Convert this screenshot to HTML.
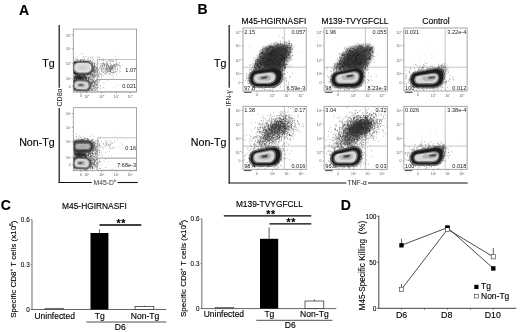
<!DOCTYPE html><html><head><meta charset="utf-8"><title>Figure</title>
<style>html,body{margin:0;padding:0;background:#fff;}svg{display:block;font-family:'Liberation Sans', Arial, sans-serif;}</style></head><body>
<svg width="520" height="332" viewBox="0 0 520 332">
<defs><filter id="b1" x="-20%" y="-20%" width="140%" height="140%"><feGaussianBlur stdDeviation="1"/></filter><filter id="b05" x="-20%" y="-20%" width="140%" height="140%"><feGaussianBlur stdDeviation="0.5"/></filter><filter id="b2" x="-30%" y="-30%" width="160%" height="160%"><feGaussianBlur stdDeviation="1.4"/></filter><filter id="b3" x="-30%" y="-30%" width="160%" height="160%"><feGaussianBlur stdDeviation="2.2"/></filter><filter id="b03"><feGaussianBlur stdDeviation="0.3"/></filter></defs>
<rect width="520" height="332" fill="#fff"/>
<text x="19" y="14.6" font-size="14" text-anchor="start" font-weight="bold" fill="#000" stroke="#000" stroke-width="0.13" >A</text>
<text x="197.5" y="14.4" font-size="14" text-anchor="start" font-weight="bold" fill="#000" stroke="#000" stroke-width="0.13" >B</text>
<text x="0.8" y="209.6" font-size="14" text-anchor="start" font-weight="bold" fill="#000" stroke="#000" stroke-width="0.13" >C</text>
<text x="340.8" y="210.2" font-size="14" text-anchor="start" font-weight="bold" fill="#000" stroke="#000" stroke-width="0.13" >D</text>
<rect x="73.3" y="29.1" width="63.3" height="63" fill="#fff" stroke="#909090" stroke-width="0.8"/>
<path d="M82.6 70.2h0.6M82.8 66.8h0.6M78.0 67.2h0.6M91.9 69.9h0.6M91.4 69.1h0.6M87.0 68.9h0.6M87.8 70.2h0.6M78.3 66.1h0.6M86.4 67.9h0.6M87.9 65.4h0.6M86.4 69.8h0.6M79.9 75.3h0.6M88.1 73.1h0.6M80.1 65.0h0.6M82.0 67.7h0.6M88.6 69.1h0.6M81.3 64.1h0.6M80.8 73.2h0.6M78.9 69.1h0.6M87.3 61.8h0.6M84.7 73.6h0.6M83.6 64.7h0.6M87.7 67.8h0.6M74.4 71.6h0.6M88.9 72.1h0.6M94.1 69.6h0.6M85.2 62.6h0.6M88.5 65.5h0.6M81.3 62.8h0.6M77.8 65.9h0.6M93.1 59.6h0.6M74.4 69.1h0.6M94.2 70.5h0.6M86.8 65.0h0.6M76.7 72.2h0.6M91.8 68.8h0.6M86.0 69.9h0.6M95.2 70.7h0.6M87.9 70.4h0.6M90.8 70.3h0.6M90.1 60.5h0.6M83.1 72.4h0.6M75.4 74.9h0.6M88.1 67.5h0.6M86.6 70.8h0.6M85.2 72.9h0.6M79.9 66.4h0.6M91.4 68.2h0.6M78.4 72.1h0.6M94.3 66.2h0.6M75.0 67.5h0.6M83.3 66.8h0.6M93.9 63.8h0.6M92.9 62.8h0.6M79.0 70.8h0.6M92.0 71.7h0.6M86.7 68.7h0.6M85.4 70.5h0.6M83.2 69.3h0.6M88.2 68.1h0.6M89.5 70.5h0.6M98.0 69.5h0.6M81.4 66.5h0.6M84.3 72.0h0.6M82.1 69.7h0.6M96.8 57.3h0.6M76.7 69.1h0.6M87.1 69.1h0.6M81.4 70.9h0.6M86.3 65.9h0.6M100.9 69.6h0.6M80.6 67.7h0.6M82.8 67.8h0.6M91.2 63.2h0.6M83.9 72.1h0.6M90.2 74.4h0.6M82.0 70.7h0.6M91.8 56.8h0.6M91.8 62.0h0.6M89.0 61.8h0.6M85.5 73.1h0.6M83.3 68.9h0.6M89.8 68.7h0.6M83.7 74.5h0.6M91.5 66.9h0.6M103.0 63.3h0.6M90.6 67.0h0.6M85.3 71.1h0.6M85.9 70.8h0.6M74.0 61.8h0.6M88.5 64.1h0.6M77.4 61.9h0.6M93.0 71.2h0.6M94.4 64.2h0.6M84.4 63.3h0.6M89.6 74.8h0.6M78.3 74.7h0.6M91.1 67.4h0.6M83.7 65.6h0.6M87.1 69.8h0.6M94.5 63.8h0.6M92.1 74.3h0.6M94.2 67.3h0.6M79.3 72.4h0.6M85.1 68.6h0.6M94.0 67.0h0.6M86.5 65.5h0.6M84.3 71.6h0.6M84.9 73.7h0.6M83.9 72.5h0.6M94.5 74.9h0.6M79.8 71.8h0.6M76.0 68.0h0.6M83.0 68.0h0.6M80.3 69.1h0.6M96.5 68.3h0.6M88.0 72.3h0.6M83.0 62.8h0.6M80.6 72.6h0.6M91.2 71.4h0.6M84.4 71.5h0.6M85.5 63.1h0.6M90.6 65.7h0.6M78.2 64.9h0.6M73.9 67.6h0.6M76.3 69.6h0.6M80.0 59.9h0.6M89.3 66.9h0.6M86.3 66.2h0.6M89.7 71.2h0.6M88.9 69.5h0.6M93.4 70.9h0.6M87.4 59.3h0.6M90.4 73.6h0.6M82.3 66.1h0.6M97.5 60.7h0.6M87.5 78.3h0.6M78.0 71.0h0.6M97.2 67.6h0.6M88.2 71.9h0.6M78.2 67.7h0.6M86.3 71.6h0.6M84.1 67.3h0.6M77.4 66.6h0.6M90.4 68.5h0.6M78.5 64.6h0.6M102.5 72.9h0.6M88.7 57.2h0.6M88.6 70.1h0.6M95.8 69.9h0.6M83.9 70.3h0.6M86.6 65.2h0.6M93.4 75.7h0.6M74.8 65.3h0.6M86.3 68.9h0.6M81.6 64.0h0.6M98.8 72.5h0.6M76.2 62.5h0.6M95.9 72.3h0.6M96.7 71.5h0.6M78.4 69.2h0.6M83.9 70.3h0.6M79.4 67.6h0.6M87.5 69.7h0.6M88.7 69.0h0.6M82.1 71.4h0.6M84.7 64.6h0.6M80.1 68.1h0.6M83.6 68.8h0.6M84.3 68.8h0.6M83.4 62.8h0.6M87.2 72.5h0.6M87.3 67.3h0.6M87.4 64.0h0.6M78.0 71.2h0.6M77.0 57.1h0.6M77.3 74.7h0.6M81.8 62.3h0.6M79.2 70.3h0.6M87.7 68.8h0.6M94.4 71.1h0.6M84.2 70.6h0.6M95.6 72.2h0.6M91.3 63.6h0.6M83.3 71.2h0.6M82.3 72.6h0.6M88.4 71.9h0.6M82.9 78.8h0.6M92.8 67.2h0.6M85.0 79.0h0.6M82.0 71.8h0.6M91.0 68.1h0.6M76.4 68.9h0.6M86.8 72.8h0.6M89.7 68.2h0.6M90.2 70.4h0.6M85.8 68.3h0.6M82.7 71.0h0.6M77.2 65.5h0.6M84.4 62.0h0.6M81.4 59.7h0.6M79.7 70.5h0.6M88.2 67.9h0.6M82.8 62.1h0.6M96.8 70.3h0.6M91.8 64.4h0.6M83.1 60.5h0.6M89.7 72.0h0.6M88.6 60.7h0.6M80.1 62.2h0.6M84.6 69.1h0.6M88.7 71.0h0.6M94.6 73.0h0.6M75.4 66.0h0.6M77.1 63.6h0.6M83.8 68.1h0.6M87.7 61.4h0.6M75.9 68.0h0.6M83.0 66.8h0.6M83.9 64.9h0.6M89.1 69.6h0.6M83.8 65.3h0.6M83.2 56.7h0.6M77.7 68.3h0.6M74.1 68.9h0.6M85.4 62.3h0.6M82.6 66.8h0.6M87.5 70.7h0.6M84.1 64.5h0.6M83.4 67.8h0.6M89.3 69.3h0.6M79.4 62.4h0.6M81.8 65.0h0.6M76.8 67.6h0.6M81.0 68.5h0.6M87.9 66.4h0.6M100.2 66.7h0.6M91.8 68.6h0.6M91.9 58.1h0.6M79.2 69.1h0.6M88.4 77.9h0.6M86.5 73.5h0.6M89.6 72.1h0.6M87.8 67.4h0.6M87.8 63.6h0.6M92.4 63.8h0.6M86.0 77.0h0.6M82.8 68.2h0.6M92.3 68.2h0.6M78.9 69.2h0.6M88.3 71.1h0.6M79.1 75.5h0.6M95.7 68.2h0.6M86.2 66.3h0.6M94.0 65.1h0.6M88.9 66.1h0.6M79.6 71.1h0.6M93.4 68.1h0.6M79.7 71.5h0.6M84.0 69.4h0.6M94.7 72.9h0.6M80.8 77.7h0.6M84.4 71.4h0.6M79.9 67.9h0.6M93.6 63.0h0.6M74.1 61.3h0.6M92.3 66.2h0.6M83.9 66.8h0.6M83.5 63.5h0.6M84.5 62.1h0.6M83.9 69.4h0.6M87.5 67.1h0.6M78.2 68.8h0.6M81.1 74.7h0.6M89.6 67.6h0.6M81.1 65.1h0.6M78.0 66.6h0.6M86.4 70.3h0.6M88.2 76.9h0.6M79.6 68.2h0.6M103.4 60.3h0.6M80.8 68.8h0.6M85.4 69.8h0.6M82.7 69.6h0.6M84.7 71.3h0.6M84.3 63.8h0.6M77.2 70.7h0.6M79.9 70.8h0.6M89.4 69.4h0.6M87.8 67.7h0.6M74.8 68.0h0.6M87.4 65.9h0.6M83.7 71.2h0.6M78.4 70.8h0.6M97.0 65.8h0.6M85.3 67.5h0.6M94.8 69.4h0.6M90.5 65.2h0.6M84.2 68.1h0.6M90.5 60.8h0.6M89.4 67.5h0.6M87.4 69.6h0.6M74.2 67.2h0.6M94.5 65.7h0.6M77.4 62.4h0.6M76.0 69.5h0.6M95.9 69.9h0.6M86.0 77.5h0.6M80.8 65.3h0.6M87.9 70.4h0.6M77.4 63.2h0.6M86.3 69.1h0.6M75.5 67.3h0.6M80.7 70.0h0.6M83.6 67.7h0.6M81.9 72.5h0.6M93.8 66.6h0.6M90.1 64.9h0.6M84.8 71.2h0.6M94.6 66.5h0.6M83.8 68.9h0.6M74.2 68.2h0.6M79.8 69.7h0.6M76.7 59.8h0.6M84.6 69.2h0.6M80.6 71.8h0.6M82.5 65.6h0.6M87.6 61.5h0.6M79.7 68.0h0.6M90.1 67.4h0.6M86.4 65.3h0.6M86.4 75.1h0.6M79.7 78.0h0.6M80.0 68.2h0.6M85.5 72.4h0.6M75.9 59.3h0.6M88.5 71.4h0.6M88.6 79.1h0.6M85.7 69.2h0.6M90.7 69.6h0.6M95.7 62.9h0.6M81.8 53.6h0.6M89.9 66.5h0.6M90.6 77.1h0.6M84.3 67.0h0.6M81.0 64.6h0.6M80.1 70.8h0.6M84.6 68.4h0.6M83.2 71.9h0.6M87.7 67.5h0.6M88.9 67.5h0.6M76.5 74.2h0.6M87.5 64.1h0.6M91.7 69.5h0.6M86.6 71.8h0.6M85.7 67.5h0.6M73.8 72.2h0.6M84.6 66.9h0.6M86.7 68.4h0.6M88.9 66.5h0.6M84.1 59.1h0.6M81.5 70.9h0.6M93.4 66.6h0.6M83.5 74.8h0.6M82.1 71.2h0.6M95.8 68.3h0.6M92.7 65.1h0.6M85.8 67.8h0.6M85.1 72.8h0.6M100.6 65.3h0.6M80.4 70.2h0.6M77.2 70.2h0.6M88.2 66.9h0.6M88.0 61.6h0.6M89.5 61.6h0.6M79.6 65.8h0.6M81.6 71.7h0.6M84.9 66.4h0.6M88.0 74.7h0.6M84.4 69.6h0.6M92.8 69.2h0.6M75.6 78.6h0.6M99.4 59.8h0.6M84.1 69.9h0.6M90.9 70.9h0.6M82.5 63.7h0.6M85.1 72.4h0.6M76.9 63.8h0.6M84.2 60.0h0.6M82.6 66.3h0.6M87.4 65.2h0.6M78.4 66.4h0.6M84.0 65.3h0.6M84.4 71.3h0.6M92.4 75.3h0.6M79.0 66.3h0.6M79.4 68.0h0.6M87.9 62.4h0.6M87.5 68.0h0.6M92.5 60.3h0.6M89.8 69.0h0.6M87.6 70.0h0.6M93.2 67.2h0.6M90.3 66.4h0.6M89.3 64.7h0.6M83.6 75.4h0.6M87.4 67.4h0.6M76.6 64.8h0.6M85.7 72.0h0.6M87.2 70.3h0.6M84.1 73.8h0.6M81.7 65.8h0.6M90.4 68.4h0.6M82.5 65.7h0.6M82.6 70.7h0.6M86.8 63.0h0.6M87.2 68.9h0.6M77.5 71.3h0.6M82.4 66.7h0.6M89.8 73.6h0.6M79.7 69.9h0.6M78.4 77.8h0.6M81.0 73.1h0.6M79.9 71.5h0.6M99.4 57.4h0.6M81.4 70.2h0.6M83.7 65.3h0.6M99.0 68.4h0.6M80.4 68.7h0.6M92.9 68.6h0.6M74.9 61.0h0.6M92.4 71.2h0.6M78.8 71.7h0.6M87.7 70.8h0.6M90.5 71.2h0.6M90.3 57.8h0.6M85.5 70.2h0.6M101.7 64.1h0.6M82.1 68.3h0.6M90.4 66.2h0.6M92.2 64.8h0.6M86.2 65.9h0.6M85.4 65.2h0.6M86.4 65.8h0.6M85.7 72.3h0.6M77.7 67.6h0.6M88.0 70.3h0.6M82.1 59.3h0.6M92.8 69.5h0.6M84.4 66.9h0.6M86.1 66.3h0.6M77.4 65.0h0.6M80.3 65.5h0.6M76.5 70.8h0.6M75.4 70.9h0.6M77.5 69.6h0.6M93.7 69.0h0.6M79.4 68.3h0.6M85.4 60.8h0.6M80.2 68.8h0.6M81.2 68.4h0.6M89.3 71.3h0.6M90.5 70.6h0.6M82.4 68.0h0.6M82.5 66.8h0.6M83.1 60.9h0.6M82.1 68.0h0.6M77.7 68.0h0.6M87.9 67.4h0.6M98.5 57.2h0.6M82.9 60.4h0.6M91.0 79.2h0.6M87.9 66.8h0.6M88.1 58.7h0.6M90.1 69.7h0.6M84.5 65.6h0.6M88.7 66.1h0.6M85.9 66.0h0.6M85.7 71.3h0.6M78.4 68.0h0.6M88.5 68.7h0.6M92.8 76.5h0.6M78.2 60.0h0.6M90.2 74.5h0.6M90.6 71.5h0.6M80.1 65.1h0.6M90.4 64.3h0.6M101.3 76.2h0.6M79.7 65.0h0.6M85.9 65.0h0.6M93.3 67.8h0.6M77.0 73.6h0.6M80.4 69.0h0.6M84.3 66.8h0.6M86.6 65.2h0.6M75.7 64.9h0.6M84.2 68.3h0.6M88.1 68.6h0.6M79.0 65.1h0.6M87.6 70.3h0.6M83.5 67.4h0.6M90.7 68.2h0.6M89.4 70.5h0.6M85.8 73.6h0.6M80.5 66.6h0.6M78.9 64.8h0.6M94.9 75.5h0.6M84.5 70.5h0.6M92.3 71.5h0.6M92.5 62.8h0.6M80.0 70.0h0.6M94.1 68.5h0.6M78.5 66.6h0.6M79.9 64.5h0.6M94.6 65.5h0.6M84.5 77.2h0.6M92.4 69.5h0.6M80.2 69.8h0.6M95.4 70.7h0.6M92.9 68.5h0.6M87.9 67.3h0.6M87.3 73.6h0.6M74.6 67.8h0.6M86.0 65.7h0.6M82.3 71.4h0.6M98.0 70.7h0.6M86.6 61.6h0.6M97.5 68.4h0.6M84.1 63.4h0.6M84.0 63.5h0.6M84.8 70.1h0.6M84.6 69.3h0.6M78.6 74.1h0.6M79.9 60.5h0.6M83.1 64.9h0.6M77.5 66.6h0.6M86.3 63.1h0.6M83.4 74.1h0.6M89.0 67.5h0.6M85.2 67.6h0.6M84.0 71.2h0.6M83.7 58.0h0.6M84.2 64.4h0.6M88.8 65.5h0.6M85.4 77.2h0.6M77.2 63.4h0.6M74.8 58.0h0.6M80.0 60.3h0.6M74.3 70.7h0.6M79.1 66.6h0.6M86.6 73.8h0.6M97.5 72.4h0.6M85.3 68.9h0.6M96.6 74.1h0.6M82.2 70.0h0.6M86.3 68.3h0.6M80.9 62.5h0.6M80.7 61.6h0.6M92.7 70.4h0.6M76.1 74.0h0.6M90.4 60.1h0.6M96.9 71.5h0.6M98.4 62.9h0.6M88.0 69.9h0.6M85.7 68.8h0.6M91.5 61.8h0.6M75.9 62.2h0.6M80.6 65.6h0.6M86.8 69.2h0.6M84.6 65.3h0.6M81.3 72.1h0.6M89.5 68.5h0.6M82.2 74.6h0.6M80.3 70.8h0.6M92.2 67.0h0.6M90.0 63.4h0.6M91.2 68.9h0.6M78.3 73.5h0.6M79.7 67.4h0.6M86.3 66.7h0.6M86.1 65.8h0.6M88.9 68.1h0.6M85.8 56.5h0.6M92.2 68.2h0.6M87.5 72.6h0.6M77.0 74.6h0.6M83.3 78.2h0.6M83.4 71.0h0.6M81.9 63.4h0.6M91.8 71.9h0.6M94.8 71.7h0.6M80.5 61.1h0.6M79.9 65.3h0.6M78.8 70.5h0.6M86.6 67.0h0.6M85.5 67.5h0.6M85.8 71.3h0.6M90.9 65.2h0.6M74.1 74.1h0.6M85.1 72.7h0.6M84.5 62.0h0.6M80.8 71.1h0.6M91.7 74.8h0.6M78.5 62.2h0.6M87.9 72.0h0.6M85.7 62.6h0.6M89.7 71.4h0.6M88.1 66.1h0.6M86.4 71.4h0.6M80.6 60.4h0.6M86.6 70.1h0.6M84.4 71.8h0.6M80.4 67.8h0.6M82.3 70.5h0.6M95.2 67.0h0.6M98.3 74.5h0.6M89.7 70.6h0.6M96.4 67.3h0.6M83.6 63.6h0.6M87.6 73.7h0.6M88.0 69.9h0.6M83.0 68.8h0.6M74.7 72.5h0.6M81.6 63.5h0.6M79.2 64.6h0.6M90.2 72.5h0.6M75.1 72.0h0.6M90.4 65.7h0.6M74.2 65.0h0.6M80.0 69.5h0.6M81.9 59.6h0.6M85.9 61.7h0.6M90.5 63.0h0.6M79.6 64.5h0.6M80.7 73.6h0.6M90.1 70.6h0.6M86.5 61.6h0.6M80.8 65.8h0.6M77.7 70.2h0.6M79.3 65.1h0.6M77.2 59.5h0.6M88.4 73.7h0.6M85.5 64.0h0.6M92.6 69.3h0.6M90.7 74.3h0.6M92.0 66.2h0.6M91.5 71.4h0.6M73.9 66.4h0.6M74.7 67.6h0.6M88.3 63.6h0.6M86.9 74.3h0.6M75.3 72.6h0.6M98.5 76.5h0.6M82.9 69.2h0.6M83.3 72.3h0.6M91.4 68.5h0.6M75.1 71.2h0.6" stroke="#333" stroke-width="0.6" fill="none" opacity="1.0"/>
<path d="M80.0 87.6h0.6M84.9 91.3h0.6M90.9 83.6h0.6M79.5 86.9h0.6M91.2 90.0h0.6M86.7 80.4h0.6M74.6 86.2h0.6M77.3 89.5h0.6M88.4 79.1h0.6M77.6 85.9h0.6M79.8 84.7h0.6M86.3 82.3h0.6M86.3 82.9h0.6M79.4 87.3h0.6M79.3 86.4h0.6M94.0 85.4h0.6M82.2 88.0h0.6M80.7 89.3h0.6M74.4 87.6h0.6M79.7 82.3h0.6M95.2 82.2h0.6M95.1 87.7h0.6M93.0 81.7h0.6M91.3 90.7h0.6M82.4 84.8h0.6M99.9 86.0h0.6M80.3 83.0h0.6M86.2 86.5h0.6M80.9 87.1h0.6M93.1 81.6h0.6M73.9 81.2h0.6M76.1 78.5h0.6M86.2 78.4h0.6M86.5 90.7h0.6M78.1 84.3h0.6M83.5 87.3h0.6M80.8 85.4h0.6M79.4 85.7h0.6M75.2 85.5h0.6M96.2 85.6h0.6M74.6 86.3h0.6M76.5 79.2h0.6M78.1 88.0h0.6M85.8 84.9h0.6M76.8 81.3h0.6M92.3 86.2h0.6M76.7 77.5h0.6M75.3 85.0h0.6M84.6 84.7h0.6M81.3 80.2h0.6M76.0 91.5h0.6M78.0 88.4h0.6M84.9 89.1h0.6M75.5 87.5h0.6M85.8 82.6h0.6M86.4 82.0h0.6M77.7 85.2h0.6M76.3 79.9h0.6M80.3 88.1h0.6M80.4 90.0h0.6M75.3 80.4h0.6M93.7 86.8h0.6M89.6 82.2h0.6M88.6 86.3h0.6M87.6 85.4h0.6M91.4 82.9h0.6M76.6 79.8h0.6M91.0 82.6h0.6M76.1 81.8h0.6M80.1 80.6h0.6M81.2 83.0h0.6M79.4 81.7h0.6M83.4 83.6h0.6M83.9 86.2h0.6M85.5 77.2h0.6M79.5 82.4h0.6M88.4 79.5h0.6M78.3 84.2h0.6M80.9 89.0h0.6M80.1 88.9h0.6M91.4 86.9h0.6M86.5 85.8h0.6M86.4 80.8h0.6M89.6 83.3h0.6M89.9 85.6h0.6M90.8 84.8h0.6M80.5 86.2h0.6M80.3 83.3h0.6M83.8 85.8h0.6M93.5 85.5h0.6M94.8 89.2h0.6M84.0 85.8h0.6M82.2 82.6h0.6M82.7 82.9h0.6M94.3 87.3h0.6M80.1 78.2h0.6M82.8 83.8h0.6M75.8 81.1h0.6M82.9 84.8h0.6M93.0 85.8h0.6M84.3 83.9h0.6M79.0 90.8h0.6M80.8 85.4h0.6M77.2 88.9h0.6M90.6 90.5h0.6M76.8 89.3h0.6M78.3 82.5h0.6M74.2 89.6h0.6M94.4 83.1h0.6M78.0 84.0h0.6M100.2 89.0h0.6M79.5 78.7h0.6M78.6 89.7h0.6M95.9 84.3h0.6M78.4 83.4h0.6M75.8 89.2h0.6M85.1 82.5h0.6M88.5 85.3h0.6M75.2 87.6h0.6M88.9 78.2h0.6M95.6 87.1h0.6M88.3 78.4h0.6M78.3 84.0h0.6M90.5 79.9h0.6M77.1 77.8h0.6M81.5 86.6h0.6M86.6 91.2h0.6M87.7 84.2h0.6M75.1 81.8h0.6M78.6 85.8h0.6M82.8 91.5h0.6M85.1 81.3h0.6M93.7 88.8h0.6M83.8 82.6h0.6M89.3 82.3h0.6M74.2 86.0h0.6M84.8 87.5h0.6M87.6 90.5h0.6M77.4 88.9h0.6M76.4 87.9h0.6M84.4 86.2h0.6M89.7 85.2h0.6M90.7 88.5h0.6M84.1 83.2h0.6M78.0 83.3h0.6M81.8 85.2h0.6M103.4 87.7h0.6M88.4 82.1h0.6M78.3 84.1h0.6M84.5 81.5h0.6M94.1 83.2h0.6M90.5 76.7h0.6M83.1 86.3h0.6M84.5 87.5h0.6M85.1 85.9h0.6M85.2 84.6h0.6M77.6 83.1h0.6M82.8 90.1h0.6M79.9 82.1h0.6M79.3 86.0h0.6M103.7 82.9h0.6M83.5 86.3h0.6M82.9 88.7h0.6M95.2 80.7h0.6M84.2 84.3h0.6M85.6 79.6h0.6M86.7 86.0h0.6M83.7 76.5h0.6M80.6 82.5h0.6M87.9 87.3h0.6M83.0 87.2h0.6M79.0 85.6h0.6M83.4 87.4h0.6M82.7 84.8h0.6M82.2 82.9h0.6M98.3 87.2h0.6M92.7 79.5h0.6M87.9 88.4h0.6M96.0 90.2h0.6M88.4 80.9h0.6M77.2 86.3h0.6M86.6 81.5h0.6M80.5 83.8h0.6M83.6 86.5h0.6M81.2 80.7h0.6M91.6 91.2h0.6M82.4 89.1h0.6M86.2 87.7h0.6M86.4 82.5h0.6M87.1 89.0h0.6M96.7 88.0h0.6M80.8 83.1h0.6M77.6 85.7h0.6M82.9 87.8h0.6M98.6 85.2h0.6M87.7 87.1h0.6M85.0 84.5h0.6M82.3 82.2h0.6M84.4 85.2h0.6M85.3 82.1h0.6M83.4 85.5h0.6M87.3 81.4h0.6M86.0 88.9h0.6M87.2 83.9h0.6M79.8 84.4h0.6M88.1 91.0h0.6M82.1 82.9h0.6M85.7 86.1h0.6M77.0 82.6h0.6M82.5 87.8h0.6M75.0 81.5h0.6M86.5 80.8h0.6M83.9 86.6h0.6M82.4 81.5h0.6M82.7 84.1h0.6M85.4 82.2h0.6M90.6 79.1h0.6M82.0 85.3h0.6M89.7 83.0h0.6M86.9 83.2h0.6M80.4 86.9h0.6M76.8 88.9h0.6M91.4 85.4h0.6M75.4 86.8h0.6M91.0 89.3h0.6M88.7 78.5h0.6M78.5 90.6h0.6M74.8 89.5h0.6M96.0 88.1h0.6M90.8 84.1h0.6M74.8 84.9h0.6M81.8 85.1h0.6M87.9 84.8h0.6M84.5 86.9h0.6M86.2 85.6h0.6M81.7 83.0h0.6M92.3 85.9h0.6M75.8 83.2h0.6M82.2 83.7h0.6M90.5 81.0h0.6M86.5 85.8h0.6M75.1 85.5h0.6M82.5 87.2h0.6M80.1 86.4h0.6M88.5 89.2h0.6M83.1 83.1h0.6M90.5 77.6h0.6M77.7 87.8h0.6M87.6 81.5h0.6M84.2 82.0h0.6M83.5 88.6h0.6M88.2 77.6h0.6M88.4 78.7h0.6M90.9 86.8h0.6M98.5 83.0h0.6M83.2 89.2h0.6M78.8 82.7h0.6M80.6 85.0h0.6M75.8 87.1h0.6M86.8 85.6h0.6M94.7 84.1h0.6M92.0 83.3h0.6M88.3 78.1h0.6M84.5 84.7h0.6M79.8 83.0h0.6M80.8 82.6h0.6M79.4 83.4h0.6M76.0 84.8h0.6M88.5 84.4h0.6M79.8 90.3h0.6M89.8 88.7h0.6M91.0 84.1h0.6M82.3 89.4h0.6M79.4 84.9h0.6M85.7 86.7h0.6M81.3 88.9h0.6M81.9 88.0h0.6M90.4 87.7h0.6M88.1 81.0h0.6M74.2 83.0h0.6M86.4 90.9h0.6M74.8 86.4h0.6M77.3 82.6h0.6M81.3 87.9h0.6M84.6 89.7h0.6M76.4 88.6h0.6M89.5 85.6h0.6M86.4 83.2h0.6M75.7 83.8h0.6M79.9 91.4h0.6M84.5 86.5h0.6M88.2 82.4h0.6M89.4 86.7h0.6M86.9 87.0h0.6M93.9 83.8h0.6M86.6 88.1h0.6M77.0 89.7h0.6M86.7 81.3h0.6M82.4 79.2h0.6M83.6 81.1h0.6M85.5 79.6h0.6M86.2 84.3h0.6M83.6 85.1h0.6M84.0 80.4h0.6M76.8 83.6h0.6M86.1 78.0h0.6M78.0 83.0h0.6M76.0 86.5h0.6M82.2 82.3h0.6M76.5 88.3h0.6M78.7 87.5h0.6M86.2 78.3h0.6M75.8 85.3h0.6M85.5 88.2h0.6M88.6 89.1h0.6M80.6 84.5h0.6M88.4 83.7h0.6M90.3 79.4h0.6M87.6 84.7h0.6M85.3 85.4h0.6M75.8 83.6h0.6M93.4 82.2h0.6M75.0 84.8h0.6M80.5 81.9h0.6M77.4 89.2h0.6M79.5 81.3h0.6M88.5 87.4h0.6M76.1 88.1h0.6M90.8 84.4h0.6M74.3 87.2h0.6M89.4 85.2h0.6M86.0 88.1h0.6M95.8 84.4h0.6M79.9 85.2h0.6M91.4 81.8h0.6M92.0 75.1h0.6M88.6 82.8h0.6M86.3 87.8h0.6M75.1 85.0h0.6M84.8 87.5h0.6M76.8 81.6h0.6M81.8 84.5h0.6M79.5 90.6h0.6M88.9 85.4h0.6M88.1 81.2h0.6M80.9 83.2h0.6M74.5 85.4h0.6M82.2 90.6h0.6M76.9 83.6h0.6M86.0 86.8h0.6M83.3 83.5h0.6M86.5 86.6h0.6M73.8 80.9h0.6M84.1 85.5h0.6M83.9 82.1h0.6M81.8 81.9h0.6M85.7 87.8h0.6M95.1 90.0h0.6M77.7 83.6h0.6M76.8 86.4h0.6M96.6 87.9h0.6M74.4 87.2h0.6M83.2 86.4h0.6M95.3 82.2h0.6M85.5 82.4h0.6M83.5 89.0h0.6M82.2 82.7h0.6M83.3 87.6h0.6M80.4 87.1h0.6M88.7 84.8h0.6M80.0 84.6h0.6M76.6 84.5h0.6M81.1 86.1h0.6M92.2 90.1h0.6M80.1 87.5h0.6M85.2 88.1h0.6M83.3 86.3h0.6M80.0 82.4h0.6M89.1 90.1h0.6M87.7 86.9h0.6M85.0 83.6h0.6M84.5 83.2h0.6M76.6 90.0h0.6M78.3 85.2h0.6M79.7 85.9h0.6M81.7 82.5h0.6M90.5 82.4h0.6M79.7 87.4h0.6M79.5 83.7h0.6M85.6 83.9h0.6M74.7 84.9h0.6M75.7 88.9h0.6M77.8 84.0h0.6M80.9 86.3h0.6M78.8 90.2h0.6M89.9 88.3h0.6M78.0 88.6h0.6M82.4 86.6h0.6M81.3 87.8h0.6M90.7 89.5h0.6M81.8 89.0h0.6M93.0 81.8h0.6M93.2 80.4h0.6M86.8 87.5h0.6M93.2 86.3h0.6M79.9 82.4h0.6M74.6 88.1h0.6M81.5 82.6h0.6M86.8 82.5h0.6M80.2 83.6h0.6M94.4 90.7h0.6M82.1 79.5h0.6M85.0 85.6h0.6M85.5 87.4h0.6M81.0 88.7h0.6M88.8 86.1h0.6M80.4 83.5h0.6M87.9 81.2h0.6M82.1 82.5h0.6M83.0 85.4h0.6M89.1 79.8h0.6M82.7 86.4h0.6M88.8 81.3h0.6M88.0 86.1h0.6M92.4 89.5h0.6M83.1 83.7h0.6M80.8 81.8h0.6M83.0 78.3h0.6M82.6 86.9h0.6M89.9 84.0h0.6M92.6 82.9h0.6M82.2 78.4h0.6M78.0 82.4h0.6M93.1 87.2h0.6M75.8 87.2h0.6M86.3 84.5h0.6M83.3 84.2h0.6M79.5 78.9h0.6M82.5 89.9h0.6M92.7 84.3h0.6M78.2 84.5h0.6M89.1 86.6h0.6M79.3 86.6h0.6M81.8 87.2h0.6M80.4 80.0h0.6M83.5 88.0h0.6M75.8 84.9h0.6M89.0 83.9h0.6M88.6 89.0h0.6M76.9 91.2h0.6M88.0 90.1h0.6M77.0 82.9h0.6M84.5 78.4h0.6M87.4 87.3h0.6M80.2 87.2h0.6M88.3 86.4h0.6M86.6 90.7h0.6M80.0 85.9h0.6M79.7 89.0h0.6M80.5 87.0h0.6M84.1 85.5h0.6M94.5 85.0h0.6M92.5 88.3h0.6M91.8 84.7h0.6M89.3 88.0h0.6M79.1 86.3h0.6M82.3 85.2h0.6M91.7 82.7h0.6M80.2 83.0h0.6M83.2 87.3h0.6M94.7 86.4h0.6M86.2 82.7h0.6M87.0 90.2h0.6M91.9 78.3h0.6M89.0 91.0h0.6M88.6 80.0h0.6M81.1 87.4h0.6M85.9 82.4h0.6M77.3 88.7h0.6M74.4 90.4h0.6M83.3 86.4h0.6M74.4 83.2h0.6M87.7 80.1h0.6M96.7 80.3h0.6" stroke="#333" stroke-width="0.6" fill="none" opacity="1.0"/>
<path d="M74.0 77.5h0.6M81.4 78.5h0.6M77.7 77.1h0.6M78.3 76.5h0.6M80.4 77.6h0.6M76.6 77.8h0.6M79.2 77.3h0.6M84.1 74.8h0.6M80.4 75.8h0.6M77.9 79.7h0.6M74.6 77.2h0.6M76.7 78.9h0.6M75.1 74.8h0.6M81.5 76.9h0.6M77.9 79.1h0.6M75.5 76.8h0.6M79.9 78.0h0.6M77.1 79.0h0.6M89.0 76.8h0.6M87.4 74.2h0.6M85.4 76.9h0.6M79.9 76.9h0.6M76.5 75.4h0.6M77.6 79.4h0.6M84.2 76.9h0.6M77.0 76.3h0.6M74.1 80.2h0.6M82.2 77.6h0.6M77.2 75.8h0.6M85.0 78.6h0.6M75.2 78.9h0.6M74.5 78.4h0.6M75.1 76.8h0.6M81.4 78.1h0.6M83.7 76.1h0.6M86.1 79.5h0.6M79.3 78.1h0.6M75.9 77.2h0.6M80.2 79.5h0.6M83.4 78.7h0.6M77.7 77.1h0.6M77.8 77.7h0.6M79.4 76.6h0.6M86.5 77.2h0.6M86.1 79.2h0.6M77.2 78.0h0.6M84.9 76.9h0.6M79.7 76.5h0.6M79.6 76.9h0.6M79.7 78.9h0.6M85.3 77.6h0.6M80.2 78.7h0.6M78.0 75.8h0.6M84.1 76.0h0.6M83.3 75.9h0.6M87.2 75.8h0.6M83.0 79.7h0.6M75.1 79.7h0.6M75.7 74.7h0.6M82.4 78.5h0.6M78.4 73.5h0.6M79.1 76.9h0.6M77.7 77.0h0.6M87.1 79.8h0.6M77.7 76.3h0.6M81.0 79.0h0.6M82.4 75.6h0.6M80.0 77.6h0.6M85.5 79.2h0.6M81.6 79.3h0.6M77.6 79.8h0.6M77.5 78.0h0.6M83.3 76.0h0.6M76.3 74.7h0.6M80.0 77.3h0.6M77.9 78.2h0.6M79.7 77.0h0.6M82.7 80.1h0.6M77.4 76.0h0.6M76.7 77.5h0.6M81.8 76.1h0.6M83.6 75.8h0.6M82.9 78.1h0.6M81.3 80.7h0.6M78.2 77.1h0.6M81.4 78.7h0.6M76.1 78.4h0.6M85.2 77.5h0.6M78.8 77.7h0.6M81.7 77.7h0.6M77.6 76.3h0.6M78.5 79.3h0.6M78.9 79.5h0.6M80.5 77.4h0.6M84.7 75.4h0.6M75.0 75.7h0.6M76.9 78.4h0.6M81.9 74.3h0.6M85.6 76.5h0.6M76.8 80.0h0.6M78.9 75.5h0.6M76.5 76.3h0.6M74.9 76.9h0.6M83.1 77.9h0.6M75.0 77.6h0.6M79.4 78.6h0.6M77.9 78.1h0.6M88.4 77.5h0.6M74.6 77.9h0.6M75.8 76.8h0.6M80.1 77.9h0.6M78.1 78.7h0.6M78.5 75.4h0.6M83.1 76.8h0.6M84.5 76.4h0.6M81.8 77.9h0.6M74.5 79.6h0.6M84.0 78.2h0.6M82.2 76.6h0.6M79.3 77.7h0.6M81.1 78.5h0.6M78.4 76.3h0.6M76.9 78.0h0.6M77.5 76.6h0.6M78.1 73.3h0.6M77.8 77.0h0.6M82.7 74.4h0.6M78.0 78.1h0.6M81.4 79.2h0.6M83.9 75.8h0.6M82.1 76.9h0.6M75.8 79.8h0.6M76.6 76.1h0.6M77.5 76.1h0.6M83.7 78.0h0.6M85.4 78.0h0.6M76.6 79.0h0.6M76.5 76.7h0.6M78.6 77.5h0.6M84.5 76.5h0.6M80.8 77.4h0.6M73.9 75.7h0.6M78.3 78.0h0.6M80.7 78.1h0.6M79.5 76.7h0.6M81.1 75.9h0.6M76.1 76.5h0.6M79.1 76.2h0.6M77.5 74.8h0.6M79.9 76.0h0.6M81.1 73.0h0.6M75.8 77.8h0.6M79.7 77.6h0.6M79.9 75.9h0.6M82.5 77.3h0.6M79.4 76.7h0.6M81.7 77.6h0.6M84.2 78.1h0.6M76.6 77.1h0.6M83.3 76.8h0.6M81.0 78.2h0.6M78.5 73.8h0.6M79.9 77.7h0.6M79.9 76.2h0.6M84.6 77.2h0.6M76.6 76.3h0.6M80.9 75.7h0.6M74.9 80.5h0.6M85.0 79.0h0.6M85.2 78.3h0.6M84.7 78.2h0.6M85.2 76.6h0.6M79.9 78.6h0.6M78.9 79.1h0.6M79.7 78.5h0.6M79.7 75.1h0.6M75.0 82.3h0.6M80.5 79.4h0.6M84.3 80.1h0.6M81.7 76.5h0.6M79.4 74.4h0.6M78.5 78.8h0.6M82.9 79.5h0.6M75.3 76.4h0.6M81.6 80.6h0.6M74.3 79.5h0.6M81.2 76.6h0.6M88.9 73.5h0.6M79.0 77.7h0.6M88.6 80.2h0.6M89.2 77.6h0.6M83.6 79.5h0.6M81.5 78.0h0.6M78.5 76.8h0.6M73.9 80.4h0.6M77.3 74.2h0.6M80.5 77.3h0.6M80.1 80.2h0.6M78.8 77.0h0.6M76.0 77.4h0.6M77.4 77.7h0.6M93.0 78.0h0.6M75.6 80.4h0.6M83.1 78.7h0.6M82.4 78.7h0.6M82.3 79.6h0.6M83.7 79.5h0.6M77.1 77.4h0.6M76.1 78.9h0.6M82.9 76.7h0.6M81.9 81.5h0.6M84.7 75.7h0.6M78.9 78.4h0.6M79.1 78.0h0.6M84.5 77.9h0.6M74.5 78.5h0.6M78.9 77.6h0.6M76.8 75.2h0.6M73.8 76.8h0.6M74.6 73.2h0.6M84.3 75.6h0.6M76.1 78.2h0.6M75.9 78.4h0.6M77.2 77.9h0.6M79.8 77.4h0.6M79.1 79.6h0.6M76.9 78.2h0.6M80.0 78.2h0.6M83.6 75.1h0.6M80.5 77.1h0.6M77.9 76.1h0.6M75.9 75.8h0.6M74.5 81.3h0.6M86.8 77.4h0.6M82.6 75.9h0.6M79.9 79.6h0.6M79.1 75.8h0.6M78.2 75.8h0.6M77.5 76.1h0.6M75.4 75.9h0.6M80.3 79.6h0.6M78.4 80.9h0.6M74.2 77.1h0.6M79.7 78.3h0.6M84.3 76.5h0.6M73.9 77.1h0.6M80.6 76.3h0.6M83.2 80.0h0.6M83.8 74.4h0.6M80.2 77.0h0.6M80.3 76.7h0.6M81.2 78.4h0.6M82.7 78.3h0.6M81.1 75.6h0.6M77.5 77.6h0.6M77.6 75.8h0.6M79.4 76.5h0.6M77.5 76.0h0.6M76.0 77.2h0.6M76.5 78.5h0.6M78.7 77.6h0.6M81.1 79.4h0.6M81.9 77.8h0.6M78.6 76.1h0.6M77.8 78.5h0.6M80.3 76.8h0.6M80.7 79.0h0.6M80.9 75.3h0.6M78.4 77.7h0.6M75.3 77.9h0.6M78.4 76.1h0.6M73.9 78.7h0.6M80.9 76.0h0.6M74.9 78.8h0.6M81.9 76.9h0.6M86.3 76.9h0.6M74.7 79.1h0.6M78.5 77.9h0.6M79.5 75.8h0.6M74.1 77.1h0.6M85.5 75.8h0.6M85.3 77.7h0.6M74.4 77.8h0.6M81.8 76.0h0.6M74.4 78.1h0.6M75.8 75.1h0.6M78.2 77.7h0.6M76.9 75.6h0.6M80.2 74.7h0.6M81.6 78.2h0.6M86.6 78.8h0.6M80.9 77.8h0.6M79.4 75.3h0.6M85.7 78.2h0.6M78.0 75.6h0.6M85.8 78.2h0.6M74.1 78.4h0.6M87.6 77.4h0.6M81.0 76.8h0.6M76.6 79.1h0.6M92.8 77.6h0.6M78.8 78.6h0.6M78.0 78.5h0.6M82.9 75.8h0.6M74.6 77.3h0.6M82.9 77.8h0.6M84.7 75.3h0.6M81.5 76.4h0.6M79.7 77.9h0.6M75.1 77.0h0.6M74.2 77.8h0.6M75.6 76.6h0.6M80.3 76.4h0.6M84.3 76.4h0.6M83.0 77.8h0.6M74.8 77.1h0.6" stroke="#222" stroke-width="0.6" fill="none" opacity="1.0"/>
<path d="M90.0 75.4h0.5M91.9 89.2h0.5M91.4 87.6h0.5M94.3 69.5h0.5M85.2 82.0h0.5M86.2 82.2h0.5M96.2 80.2h0.5M92.1 76.1h0.5M93.7 75.8h0.5M91.0 75.4h0.5M96.7 73.8h0.5M94.1 70.5h0.5M90.5 69.0h0.5M92.1 82.0h0.5M93.8 74.6h0.5M94.8 75.5h0.5M94.0 79.4h0.5M94.6 62.1h0.5M88.5 82.6h0.5M92.0 74.2h0.5M97.7 81.2h0.5M99.0 80.9h0.5M92.1 82.3h0.5M90.2 74.9h0.5M91.0 76.3h0.5M95.4 74.7h0.5M93.9 74.6h0.5M95.7 60.4h0.5M92.1 78.8h0.5M89.3 84.1h0.5M93.5 85.8h0.5M96.0 81.7h0.5M92.3 70.9h0.5M92.1 74.8h0.5M93.6 74.8h0.5M102.8 67.7h0.5M96.7 74.7h0.5M92.0 83.5h0.5M92.8 70.1h0.5M94.2 76.5h0.5M86.0 78.9h0.5M89.3 73.0h0.5M94.4 79.6h0.5M91.8 91.3h0.5M94.2 73.8h0.5M93.6 76.9h0.5M85.6 67.8h0.5M88.2 90.7h0.5M92.2 76.0h0.5M90.9 83.9h0.5M92.9 88.4h0.5M95.4 88.0h0.5M92.4 80.1h0.5M91.4 76.6h0.5M87.1 74.1h0.5M89.7 73.6h0.5M96.8 79.3h0.5M96.8 83.1h0.5M95.8 84.0h0.5M90.8 82.7h0.5M91.7 74.4h0.5M96.7 91.3h0.5M89.6 88.6h0.5M95.5 72.4h0.5M93.7 80.0h0.5M94.0 75.5h0.5M88.6 77.9h0.5M95.6 82.6h0.5M95.0 84.6h0.5M89.6 77.4h0.5M93.9 84.0h0.5M93.3 80.9h0.5M93.2 90.8h0.5M85.6 77.5h0.5M100.9 79.2h0.5M86.8 78.5h0.5M88.1 73.4h0.5M93.5 88.4h0.5M94.3 81.9h0.5M96.1 79.0h0.5M90.0 77.1h0.5M93.9 76.0h0.5M90.6 75.5h0.5M87.9 71.3h0.5M92.5 75.4h0.5M92.9 86.5h0.5M93.8 77.5h0.5M89.0 71.0h0.5M94.0 72.2h0.5M94.2 71.0h0.5M93.2 77.2h0.5M96.1 75.2h0.5M91.6 79.2h0.5M93.0 88.3h0.5M92.0 74.3h0.5M91.8 80.7h0.5M93.6 82.0h0.5M98.8 77.5h0.5M88.8 78.7h0.5M94.2 63.7h0.5M92.8 68.5h0.5M94.3 86.3h0.5M96.2 68.3h0.5M97.3 83.4h0.5M91.6 80.8h0.5M97.8 75.6h0.5M92.7 74.2h0.5M96.6 64.2h0.5M97.4 71.6h0.5M95.8 67.5h0.5M89.7 74.0h0.5M95.5 67.6h0.5M94.8 73.7h0.5M96.9 75.8h0.5M94.4 76.6h0.5M98.7 75.4h0.5M92.7 90.1h0.5M93.1 82.0h0.5M90.4 78.9h0.5M85.4 78.4h0.5M90.7 68.3h0.5M88.2 84.8h0.5M94.2 68.2h0.5M98.7 73.3h0.5M91.6 79.2h0.5M89.1 67.6h0.5M90.4 85.1h0.5M95.9 67.8h0.5M96.7 77.9h0.5M94.4 78.0h0.5M94.2 71.4h0.5M89.8 73.3h0.5M91.6 81.6h0.5M88.8 87.7h0.5M90.7 74.0h0.5M95.1 80.4h0.5M91.7 71.0h0.5M89.5 67.7h0.5M96.5 84.5h0.5M98.9 80.8h0.5M93.9 82.4h0.5M95.9 76.1h0.5M94.0 91.2h0.5M87.3 68.9h0.5M89.6 82.4h0.5M96.7 75.6h0.5M95.0 77.4h0.5M93.8 74.3h0.5M92.7 77.7h0.5M86.9 81.0h0.5M92.8 83.8h0.5M96.3 82.6h0.5M95.4 71.8h0.5M87.2 88.1h0.5M96.8 71.7h0.5M97.0 81.9h0.5M84.8 83.3h0.5M89.6 85.0h0.5M90.6 73.0h0.5M87.7 76.3h0.5M96.1 73.5h0.5M86.7 91.1h0.5M98.8 82.0h0.5M91.0 70.1h0.5M87.4 81.2h0.5M97.1 71.1h0.5M92.8 76.0h0.5M92.0 80.8h0.5M99.7 73.7h0.5M95.6 84.5h0.5M91.9 76.8h0.5M88.4 84.5h0.5M91.1 73.6h0.5M93.0 72.3h0.5M89.4 75.8h0.5M97.7 76.4h0.5M94.5 68.5h0.5M86.4 89.1h0.5M91.5 68.1h0.5M92.5 81.5h0.5M87.1 72.2h0.5M93.7 71.9h0.5M95.4 83.7h0.5M94.3 75.0h0.5M92.6 73.7h0.5M92.4 79.7h0.5M91.8 83.8h0.5M101.3 74.3h0.5M93.9 82.9h0.5M94.9 76.2h0.5M91.2 84.0h0.5M94.9 80.9h0.5M90.2 81.7h0.5M95.4 76.5h0.5M94.9 91.3h0.5M86.6 81.5h0.5M89.0 69.1h0.5M92.0 81.1h0.5M93.0 70.4h0.5M88.1 74.2h0.5M92.8 72.5h0.5M87.9 88.7h0.5M90.0 76.7h0.5M91.0 74.0h0.5M92.9 75.8h0.5M94.8 70.3h0.5M87.9 90.0h0.5M92.6 82.5h0.5M96.7 81.2h0.5M92.9 67.9h0.5M87.5 83.9h0.5M95.0 81.3h0.5M87.3 64.3h0.5M89.3 70.3h0.5M93.3 71.3h0.5M98.0 73.8h0.5M90.9 83.1h0.5M93.9 72.0h0.5M95.5 89.8h0.5M88.8 76.1h0.5M89.2 65.5h0.5M94.9 82.1h0.5M96.0 80.4h0.5M86.2 77.5h0.5M90.6 70.3h0.5M89.1 82.5h0.5M91.8 90.1h0.5M94.4 65.7h0.5M95.8 85.6h0.5M92.9 70.0h0.5M98.6 69.4h0.5M92.5 65.7h0.5M88.7 67.0h0.5M96.4 85.2h0.5M91.5 69.1h0.5M92.6 80.1h0.5M87.8 70.4h0.5M92.5 82.2h0.5M93.0 80.5h0.5M88.7 61.9h0.5M93.8 71.9h0.5M92.4 75.3h0.5M94.4 72.8h0.5M97.6 77.9h0.5M94.6 81.7h0.5M96.2 80.3h0.5M87.0 73.7h0.5M99.0 80.7h0.5M94.7 80.7h0.5M90.7 73.4h0.5M90.7 85.1h0.5M94.0 89.0h0.5M94.5 89.7h0.5M94.3 70.2h0.5M98.6 79.8h0.5M96.8 79.1h0.5M91.7 78.8h0.5" stroke="#444" stroke-width="0.5" fill="none" opacity="1.0"/>
<path d="M102.0 65.3h0.6M103.8 67.3h0.6M101.8 69.3h0.6M112.1 74.4h0.6M118.2 65.3h0.6M113.1 66.0h0.6M110.8 67.3h0.6M106.1 68.9h0.6M101.6 71.3h0.6M106.4 64.6h0.6M107.4 70.3h0.6M105.7 70.4h0.6M113.1 72.5h0.6M103.1 68.9h0.6M112.7 72.4h0.6M110.8 70.1h0.6M100.7 67.8h0.6M117.1 64.7h0.6M119.3 62.6h0.6M106.0 62.8h0.6M112.3 68.0h0.6M119.4 65.8h0.6M106.3 63.4h0.6M109.2 71.3h0.6M113.7 71.1h0.6M113.2 66.6h0.6M112.1 67.7h0.6M103.4 75.6h0.6M109.8 63.8h0.6M111.0 68.4h0.6M115.2 71.6h0.6M93.6 73.8h0.6M115.9 62.6h0.6M99.4 71.3h0.6M110.8 68.7h0.6M102.6 67.8h0.6M110.5 70.2h0.6M120.4 66.0h0.6M103.6 60.5h0.6M114.2 66.0h0.6M107.4 64.6h0.6M111.0 60.7h0.6M109.5 68.2h0.6M111.5 72.0h0.6M108.4 68.4h0.6M111.9 61.4h0.6M107.3 68.5h0.6M113.1 63.9h0.6M113.3 68.2h0.6M99.8 64.8h0.6M101.5 70.3h0.6M110.5 70.1h0.6M112.6 64.9h0.6M115.1 69.3h0.6M111.7 68.9h0.6M102.4 70.9h0.6M102.4 65.1h0.6M107.1 68.8h0.6M108.2 66.8h0.6M103.8 69.9h0.6M103.7 64.0h0.6M110.6 72.8h0.6M105.8 64.8h0.6M117.5 72.0h0.6M107.1 67.6h0.6M112.5 77.9h0.6M110.4 71.2h0.6M109.5 61.0h0.6M102.0 65.1h0.6M111.1 67.7h0.6M117.9 64.6h0.6M110.5 67.8h0.6M111.6 75.8h0.6M111.6 72.6h0.6M115.0 64.1h0.6M112.0 65.7h0.6M109.5 68.3h0.6M108.5 66.2h0.6M116.7 64.9h0.6M114.0 72.8h0.6M113.0 70.6h0.6M117.0 69.8h0.6M116.5 60.6h0.6M119.0 65.4h0.6M99.1 68.0h0.6M101.5 69.7h0.6M100.1 66.4h0.6M110.5 68.1h0.6M104.4 68.1h0.6M108.3 68.3h0.6M108.6 67.1h0.6M112.0 61.1h0.6M106.3 69.0h0.6M106.2 66.5h0.6M106.7 69.2h0.6M115.1 65.6h0.6M107.7 69.5h0.6M105.8 61.5h0.6M109.9 66.2h0.6M106.4 70.9h0.6M108.5 65.9h0.6M95.9 64.8h0.6M108.8 67.5h0.6M111.3 68.1h0.6M105.2 64.1h0.6M103.0 68.9h0.6M103.5 72.1h0.6M100.3 63.4h0.6M106.2 62.0h0.6M116.4 62.3h0.6M108.3 67.1h0.6M102.9 62.8h0.6M99.8 73.4h0.6M116.1 74.1h0.6M101.6 71.8h0.6M109.5 70.9h0.6M106.8 71.1h0.6M114.0 68.8h0.6M116.2 65.4h0.6M116.3 63.4h0.6M115.1 56.1h0.6M108.2 65.1h0.6M109.7 71.5h0.6M112.6 67.3h0.6M116.4 60.5h0.6M105.9 74.3h0.6M108.7 60.2h0.6M109.5 63.3h0.6M117.5 69.9h0.6M107.1 73.1h0.6M105.3 72.2h0.6M111.7 66.7h0.6M101.1 68.8h0.6M96.3 69.0h0.6M100.2 74.6h0.6M101.6 60.7h0.6M112.2 68.4h0.6M108.0 76.0h0.6M112.9 67.1h0.6M102.8 58.5h0.6M112.2 70.6h0.6M104.4 63.8h0.6M107.1 62.1h0.6M109.5 70.6h0.6M116.9 66.8h0.6M110.5 70.3h0.6M115.8 64.9h0.6M101.7 66.8h0.6M101.4 66.5h0.6M108.5 69.3h0.6M109.7 67.9h0.6M107.3 69.9h0.6M114.1 69.4h0.6M116.4 64.9h0.6M109.0 74.1h0.6M110.2 69.1h0.6M107.9 71.7h0.6M105.8 64.9h0.6M108.1 66.4h0.6M112.8 65.5h0.6M109.3 67.0h0.6M110.0 65.2h0.6M113.3 61.5h0.6M106.2 65.9h0.6M112.2 67.2h0.6M111.0 66.1h0.6M104.0 65.0h0.6M106.6 66.5h0.6M110.6 68.8h0.6M113.8 66.2h0.6M103.9 65.2h0.6M109.4 69.1h0.6M119.2 65.9h0.6M119.7 72.1h0.6M104.4 73.5h0.6M115.9 71.1h0.6M109.6 71.2h0.6M106.2 68.3h0.6M110.5 74.1h0.6M108.5 71.5h0.6M108.5 65.3h0.6M110.7 69.9h0.6M105.6 71.1h0.6M104.3 65.8h0.6M109.7 66.8h0.6M102.2 63.5h0.6M109.1 68.7h0.6M106.6 69.2h0.6M101.2 71.3h0.6M111.2 68.3h0.6M105.7 69.0h0.6M110.4 71.5h0.6M110.5 68.4h0.6M105.8 71.9h0.6M114.5 64.6h0.6M112.4 68.1h0.6M107.4 63.5h0.6M116.3 59.0h0.6M110.0 66.2h0.6M114.4 64.9h0.6M109.5 70.0h0.6M110.7 65.5h0.6M112.7 68.4h0.6M113.5 64.8h0.6M108.2 66.6h0.6M104.6 69.9h0.6M112.2 72.3h0.6M107.4 69.7h0.6M114.7 66.0h0.6M109.2 68.3h0.6M104.3 65.4h0.6M114.8 67.0h0.6M107.3 63.7h0.6M110.5 71.8h0.6M102.0 66.3h0.6M115.9 71.4h0.6M116.4 63.9h0.6M111.3 64.5h0.6M111.2 65.9h0.6M111.0 72.3h0.6M110.3 66.6h0.6M109.3 68.7h0.6M106.3 69.3h0.6M113.3 72.5h0.6M97.0 66.5h0.6M103.1 72.6h0.6M121.7 65.3h0.6M110.4 71.7h0.6M95.9 70.5h0.6M92.7 72.6h0.6M105.7 66.9h0.6M110.1 65.4h0.6M114.6 66.4h0.6M113.0 76.2h0.6M107.3 71.7h0.6M105.6 73.3h0.6M113.9 67.1h0.6M115.4 72.2h0.6M116.0 66.1h0.6M109.5 71.8h0.6M100.6 67.8h0.6M111.8 69.2h0.6M120.0 71.5h0.6M110.9 69.0h0.6M101.8 69.0h0.6M110.0 66.8h0.6M109.6 69.9h0.6M103.4 67.2h0.6M100.6 74.2h0.6M101.8 63.4h0.6M112.6 66.1h0.6M113.5 65.4h0.6M120.4 67.6h0.6M109.7 68.1h0.6M108.4 71.0h0.6M118.8 63.8h0.6M103.7 71.4h0.6M113.0 61.3h0.6M104.3 65.4h0.6M112.2 68.9h0.6M104.0 65.0h0.6M110.5 59.9h0.6M112.0 66.5h0.6M119.6 68.8h0.6M105.6 67.7h0.6M106.7 65.8h0.6M110.1 71.1h0.6M100.8 69.1h0.6M117.2 68.5h0.6M103.9 66.2h0.6M103.0 63.5h0.6M114.8 66.6h0.6M103.9 63.9h0.6M106.4 66.6h0.6M117.3 64.1h0.6M110.3 71.4h0.6M112.1 66.4h0.6M98.8 75.6h0.6M111.5 65.6h0.6M107.5 64.7h0.6M102.9 64.0h0.6M111.8 69.0h0.6M110.4 70.3h0.6M111.7 67.6h0.6M104.8 71.1h0.6M115.5 68.5h0.6M114.8 64.6h0.6M104.9 73.5h0.6M106.0 69.5h0.6M107.8 68.2h0.6M106.9 66.4h0.6M101.3 76.8h0.6M108.2 61.0h0.6M103.2 65.2h0.6M102.8 60.2h0.6M113.2 72.8h0.6M108.2 70.8h0.6M110.8 62.9h0.6M113.6 60.5h0.6M105.5 67.4h0.6M115.3 66.7h0.6M107.5 65.3h0.6M109.3 67.9h0.6M113.8 71.7h0.6M112.6 67.0h0.6M109.4 73.6h0.6M109.8 67.6h0.6M119.4 70.9h0.6M111.6 66.8h0.6M106.5 72.4h0.6M107.3 71.8h0.6M104.9 69.3h0.6M111.0 67.9h0.6M110.3 68.9h0.6M102.1 65.6h0.6M109.6 74.3h0.6M107.4 64.9h0.6M105.5 68.9h0.6M114.4 64.4h0.6M111.8 67.8h0.6M106.2 65.1h0.6M107.4 65.6h0.6M110.0 61.2h0.6M115.2 69.0h0.6M113.1 72.2h0.6M110.4 61.3h0.6M109.5 69.4h0.6M104.3 64.9h0.6M111.5 69.1h0.6M106.4 67.6h0.6" stroke="#666" stroke-width="0.6" fill="none" opacity="1.0"/>
<path d="M107.4 80.9h0.5M112.6 87.3h0.5M94.4 81.8h0.5M132.2 84.3h0.5M115.1 86.4h0.5M101.6 78.4h0.5M93.9 77.4h0.5M116.2 86.4h0.5M108.4 80.4h0.5M118.0 85.5h0.5M116.3 75.7h0.5M106.9 73.2h0.5M116.1 79.8h0.5M105.6 89.0h0.5" stroke="#888" stroke-width="0.5" fill="none" opacity="1.0"/>
<clipPath id="cA29"><rect x="73.7" y="29.1" width="63.3" height="62.6"/></clipPath><g clip-path="url(#cA29)">
<g transform="rotate(0 81.8 68.1)">
<rect x="70.20" y="61.00" width="23.30" height="14.20" rx="7.04" ry="7.04" fill="#3a3a3a" opacity="0.8" filter="url(#b1)"/>
<rect x="70.80" y="61.60" width="22.10" height="13.00" rx="6.56" ry="6.56" fill="#1e1e1e" opacity="1" filter="url(#b05)"/>
<rect x="72.8" y="61.7" width="20.0" height="12.0" rx="5.9" ry="5.9" fill="#777" filter="url(#b05)"/>
<rect x="74.2" y="63.0" width="17.2" height="9.4" rx="4.6" ry="4.6" fill="#dedede" filter="url(#b05)"/>
<ellipse cx="82.8" cy="67.7" rx="5.3" ry="2.7" fill="#d6d6d6" filter="url(#b05)"/>
<ellipse cx="82.8" cy="67.7" rx="3.1" ry="1.2" fill="#cfcfcf" filter="url(#b05)" transform="rotate(-8 82.8 67.7)"/>
</g>
<g transform="rotate(3 80.7 85.3)">
<rect x="70.20" y="79.60" width="20.90" height="11.40" rx="5.64" ry="5.64" fill="#3a3a3a" opacity="0.8" filter="url(#b1)"/>
<rect x="70.80" y="80.20" width="19.70" height="10.20" rx="5.16" ry="5.16" fill="#262626" opacity="1" filter="url(#b05)"/>
<rect x="73.2" y="80.2" width="16.8" height="10.0" rx="4.9" ry="4.9" fill="#7a7a7a" filter="url(#b05)"/>
<rect x="74.6" y="81.5" width="14.0" height="7.4" rx="3.6" ry="3.6" fill="#d8d8d8" filter="url(#b05)"/>
<ellipse cx="81.2" cy="85.2" rx="4.3" ry="2.1" fill="#b0b0b0" filter="url(#b05)"/>
<ellipse cx="80.8" cy="85.1" rx="2.5" ry="1.0" fill="#5a5a5a" filter="url(#b05)" transform="rotate(-8 80.8 85.1)"/>
</g>
</g>
<rect x="97.6" y="59.3" width="39.0" height="20.2" fill="none" stroke="#999" stroke-width="0.6"/>
<rect x="97.6" y="79.5" width="39.0" height="12.000000000000002" fill="none" stroke="#999" stroke-width="0.6"/>
<text x="136.2" y="71.80000000000001" font-size="5.6" text-anchor="end" font-weight="normal" fill="#222" stroke="#222" stroke-width="0" >1.07</text>
<text x="136.2" y="88.0" font-size="5.6" text-anchor="end" font-weight="normal" fill="#222" stroke="#222" stroke-width="0" >0.021</text>
<line x1="72.0" y1="35.0" x2="73.3" y2="35.0" stroke="#666" stroke-width="0.5"/>
<text x="71.1" y="36.6" font-size="3.4" text-anchor="end" fill="#555">10<tspan font-size="2.4" dy="-1.4">5</tspan></text>
<line x1="72.0" y1="48.8" x2="73.3" y2="48.8" stroke="#666" stroke-width="0.5"/>
<text x="71.1" y="50.4" font-size="3.4" text-anchor="end" fill="#555">10<tspan font-size="2.4" dy="-1.4">4</tspan></text>
<line x1="72.0" y1="63.0" x2="73.3" y2="63.0" stroke="#666" stroke-width="0.5"/>
<text x="71.1" y="64.6" font-size="3.4" text-anchor="end" fill="#555">10<tspan font-size="2.4" dy="-1.4">3</tspan></text>
<line x1="72.0" y1="78.80000000000001" x2="73.3" y2="78.80000000000001" stroke="#666" stroke-width="0.5"/>
<text x="71.1" y="80.4" font-size="3.4" text-anchor="end" fill="#555">10<tspan font-size="2.4" dy="-1.4">2</tspan></text>
<line x1="72.0" y1="86.30000000000001" x2="73.3" y2="86.30000000000001" stroke="#666" stroke-width="0.5"/>
<text x="70.7" y="87.50000000000001" font-size="3.4" text-anchor="end" font-weight="normal" fill="#555" stroke="#555" stroke-width="0" >0</text>
<line x1="81.0" y1="92.1" x2="81.0" y2="93.39999999999999" stroke="#666" stroke-width="0.5"/>
<text x="81.0" y="97.3" font-size="3.4" text-anchor="middle" font-weight="normal" fill="#555" stroke="#555" stroke-width="0" >0</text>
<line x1="86.8" y1="92.1" x2="86.8" y2="93.39999999999999" stroke="#666" stroke-width="0.5"/>
<text x="86.8" y="97.7" font-size="3.4" text-anchor="middle" fill="#555">10<tspan font-size="2.4" dy="-1.4">2</tspan></text>
<line x1="101.69999999999999" y1="92.1" x2="101.69999999999999" y2="93.39999999999999" stroke="#666" stroke-width="0.5"/>
<text x="101.7" y="97.7" font-size="3.4" text-anchor="middle" fill="#555">10<tspan font-size="2.4" dy="-1.4">3</tspan></text>
<line x1="116.4" y1="92.1" x2="116.4" y2="93.39999999999999" stroke="#666" stroke-width="0.5"/>
<text x="116.4" y="97.7" font-size="3.4" text-anchor="middle" fill="#555">10<tspan font-size="2.4" dy="-1.4">4</tspan></text>
<line x1="130.3" y1="92.1" x2="130.3" y2="93.39999999999999" stroke="#666" stroke-width="0.5"/>
<text x="130.3" y="97.7" font-size="3.4" text-anchor="middle" fill="#555">10<tspan font-size="2.4" dy="-1.4">5</tspan></text>
<rect x="73.3" y="107.7" width="63.3" height="63" fill="#fff" stroke="#909090" stroke-width="0.8"/>
<path d="M93.1 148.4h0.6M86.2 147.2h0.6M80.5 146.2h0.6M97.0 142.9h0.6M80.0 147.1h0.6M90.3 149.9h0.6M78.0 145.9h0.6M82.6 141.4h0.6M84.9 144.5h0.6M90.4 148.2h0.6M79.2 146.8h0.6M82.0 143.9h0.6M81.1 150.8h0.6M81.6 139.4h0.6M79.2 149.7h0.6M98.6 142.1h0.6M82.0 145.1h0.6M75.0 148.1h0.6M84.0 147.6h0.6M99.2 145.4h0.6M89.6 149.9h0.6M80.1 144.0h0.6M94.6 149.4h0.6M85.3 142.0h0.6M90.2 148.6h0.6M98.9 152.5h0.6M89.7 147.5h0.6M84.8 144.2h0.6M86.4 147.4h0.6M88.7 150.9h0.6M86.4 144.2h0.6M89.7 152.8h0.6M78.8 148.2h0.6M88.0 148.6h0.6M87.7 146.1h0.6M83.7 153.3h0.6M95.8 140.7h0.6M79.9 144.3h0.6M73.8 147.9h0.6M84.0 144.2h0.6M90.3 156.4h0.6M94.1 151.2h0.6M81.6 149.1h0.6M84.1 151.2h0.6M88.2 146.3h0.6M88.0 143.5h0.6M89.6 152.6h0.6M82.0 148.7h0.6M90.2 142.3h0.6M95.9 146.9h0.6M90.1 145.3h0.6M91.6 140.1h0.6M83.7 150.4h0.6M79.9 149.2h0.6M82.0 147.9h0.6M86.5 155.6h0.6M76.2 149.6h0.6M93.0 141.9h0.6M84.9 155.9h0.6M91.3 134.3h0.6M82.8 139.5h0.6M86.4 143.5h0.6M80.6 143.0h0.6M86.3 144.5h0.6M78.4 145.5h0.6M87.0 143.0h0.6M91.7 139.7h0.6M87.0 144.9h0.6M94.7 143.8h0.6M80.0 141.0h0.6M97.5 149.0h0.6M77.2 145.1h0.6M78.0 152.7h0.6M87.1 138.1h0.6M85.7 150.2h0.6M84.4 148.4h0.6M83.6 147.3h0.6M85.8 143.6h0.6M86.6 147.1h0.6M84.1 143.7h0.6M77.7 147.5h0.6M89.8 136.6h0.6M80.8 152.0h0.6M90.4 143.5h0.6M93.3 142.4h0.6M79.1 154.4h0.6M81.5 145.6h0.6M76.6 145.9h0.6M82.0 144.0h0.6M80.2 149.5h0.6M94.5 144.8h0.6M95.0 153.0h0.6M93.2 147.7h0.6M74.5 149.2h0.6M81.6 147.2h0.6M85.9 142.6h0.6M86.3 153.3h0.6M85.9 143.7h0.6M100.1 137.7h0.6M78.3 148.1h0.6M80.4 137.1h0.6M86.1 149.8h0.6M79.1 152.4h0.6M87.7 151.3h0.6M74.2 146.4h0.6M94.9 154.7h0.6M93.1 146.4h0.6M85.6 143.9h0.6M91.6 143.6h0.6M85.2 138.0h0.6M74.4 153.7h0.6M84.7 147.3h0.6M98.1 140.3h0.6M80.8 145.6h0.6M76.0 140.9h0.6M76.2 149.1h0.6M84.0 149.8h0.6M77.2 148.9h0.6M81.4 146.8h0.6M90.5 146.6h0.6M82.0 139.6h0.6M84.8 149.7h0.6M80.1 146.2h0.6M87.0 151.8h0.6M82.3 139.6h0.6M81.8 140.0h0.6M82.5 154.4h0.6M86.3 145.8h0.6M91.3 144.9h0.6M86.6 147.3h0.6M87.3 140.4h0.6M89.1 150.1h0.6M78.4 152.6h0.6M84.5 149.2h0.6M88.0 150.1h0.6M80.1 144.0h0.6M86.9 149.0h0.6M88.2 147.9h0.6M81.1 151.0h0.6M87.5 150.8h0.6M79.9 146.9h0.6M81.2 145.2h0.6M85.6 147.9h0.6M79.0 136.0h0.6M79.1 148.7h0.6M78.7 148.2h0.6M81.9 142.5h0.6M92.2 153.3h0.6M83.7 146.2h0.6M90.8 141.0h0.6M78.5 151.1h0.6M90.4 144.4h0.6M79.1 147.9h0.6M74.9 144.4h0.6M82.8 136.2h0.6M88.3 149.6h0.6M91.5 140.5h0.6M75.7 143.1h0.6M75.6 155.0h0.6M77.8 145.1h0.6M85.7 148.3h0.6M94.1 141.9h0.6M90.3 147.1h0.6M76.5 147.1h0.6M74.9 153.2h0.6M79.4 150.6h0.6M93.1 143.9h0.6M78.3 147.0h0.6M77.3 150.2h0.6M85.5 143.3h0.6M79.7 149.5h0.6M74.6 153.5h0.6M79.0 145.6h0.6M78.1 153.2h0.6M89.9 151.9h0.6M88.8 146.8h0.6M95.8 149.2h0.6M87.3 148.9h0.6M89.3 147.6h0.6M83.2 139.8h0.6M98.3 141.0h0.6M97.4 151.6h0.6M80.3 147.6h0.6M84.2 138.1h0.6M82.1 147.7h0.6M92.3 141.4h0.6M86.6 146.8h0.6M85.4 147.1h0.6M81.9 140.7h0.6M87.4 148.1h0.6M88.3 151.7h0.6M75.9 136.6h0.6M78.1 148.1h0.6M84.2 149.5h0.6M106.2 144.3h0.6M83.2 143.9h0.6M86.0 148.6h0.6M77.8 152.0h0.6M92.1 148.3h0.6M83.6 145.5h0.6M77.7 144.3h0.6M91.1 142.6h0.6M80.8 150.1h0.6M97.0 143.6h0.6M91.9 143.7h0.6M87.0 148.5h0.6M76.6 150.8h0.6M96.6 146.7h0.6M86.2 141.5h0.6M96.5 146.7h0.6M75.7 149.7h0.6M74.4 143.6h0.6M99.4 143.8h0.6M79.9 144.0h0.6M80.5 148.8h0.6M94.3 142.2h0.6M87.3 138.9h0.6M94.7 146.1h0.6M79.6 152.9h0.6M83.6 152.2h0.6M91.7 153.4h0.6M78.9 146.7h0.6M86.9 145.6h0.6M94.7 143.5h0.6M91.2 152.2h0.6M78.2 144.2h0.6M87.0 145.7h0.6M84.9 144.5h0.6M83.8 148.5h0.6M89.4 143.2h0.6M83.6 143.3h0.6M83.1 140.4h0.6M90.8 149.3h0.6M83.5 143.6h0.6M81.2 143.7h0.6M73.9 153.3h0.6M106.7 141.3h0.6M76.4 148.9h0.6M88.5 139.8h0.6M81.0 146.8h0.6M84.3 144.1h0.6M83.4 145.2h0.6M92.8 146.1h0.6M84.1 144.2h0.6M80.0 143.4h0.6M84.4 154.2h0.6M91.9 147.4h0.6M95.7 150.7h0.6M85.8 145.8h0.6M76.9 147.5h0.6M82.2 139.8h0.6M75.6 154.6h0.6M85.8 148.5h0.6M85.7 144.5h0.6M87.5 151.0h0.6M82.3 148.6h0.6M91.3 144.4h0.6M85.5 143.3h0.6M88.5 144.9h0.6M92.1 143.2h0.6M95.8 145.1h0.6M78.6 142.7h0.6M88.9 142.9h0.6M96.6 151.8h0.6M87.9 140.5h0.6M84.2 143.4h0.6M99.3 144.2h0.6M89.9 151.8h0.6M77.8 145.0h0.6M86.2 148.4h0.6M76.6 147.4h0.6M83.6 150.4h0.6M80.9 145.1h0.6M89.3 143.8h0.6M103.0 143.5h0.6M90.1 150.7h0.6M90.9 145.6h0.6M78.7 145.4h0.6M88.9 147.0h0.6M88.3 148.9h0.6M78.3 142.5h0.6M94.2 144.4h0.6M78.7 142.5h0.6M90.9 141.7h0.6M78.4 150.9h0.6M78.8 157.0h0.6M85.0 157.7h0.6M85.2 146.7h0.6M80.0 145.5h0.6M80.9 146.4h0.6M89.6 141.1h0.6M78.1 137.7h0.6M94.6 146.1h0.6M84.3 146.2h0.6M91.2 147.8h0.6M90.1 145.7h0.6M83.5 146.2h0.6M88.9 146.7h0.6M89.9 153.6h0.6M97.0 152.3h0.6M82.8 155.1h0.6M78.4 146.1h0.6M91.1 145.6h0.6M83.5 145.0h0.6M93.6 136.1h0.6M93.0 150.9h0.6M83.9 148.8h0.6M77.8 151.1h0.6M105.2 142.6h0.6M93.8 146.2h0.6M82.1 144.4h0.6M83.1 141.2h0.6M75.1 153.4h0.6M84.2 148.8h0.6M86.5 148.5h0.6M74.0 142.5h0.6M88.7 150.6h0.6M76.6 144.0h0.6M77.1 149.2h0.6M86.7 146.6h0.6M79.9 147.9h0.6M84.6 143.3h0.6M86.6 143.7h0.6M90.8 149.1h0.6M79.7 148.9h0.6M84.8 143.5h0.6M78.1 139.5h0.6M76.7 147.9h0.6M92.6 143.8h0.6M85.4 147.9h0.6M89.7 148.3h0.6M92.7 149.7h0.6M79.2 148.1h0.6M84.5 148.9h0.6M82.3 149.9h0.6M93.3 142.9h0.6M80.7 147.5h0.6M87.7 147.1h0.6M90.0 141.5h0.6M89.6 151.3h0.6M91.9 148.2h0.6M82.7 148.1h0.6M83.8 139.8h0.6M80.2 146.3h0.6M80.8 142.5h0.6M82.8 144.9h0.6M84.8 146.2h0.6M85.5 150.6h0.6M85.3 148.2h0.6M76.0 134.1h0.6M81.6 149.3h0.6M82.0 143.8h0.6M75.9 150.2h0.6M80.8 147.5h0.6M92.0 148.7h0.6M99.6 145.9h0.6M90.9 149.4h0.6M79.9 146.7h0.6M80.5 142.1h0.6M86.4 143.2h0.6M95.8 143.3h0.6M80.6 146.8h0.6M80.8 146.7h0.6M80.2 140.5h0.6M94.7 148.3h0.6M85.4 144.5h0.6M83.4 147.7h0.6M74.9 143.1h0.6M78.3 151.7h0.6M77.2 151.4h0.6M81.2 157.9h0.6M83.8 146.6h0.6M93.5 150.1h0.6M90.7 142.0h0.6M92.1 153.5h0.6M83.7 144.4h0.6M76.9 150.7h0.6M86.3 146.5h0.6M76.0 153.3h0.6M90.3 146.4h0.6M94.4 142.5h0.6M90.3 142.3h0.6M93.9 145.3h0.6M92.7 144.7h0.6M87.1 151.2h0.6M78.2 146.9h0.6M78.6 150.0h0.6M80.2 144.9h0.6M83.0 151.3h0.6M77.3 146.3h0.6M82.1 144.1h0.6M79.0 145.8h0.6M85.7 140.0h0.6M85.9 141.5h0.6M84.5 156.0h0.6M77.8 146.2h0.6M82.6 150.6h0.6M81.1 139.0h0.6M86.1 150.9h0.6M80.7 149.2h0.6M77.1 151.9h0.6M83.9 143.6h0.6M85.6 153.8h0.6M78.6 141.2h0.6M77.4 141.6h0.6M84.0 147.9h0.6M83.2 147.3h0.6M92.4 145.2h0.6M75.8 136.9h0.6M86.0 143.6h0.6M82.7 148.2h0.6M87.5 139.9h0.6M77.8 146.8h0.6M83.4 151.3h0.6M80.9 137.8h0.6M92.3 139.6h0.6M77.8 148.1h0.6M77.1 156.9h0.6M86.0 148.7h0.6M81.4 155.8h0.6M88.0 143.4h0.6M92.9 139.4h0.6M80.4 147.7h0.6M85.3 142.4h0.6M95.1 152.6h0.6M78.0 148.0h0.6M80.0 144.6h0.6M91.1 147.0h0.6M83.6 146.9h0.6M76.4 151.6h0.6M79.2 151.9h0.6M81.2 144.5h0.6M94.5 147.3h0.6M80.0 144.2h0.6M88.5 154.3h0.6M88.5 144.8h0.6M76.7 143.6h0.6M83.5 147.5h0.6M79.9 151.8h0.6M77.8 143.5h0.6M87.7 148.5h0.6M81.7 150.5h0.6M74.8 153.3h0.6M99.2 154.7h0.6M85.2 154.7h0.6M84.7 152.0h0.6M83.0 147.3h0.6M87.9 139.1h0.6M82.9 153.7h0.6M90.6 147.8h0.6M85.7 152.3h0.6M86.6 138.5h0.6M77.9 145.2h0.6M85.3 144.6h0.6M83.6 153.5h0.6M90.7 149.0h0.6M84.5 146.7h0.6M86.8 147.5h0.6M79.4 149.7h0.6M78.7 146.3h0.6M81.9 141.6h0.6M88.5 146.2h0.6M76.4 146.1h0.6M75.0 152.5h0.6M87.9 154.8h0.6M80.5 149.4h0.6M77.8 142.9h0.6M83.7 148.2h0.6M90.6 145.3h0.6M91.8 150.5h0.6M78.4 145.7h0.6M78.1 153.6h0.6M80.6 150.2h0.6M90.5 145.4h0.6M81.0 147.9h0.6M79.1 141.2h0.6M77.8 147.9h0.6M85.7 153.8h0.6M76.5 151.3h0.6M89.1 147.0h0.6M94.3 144.9h0.6M80.8 142.1h0.6M79.9 146.9h0.6M88.9 151.8h0.6M82.5 143.4h0.6M82.1 144.7h0.6M81.2 144.8h0.6M78.5 146.2h0.6M80.9 145.7h0.6M75.0 147.1h0.6M88.2 149.2h0.6M80.6 141.7h0.6M75.6 141.6h0.6M80.0 145.2h0.6M74.0 143.6h0.6M79.5 149.9h0.6M96.8 145.0h0.6M82.5 144.8h0.6M83.0 145.7h0.6M101.0 141.9h0.6M83.6 143.2h0.6M86.8 144.3h0.6M88.2 142.0h0.6M98.6 147.3h0.6M81.2 141.7h0.6M87.3 144.3h0.6M89.3 144.2h0.6M90.4 147.1h0.6M86.8 147.1h0.6M81.9 145.0h0.6M87.4 149.4h0.6M81.6 155.7h0.6M95.7 141.7h0.6M91.7 146.2h0.6M85.9 143.2h0.6M95.5 143.0h0.6M83.8 143.5h0.6M97.3 151.6h0.6M75.5 144.6h0.6M86.8 144.7h0.6M82.0 142.0h0.6M86.0 141.9h0.6M89.9 156.4h0.6M82.2 153.3h0.6M86.9 143.7h0.6M82.0 142.5h0.6M85.1 149.4h0.6M90.6 145.3h0.6M76.3 146.1h0.6M95.6 147.6h0.6M83.9 137.9h0.6M81.4 148.7h0.6M78.0 152.0h0.6M80.6 142.9h0.6M80.5 146.1h0.6M91.0 144.1h0.6M87.9 152.8h0.6M76.8 152.6h0.6M88.9 148.3h0.6M79.2 142.8h0.6M78.0 150.3h0.6M85.8 150.9h0.6M96.5 146.5h0.6M84.0 154.4h0.6M75.6 144.6h0.6M81.9 144.9h0.6M85.3 143.0h0.6M92.1 140.8h0.6M78.9 139.5h0.6M75.0 148.9h0.6M88.6 145.7h0.6M90.0 149.0h0.6M80.5 146.3h0.6M86.8 154.7h0.6M81.4 148.0h0.6M88.0 151.5h0.6M87.2 150.9h0.6M77.2 145.4h0.6M99.9 147.5h0.6M84.9 147.6h0.6M85.3 141.0h0.6M79.7 145.8h0.6M85.5 142.9h0.6M83.6 143.5h0.6M75.5 143.8h0.6M79.0 149.9h0.6M93.3 148.9h0.6M82.9 144.2h0.6M73.9 144.3h0.6M94.8 151.2h0.6M85.9 145.5h0.6M84.4 148.2h0.6M84.3 148.2h0.6M79.2 146.7h0.6M82.0 150.9h0.6M76.1 151.8h0.6M83.8 144.4h0.6M84.5 147.0h0.6M82.8 148.2h0.6M80.5 139.5h0.6M89.0 146.4h0.6M95.5 148.1h0.6M79.8 148.7h0.6M99.2 151.0h0.6M77.0 146.1h0.6M88.1 142.3h0.6M87.4 150.3h0.6M89.7 143.7h0.6M79.7 141.9h0.6M75.7 147.8h0.6M84.6 151.8h0.6M86.2 145.2h0.6M74.8 152.8h0.6M85.5 146.4h0.6M77.6 142.2h0.6M88.6 142.5h0.6M88.3 149.1h0.6M81.8 139.9h0.6M87.1 152.2h0.6M78.8 141.3h0.6M91.6 147.1h0.6M80.2 151.5h0.6M82.5 148.3h0.6M81.7 143.4h0.6M85.8 143.0h0.6M92.6 151.0h0.6M98.9 150.5h0.6M95.1 147.5h0.6M81.4 148.4h0.6M78.0 149.5h0.6M81.4 147.5h0.6M78.7 145.9h0.6M90.9 145.6h0.6M79.9 147.6h0.6M90.2 145.7h0.6M76.6 140.1h0.6M75.4 150.8h0.6M83.8 148.4h0.6M91.5 147.7h0.6M87.6 144.4h0.6M83.7 148.8h0.6M77.2 145.9h0.6M97.8 143.1h0.6M85.0 151.8h0.6M82.8 147.0h0.6M81.4 151.7h0.6M83.7 145.0h0.6M87.3 145.5h0.6M80.9 152.8h0.6M90.9 146.9h0.6M89.7 149.8h0.6M88.2 146.7h0.6M84.8 148.2h0.6M88.1 147.9h0.6M80.7 146.2h0.6M87.4 142.5h0.6M84.3 149.6h0.6M85.5 145.3h0.6M84.2 144.5h0.6M90.9 145.0h0.6M86.3 147.4h0.6M81.2 141.2h0.6M83.4 143.1h0.6M80.0 146.5h0.6M79.2 147.8h0.6M79.4 144.6h0.6M82.8 152.4h0.6M94.8 150.3h0.6M79.4 146.5h0.6M90.4 149.8h0.6M79.4 149.5h0.6M88.6 144.4h0.6M98.6 145.4h0.6M100.6 145.8h0.6M83.8 154.1h0.6M80.8 144.6h0.6M94.2 146.4h0.6M87.5 141.5h0.6" stroke="#333" stroke-width="0.6" fill="none" opacity="1.0"/>
<path d="M95.2 166.5h0.6M85.6 165.5h0.6M79.9 161.3h0.6M91.5 166.0h0.6M89.4 165.5h0.6M77.1 158.4h0.6M87.5 163.6h0.6M89.8 162.0h0.6M77.4 164.6h0.6M79.5 157.2h0.6M79.2 159.9h0.6M75.8 161.1h0.6M94.8 161.5h0.6M90.9 162.8h0.6M85.9 160.6h0.6M82.8 157.1h0.6M95.2 160.3h0.6M87.1 160.9h0.6M85.0 158.9h0.6M80.8 166.2h0.6M87.2 156.2h0.6M88.9 158.4h0.6M85.1 164.8h0.6M79.0 161.9h0.6M81.6 164.4h0.6M89.3 167.8h0.6M85.4 170.0h0.6M76.9 169.3h0.6M81.5 165.7h0.6M82.4 163.3h0.6M77.1 164.4h0.6M96.7 163.5h0.6M83.1 163.0h0.6M88.0 162.3h0.6M83.2 163.8h0.6M91.9 166.4h0.6M76.2 160.8h0.6M83.4 166.0h0.6M89.7 162.3h0.6M97.4 162.4h0.6M92.6 168.0h0.6M93.9 163.7h0.6M87.1 157.6h0.6M88.0 166.8h0.6M82.6 166.7h0.6M87.1 168.4h0.6M76.9 159.3h0.6M94.2 159.8h0.6M77.7 161.6h0.6M89.1 161.4h0.6M88.2 164.9h0.6M79.0 154.7h0.6M77.1 158.6h0.6M94.1 160.5h0.6M76.1 164.3h0.6M83.6 159.7h0.6M90.5 166.2h0.6M85.1 160.3h0.6M77.4 155.8h0.6M85.8 164.4h0.6M77.1 163.1h0.6M105.1 159.0h0.6M80.4 161.3h0.6M87.4 162.5h0.6M89.9 164.8h0.6M91.0 163.4h0.6M84.9 158.1h0.6M83.7 166.1h0.6M76.4 163.1h0.6M78.3 159.5h0.6M79.1 167.5h0.6M87.8 162.9h0.6M82.7 163.4h0.6M85.2 163.6h0.6M77.5 153.8h0.6M87.9 158.8h0.6M82.3 162.7h0.6M79.3 164.9h0.6M81.4 162.0h0.6M76.9 162.0h0.6M76.3 163.1h0.6M92.1 166.5h0.6M86.1 158.2h0.6M90.1 166.3h0.6M97.0 155.1h0.6M83.4 161.8h0.6M90.5 159.2h0.6M89.9 156.0h0.6M83.4 167.8h0.6M79.1 165.1h0.6M83.9 157.8h0.6M79.1 167.0h0.6M91.2 160.9h0.6M90.8 160.5h0.6M84.9 162.9h0.6M74.9 164.1h0.6M80.7 153.3h0.6M77.7 160.0h0.6M77.7 159.5h0.6M78.6 154.3h0.6M89.2 163.2h0.6M85.0 162.0h0.6M83.7 162.1h0.6M76.0 157.6h0.6M83.7 166.6h0.6M84.8 168.7h0.6M74.1 162.0h0.6M79.1 167.3h0.6M94.6 161.1h0.6M88.1 162.1h0.6M76.6 162.6h0.6M76.3 168.4h0.6M87.2 167.2h0.6M85.6 154.4h0.6M88.6 163.3h0.6M90.0 169.0h0.6M76.4 165.8h0.6M85.5 162.4h0.6M81.4 164.8h0.6M87.1 165.3h0.6M80.5 158.3h0.6M92.1 167.6h0.6M79.5 162.9h0.6M88.7 156.8h0.6M85.1 160.5h0.6M96.9 163.0h0.6M84.7 161.5h0.6M84.5 156.6h0.6M74.7 157.7h0.6M89.3 162.6h0.6M91.0 155.7h0.6M79.2 168.1h0.6M78.0 156.4h0.6M78.3 161.7h0.6M83.2 167.6h0.6M92.1 168.5h0.6M87.1 161.2h0.6M79.9 157.7h0.6M91.8 167.4h0.6M83.8 159.8h0.6M87.8 164.7h0.6M84.3 158.8h0.6M84.9 160.9h0.6M88.2 165.1h0.6M86.2 161.4h0.6M93.4 165.7h0.6M91.7 165.9h0.6M87.7 164.3h0.6M76.1 156.5h0.6M77.0 165.1h0.6M89.3 163.6h0.6M83.8 169.5h0.6M80.6 156.6h0.6M87.9 165.6h0.6M81.8 165.9h0.6M82.9 160.4h0.6M80.7 165.6h0.6M89.6 159.0h0.6M76.7 163.4h0.6M97.4 158.8h0.6M74.9 164.4h0.6M86.6 160.8h0.6M83.1 164.7h0.6M87.3 166.2h0.6M91.0 162.7h0.6M88.4 160.7h0.6M90.2 166.6h0.6M82.3 154.6h0.6M80.1 160.3h0.6M77.7 162.7h0.6M76.0 164.3h0.6M95.8 158.7h0.6M90.2 161.1h0.6M86.9 162.5h0.6M91.8 160.4h0.6M88.1 160.2h0.6M84.8 162.9h0.6M90.5 157.4h0.6M74.3 167.9h0.6M85.8 169.0h0.6M76.4 163.7h0.6M87.3 169.2h0.6M82.9 161.4h0.6M88.0 162.6h0.6M78.3 165.7h0.6M92.3 161.2h0.6M81.1 164.3h0.6M90.7 164.8h0.6M76.8 160.9h0.6M90.2 162.5h0.6M79.1 166.1h0.6M76.1 160.4h0.6M78.6 164.2h0.6M80.1 166.9h0.6M79.0 162.0h0.6M87.0 163.7h0.6M76.5 168.3h0.6M87.1 161.2h0.6M84.6 159.0h0.6M75.1 161.9h0.6M85.7 163.3h0.6M78.1 158.0h0.6M85.7 160.1h0.6M91.1 164.9h0.6M80.5 160.8h0.6M90.8 164.1h0.6M94.1 164.2h0.6M79.4 160.8h0.6M78.6 163.9h0.6M84.9 165.1h0.6M86.2 159.2h0.6M81.9 159.6h0.6M86.4 158.3h0.6M79.4 159.9h0.6M79.2 162.0h0.6M93.3 162.0h0.6M88.2 164.9h0.6M84.8 170.0h0.6M90.6 163.3h0.6M91.3 158.2h0.6M82.1 159.9h0.6M84.4 168.7h0.6M80.0 168.6h0.6M76.5 168.0h0.6M89.9 162.6h0.6M84.2 162.9h0.6M84.4 162.3h0.6M76.8 161.9h0.6M84.0 159.8h0.6M86.3 169.2h0.6M81.4 163.0h0.6M83.9 160.4h0.6M83.0 163.0h0.6M82.7 168.4h0.6M84.1 157.7h0.6M81.0 160.8h0.6M74.3 161.9h0.6M82.6 160.5h0.6M80.9 166.1h0.6M88.4 164.9h0.6M82.1 158.1h0.6M88.4 168.3h0.6M91.7 167.1h0.6M85.1 164.3h0.6M83.2 167.4h0.6M88.4 161.8h0.6M83.2 157.2h0.6M78.4 161.9h0.6M99.4 160.1h0.6M89.3 163.2h0.6M81.3 165.2h0.6M96.0 164.0h0.6M82.8 163.5h0.6M87.6 161.2h0.6M84.0 164.7h0.6M80.9 164.3h0.6M85.5 165.5h0.6M76.7 161.0h0.6M80.4 167.2h0.6M84.9 157.1h0.6M74.8 169.8h0.6M85.5 158.4h0.6M77.2 163.5h0.6M92.7 168.7h0.6M80.8 161.9h0.6M95.9 159.5h0.6M93.6 164.2h0.6M83.9 167.5h0.6M86.4 160.0h0.6M86.6 167.8h0.6M87.3 168.3h0.6M88.5 163.7h0.6M86.1 164.4h0.6M79.1 162.5h0.6M84.1 161.4h0.6M86.6 164.8h0.6M84.0 158.8h0.6M88.9 161.6h0.6M86.8 161.4h0.6M93.0 167.8h0.6M85.0 156.9h0.6M80.7 161.9h0.6M86.3 162.5h0.6M85.5 157.2h0.6M79.0 168.1h0.6M98.5 165.3h0.6M74.1 167.4h0.6M80.6 167.4h0.6M91.0 163.6h0.6M95.1 166.4h0.6M80.1 159.5h0.6M99.5 161.5h0.6M86.0 162.5h0.6M80.1 157.2h0.6M82.3 162.5h0.6M89.7 161.1h0.6M83.0 163.8h0.6M88.0 161.6h0.6M86.8 163.5h0.6M94.4 162.8h0.6M84.2 165.0h0.6M91.3 159.7h0.6M80.1 162.0h0.6M90.3 163.0h0.6M105.5 167.5h0.6M96.6 168.5h0.6M89.2 157.9h0.6M93.4 164.4h0.6M75.4 163.1h0.6M88.2 166.5h0.6M84.4 161.1h0.6M88.3 160.2h0.6M82.7 165.7h0.6M75.1 162.6h0.6M88.0 162.8h0.6M89.3 163.3h0.6M81.9 164.7h0.6M81.7 163.4h0.6M90.1 160.9h0.6M90.9 159.0h0.6M81.8 156.8h0.6M79.7 168.6h0.6M85.6 167.5h0.6M86.3 165.9h0.6M88.8 157.0h0.6M86.6 162.7h0.6M84.0 164.7h0.6M81.4 156.9h0.6M76.2 157.8h0.6M74.6 162.5h0.6M91.9 160.4h0.6M78.2 158.9h0.6M80.0 162.1h0.6M76.9 164.7h0.6M75.3 164.9h0.6M78.9 165.8h0.6M77.4 164.5h0.6M86.2 162.7h0.6M94.1 163.6h0.6M77.4 165.4h0.6M77.8 161.0h0.6M83.3 163.6h0.6M94.5 156.7h0.6M81.5 167.0h0.6M82.2 164.1h0.6M93.4 158.6h0.6M83.5 165.8h0.6M79.4 156.7h0.6M76.6 163.6h0.6M84.5 169.5h0.6M92.0 157.4h0.6M90.1 166.2h0.6M94.0 162.4h0.6M79.6 163.5h0.6M93.5 165.2h0.6M94.5 165.8h0.6M79.4 159.3h0.6M95.5 157.5h0.6M80.9 161.8h0.6M77.2 160.9h0.6M82.8 161.1h0.6M84.1 166.3h0.6M77.8 161.5h0.6M87.8 168.3h0.6M89.0 162.0h0.6M80.7 161.8h0.6M75.2 165.7h0.6M79.2 160.4h0.6M86.7 163.4h0.6M79.4 162.1h0.6M80.0 167.8h0.6M89.9 160.3h0.6M83.0 167.9h0.6M81.3 169.3h0.6M86.2 165.3h0.6M85.5 165.0h0.6M86.4 164.8h0.6M79.9 166.2h0.6M83.7 159.2h0.6M76.5 163.5h0.6M85.5 155.0h0.6M79.3 164.9h0.6M92.6 168.7h0.6M76.6 167.4h0.6M75.2 164.1h0.6M84.4 165.2h0.6M77.9 167.7h0.6M82.8 162.9h0.6M81.5 159.1h0.6M88.0 164.2h0.6M86.3 169.6h0.6M77.5 161.9h0.6M83.3 166.0h0.6M82.1 166.3h0.6M86.3 156.6h0.6M78.7 155.7h0.6M81.4 161.5h0.6M87.2 163.6h0.6M82.8 167.5h0.6M87.2 158.5h0.6M78.7 164.1h0.6M94.6 162.2h0.6M82.1 163.9h0.6M88.4 162.6h0.6M85.2 161.4h0.6M79.6 160.1h0.6M87.6 161.0h0.6M86.9 164.4h0.6M89.7 153.3h0.6M76.8 158.6h0.6M82.2 165.8h0.6M100.1 168.5h0.6M92.3 164.3h0.6M80.7 164.9h0.6M83.3 165.2h0.6M76.4 159.0h0.6M79.0 162.8h0.6M85.6 161.7h0.6M85.6 165.4h0.6M75.5 162.6h0.6M89.3 160.4h0.6M95.6 164.8h0.6M89.2 163.3h0.6M89.0 166.9h0.6M84.0 161.0h0.6M79.6 169.9h0.6M82.0 161.3h0.6M78.5 156.9h0.6M79.9 164.1h0.6M80.0 160.2h0.6M86.0 164.6h0.6M80.4 164.1h0.6M76.8 166.0h0.6M76.7 161.7h0.6M84.2 161.4h0.6M93.3 156.7h0.6M84.1 158.4h0.6M85.3 158.3h0.6M87.1 164.9h0.6M94.6 167.3h0.6M80.2 166.4h0.6M80.2 162.5h0.6M79.9 156.6h0.6M87.3 155.6h0.6M81.7 164.8h0.6M84.0 157.3h0.6M78.9 165.4h0.6M90.6 168.7h0.6M80.1 165.7h0.6M88.0 160.6h0.6M80.8 159.4h0.6M90.7 158.2h0.6M77.2 161.8h0.6M85.1 160.0h0.6M87.1 164.2h0.6M85.1 162.7h0.6M86.3 158.7h0.6M75.3 161.4h0.6M75.9 165.5h0.6M96.1 167.4h0.6M86.2 164.2h0.6M78.7 158.3h0.6M86.9 157.6h0.6M85.3 162.4h0.6M88.2 163.1h0.6M84.0 160.9h0.6M87.9 166.7h0.6M92.4 159.4h0.6M77.0 165.5h0.6M85.3 157.5h0.6M79.6 168.6h0.6M74.0 168.7h0.6M80.3 159.2h0.6M97.7 163.3h0.6M81.5 158.8h0.6M85.5 161.2h0.6M77.6 167.9h0.6M86.2 159.7h0.6M93.1 162.8h0.6M86.6 163.5h0.6M91.1 165.2h0.6M80.9 165.5h0.6M80.7 163.4h0.6M94.2 159.1h0.6M76.4 161.5h0.6M79.9 167.6h0.6M93.8 161.3h0.6M84.5 161.6h0.6M87.7 165.3h0.6M88.3 165.7h0.6M96.1 162.3h0.6M87.9 162.3h0.6M83.5 163.7h0.6" stroke="#333" stroke-width="0.6" fill="none" opacity="1.0"/>
<path d="M79.1 155.3h0.6M75.6 154.6h0.6M76.6 153.0h0.6M76.2 154.0h0.6M78.6 152.4h0.6M78.2 153.0h0.6M75.7 155.1h0.6M84.2 155.2h0.6M77.1 154.1h0.6M85.2 152.3h0.6M84.3 152.5h0.6M76.5 154.9h0.6M78.3 157.4h0.6M81.5 154.7h0.6M83.5 154.9h0.6M75.8 156.6h0.6M85.9 156.8h0.6M74.1 157.8h0.6M77.5 156.0h0.6M84.6 158.5h0.6M84.5 155.6h0.6M77.9 150.2h0.6M81.2 154.5h0.6M79.3 155.2h0.6M82.6 154.4h0.6M75.3 154.2h0.6M88.0 153.7h0.6M78.9 157.8h0.6M83.9 155.0h0.6M82.5 154.4h0.6M75.3 156.4h0.6M79.9 157.3h0.6M78.1 154.2h0.6M80.8 154.5h0.6M77.9 153.4h0.6M80.4 155.3h0.6M87.4 154.8h0.6M89.4 154.1h0.6M75.8 154.5h0.6M78.5 152.4h0.6M81.8 153.4h0.6M82.1 157.8h0.6M84.8 155.1h0.6M77.0 154.4h0.6M83.6 154.0h0.6M81.1 156.3h0.6M75.3 153.9h0.6M81.3 154.8h0.6M78.8 154.0h0.6M79.0 157.7h0.6M85.3 152.3h0.6M79.5 154.9h0.6M79.5 152.6h0.6M78.7 155.0h0.6M76.3 155.3h0.6M79.7 155.4h0.6M78.6 154.1h0.6M80.1 156.5h0.6M83.3 154.7h0.6M77.2 156.5h0.6M81.7 156.2h0.6M78.1 153.5h0.6M80.1 153.8h0.6M84.4 156.1h0.6M85.2 156.4h0.6M77.2 153.5h0.6M83.6 156.4h0.6M79.6 153.0h0.6M75.7 153.7h0.6M81.3 156.4h0.6M85.0 154.7h0.6M77.8 155.8h0.6M74.3 152.9h0.6M79.4 157.2h0.6M83.8 154.8h0.6M83.8 154.2h0.6M74.1 152.2h0.6M80.5 156.2h0.6M80.9 154.7h0.6M77.5 156.5h0.6M79.1 152.5h0.6M85.4 153.8h0.6M81.0 154.8h0.6M84.0 155.2h0.6M84.7 155.1h0.6M77.3 154.0h0.6M82.2 153.5h0.6M83.4 154.4h0.6M75.2 153.4h0.6M78.7 157.6h0.6M82.7 154.8h0.6M75.3 157.8h0.6M78.1 154.8h0.6M77.4 156.9h0.6M80.1 154.1h0.6M80.1 153.2h0.6M74.6 154.5h0.6M88.1 153.1h0.6M78.7 152.3h0.6M80.1 155.1h0.6M82.6 152.7h0.6M76.6 153.8h0.6M78.2 158.4h0.6M78.4 154.7h0.6M77.1 156.0h0.6M90.6 156.6h0.6M86.1 153.1h0.6M84.0 154.8h0.6M84.8 156.5h0.6M82.2 152.2h0.6M79.9 154.0h0.6M81.3 154.9h0.6M83.9 152.3h0.6M76.0 154.7h0.6M80.7 154.2h0.6M79.2 154.9h0.6M83.9 154.6h0.6M80.4 151.9h0.6M80.9 151.2h0.6M81.1 154.6h0.6M79.3 153.7h0.6M77.4 156.1h0.6M80.9 154.8h0.6M77.1 155.1h0.6M84.6 154.8h0.6M77.7 152.9h0.6M79.7 153.4h0.6M76.5 151.6h0.6M76.1 157.7h0.6M78.8 152.7h0.6M74.4 155.9h0.6M81.1 155.1h0.6M78.4 155.6h0.6M86.1 155.6h0.6M78.6 152.6h0.6M81.3 157.3h0.6M82.2 152.8h0.6M80.1 156.8h0.6M76.5 155.6h0.6M84.7 157.4h0.6M81.0 155.9h0.6M77.7 154.8h0.6M77.5 156.7h0.6M79.2 154.8h0.6M87.2 154.5h0.6M80.8 155.4h0.6M80.4 157.1h0.6M79.9 155.0h0.6M78.8 154.8h0.6M79.1 156.4h0.6M79.4 154.9h0.6M79.1 156.0h0.6M77.2 156.3h0.6M76.8 155.9h0.6M87.8 155.2h0.6M78.9 152.9h0.6M82.6 154.8h0.6M83.3 153.8h0.6M81.6 157.6h0.6M81.1 154.3h0.6M82.2 155.7h0.6M74.3 153.2h0.6M75.0 153.2h0.6M78.1 155.2h0.6M87.8 155.1h0.6M85.8 152.2h0.6M86.1 156.1h0.6M81.3 156.1h0.6M82.0 157.8h0.6M82.9 152.1h0.6M78.9 156.9h0.6M77.8 153.8h0.6M77.8 155.3h0.6M80.1 153.8h0.6M81.7 155.8h0.6M75.2 153.0h0.6M79.3 153.7h0.6M76.6 154.6h0.6M79.4 155.7h0.6M83.0 155.5h0.6M84.3 153.3h0.6M82.0 155.4h0.6M74.7 153.7h0.6M81.3 154.9h0.6M86.1 156.1h0.6M79.7 156.9h0.6M75.3 154.5h0.6M83.6 154.3h0.6M74.3 155.7h0.6M86.4 150.8h0.6M80.0 152.8h0.6M78.0 152.6h0.6M90.9 153.7h0.6M79.5 153.7h0.6M74.9 154.1h0.6M80.2 157.6h0.6M80.6 157.3h0.6M74.6 154.9h0.6M77.4 152.3h0.6M95.9 154.4h0.6M80.4 153.6h0.6M76.7 153.2h0.6M83.9 154.2h0.6M78.7 155.1h0.6M73.8 155.2h0.6M78.5 155.5h0.6M77.6 154.9h0.6M81.6 156.3h0.6M76.2 156.3h0.6M74.9 154.5h0.6M79.9 155.0h0.6M78.5 156.3h0.6M76.2 157.2h0.6M81.7 154.8h0.6M80.5 156.3h0.6M75.7 155.7h0.6M84.0 154.4h0.6M75.5 153.1h0.6M81.2 153.5h0.6M90.3 155.7h0.6M86.1 155.9h0.6M74.8 156.4h0.6M77.2 158.3h0.6M76.8 155.7h0.6M81.8 154.1h0.6M78.6 156.6h0.6M81.5 154.7h0.6M81.3 157.6h0.6M83.4 155.6h0.6M80.8 152.3h0.6M79.9 154.0h0.6M82.6 153.8h0.6M81.3 153.1h0.6M83.3 153.6h0.6M79.2 155.7h0.6M77.9 154.8h0.6M84.0 157.6h0.6M82.3 156.3h0.6M77.2 154.9h0.6M78.4 158.4h0.6M78.4 152.9h0.6M85.1 154.2h0.6M88.0 155.8h0.6M81.0 155.8h0.6M82.8 156.3h0.6M75.0 153.9h0.6M76.9 155.0h0.6M78.2 152.9h0.6M76.2 157.6h0.6M88.7 153.4h0.6M81.0 154.7h0.6M75.5 155.9h0.6M79.0 157.4h0.6M81.3 154.3h0.6M83.1 153.7h0.6M83.2 155.9h0.6M80.7 156.0h0.6M80.0 154.8h0.6M77.8 154.3h0.6M79.3 153.1h0.6M82.2 154.3h0.6M81.6 154.0h0.6M81.1 155.0h0.6M83.3 155.5h0.6M83.4 154.5h0.6M79.1 154.4h0.6M84.1 156.0h0.6M75.5 155.3h0.6M82.6 152.7h0.6M80.9 155.3h0.6M82.6 155.2h0.6M88.1 154.2h0.6M85.0 156.8h0.6M79.7 153.0h0.6M85.4 154.7h0.6M81.6 155.6h0.6M83.5 156.4h0.6M79.9 154.8h0.6M82.8 154.6h0.6M78.5 158.0h0.6M85.4 156.6h0.6M83.9 153.6h0.6M78.9 154.7h0.6M74.4 153.4h0.6M80.0 152.9h0.6M81.7 155.5h0.6M78.3 154.3h0.6M82.0 155.6h0.6M80.9 152.9h0.6M76.4 154.2h0.6M76.0 156.1h0.6M77.5 154.0h0.6M75.9 154.1h0.6M84.6 155.0h0.6M76.9 156.8h0.6M81.5 153.2h0.6M76.8 153.8h0.6M79.1 156.7h0.6M76.2 154.6h0.6M79.8 152.9h0.6M77.2 155.8h0.6M84.3 151.9h0.6M82.4 154.3h0.6M85.0 155.8h0.6M88.1 155.3h0.6M77.5 153.5h0.6M81.6 156.1h0.6M80.9 152.4h0.6M77.5 154.4h0.6M80.0 156.0h0.6M85.6 155.2h0.6" stroke="#222" stroke-width="0.6" fill="none" opacity="1.0"/>
<path d="M85.6 150.8h0.5M88.8 157.2h0.5M92.1 162.8h0.5M96.4 152.8h0.5M96.0 155.8h0.5M94.3 164.3h0.5M88.9 155.3h0.5M98.0 150.8h0.5M93.5 156.5h0.5M91.4 147.4h0.5M90.5 149.4h0.5M96.4 157.3h0.5M95.2 148.1h0.5M94.5 156.6h0.5M96.3 151.1h0.5M95.5 164.4h0.5M98.9 149.8h0.5M89.0 146.4h0.5M96.0 159.5h0.5M93.9 150.2h0.5M97.0 165.9h0.5M92.7 154.9h0.5M96.8 158.9h0.5M97.3 153.1h0.5M93.9 153.5h0.5M90.9 153.8h0.5M91.8 158.9h0.5M91.8 156.2h0.5M90.1 147.9h0.5M97.6 149.4h0.5M98.9 161.7h0.5M85.1 151.6h0.5M91.4 155.8h0.5M92.2 151.9h0.5M97.0 154.9h0.5M96.0 151.3h0.5M90.5 164.2h0.5M91.9 148.7h0.5M92.2 162.4h0.5M92.3 151.1h0.5M94.9 162.0h0.5M92.1 153.7h0.5M92.2 166.8h0.5M92.3 158.3h0.5M86.0 156.8h0.5M93.0 153.7h0.5M91.4 147.0h0.5M87.8 156.8h0.5M90.7 155.1h0.5M92.2 152.5h0.5M90.4 167.5h0.5M89.1 152.5h0.5M91.8 148.4h0.5M89.6 161.2h0.5M95.9 156.5h0.5M103.7 161.0h0.5M96.9 150.5h0.5M96.4 166.4h0.5M91.5 167.2h0.5M90.1 148.5h0.5M92.7 150.6h0.5M94.9 148.7h0.5M93.1 143.3h0.5M92.7 162.4h0.5M91.9 157.7h0.5M96.5 148.7h0.5M88.5 156.2h0.5M93.7 154.0h0.5M89.6 163.4h0.5M88.9 154.1h0.5M92.7 160.3h0.5M91.3 150.5h0.5M99.6 150.3h0.5M95.5 154.7h0.5M91.2 155.4h0.5M92.0 157.7h0.5M84.3 155.5h0.5M93.1 149.5h0.5M99.0 159.8h0.5M93.6 153.8h0.5M97.5 152.9h0.5M90.1 160.1h0.5M89.6 150.7h0.5M97.7 145.5h0.5M92.6 156.5h0.5M93.7 146.5h0.5M92.0 153.6h0.5M99.3 162.1h0.5M90.3 161.3h0.5M95.0 155.0h0.5M92.0 154.0h0.5M87.6 151.7h0.5M96.0 164.9h0.5M99.0 153.3h0.5M94.9 140.4h0.5M91.9 147.7h0.5M95.6 145.2h0.5M89.3 148.7h0.5M94.1 161.0h0.5M89.7 167.1h0.5M93.4 150.4h0.5M94.0 155.6h0.5M95.6 157.9h0.5M100.2 163.1h0.5M90.7 160.7h0.5M95.4 149.4h0.5M90.3 150.6h0.5M84.5 159.7h0.5M92.1 163.5h0.5M90.9 156.2h0.5M95.3 161.8h0.5M93.9 149.1h0.5M100.2 161.2h0.5M97.4 166.0h0.5M97.5 158.3h0.5M94.4 159.7h0.5M87.8 160.9h0.5M89.6 158.4h0.5M89.4 160.2h0.5M93.5 158.9h0.5M89.8 153.9h0.5M92.6 153.9h0.5M91.4 150.2h0.5M95.4 153.3h0.5M90.1 158.0h0.5M90.1 154.6h0.5M91.1 149.8h0.5M92.1 150.5h0.5M88.6 157.9h0.5M91.8 146.4h0.5M91.5 156.9h0.5M94.3 158.1h0.5M93.7 159.5h0.5M91.2 150.6h0.5M94.9 153.1h0.5M92.9 159.8h0.5M96.0 163.5h0.5M90.5 153.4h0.5M94.7 146.6h0.5M88.6 159.6h0.5M90.8 149.9h0.5M95.5 159.1h0.5M95.9 153.6h0.5M91.9 153.6h0.5M93.8 142.9h0.5M90.5 160.2h0.5M90.2 155.3h0.5M93.2 159.0h0.5M91.2 148.5h0.5M101.2 151.2h0.5M98.6 144.6h0.5M93.2 154.5h0.5M99.2 168.6h0.5M96.1 149.3h0.5M90.1 150.9h0.5M91.1 157.4h0.5M90.2 154.1h0.5M97.8 164.8h0.5M86.6 149.7h0.5M91.6 163.9h0.5M91.7 167.8h0.5M94.1 164.8h0.5M90.0 153.7h0.5M96.2 159.3h0.5M86.6 154.0h0.5M93.4 159.7h0.5M90.7 166.7h0.5M93.3 164.9h0.5M94.2 156.2h0.5M91.8 148.3h0.5M95.7 160.5h0.5M96.0 153.3h0.5M89.5 153.3h0.5M91.8 155.6h0.5M96.1 150.0h0.5M91.2 160.1h0.5M95.9 169.7h0.5M94.6 150.4h0.5M89.4 150.7h0.5M93.1 157.3h0.5M92.6 151.8h0.5M92.2 155.2h0.5M94.8 156.2h0.5M90.1 148.3h0.5M97.8 155.2h0.5M92.3 155.6h0.5M96.6 153.7h0.5M93.4 154.2h0.5M94.8 149.3h0.5M93.5 162.2h0.5M96.8 159.6h0.5M93.8 165.6h0.5M95.2 164.5h0.5M88.8 148.8h0.5M95.5 154.0h0.5M91.4 149.7h0.5M97.8 148.2h0.5M93.2 146.9h0.5M92.3 169.9h0.5M101.0 152.6h0.5M89.5 166.0h0.5M90.0 144.5h0.5M94.0 148.9h0.5M88.0 162.8h0.5M90.4 149.0h0.5M93.4 154.5h0.5M96.6 156.3h0.5M98.1 162.9h0.5M98.8 162.8h0.5M93.1 159.1h0.5M92.9 145.9h0.5M88.9 160.4h0.5M85.0 150.5h0.5M88.6 155.3h0.5M89.4 157.3h0.5M92.2 152.8h0.5M90.0 141.7h0.5M93.1 147.6h0.5M91.9 158.0h0.5M96.3 160.1h0.5M97.8 146.8h0.5M95.1 165.6h0.5M94.2 148.7h0.5M94.2 152.5h0.5M90.7 162.4h0.5M92.3 148.7h0.5M90.6 168.1h0.5M90.0 160.0h0.5M93.4 163.1h0.5M91.9 149.8h0.5M90.7 149.2h0.5M101.5 156.9h0.5M91.8 163.6h0.5M95.0 154.6h0.5M94.9 157.4h0.5M96.6 166.1h0.5M91.8 155.5h0.5M92.2 163.4h0.5M94.1 160.6h0.5M95.8 151.7h0.5M93.3 164.4h0.5M95.9 160.8h0.5M91.9 153.5h0.5M90.0 154.0h0.5M92.6 146.7h0.5M96.7 150.9h0.5M93.7 159.5h0.5M91.0 144.3h0.5M96.1 158.3h0.5M92.0 162.8h0.5M95.8 149.7h0.5M92.6 144.6h0.5M92.0 164.6h0.5M90.1 160.9h0.5M87.8 153.9h0.5M96.0 166.5h0.5M94.4 160.5h0.5" stroke="#444" stroke-width="0.5" fill="none" opacity="1.0"/>
<path d="M115.6 136.0h0.6M101.8 155.1h0.6M122.0 145.3h0.6M109.4 147.3h0.6M108.5 144.4h0.6M108.7 146.1h0.6M112.9 147.9h0.6M114.4 147.2h0.6M105.1 152.4h0.6M95.4 150.4h0.6M110.1 144.3h0.6M117.5 140.4h0.6M102.5 146.3h0.6M111.7 148.6h0.6M110.0 148.6h0.6M104.8 145.4h0.6M108.4 141.8h0.6M109.5 144.9h0.6M111.5 142.2h0.6M105.7 145.3h0.6M106.2 143.6h0.6M106.4 142.3h0.6M112.2 148.1h0.6M108.7 145.9h0.6M103.5 144.4h0.6M107.0 143.7h0.6M103.1 148.6h0.6M108.4 145.1h0.6M104.7 147.4h0.6M105.0 145.9h0.6M110.5 148.7h0.6M112.2 143.5h0.6M114.0 141.0h0.6M109.1 151.1h0.6M121.1 143.8h0.6M106.7 145.7h0.6M102.6 147.6h0.6M106.1 144.5h0.6M114.3 142.3h0.6M118.2 147.1h0.6M111.6 143.7h0.6M104.6 140.4h0.6M110.0 145.2h0.6M110.3 143.7h0.6M110.1 140.8h0.6" stroke="#666" stroke-width="0.6" fill="none" opacity="1.0"/>
<path d="M88.0 163.5h0.5M126.0 149.5h0.5M128.4 160.4h0.5M111.6 155.8h0.5M101.9 164.5h0.5M104.9 161.6h0.5M111.7 169.4h0.5M123.8 156.6h0.5M107.9 157.3h0.5M97.4 159.1h0.5M126.3 161.9h0.5M121.3 161.2h0.5M108.6 162.0h0.5M112.6 169.2h0.5" stroke="#888" stroke-width="0.5" fill="none" opacity="1.0"/>
<clipPath id="cA107"><rect x="73.7" y="107.7" width="63.3" height="62.6"/></clipPath><g clip-path="url(#cA107)">
<g transform="rotate(0 81.8 146.4)">
<rect x="70.20" y="140.20" width="23.30" height="12.50" rx="6.19" ry="6.19" fill="#3a3a3a" opacity="0.8" filter="url(#b1)"/>
<rect x="70.80" y="140.80" width="22.10" height="11.30" rx="5.71" ry="5.71" fill="#333" opacity="1" filter="url(#b1)"/>
<rect x="74.4" y="142.6" width="16.8" height="7.4" rx="3.6" ry="3.6" fill="#707070" filter="url(#b05)"/>
<rect x="75.8" y="143.9" width="14.0" height="4.8" rx="2.4" ry="2.4" fill="#b4b4b4" filter="url(#b05)"/>
<ellipse cx="82.8" cy="146.3" rx="4.3" ry="1.4" fill="#acacac" filter="url(#b05)"/>
<ellipse cx="82.8" cy="146.3" rx="2.5" ry="0.7" fill="#a4a4a4" filter="url(#b05)" transform="rotate(-8 82.8 146.3)"/>
</g>
<g transform="rotate(3 80.8 162.9)">
<rect x="70.20" y="156.90" width="21.10" height="12.10" rx="5.99" ry="5.99" fill="#3a3a3a" opacity="0.8" filter="url(#b1)"/>
<rect x="70.80" y="157.50" width="19.90" height="10.90" rx="5.51" ry="5.51" fill="#262626" opacity="1" filter="url(#b05)"/>
<rect x="73.4" y="157.8" width="16.8" height="10.6" rx="5.2" ry="5.2" fill="#7a7a7a" filter="url(#b05)"/>
<rect x="74.8" y="159.1" width="14.0" height="8.0" rx="3.9" ry="3.9" fill="#d8d8d8" filter="url(#b05)"/>
<ellipse cx="81.1" cy="163.1" rx="4.3" ry="2.3" fill="#b0b0b0" filter="url(#b05)"/>
<ellipse cx="80.4" cy="163.0" rx="2.5" ry="1.0" fill="#5a5a5a" filter="url(#b05)" transform="rotate(-8 80.4 163.0)"/>
</g>
</g>
<rect x="97.6" y="137.9" width="39.0" height="20.2" fill="none" stroke="#999" stroke-width="0.6"/>
<rect x="97.6" y="158.1" width="39.0" height="12.000000000000002" fill="none" stroke="#999" stroke-width="0.6"/>
<text x="136.2" y="150.4" font-size="5.6" text-anchor="end" font-weight="normal" fill="#222" stroke="#222" stroke-width="0" >0.16</text>
<text x="136.2" y="166.6" font-size="5.6" text-anchor="end" font-weight="normal" fill="#222" stroke="#222" stroke-width="0" >7.68e-3</text>
<line x1="72.0" y1="113.60000000000001" x2="73.3" y2="113.60000000000001" stroke="#666" stroke-width="0.5"/>
<text x="71.1" y="115.2" font-size="3.4" text-anchor="end" fill="#555">10<tspan font-size="2.4" dy="-1.4">5</tspan></text>
<line x1="72.0" y1="127.4" x2="73.3" y2="127.4" stroke="#666" stroke-width="0.5"/>
<text x="71.1" y="129.0" font-size="3.4" text-anchor="end" fill="#555">10<tspan font-size="2.4" dy="-1.4">4</tspan></text>
<line x1="72.0" y1="141.6" x2="73.3" y2="141.6" stroke="#666" stroke-width="0.5"/>
<text x="71.1" y="143.2" font-size="3.4" text-anchor="end" fill="#555">10<tspan font-size="2.4" dy="-1.4">3</tspan></text>
<line x1="72.0" y1="157.4" x2="73.3" y2="157.4" stroke="#666" stroke-width="0.5"/>
<text x="71.1" y="159.0" font-size="3.4" text-anchor="end" fill="#555">10<tspan font-size="2.4" dy="-1.4">2</tspan></text>
<line x1="72.0" y1="164.9" x2="73.3" y2="164.9" stroke="#666" stroke-width="0.5"/>
<text x="70.7" y="166.1" font-size="3.4" text-anchor="end" font-weight="normal" fill="#555" stroke="#555" stroke-width="0" >0</text>
<line x1="81.0" y1="170.7" x2="81.0" y2="172.0" stroke="#666" stroke-width="0.5"/>
<text x="81.0" y="175.89999999999998" font-size="3.4" text-anchor="middle" font-weight="normal" fill="#555" stroke="#555" stroke-width="0" >0</text>
<line x1="86.8" y1="170.7" x2="86.8" y2="172.0" stroke="#666" stroke-width="0.5"/>
<text x="86.8" y="176.3" font-size="3.4" text-anchor="middle" fill="#555">10<tspan font-size="2.4" dy="-1.4">2</tspan></text>
<line x1="101.69999999999999" y1="170.7" x2="101.69999999999999" y2="172.0" stroke="#666" stroke-width="0.5"/>
<text x="101.7" y="176.3" font-size="3.4" text-anchor="middle" fill="#555">10<tspan font-size="2.4" dy="-1.4">3</tspan></text>
<line x1="116.4" y1="170.7" x2="116.4" y2="172.0" stroke="#666" stroke-width="0.5"/>
<text x="116.4" y="176.3" font-size="3.4" text-anchor="middle" fill="#555">10<tspan font-size="2.4" dy="-1.4">4</tspan></text>
<line x1="130.3" y1="170.7" x2="130.3" y2="172.0" stroke="#666" stroke-width="0.5"/>
<text x="130.3" y="176.3" font-size="3.4" text-anchor="middle" fill="#555">10<tspan font-size="2.4" dy="-1.4">5</tspan></text>
<text x="54.8" y="66.6" font-size="10.7" text-anchor="end" font-weight="normal" fill="#000" stroke="#000" stroke-width="0.13" >Tg</text>
<text x="54.8" y="146" font-size="10.7" text-anchor="end" font-weight="normal" fill="#000" stroke="#000" stroke-width="0.13" >Non-Tg</text>
<line x1="59.2" y1="25" x2="59.2" y2="87.7" stroke="#111" stroke-width="1.2"/>
<line x1="59.2" y1="108" x2="59.2" y2="183" stroke="#111" stroke-width="1.2"/>
<text transform="translate(61.8 97.4) rotate(-90)" font-size="7" text-anchor="middle" fill="#222">CD8α</text>
<line x1="58.6" y1="182.5" x2="91.7" y2="182.5" stroke="#111" stroke-width="1.1"/>
<text x="104.8" y="184.6" font-size="6.8" text-anchor="middle" fill="#333">M45-D<tspan font-size="4" dy="-2.4">b</tspan></text>
<line x1="117.6" y1="182.5" x2="137.7" y2="182.5" stroke="#111" stroke-width="1.1"/>
<rect x="243.0" y="28" width="63.2" height="63" fill="#fff" stroke="#909090" stroke-width="0.8"/>
<line x1="284.3" y1="28" x2="284.3" y2="91" stroke="#aaa" stroke-width="0.7"/>
<line x1="243.0" y1="67.2" x2="306.2" y2="67.2" stroke="#aaa" stroke-width="0.7"/>
<polygon points="253.3,68.9 258.3,58.3 265.2,48.2 276.7,44.9 290.5,45.4 288.7,56.0 283.2,68.9" fill="#1c1c1c" opacity="0.6900000000000001" filter="url(#b3)"/>
<polygon points="260.4,66.7 263.7,58.7 268.2,51.0 275.7,48.5 284.7,48.9 283.5,56.9 279.9,66.7" fill="#1c1c1c" opacity="0.552" filter="url(#b3)"/>
<polygon points="262.7,67.3 265.2,60.4 268.6,53.8 274.2,51.7 280.9,52.0 280.0,58.9 277.3,67.3" fill="#1c1c1c" opacity="0.322" filter="url(#b2)"/>
<path d="M283.6 70.5h.6M268.6 55.1h.6M280.4 46.9h.6M255.8 69.7h.6M278.6 47.5h.6M274.3 43.4h.6M274.6 62.7h.6M263.8 62.9h.6M261.8 56.4h.6M270.4 46.9h.6M281.0 66.6h.6M266.9 73.6h.6M263.1 57.2h.6M289.4 66.6h.6M281.2 56.5h.6M276.1 61.9h.6M260.9 60.9h.6M274.4 58.4h.6M256.8 65.7h.6M269.2 64.0h.6M261.4 55.4h.6M256.0 64.4h.6M283.2 64.8h.6M288.8 47.3h.6M260.5 67.3h.6M256.8 60.2h.6M272.5 47.8h.6M282.8 61.5h.6M281.4 56.3h.6M281.7 59.9h.6M272.4 65.5h.6M270.4 58.3h.6M273.6 60.5h.6M284.2 62.6h.6M262.8 53.3h.6M267.4 61.7h.6M274.5 71.4h.6M285.9 54.7h.6M265.7 53.7h.6M282.4 48.7h.6M260.4 58.2h.6M267.6 49.0h.6M281.7 68.1h.6M282.1 47.3h.6M273.3 47.1h.6M290.6 47.4h.6M284.9 64.6h.6M258.9 66.6h.6M291.9 49.4h.6M284.6 44.5h.6M284.6 53.0h.6M280.9 56.1h.6M287.5 64.5h.6M261.4 61.3h.6M280.7 62.2h.6M285.4 53.1h.6M271.9 64.0h.6M272.8 56.2h.6M278.6 67.9h.6M280.9 65.0h.6M279.6 54.4h.6M266.4 64.7h.6M278.4 67.8h.6M275.3 60.2h.6M279.4 61.8h.6M268.9 61.1h.6M257.5 64.3h.6M270.9 47.2h.6M283.6 45.8h.6M257.7 66.6h.6M259.3 51.0h.6M271.9 69.9h.6M283.6 49.0h.6M255.4 62.0h.6M271.4 53.7h.6M274.0 68.2h.6M276.0 52.9h.6M274.1 51.5h.6M268.3 59.6h.6M273.1 61.0h.6M267.7 64.7h.6M281.9 44.0h.6M278.1 65.2h.6M286.6 42.5h.6M284.7 48.9h.6M277.0 63.9h.6M292.6 46.7h.6M277.1 56.4h.6M289.5 51.9h.6M280.4 57.8h.6M266.5 66.2h.6M260.6 53.7h.6M273.8 61.5h.6M273.3 62.7h.6M280.9 59.7h.6M280.0 68.3h.6M274.8 56.8h.6M263.0 62.3h.6M266.4 63.2h.6M271.9 56.3h.6M275.2 54.7h.6M270.2 58.6h.6M272.9 48.0h.6M260.2 56.4h.6M260.3 67.9h.6M266.1 67.6h.6M283.0 45.4h.6M282.2 60.0h.6M254.2 66.2h.6M257.5 59.2h.6M281.8 60.1h.6M289.0 45.4h.6M283.1 53.1h.6M276.1 67.9h.6M259.2 69.5h.6M281.8 60.2h.6M283.1 57.3h.6M286.9 56.9h.6M267.7 56.4h.6M282.2 69.6h.6M276.6 69.0h.6M280.8 49.1h.6M255.9 68.3h.6M265.4 57.5h.6M277.9 64.1h.6M272.5 49.9h.6M253.5 68.6h.6M274.9 56.4h.6M275.9 65.0h.6M254.6 68.8h.6M283.6 67.4h.6M274.7 65.1h.6M273.2 64.6h.6M279.8 50.6h.6M263.2 58.0h.6M260.5 53.0h.6M255.0 69.4h.6M271.1 61.4h.6M276.5 56.2h.6M266.1 62.6h.6M261.7 56.8h.6M284.0 61.4h.6M272.6 63.1h.6M285.8 49.8h.6M283.0 56.2h.6M265.7 47.7h.6M288.6 53.5h.6M267.5 68.5h.6M267.9 48.2h.6M270.8 61.9h.6M270.1 62.4h.6M282.1 45.5h.6M281.3 64.8h.6M280.0 68.8h.6M266.4 64.8h.6M258.8 70.7h.6M266.0 62.6h.6M283.4 55.9h.6M283.7 63.5h.6M275.1 54.2h.6M287.4 46.7h.6M278.0 61.6h.6M283.0 64.1h.6M282.1 57.2h.6M279.8 65.7h.6M264.1 64.1h.6M264.8 54.1h.6M290.8 44.3h.6M279.9 64.0h.6M278.7 49.7h.6M261.6 58.0h.6M277.8 68.8h.6M280.9 52.7h.6M280.7 50.4h.6M279.6 52.4h.6M285.8 55.1h.6M289.2 53.9h.6M279.8 67.0h.6M263.5 54.6h.6M254.5 67.6h.6M277.8 48.3h.6M267.2 58.2h.6M283.7 61.5h.6M266.8 60.9h.6M264.6 49.2h.6M281.3 63.8h.6M283.4 57.1h.6M278.2 67.8h.6M279.5 52.6h.6M273.9 53.3h.6M256.4 67.2h.6M263.3 57.4h.6M262.2 52.5h.6M280.8 48.5h.6M283.2 48.2h.6M253.8 67.1h.6M280.2 59.5h.6M275.5 58.9h.6M261.8 50.6h.6M264.5 55.9h.6M266.6 66.3h.6M263.1 58.2h.6M269.7 46.8h.6M266.5 50.4h.6M282.5 54.5h.6M271.6 69.6h.6M258.8 67.8h.6M271.8 62.1h.6M278.2 44.2h.6M273.4 54.4h.6M284.9 48.6h.6M266.4 67.1h.6M284.6 51.8h.6M268.9 62.2h.6M259.6 56.5h.6M271.0 46.4h.6M278.8 60.6h.6M258.2 60.9h.6M273.1 55.9h.6M273.4 50.9h.6M259.2 62.1h.6M256.5 70.3h.6M282.9 56.0h.6M283.3 65.6h.6M270.1 56.0h.6M286.4 55.7h.6M280.8 56.3h.6M259.3 70.8h.6M288.5 43.7h.6M258.6 67.8h.6M275.6 67.8h.6M279.3 62.6h.6M279.6 64.5h.6M251.0 68.9h.6M282.0 56.8h.6M277.3 65.5h.6M280.4 57.9h.6M279.7 68.3h.6M279.7 48.6h.6M263.5 70.3h.6M270.7 71.8h.6M284.1 57.6h.6M283.0 58.5h.6M276.9 45.8h.6M268.7 63.0h.6M273.5 57.6h.6M276.5 45.8h.6M257.2 63.8h.6M284.4 45.0h.6M278.7 67.7h.6M277.8 48.1h.6M265.4 48.6h.6M270.5 45.4h.6M287.7 45.0h.6M257.3 59.6h.6M260.2 54.4h.6M261.8 52.3h.6M270.7 57.4h.6M254.5 66.3h.6M254.9 64.4h.6M264.4 55.5h.6M276.2 47.0h.6M257.3 67.6h.6M275.1 60.5h.6M267.0 60.6h.6M259.7 55.5h.6M266.0 60.0h.6M276.3 55.4h.6M263.9 61.9h.6M257.0 61.8h.6M281.8 71.3h.6M285.4 50.1h.6M281.0 54.2h.6M285.1 54.1h.6M273.3 49.0h.6M277.2 52.2h.6M279.0 46.5h.6M259.5 67.8h.6M269.0 59.2h.6M267.8 68.3h.6M265.2 57.0h.6M286.1 60.5h.6M266.6 52.8h.6M280.7 67.0h.6M290.3 47.4h.6M269.1 59.7h.6M263.1 65.6h.6M267.5 53.5h.6M266.0 58.9h.6M283.3 57.7h.6M272.9 51.4h.6M266.7 48.3h.6M286.2 45.8h.6M269.2 59.3h.6M287.1 57.9h.6M261.2 60.4h.6M276.6 68.2h.6M264.5 63.1h.6M261.5 59.2h.6M283.9 48.7h.6M257.3 64.3h.6M284.3 57.9h.6M271.0 59.0h.6M257.3 60.7h.6M271.5 53.7h.6M277.7 46.0h.6M266.9 56.3h.6M274.7 61.8h.6M269.8 65.1h.6M282.7 56.8h.6M276.4 48.6h.6M260.9 59.6h.6M269.7 51.8h.6M271.5 52.3h.6M277.7 48.2h.6M290.6 52.9h.6M267.7 57.2h.6M284.2 58.1h.6M284.3 59.5h.6M280.1 62.5h.6M284.2 59.4h.6M269.2 67.4h.6M272.5 58.0h.6M282.2 60.1h.6M260.2 61.7h.6M288.1 54.9h.6M284.9 56.3h.6M286.9 47.0h.6M273.2 47.9h.6M291.2 47.2h.6M266.3 50.1h.6M263.8 60.6h.6M284.6 59.4h.6M283.6 59.5h.6M269.1 46.0h.6M275.6 45.9h.6M279.0 58.2h.6M278.3 47.1h.6M283.6 46.4h.6M286.5 47.2h.6M276.4 64.4h.6M269.0 55.2h.6M288.5 52.0h.6M262.1 58.0h.6M281.7 62.2h.6M274.7 44.0h.6M276.6 65.4h.6M276.6 60.3h.6M291.4 57.0h.6M284.2 67.1h.6M271.6 52.8h.6M290.1 52.6h.6M260.7 64.6h.6M272.3 46.8h.6M290.8 48.4h.6M286.4 57.0h.6M278.6 51.2h.6M267.0 64.5h.6M272.8 66.6h.6M269.7 48.3h.6M268.9 68.6h.6M272.1 62.9h.6M266.0 64.7h.6M274.0 62.7h.6M269.1 52.7h.6M272.6 55.9h.6M259.9 63.5h.6M273.2 67.8h.6M265.6 53.4h.6M280.6 67.7h.6M280.0 56.0h.6M276.3 59.8h.6M289.3 49.0h.6M278.0 49.7h.6M271.9 52.4h.6M282.6 49.2h.6M277.4 51.7h.6M267.8 61.2h.6M277.2 49.3h.6M258.9 61.9h.6M279.1 62.7h.6M270.6 68.0h.6M271.6 50.5h.6M267.9 64.4h.6M285.4 57.3h.6M267.6 59.4h.6M284.7 68.3h.6M255.2 60.5h.6M279.0 48.6h.6M258.4 67.0h.6M281.2 55.7h.6M255.6 63.7h.6M267.9 53.4h.6M269.7 47.3h.6M278.0 65.0h.6M278.3 66.5h.6M289.4 49.5h.6M285.9 49.2h.6M266.2 50.6h.6M273.6 51.9h.6M259.7 63.2h.6M280.1 59.8h.6M279.5 69.6h.6M259.2 55.4h.6M276.8 58.3h.6M266.1 47.2h.6M274.5 65.2h.6M258.2 65.7h.6M284.1 58.7h.6M272.0 59.1h.6M272.3 68.8h.6M268.9 56.8h.6M258.4 65.8h.6M273.3 68.3h.6M272.5 59.3h.6M271.9 54.2h.6M286.4 49.4h.6M263.0 69.1h.6M258.7 60.7h.6M265.1 58.2h.6M287.0 48.0h.6M285.9 51.8h.6M284.5 42.8h.6M278.2 71.2h.6M288.6 47.4h.6M260.4 52.0h.6M287.7 55.6h.6M262.4 70.4h.6M284.0 58.9h.6M260.5 64.4h.6M261.3 69.0h.6M279.8 52.1h.6M275.4 55.6h.6M277.2 61.2h.6M263.8 59.7h.6M271.3 58.1h.6M284.7 46.2h.6M282.2 49.9h.6M264.9 58.4h.6M278.5 52.5h.6M273.6 49.8h.6M268.6 54.5h.6M270.8 53.5h.6M272.0 58.2h.6M270.5 60.8h.6M267.1 61.5h.6M277.8 46.7h.6M281.8 54.1h.6M291.4 51.0h.6M270.0 57.2h.6M263.0 59.6h.6M260.9 66.2h.6M262.2 60.7h.6M261.0 53.0h.6M277.7 57.3h.6M267.9 67.7h.6M276.0 56.7h.6M275.1 71.8h.6M274.7 53.5h.6M268.7 57.2h.6M273.3 44.4h.6M276.9 53.5h.6M271.5 66.3h.6M277.1 64.3h.6M262.9 60.7h.6M288.6 54.3h.6M271.3 57.1h.6M275.2 51.3h.6M277.6 47.6h.6M271.5 51.0h.6M275.1 52.4h.6M257.7 64.0h.6M282.4 70.0h.6M268.8 51.8h.6M272.8 60.2h.6M262.6 52.4h.6M259.0 67.6h.6M271.2 61.7h.6M272.7 48.9h.6M266.0 62.4h.6M261.0 54.0h.6M260.5 56.4h.6M260.4 61.7h.6M274.2 58.3h.6M278.9 65.2h.6M286.6 57.8h.6M250.3 69.4h.6M280.7 46.2h.6M280.2 53.8h.6M283.5 63.3h.6M256.7 63.1h.6M275.8 67.8h.6M275.1 60.2h.6M286.4 64.7h.6M271.3 51.9h.6M269.9 52.1h.6M270.7 54.9h.6M287.8 48.3h.6M278.2 62.0h.6M273.6 69.0h.6M266.0 61.8h.6M287.7 54.9h.6M271.3 48.0h.6M267.7 55.1h.6M280.8 53.1h.6M268.5 70.8h.6M270.2 55.3h.6M272.2 61.8h.6M257.1 61.7h.6M282.7 55.0h.6M260.4 59.3h.6M265.6 56.7h.6M264.5 62.9h.6M272.9 47.3h.6M257.7 55.7h.6M267.5 63.7h.6M273.3 63.2h.6M266.3 47.0h.6M261.9 58.9h.6M284.9 57.6h.6M290.5 52.8h.6M257.1 64.2h.6M282.3 58.8h.6M282.8 48.3h.6M270.5 53.6h.6M284.0 52.7h.6M282.7 46.9h.6M286.7 50.4h.6M282.6 57.2h.6M268.4 67.7h.6M277.5 65.7h.6M284.2 57.9h.6M289.3 53.0h.6M267.7 61.4h.6M266.9 60.9h.6M286.7 49.1h.6M274.5 63.1h.6M266.8 60.6h.6M260.7 60.1h.6M262.8 57.4h.6M273.3 55.1h.6M290.9 43.9h.6M275.3 49.0h.6M264.8 55.7h.6M286.2 47.7h.6M254.1 72.4h.6M268.5 58.8h.6M272.7 60.8h.6M277.3 48.4h.6M278.0 58.4h.6M257.4 61.9h.6M268.8 52.7h.6M281.0 49.3h.6M262.2 64.2h.6M281.4 57.4h.6M278.2 51.5h.6M262.4 50.0h.6M271.3 69.6h.6M277.7 48.5h.6M273.3 69.5h.6M253.8 72.1h.6M254.8 67.2h.6M259.0 54.5h.6M287.9 45.2h.6M284.2 53.5h.6M263.3 51.6h.6M282.6 56.5h.6M258.4 61.6h.6M273.9 50.8h.6M265.8 61.5h.6M270.6 49.7h.6M266.9 58.0h.6M268.7 46.2h.6M274.9 46.8h.6M272.8 49.5h.6M286.3 45.0h.6M268.1 61.9h.6M279.0 45.1h.6M268.5 49.0h.6M283.0 53.1h.6M286.4 56.4h.6M280.0 67.9h.6M283.9 50.4h.6M275.2 64.9h.6M260.0 62.4h.6M261.3 52.4h.6M278.6 43.9h.6M286.1 57.1h.6M282.1 60.6h.6M279.6 66.8h.6M269.4 65.0h.6M283.0 49.4h.6M258.9 67.1h.6M261.6 68.3h.6M284.4 62.0h.6M281.6 59.5h.6M269.0 67.7h.6M275.0 72.5h.6M277.3 70.3h.6M278.3 64.2h.6M263.4 56.9h.6M262.4 68.5h.6M289.7 46.6h.6M281.5 44.6h.6M290.1 52.2h.6M268.9 47.6h.6M277.8 46.1h.6M257.9 68.4h.6M262.6 62.3h.6M277.8 44.3h.6M274.1 49.5h.6M265.8 58.3h.6M286.7 52.7h.6M285.3 68.0h.6M280.1 44.5h.6M257.0 65.8h.6M283.8 45.0h.6M275.5 45.8h.6M284.3 67.6h.6M264.3 68.1h.6M265.0 63.0h.6M262.4 51.8h.6M258.8 61.6h.6M284.0 50.1h.6M265.6 62.6h.6M259.6 54.4h.6M279.1 54.6h.6M276.5 62.3h.6M279.7 62.3h.6M273.1 48.9h.6M264.0 57.4h.6M259.5 59.9h.6M284.6 66.0h.6M266.0 51.0h.6M266.9 49.7h.6M288.5 47.0h.6M261.0 56.7h.6M281.3 46.9h.6M277.3 51.7h.6M272.4 53.7h.6M275.0 56.4h.6M282.6 55.6h.6M285.3 56.5h.6M271.8 53.4h.6M259.2 57.7h.6M281.8 52.1h.6M256.5 61.7h.6M273.0 48.5h.6M282.6 58.6h.6M255.0 66.1h.6M266.6 59.0h.6M289.2 51.9h.6M288.6 49.2h.6M270.7 50.2h.6M270.8 54.9h.6M280.0 58.2h.6M274.1 48.0h.6M266.6 54.1h.6M269.6 66.5h.6M262.7 52.9h.6M287.5 46.6h.6M283.4 57.9h.6M274.6 62.4h.6M265.4 63.9h.6M270.2 54.4h.6M262.4 56.1h.6M268.4 45.8h.6M279.2 67.1h.6M274.4 66.7h.6M281.4 58.2h.6M273.0 55.4h.6M253.8 67.2h.6M264.8 65.2h.6M271.2 47.9h.6M267.8 55.7h.6M290.1 57.9h.6M256.7 63.4h.6M259.3 60.1h.6M280.7 69.3h.6M260.8 57.4h.6M269.2 48.6h.6M286.9 61.6h.6M269.7 52.7h.6M273.8 49.0h.6M272.0 61.4h.6M279.4 54.2h.6M255.5 67.8h.6M286.2 54.0h.6M262.8 58.8h.6M271.2 65.9h.6M280.5 49.9h.6M292.1 55.3h.6M261.0 70.3h.6M264.0 69.3h.6M272.2 62.0h.6M262.2 49.7h.6M277.0 68.6h.6M289.5 55.9h.6M268.8 60.2h.6M276.2 61.7h.6M263.2 60.5h.6M261.1 59.2h.6M281.0 44.8h.6M275.1 64.7h.6M274.0 60.5h.6M266.2 48.5h.6M280.6 59.6h.6M279.5 66.0h.6M279.8 67.3h.6M266.3 49.9h.6M271.2 52.0h.6M276.4 60.9h.6M279.9 40.9h.6M280.1 45.9h.6M277.3 64.1h.6M286.5 57.7h.6M289.5 60.6h.6M289.7 49.5h.6M288.4 55.3h.6M266.0 65.5h.6M258.1 67.4h.6M271.0 54.1h.6M273.8 68.0h.6M286.3 48.5h.6M253.7 58.3h.6M287.8 50.9h.6M284.5 48.1h.6M271.2 58.0h.6M271.7 52.2h.6M276.9 60.7h.6M282.0 71.0h.6M263.6 46.5h.6M266.6 49.1h.6M273.2 69.0h.6M281.3 66.0h.6M255.9 65.7h.6M258.1 65.1h.6M270.0 60.4h.6M273.9 55.6h.6M280.1 63.1h.6M268.4 54.9h.6M273.4 54.1h.6M260.1 56.4h.6M286.4 51.8h.6M289.8 47.6h.6M271.1 56.0h.6M271.6 56.9h.6M266.5 54.4h.6M260.3 57.5h.6M273.7 59.0h.6M285.9 64.3h.6M282.6 56.4h.6M285.3 52.5h.6M258.7 56.9h.6M289.4 50.1h.6M290.1 56.1h.6M268.0 49.0h.6M273.2 63.1h.6M279.3 68.2h.6M287.5 54.8h.6M277.7 66.0h.6M287.2 51.3h.6M279.8 51.7h.6M269.3 70.9h.6M276.9 44.7h.6M280.0 60.9h.6M274.7 61.0h.6M257.4 58.7h.6M272.2 62.9h.6M267.0 66.3h.6M286.1 50.5h.6M288.1 54.1h.6M262.0 62.7h.6M268.7 65.4h.6M281.6 48.2h.6M267.9 63.9h.6M269.1 46.8h.6M275.4 53.0h.6M273.0 69.2h.6M270.3 55.3h.6M272.6 50.9h.6M289.3 56.9h.6M273.9 54.2h.6M276.2 50.7h.6M271.6 59.3h.6M263.8 63.9h.6M260.6 60.4h.6M286.1 64.5h.6M279.7 58.8h.6M270.2 54.0h.6M280.9 64.9h.6M280.3 44.8h.6M274.4 49.7h.6M262.5 58.7h.6M279.5 60.4h.6M275.6 62.7h.6M275.3 49.6h.6M288.6 54.8h.6M264.0 69.3h.6M270.5 60.0h.6M269.0 64.1h.6M285.2 45.2h.6M257.8 67.7h.6M285.9 52.2h.6M272.0 51.9h.6M274.2 59.6h.6M277.7 47.8h.6M290.7 47.9h.6M290.3 50.8h.6M266.8 65.2h.6M273.1 47.9h.6M272.6 61.0h.6M286.1 48.1h.6M285.5 52.2h.6M283.4 64.3h.6M263.7 55.0h.6M290.5 58.3h.6M266.5 56.7h.6M261.6 58.9h.6M272.6 47.3h.6M284.8 59.7h.6M268.4 63.9h.6M279.9 58.2h.6M264.0 61.6h.6M264.4 49.1h.6M257.0 60.4h.6M280.0 54.5h.6M274.8 59.3h.6M278.2 52.3h.6M284.9 57.5h.6M273.9 70.3h.6M276.4 55.9h.6M272.1 52.5h.6M250.7 65.0h.6M271.6 55.4h.6M261.7 70.4h.6M264.1 61.1h.6M274.7 54.6h.6M266.3 65.5h.6M271.7 47.0h.6M282.7 47.4h.6M263.0 70.4h.6M284.9 47.7h.6M265.9 51.1h.6M280.7 57.4h.6M265.4 49.8h.6M271.4 64.0h.6M276.8 62.0h.6M277.4 43.7h.6M274.9 64.1h.6M276.3 49.8h.6M280.0 56.1h.6M268.9 59.1h.6M281.1 66.9h.6M260.8 54.2h.6M273.6 49.9h.6M273.0 62.1h.6M270.1 66.7h.6M282.3 59.1h.6M276.7 69.8h.6M273.4 57.4h.6M264.6 65.0h.6M273.4 57.7h.6M277.3 70.8h.6M254.2 71.8h.6M275.5 49.8h.6M269.4 59.6h.6M278.9 47.3h.6M280.3 43.9h.6M282.7 48.5h.6M256.7 63.0h.6M272.8 68.7h.6M272.2 67.1h.6M285.4 45.5h.6M286.8 47.6h.6M288.0 43.6h.6M276.4 73.4h.6M274.6 70.9h.6M281.4 59.7h.6M276.3 67.8h.6M282.0 46.0h.6M281.9 62.4h.6M289.7 49.8h.6M263.5 60.7h.6M263.7 61.1h.6M274.8 45.4h.6M283.3 49.2h.6M285.8 59.3h.6M260.2 57.9h.6M282.7 50.2h.6M288.1 58.9h.6M290.8 45.5h.6M280.9 49.5h.6M263.4 48.7h.6M260.7 62.7h.6M279.4 58.4h.6M267.4 48.8h.6M283.8 67.5h.6M270.1 46.6h.6M280.9 59.5h.6M289.2 57.5h.6M266.8 55.3h.6M255.4 60.7h.6M282.6 58.2h.6M272.2 59.2h.6M264.9 63.3h.6M259.0 56.9h.6M283.5 64.7h.6M263.2 68.3h.6M284.6 64.9h.6M285.8 57.2h.6M255.3 63.5h.6M287.6 52.1h.6M277.0 60.2h.6M271.6 46.5h.6M269.0 61.7h.6M262.4 68.4h.6M278.4 51.6h.6M281.5 70.3h.6M282.1 67.7h.6M264.9 48.3h.6M276.6 47.0h.6M259.3 71.6h.6M277.5 69.7h.6M277.1 60.9h.6M282.7 45.0h.6M259.8 53.0h.6M253.1 70.1h.6M284.6 46.0h.6M282.1 61.9h.6M284.4 51.1h.6M274.6 66.4h.6M281.1 48.1h.6M272.7 59.5h.6M271.4 54.5h.6M272.3 64.1h.6M257.5 69.7h.6M285.1 56.7h.6M278.5 53.5h.6M284.8 47.7h.6M278.1 54.7h.6M271.5 47.4h.6M271.5 49.6h.6M271.8 51.8h.6M260.2 62.9h.6M285.7 52.4h.6M286.3 47.6h.6M272.8 55.8h.6M274.1 60.8h.6M257.2 59.5h.6M269.2 61.9h.6M280.9 71.5h.6M277.9 49.1h.6M282.6 68.9h.6M272.0 59.0h.6M265.3 47.2h.6M280.4 60.8h.6M274.7 65.4h.6M272.7 66.9h.6M274.6 58.0h.6M267.6 60.5h.6M264.7 65.7h.6M270.1 46.8h.6M272.8 50.4h.6M272.6 66.2h.6M253.8 64.6h.6M285.2 48.7h.6M276.9 46.0h.6M280.2 46.8h.6M283.7 61.0h.6M269.5 63.0h.6M269.9 67.8h.6M280.0 59.1h.6M278.0 65.8h.6M277.2 50.0h.6M281.5 53.5h.6M262.3 49.5h.6M258.7 68.3h.6M265.5 68.8h.6M280.5 51.5h.6M268.7 59.8h.6M258.9 60.8h.6M267.5 48.9h.6M262.9 54.3h.6M280.7 51.1h.6M267.4 63.4h.6M263.6 68.3h.6M285.7 42.3h.6M285.9 46.1h.6M279.8 50.0h.6M282.6 49.2h.6M265.5 51.3h.6M255.9 60.0h.6M277.4 46.8h.6M270.9 59.0h.6M273.7 47.4h.6M282.5 56.2h.6M284.8 47.2h.6M280.6 47.2h.6M282.8 66.3h.6M261.4 53.3h.6M277.3 50.1h.6M283.2 52.9h.6M277.7 54.3h.6M266.4 53.7h.6M256.0 61.3h.6M283.9 65.3h.6M286.3 51.1h.6M279.2 62.3h.6M267.3 53.5h.6M275.6 54.7h.6M263.0 54.2h.6M265.6 66.0h.6M261.2 63.9h.6M285.6 53.8h.6M261.1 65.0h.6M283.0 51.3h.6M285.8 55.8h.6M272.2 54.9h.6M275.5 52.8h.6M278.8 57.0h.6M257.2 64.7h.6M288.3 52.0h.6M284.4 61.2h.6M285.2 59.2h.6M276.8 63.8h.6M266.8 61.5h.6M261.9 54.2h.6M288.6 58.0h.6M259.6 59.0h.6M292.1 48.9h.6M269.7 65.8h.6M266.4 58.8h.6M272.4 48.8h.6M261.6 63.4h.6M279.1 52.5h.6M271.0 65.4h.6M270.3 60.6h.6M275.0 67.7h.6M263.3 54.2h.6M259.7 62.6h.6M276.6 50.8h.6M280.9 48.5h.6M276.9 49.5h.6M265.9 61.4h.6M263.9 52.7h.6M260.6 50.2h.6M266.1 66.4h.6M264.4 49.9h.6M285.1 65.7h.6M279.0 44.9h.6M282.8 66.5h.6M276.1 62.0h.6M279.6 59.1h.6M262.2 58.1h.6M290.8 49.8h.6M290.0 49.2h.6M268.5 63.7h.6M288.0 53.3h.6M265.1 66.0h.6M269.0 47.2h.6M284.5 53.2h.6M266.6 67.8h.6M269.9 53.0h.6M259.3 67.8h.6M278.5 69.3h.6M285.8 50.8h.6M280.0 62.4h.6M289.1 59.9h.6M287.6 47.3h.6M281.7 55.6h.6M254.7 69.8h.6M274.9 51.3h.6M271.8 50.8h.6M256.1 66.2h.6M267.2 47.2h.6M263.8 67.8h.6M275.3 52.3h.6M263.8 48.2h.6M262.5 58.8h.6M266.2 60.2h.6M253.6 70.2h.6M286.2 49.9h.6M269.9 63.7h.6M257.8 61.8h.6M276.3 45.3h.6M270.6 69.3h.6M272.0 52.1h.6M290.2 48.4h.6M269.1 68.1h.6M282.4 65.1h.6M284.6 57.4h.6M276.8 54.5h.6M254.8 64.8h.6M275.0 48.0h.6M272.9 50.7h.6M263.7 48.2h.6M287.7 53.9h.6M272.9 60.0h.6M270.1 55.9h.6M253.8 63.7h.6M266.4 51.2h.6M281.6 46.5h.6M279.7 53.3h.6M281.8 69.1h.6M256.6 59.9h.6M274.4 55.0h.6M278.9 62.9h.6M287.0 46.1h.6M277.2 61.4h.6M277.2 63.1h.6M264.8 56.3h.6M275.7 65.1h.6M257.2 65.0h.6M288.6 48.4h.6M265.5 51.8h.6M267.6 59.9h.6M277.9 69.7h.6M270.6 60.3h.6M291.6 44.9h.6M258.9 62.4h.6M290.3 51.5h.6M272.3 47.8h.6M262.8 51.6h.6M278.7 64.0h.6M279.0 66.0h.6M284.3 60.6h.6M283.6 59.4h.6M272.4 68.0h.6M267.0 62.1h.6M277.9 53.8h.6M287.4 53.1h.6M261.1 63.9h.6M269.7 67.0h.6M291.2 45.5h.6M288.7 41.2h.6M285.4 59.9h.6M277.1 55.2h.6M269.9 54.2h.6M284.0 41.6h.6M277.6 65.7h.6M285.1 66.8h.6M268.1 64.1h.6M280.6 64.1h.6M262.7 58.5h.6M263.2 54.9h.6M255.2 64.2h.6M288.6 55.1h.6M269.2 64.9h.6M275.3 60.4h.6M274.9 54.8h.6M279.9 68.2h.6M264.2 55.9h.6M279.4 49.5h.6M263.8 64.5h.6M271.6 59.8h.6M291.8 55.5h.6M256.1 66.2h.6M259.8 62.9h.6M271.0 58.2h.6M277.4 66.7h.6M265.4 59.8h.6M284.2 69.8h.6M271.7 59.6h.6M281.7 46.6h.6M271.1 49.9h.6M271.0 55.4h.6M268.4 53.2h.6M281.7 55.7h.6M289.4 52.4h.6M271.3 64.1h.6M262.9 49.8h.6M274.8 66.6h.6M278.0 48.1h.6M264.6 59.1h.6M258.5 65.8h.6M263.2 69.7h.6M279.4 48.5h.6M262.6 60.7h.6M266.6 54.5h.6M275.9 60.6h.6M288.3 52.8h.6M261.3 53.4h.6M272.1 53.7h.6M290.0 51.4h.6M274.5 50.7h.6M280.0 43.4h.6M270.7 51.2h.6M283.4 56.1h.6M263.9 57.8h.6M281.5 56.3h.6M282.0 45.3h.6M286.5 47.5h.6M258.3 63.6h.6M266.8 60.2h.6M282.3 67.9h.6M272.7 51.2h.6M278.5 61.9h.6M271.4 60.8h.6M286.5 54.1h.6M272.8 68.2h.6M256.4 68.4h.6M272.4 62.4h.6M281.4 65.0h.6M272.8 64.7h.6M281.3 59.3h.6M265.2 58.0h.6M285.1 48.2h.6M267.2 70.5h.6M274.6 54.4h.6M281.9 59.9h.6M286.6 42.7h.6M271.9 53.5h.6M272.7 47.0h.6M265.2 63.8h.6M257.8 59.4h.6M262.4 53.2h.6M283.9 68.5h.6M261.5 53.5h.6M276.1 51.1h.6M257.0 66.2h.6M283.7 50.1h.6M270.2 55.6h.6M256.0 63.4h.6M269.2 47.6h.6M270.7 47.5h.6M269.1 58.9h.6M287.4 54.6h.6M276.5 51.9h.6M284.8 67.7h.6M267.7 58.6h.6M276.2 48.6h.6M275.3 66.4h.6M270.7 64.6h.6M288.9 44.3h.6M284.3 57.7h.6M259.9 68.9h.6M268.3 65.4h.6M263.4 62.7h.6M255.1 64.2h.6M274.5 66.0h.6M264.2 51.6h.6M262.9 58.3h.6M275.1 53.8h.6M278.0 44.4h.6M291.3 65.4h.6M273.2 67.2h.6M280.0 50.0h.6M278.4 64.8h.6M260.3 69.1h.6M289.5 49.6h.6M256.2 69.3h.6M275.1 58.2h.6M279.0 66.0h.6M283.6 58.1h.6M282.1 65.4h.6M259.5 64.5h.6M258.5 70.3h.6M287.3 51.1h.6M269.7 61.0h.6M283.6 63.3h.6M280.1 67.8h.6M256.4 68.6h.6M261.7 58.1h.6M277.4 56.1h.6M275.9 49.6h.6M261.5 65.4h.6M280.3 59.1h.6M280.4 60.1h.6M284.0 53.0h.6M264.4 57.9h.6M279.5 64.8h.6M282.8 65.0h.6M284.8 50.6h.6M274.8 47.3h.6M254.1 70.8h.6M278.9 59.5h.6M283.0 48.6h.6M282.5 68.7h.6M264.6 66.7h.6M275.6 49.9h.6M274.6 60.3h.6M279.0 48.1h.6M279.9 71.0h.6M287.3 60.6h.6M265.7 54.9h.6M267.8 47.4h.6M283.4 49.8h.6M282.1 48.2h.6M271.7 53.1h.6M269.2 60.3h.6M269.7 49.1h.6M273.9 46.4h.6M273.5 48.7h.6M266.8 62.0h.6M275.2 55.0h.6M277.3 54.5h.6M283.9 51.8h.6M280.4 55.4h.6M259.9 63.0h.6M278.2 61.3h.6M258.5 57.2h.6M269.6 47.6h.6M278.2 63.3h.6M290.4 46.9h.6M284.0 63.7h.6M272.7 56.4h.6M284.7 59.8h.6M282.0 58.9h.6M280.8 47.6h.6M268.5 56.5h.6M260.7 56.9h.6M265.2 66.4h.6M279.2 57.3h.6M280.2 64.9h.6M269.4 55.0h.6M269.4 54.7h.6M276.5 58.7h.6M258.8 63.3h.6M275.9 65.4h.6M262.3 60.1h.6M289.7 55.7h.6M268.7 49.3h.6M283.2 65.4h.6M257.2 63.5h.6M277.8 68.2h.6M281.5 60.3h.6M265.4 64.1h.6M284.5 54.8h.6M280.6 58.9h.6M273.1 54.6h.6M262.5 51.1h.6M260.6 65.1h.6M282.5 61.2h.6M267.0 62.7h.6M282.9 59.2h.6M265.4 68.5h.6M288.1 57.8h.6M272.7 61.9h.6M268.5 56.6h.6M258.2 66.2h.6M279.6 65.4h.6M273.9 68.4h.6M269.8 64.8h.6M268.2 57.2h.6M262.6 48.0h.6M283.4 63.1h.6M274.9 58.0h.6M262.2 52.5h.6M275.9 61.2h.6M274.4 59.7h.6M263.8 70.9h.6M269.5 56.8h.6M262.9 60.3h.6M274.4 58.1h.6M276.5 43.9h.6M282.5 52.7h.6M264.0 57.7h.6M266.6 61.3h.6M262.9 61.1h.6M272.0 58.9h.6M261.6 62.9h.6M278.5 58.2h.6M262.9 52.6h.6M260.7 63.3h.6M284.1 65.1h.6M285.5 50.4h.6M268.7 49.3h.6M272.4 60.2h.6M267.4 61.9h.6M259.2 54.0h.6M279.6 47.0h.6M272.5 64.7h.6M280.4 61.7h.6M267.4 61.8h.6M268.8 66.8h.6M281.7 62.0h.6M289.5 43.4h.6M277.4 47.0h.6M258.7 69.9h.6M261.0 54.1h.6M275.4 58.9h.6M277.0 59.2h.6M284.5 55.0h.6M270.1 67.3h.6M257.3 65.0h.6M268.1 46.4h.6M274.8 42.3h.6M278.5 64.8h.6M274.3 50.9h.6M260.1 60.5h.6M267.6 50.1h.6M277.0 61.8h.6M273.4 50.7h.6M258.8 69.3h.6M286.9 52.4h.6M274.7 52.4h.6M279.8 61.0h.6M283.7 55.3h.6M254.5 65.6h.6M277.8 51.5h.6M272.1 59.0h.6M281.5 57.6h.6M270.7 44.2h.6M265.5 53.7h.6M281.7 53.9h.6M258.6 59.6h.6M265.1 56.1h.6M271.6 59.8h.6M276.4 48.4h.6M275.6 45.9h.6M289.0 41.3h.6M268.3 52.7h.6M260.2 66.2h.6M270.0 63.3h.6M265.8 55.3h.6M255.4 62.6h.6M258.7 67.6h.6M263.6 68.2h.6M262.6 53.6h.6M284.1 61.4h.6M276.9 48.6h.6M288.1 51.9h.6M263.6 60.9h.6M287.0 46.0h.6M285.3 65.7h.6M270.3 59.9h.6M273.5 53.1h.6M277.4 67.6h.6M267.7 48.9h.6M281.2 49.5h.6M258.3 59.3h.6M280.4 60.2h.6M282.5 60.0h.6M264.7 55.4h.6M283.7 46.4h.6M272.6 56.1h.6M261.9 68.8h.6M281.4 45.3h.6M288.8 54.5h.6M286.7 58.0h.6M269.1 50.3h.6M267.5 65.5h.6M264.6 53.7h.6M272.1 52.3h.6M272.1 46.1h.6M284.4 58.5h.6M276.8 60.9h.6M259.9 69.6h.6M286.3 51.1h.6M270.1 68.0h.6M263.0 50.1h.6M269.4 60.1h.6M265.0 57.2h.6M287.8 57.8h.6M259.2 62.7h.6M286.0 63.2h.6M285.0 68.7h.6M274.0 61.7h.6M278.9 69.7h.6M278.8 64.4h.6M278.7 45.2h.6M271.3 45.8h.6M285.2 52.4h.6M272.9 66.1h.6M262.5 53.0h.6M261.3 51.9h.6M265.9 66.9h.6M268.9 66.9h.6M285.4 48.2h.6M257.1 64.0h.6M270.3 67.8h.6M282.4 46.6h.6M273.5 48.5h.6M282.6 65.2h.6M262.3 55.9h.6M259.6 58.3h.6M284.6 55.2h.6M285.3 55.3h.6M269.0 52.9h.6M272.0 56.7h.6M255.4 67.5h.6M263.9 54.2h.6M273.9 70.6h.6M283.1 61.4h.6M284.0 44.0h.6M272.7 60.4h.6M271.6 58.5h.6M275.3 56.5h.6M281.1 57.2h.6M266.1 69.4h.6M281.7 63.2h.6M278.7 53.5h.6M272.7 63.8h.6M286.3 49.9h.6M287.2 50.1h.6M266.9 50.4h.6M280.2 66.3h.6M264.9 58.2h.6M282.8 60.1h.6" stroke="#222" stroke-width="0.6" fill="none"/>
<path d="M277.8 65.7h0.5M298.1 52.0h0.5M279.3 57.2h0.5M268.9 46.1h0.5M290.1 59.4h0.5M271.0 59.1h0.5M269.2 59.2h0.5M265.3 55.7h0.5M276.7 42.5h0.5M278.0 46.9h0.5M266.7 49.0h0.5M275.9 49.3h0.5M288.5 41.2h0.5M278.3 58.7h0.5M265.5 57.6h0.5M269.1 64.3h0.5M279.7 60.0h0.5M262.1 59.3h0.5M272.4 55.4h0.5M280.2 60.5h0.5M273.0 52.6h0.5M272.1 53.8h0.5M275.9 68.2h0.5M284.8 61.9h0.5M273.0 57.5h0.5M266.8 63.7h0.5M281.6 56.6h0.5M267.1 62.7h0.5M279.4 50.5h0.5M277.8 51.3h0.5M272.8 54.2h0.5M262.1 59.9h0.5M274.9 54.7h0.5M272.8 54.3h0.5M280.0 52.0h0.5M275.8 52.9h0.5M283.1 50.4h0.5M284.3 64.8h0.5M272.7 47.8h0.5M271.1 61.4h0.5M261.2 56.2h0.5M268.9 50.3h0.5M283.3 53.8h0.5M276.2 63.7h0.5M266.4 54.6h0.5M280.8 52.7h0.5M276.3 62.5h0.5M275.7 60.4h0.5M279.7 61.0h0.5M276.9 52.2h0.5M283.7 48.3h0.5M282.4 43.1h0.5M268.1 46.5h0.5M282.3 60.5h0.5M273.4 60.8h0.5M277.6 64.3h0.5M278.0 56.9h0.5M277.3 44.9h0.5M279.7 54.2h0.5M283.4 51.0h0.5M278.5 53.8h0.5M266.5 59.1h0.5M269.3 51.7h0.5M272.9 54.9h0.5M286.1 47.3h0.5M275.8 56.7h0.5M274.4 46.4h0.5M267.8 72.0h0.5M266.3 56.6h0.5M283.4 52.8h0.5M271.5 63.9h0.5M272.1 69.3h0.5M273.6 59.8h0.5M280.5 65.5h0.5M267.9 60.8h0.5M282.8 37.8h0.5M272.2 60.3h0.5M274.6 59.8h0.5M279.0 46.4h0.5M274.3 65.7h0.5M279.5 35.8h0.5M281.4 58.8h0.5M267.5 56.0h0.5M266.5 61.1h0.5M269.2 65.3h0.5M271.7 62.3h0.5M266.9 68.0h0.5M282.1 58.0h0.5M283.6 65.9h0.5M281.3 52.6h0.5M284.4 47.8h0.5M280.8 63.5h0.5M271.6 58.9h0.5M277.0 56.5h0.5M276.2 62.4h0.5M288.0 45.1h0.5M263.4 61.5h0.5M261.5 57.4h0.5M271.0 66.3h0.5M277.9 59.3h0.5M277.1 61.9h0.5M276.0 64.5h0.5M281.3 53.7h0.5M261.5 58.6h0.5M273.2 50.9h0.5M273.1 56.8h0.5M281.9 47.4h0.5M274.2 54.1h0.5M271.0 62.2h0.5M276.8 45.9h0.5M291.6 59.9h0.5M277.4 58.4h0.5M266.5 59.8h0.5M276.5 55.0h0.5M281.3 46.5h0.5M274.7 60.3h0.5M273.5 56.0h0.5M275.2 59.1h0.5M269.8 77.3h0.5M276.5 48.6h0.5M265.2 55.9h0.5M271.9 46.4h0.5M289.5 43.1h0.5M271.6 72.5h0.5M276.2 59.0h0.5M272.7 56.5h0.5M282.5 38.5h0.5M274.2 52.3h0.5M272.2 58.1h0.5M264.3 68.0h0.5M277.8 58.4h0.5M273.0 62.9h0.5M274.0 62.4h0.5M285.7 53.4h0.5M265.3 63.7h0.5M273.8 70.3h0.5M272.2 50.1h0.5M268.6 69.7h0.5M269.3 63.2h0.5M272.1 57.6h0.5M271.8 58.8h0.5M282.9 45.5h0.5M279.7 56.6h0.5M266.9 55.0h0.5M270.5 63.5h0.5M279.0 60.6h0.5M277.6 55.6h0.5M275.6 57.7h0.5M277.1 59.6h0.5M272.3 65.5h0.5M285.4 48.9h0.5M275.0 48.9h0.5M271.1 49.9h0.5M281.6 52.4h0.5M285.4 56.9h0.5M272.3 63.8h0.5M291.9 59.6h0.5M275.7 59.7h0.5M272.4 62.6h0.5M283.2 60.5h0.5M273.9 57.7h0.5M277.6 53.7h0.5M281.9 37.4h0.5M261.7 62.4h0.5M279.5 53.7h0.5M273.0 48.1h0.5M280.4 56.5h0.5M288.3 52.9h0.5M268.4 56.3h0.5M265.7 59.8h0.5M277.9 62.8h0.5M286.1 49.5h0.5M278.3 53.3h0.5M267.7 65.1h0.5M265.0 52.9h0.5M273.7 67.3h0.5M271.1 68.2h0.5M265.4 62.8h0.5M277.0 52.7h0.5M268.3 61.3h0.5M288.0 52.0h0.5M277.9 58.4h0.5M286.8 57.2h0.5M270.3 54.1h0.5M268.4 61.6h0.5M272.8 58.2h0.5M278.2 70.7h0.5M274.4 66.3h0.5M266.6 57.2h0.5M263.6 57.3h0.5M261.3 60.6h0.5M275.3 61.0h0.5M264.1 67.0h0.5M274.0 57.3h0.5M261.7 68.9h0.5M282.8 58.8h0.5M276.6 63.6h0.5M272.5 52.4h0.5M281.3 58.7h0.5M276.3 55.6h0.5M275.1 60.9h0.5M263.5 66.5h0.5M264.5 60.4h0.5M279.9 61.3h0.5M271.9 52.7h0.5M294.1 45.6h0.5M256.2 68.8h0.5M268.0 57.5h0.5M288.4 61.4h0.5M271.4 50.4h0.5M280.9 53.2h0.5M272.6 59.6h0.5M267.5 63.0h0.5M280.8 60.4h0.5M286.4 44.7h0.5M274.9 51.5h0.5M279.1 61.3h0.5M278.3 52.5h0.5M289.7 52.4h0.5M283.4 51.5h0.5M283.4 49.9h0.5M280.8 52.9h0.5M270.0 49.9h0.5M283.2 54.8h0.5M270.8 60.0h0.5M280.8 56.8h0.5M265.2 73.0h0.5M273.6 70.0h0.5M283.0 52.1h0.5M277.0 57.1h0.5M276.6 65.4h0.5M268.6 57.6h0.5M268.4 50.8h0.5M278.2 46.7h0.5M288.0 53.9h0.5M286.7 44.7h0.5M271.4 56.2h0.5M277.5 49.1h0.5M265.5 48.0h0.5M275.7 57.5h0.5M285.8 43.8h0.5M283.1 54.8h0.5M277.4 47.7h0.5M249.5 70.9h0.5M281.9 53.0h0.5M291.3 59.7h0.5M268.8 58.2h0.5M280.2 42.2h0.5M258.5 69.7h0.5M281.7 62.0h0.5M279.7 53.2h0.5M265.3 51.3h0.5M276.5 51.6h0.5M273.2 60.0h0.5M260.5 66.0h0.5M276.6 68.6h0.5M277.4 62.4h0.5M263.1 54.3h0.5M279.8 51.1h0.5M268.9 67.9h0.5M273.0 46.7h0.5M279.3 66.8h0.5M271.4 50.2h0.5M273.3 67.0h0.5M287.3 52.8h0.5M267.0 67.6h0.5M267.6 58.4h0.5M274.7 64.0h0.5M280.1 57.0h0.5M270.2 56.6h0.5M280.4 48.9h0.5M274.6 60.6h0.5M276.6 62.1h0.5M280.7 57.0h0.5M289.1 43.4h0.5M285.3 41.0h0.5M261.6 49.2h0.5M267.7 56.3h0.5M283.6 59.1h0.5M289.2 43.4h0.5M281.6 50.9h0.5M249.0 46.6h0.5M266.3 49.6h0.5M277.9 48.4h0.5M277.2 50.6h0.5M275.2 50.1h0.5M283.2 63.1h0.5M273.1 48.7h0.5M269.8 61.1h0.5M276.6 47.3h0.5M263.4 53.7h0.5M287.9 49.7h0.5M275.7 53.2h0.5M290.0 50.3h0.5M277.9 62.8h0.5M278.0 52.7h0.5M272.3 58.5h0.5M280.0 43.7h0.5M265.4 67.8h0.5M286.7 58.4h0.5" stroke="#555" stroke-width="0.5" fill="none" opacity="1.0"/>
<path d="M271.0 68.6h0.6M273.1 78.1h0.6M257.3 68.0h0.6M252.7 77.5h0.6M254.8 79.1h0.6M264.6 80.8h0.6M273.5 71.9h0.6M262.8 81.4h0.6M260.4 82.9h0.6M271.1 82.3h0.6M260.8 81.6h0.6M264.1 78.4h0.6M271.4 73.9h0.6M265.6 63.5h0.6M260.0 80.7h0.6M256.6 65.0h0.6M253.6 75.4h0.6M271.8 80.2h0.6M253.8 79.4h0.6M255.4 83.4h0.6M269.3 73.5h0.6M261.9 76.7h0.6M261.0 83.8h0.6M268.6 73.8h0.6M269.9 69.2h0.6M267.3 75.2h0.6M261.1 76.8h0.6M267.9 68.7h0.6M272.8 73.7h0.6M269.0 86.6h0.6M256.7 86.6h0.6M262.9 88.0h0.6M258.9 83.1h0.6M261.1 84.3h0.6M273.6 79.0h0.6M258.9 83.1h0.6M269.2 70.9h0.6M270.7 76.1h0.6M265.0 71.5h0.6M267.7 82.0h0.6M258.8 81.7h0.6M250.5 77.7h0.6M268.2 71.6h0.6M267.3 69.6h0.6M281.8 79.4h0.6M275.2 71.7h0.6M246.9 76.6h0.6M277.3 76.2h0.6M275.8 79.4h0.6M268.8 83.1h0.6M261.0 74.7h0.6M275.2 79.7h0.6M261.4 70.9h0.6M278.5 58.5h0.6M273.7 76.2h0.6M255.1 79.4h0.6M270.0 90.2h0.6M268.4 62.6h0.6M258.2 81.5h0.6M261.9 76.8h0.6M265.3 85.3h0.6M268.7 76.2h0.6M260.6 82.9h0.6M260.2 79.5h0.6M269.4 81.4h0.6M272.5 78.7h0.6M282.4 81.6h0.6M259.7 71.9h0.6M260.2 84.7h0.6M256.8 86.1h0.6M269.5 73.7h0.6M257.7 76.5h0.6M272.2 76.7h0.6M271.9 78.1h0.6M277.2 74.3h0.6M264.9 70.6h0.6M263.3 71.4h0.6M253.4 75.8h0.6M271.6 64.2h0.6M255.4 69.0h0.6M269.0 80.3h0.6M268.6 76.0h0.6M259.6 78.2h0.6M258.8 75.8h0.6M269.2 75.6h0.6M275.8 64.6h0.6M252.9 82.8h0.6M261.3 74.4h0.6M261.4 76.7h0.6M264.7 79.2h0.6M273.6 87.7h0.6M248.5 76.4h0.6M258.7 78.3h0.6M257.7 77.5h0.6M268.2 76.9h0.6M267.9 80.9h0.6M257.3 76.8h0.6M274.5 82.4h0.6M274.0 72.3h0.6M260.5 82.7h0.6M266.0 78.8h0.6M263.1 82.3h0.6M267.4 71.4h0.6M269.0 75.1h0.6M263.8 80.3h0.6M267.1 73.8h0.6M256.4 74.5h0.6M264.8 70.2h0.6M260.9 90.4h0.6M260.7 77.4h0.6M255.9 75.2h0.6M268.0 78.0h0.6M252.1 77.3h0.6M257.9 83.3h0.6M265.1 86.2h0.6M268.9 70.4h0.6M273.7 74.3h0.6M265.0 77.6h0.6M255.3 83.8h0.6M267.2 71.2h0.6M254.7 79.7h0.6M275.8 79.4h0.6M268.5 74.7h0.6M274.9 80.2h0.6M259.4 73.6h0.6M248.3 83.7h0.6M290.4 76.4h0.6M269.5 81.5h0.6M264.2 89.4h0.6M257.7 72.3h0.6M279.1 82.3h0.6M272.1 76.5h0.6M265.6 77.9h0.6M269.4 73.7h0.6M274.4 87.1h0.6M261.6 71.7h0.6M258.1 84.8h0.6M260.4 72.8h0.6M274.8 76.1h0.6M265.6 81.1h0.6M275.2 78.5h0.6M278.6 73.3h0.6M261.7 81.0h0.6M271.3 67.2h0.6M263.4 81.1h0.6M264.6 87.4h0.6M253.0 78.3h0.6M259.0 68.0h0.6M264.0 76.8h0.6M262.5 73.5h0.6M272.9 71.2h0.6M260.8 69.2h0.6M275.4 68.8h0.6M280.0 71.9h0.6M265.5 86.4h0.6M257.2 84.7h0.6M255.3 74.5h0.6M270.5 79.1h0.6M268.6 78.9h0.6M278.8 68.0h0.6M260.3 82.1h0.6M253.9 73.2h0.6M285.9 84.8h0.6M270.1 77.6h0.6M264.6 72.1h0.6M258.8 71.6h0.6M255.5 77.9h0.6M269.4 71.8h0.6M267.0 69.6h0.6M269.0 75.3h0.6M265.4 78.3h0.6M276.6 78.4h0.6M260.6 78.1h0.6M269.2 80.2h0.6M274.5 72.5h0.6M256.1 80.8h0.6M256.7 79.8h0.6M288.2 84.3h0.6M253.9 72.5h0.6M269.1 75.6h0.6M271.7 78.6h0.6M268.6 80.4h0.6M253.1 83.7h0.6M254.3 72.2h0.6M246.1 77.2h0.6M269.2 75.1h0.6M256.1 64.8h0.6M270.5 70.6h0.6M262.9 78.6h0.6M265.4 79.5h0.6M279.6 81.3h0.6M257.6 77.0h0.6M264.0 72.3h0.6M271.3 75.0h0.6M267.9 80.9h0.6M283.2 73.7h0.6M271.9 89.5h0.6M279.1 78.9h0.6M259.9 78.1h0.6M260.8 74.8h0.6M251.7 75.6h0.6M249.4 82.9h0.6M270.2 74.9h0.6M266.2 77.9h0.6M263.8 78.9h0.6M264.5 79.8h0.6M259.2 77.6h0.6M279.8 72.6h0.6M259.3 82.6h0.6M268.6 78.1h0.6M267.5 74.9h0.6M261.6 80.2h0.6M267.4 80.9h0.6M269.7 90.0h0.6M266.7 85.3h0.6M267.2 90.1h0.6M274.1 72.9h0.6M279.1 74.0h0.6M274.3 73.0h0.6M268.9 78.2h0.6M277.8 65.0h0.6M250.0 82.9h0.6M272.2 74.4h0.6M266.8 67.3h0.6M262.8 73.5h0.6M273.3 78.7h0.6M264.7 83.9h0.6M260.6 81.6h0.6M264.0 79.9h0.6M263.5 85.3h0.6M262.4 88.8h0.6M272.6 72.6h0.6M262.3 85.0h0.6M278.2 70.4h0.6M267.4 80.9h0.6M285.7 81.2h0.6M264.3 82.6h0.6M266.6 72.4h0.6M265.6 76.1h0.6M264.2 77.8h0.6M268.9 72.9h0.6M271.6 68.4h0.6M271.5 80.2h0.6M269.5 68.9h0.6M261.8 78.5h0.6M269.8 81.6h0.6M253.3 77.5h0.6M275.0 70.8h0.6M255.9 74.7h0.6M263.7 75.9h0.6M276.4 79.0h0.6M250.1 81.9h0.6M266.8 82.3h0.6M265.8 85.3h0.6M267.2 74.6h0.6M256.0 82.7h0.6M264.8 67.5h0.6M273.0 84.8h0.6M248.6 80.7h0.6M271.4 87.3h0.6M276.2 73.2h0.6M269.8 81.7h0.6M253.7 85.7h0.6M270.1 82.3h0.6M258.6 82.2h0.6M265.6 75.7h0.6M266.3 79.4h0.6M253.4 77.5h0.6M269.0 68.3h0.6M271.6 77.5h0.6M257.3 71.2h0.6M255.8 82.5h0.6M258.7 78.6h0.6M262.3 82.6h0.6M276.6 82.7h0.6M271.5 83.6h0.6M280.2 72.5h0.6M268.2 73.8h0.6M266.4 76.3h0.6M266.9 81.6h0.6M255.1 62.7h0.6M268.3 83.6h0.6M262.7 85.9h0.6M284.8 77.9h0.6M264.2 80.5h0.6M272.4 69.0h0.6M270.1 65.8h0.6M257.1 78.8h0.6M268.6 70.7h0.6M266.4 84.9h0.6M252.3 80.7h0.6M276.6 69.9h0.6M275.9 80.1h0.6M263.4 77.7h0.6M265.7 77.7h0.6M264.3 73.3h0.6M273.5 87.3h0.6M264.4 85.6h0.6M259.5 70.3h0.6M271.3 78.9h0.6M269.7 72.1h0.6M262.7 83.4h0.6M279.3 79.0h0.6M269.2 62.5h0.6M260.6 85.0h0.6M281.8 72.9h0.6M244.8 80.4h0.6M255.1 75.2h0.6M260.9 75.4h0.6M257.9 81.3h0.6M268.5 70.1h0.6M252.8 89.5h0.6M270.7 78.8h0.6M251.8 89.9h0.6M257.3 78.3h0.6M268.7 73.4h0.6M267.0 75.0h0.6M248.8 69.7h0.6M260.7 74.5h0.6M269.5 87.0h0.6M263.9 90.0h0.6M262.3 78.2h0.6M264.0 67.9h0.6M265.3 76.4h0.6M259.0 81.9h0.6M269.2 75.8h0.6M258.6 79.3h0.6M259.2 72.7h0.6M261.7 83.0h0.6M263.5 76.7h0.6M263.1 81.0h0.6M264.5 82.3h0.6M264.6 82.4h0.6M263.4 73.3h0.6M269.3 76.4h0.6M262.0 85.8h0.6M261.7 73.1h0.6M263.0 85.8h0.6M254.7 84.3h0.6M270.1 75.3h0.6M263.0 73.5h0.6M249.0 72.3h0.6M254.1 68.5h0.6M262.1 81.0h0.6M258.0 75.7h0.6M259.3 76.5h0.6M269.0 84.6h0.6M270.7 79.7h0.6M277.1 81.7h0.6M269.7 80.9h0.6M272.5 71.7h0.6M258.3 78.1h0.6M250.9 76.1h0.6M262.9 79.5h0.6M271.4 85.1h0.6M246.0 78.9h0.6M268.4 85.9h0.6M260.5 80.0h0.6M264.3 72.2h0.6M267.6 83.2h0.6M262.6 78.2h0.6M274.6 76.6h0.6M262.9 79.3h0.6M269.2 80.0h0.6M275.8 80.2h0.6M255.6 68.4h0.6M264.8 87.3h0.6M265.9 75.2h0.6M267.8 80.7h0.6M275.8 70.3h0.6M271.9 78.7h0.6M272.3 83.8h0.6M247.1 82.9h0.6M269.6 73.2h0.6M264.5 83.7h0.6M253.1 82.7h0.6M272.1 87.7h0.6M258.5 74.1h0.6M273.8 76.0h0.6M268.9 62.7h0.6M285.3 67.0h0.6M251.9 80.5h0.6M269.6 73.0h0.6M247.2 80.8h0.6M267.4 72.4h0.6M266.5 74.3h0.6M257.0 81.7h0.6M265.5 77.9h0.6M255.2 73.6h0.6M263.1 74.2h0.6M268.3 77.8h0.6M263.6 76.7h0.6M268.8 83.5h0.6M256.5 83.1h0.6M272.9 82.2h0.6M260.8 78.8h0.6M282.9 70.0h0.6M272.3 76.2h0.6M279.2 78.4h0.6M272.4 74.1h0.6M261.3 86.9h0.6M254.9 74.6h0.6M263.3 70.5h0.6M270.6 70.6h0.6M265.8 76.3h0.6M247.2 78.5h0.6M252.6 77.8h0.6M246.1 74.6h0.6M272.2 79.2h0.6M274.7 87.0h0.6M271.5 76.5h0.6M264.4 81.2h0.6M255.1 71.6h0.6M265.3 87.7h0.6M256.2 79.1h0.6M259.6 81.8h0.6M268.3 77.4h0.6M272.9 76.2h0.6M251.6 89.7h0.6M264.5 79.4h0.6M271.9 72.9h0.6M261.5 73.3h0.6M270.2 79.9h0.6M267.0 70.1h0.6M258.6 69.3h0.6M254.1 73.4h0.6M267.8 80.5h0.6M250.5 81.3h0.6M268.4 86.8h0.6M272.5 69.0h0.6M269.4 79.0h0.6M268.1 73.4h0.6M277.3 78.2h0.6M260.6 67.2h0.6M263.3 69.7h0.6M253.2 87.0h0.6M264.9 83.3h0.6M274.6 81.9h0.6M261.9 70.8h0.6M264.0 78.3h0.6M264.2 75.9h0.6M266.6 69.3h0.6M274.2 70.8h0.6M266.4 72.5h0.6M276.7 74.4h0.6M257.7 75.4h0.6M272.7 70.5h0.6M254.6 74.5h0.6M271.7 60.6h0.6M263.9 83.0h0.6M264.3 66.8h0.6M261.8 81.2h0.6M256.1 75.9h0.6M259.9 79.8h0.6M286.0 78.1h0.6M254.6 87.2h0.6M263.0 75.2h0.6M269.6 82.0h0.6M267.2 79.6h0.6M266.9 70.6h0.6M271.9 82.7h0.6M258.9 67.4h0.6M260.4 78.6h0.6M277.2 78.9h0.6M265.9 79.0h0.6M252.7 75.5h0.6M266.6 81.6h0.6M272.2 87.2h0.6M259.7 75.1h0.6M261.7 80.4h0.6M282.1 78.6h0.6M266.8 72.2h0.6M254.7 87.9h0.6M264.7 85.8h0.6M272.3 74.7h0.6M267.5 72.3h0.6M270.7 76.7h0.6M272.0 84.9h0.6M260.5 82.3h0.6M269.1 74.5h0.6M267.7 84.8h0.6M266.8 83.3h0.6M268.3 85.0h0.6M264.4 75.6h0.6M270.8 64.2h0.6M261.1 86.5h0.6M259.2 88.4h0.6M279.0 74.7h0.6M259.1 79.9h0.6M273.1 87.8h0.6M278.3 73.4h0.6M272.7 74.6h0.6M274.5 80.3h0.6M277.6 77.1h0.6M272.4 70.1h0.6M257.4 80.5h0.6M266.4 82.7h0.6M284.9 73.9h0.6M255.6 71.4h0.6M260.3 84.3h0.6M268.7 75.8h0.6M271.2 76.6h0.6M267.7 77.4h0.6M254.1 82.3h0.6M266.4 74.0h0.6M267.0 73.3h0.6M265.2 75.3h0.6M268.4 72.1h0.6M264.6 75.1h0.6M257.3 77.1h0.6M271.4 81.8h0.6M268.2 76.8h0.6M273.6 75.9h0.6M271.3 67.4h0.6M255.4 73.2h0.6M275.2 76.0h0.6M269.5 71.1h0.6M279.6 87.8h0.6M265.7 73.6h0.6M267.8 76.1h0.6M261.7 62.9h0.6M267.5 64.5h0.6M261.3 68.5h0.6M282.5 69.9h0.6M262.3 79.7h0.6M262.9 78.9h0.6M273.5 73.7h0.6M270.0 76.7h0.6M254.5 79.1h0.6M256.5 83.6h0.6M265.7 78.5h0.6M274.1 72.6h0.6M258.9 85.9h0.6M271.8 80.0h0.6M248.8 77.6h0.6M257.6 73.9h0.6M251.8 67.8h0.6M262.0 79.7h0.6M261.4 76.4h0.6M266.3 85.4h0.6M260.7 78.2h0.6M289.2 77.3h0.6M272.7 70.4h0.6M256.7 74.8h0.6M292.0 73.7h0.6M277.8 74.5h0.6M255.0 66.3h0.6M267.1 83.6h0.6M258.9 75.0h0.6M256.2 73.1h0.6M274.5 74.2h0.6M256.7 81.0h0.6M268.0 77.1h0.6M283.5 79.2h0.6M275.7 70.1h0.6M265.1 84.9h0.6M272.2 82.8h0.6M253.0 75.7h0.6M280.3 86.0h0.6M277.6 82.1h0.6M277.3 60.9h0.6M266.6 82.1h0.6M276.4 71.6h0.6M275.0 82.1h0.6M261.3 86.8h0.6M276.9 82.6h0.6M261.8 79.0h0.6M265.6 87.2h0.6M287.2 72.3h0.6M283.3 80.0h0.6M259.9 73.1h0.6M279.3 79.3h0.6M260.0 76.2h0.6M262.4 76.6h0.6M281.7 73.3h0.6M263.0 59.4h0.6M270.3 82.9h0.6M283.9 73.7h0.6M263.2 75.0h0.6M254.9 77.3h0.6M258.9 76.0h0.6M267.2 81.8h0.6M268.8 80.4h0.6M270.4 76.8h0.6M274.4 78.3h0.6M254.0 74.2h0.6M279.0 67.8h0.6M281.5 78.0h0.6M268.2 84.7h0.6M267.9 74.5h0.6M246.5 73.7h0.6M255.4 81.5h0.6M266.8 71.8h0.6M276.3 82.6h0.6M285.6 78.9h0.6M254.9 77.9h0.6M272.6 82.6h0.6M254.1 80.1h0.6M271.9 79.7h0.6M251.4 74.6h0.6M264.8 76.0h0.6M274.0 75.0h0.6M249.5 64.8h0.6M270.1 72.5h0.6M265.5 83.8h0.6M261.2 77.1h0.6M253.0 70.2h0.6M271.1 84.1h0.6M260.1 76.2h0.6M268.8 74.7h0.6M266.5 74.9h0.6M271.3 74.2h0.6M261.7 69.2h0.6M259.0 68.5h0.6M264.7 83.1h0.6M254.4 72.2h0.6M259.1 80.0h0.6M263.2 75.3h0.6M257.4 75.7h0.6M262.8 72.5h0.6M278.5 80.1h0.6M264.5 79.1h0.6M286.4 80.8h0.6M261.1 77.0h0.6M276.1 79.9h0.6M263.5 77.8h0.6M255.9 75.3h0.6M262.2 75.8h0.6M278.0 77.4h0.6M276.3 77.2h0.6M252.5 84.3h0.6M261.1 76.5h0.6M275.7 85.4h0.6M267.3 84.6h0.6M261.5 81.0h0.6M257.8 82.9h0.6M260.9 81.0h0.6M255.2 85.6h0.6M280.4 75.7h0.6M266.5 71.6h0.6M264.2 68.7h0.6M272.3 76.8h0.6M276.3 77.2h0.6M263.9 72.3h0.6M271.6 76.5h0.6M255.3 68.5h0.6M274.5 76.6h0.6M265.3 74.0h0.6M261.2 77.1h0.6M267.7 70.2h0.6M288.0 82.5h0.6M248.9 77.6h0.6M276.0 73.4h0.6M253.7 80.3h0.6M260.4 77.1h0.6M280.7 77.2h0.6M277.8 72.6h0.6M249.6 74.9h0.6M262.4 81.1h0.6M269.9 65.7h0.6M256.0 74.6h0.6M259.4 73.4h0.6M263.0 78.1h0.6M252.5 71.8h0.6M257.8 84.1h0.6M264.4 68.6h0.6M270.3 82.5h0.6M251.5 70.1h0.6M269.9 77.4h0.6M271.3 86.5h0.6M271.8 82.9h0.6M261.6 85.3h0.6M259.7 79.1h0.6M247.9 74.8h0.6M272.9 71.8h0.6M261.7 64.6h0.6M262.8 69.5h0.6M266.4 74.4h0.6M259.8 75.2h0.6M262.2 77.1h0.6M263.5 83.7h0.6M275.4 62.6h0.6M277.9 75.9h0.6M269.1 71.9h0.6M271.3 80.4h0.6M260.9 70.6h0.6M270.5 79.7h0.6M257.9 64.8h0.6M256.0 79.4h0.6M277.2 71.5h0.6M260.9 70.8h0.6" stroke="#333" stroke-width="0.6" fill="none" opacity="1.0"/>
<path d="M249.80 78.50 C249.80 73.30 252.60 70.50 257.80 70.30 L273.20 67.87 C278.80 67.59 282.00 70.10 282.00 75.30 C282.00 82.10 277.60 86.50 271.20 86.50 L257.80 86.50 C252.60 86.50 249.80 83.70 249.80 78.50Z" transform="translate(265.90 77.10) scale(1.019 1.032) translate(-265.90 -77.10)" fill="#3a3a3a" opacity="0.8" filter="url(#b1)"/>
<path d="M249.80 78.50 C249.80 73.30 252.60 70.50 257.80 70.30 L273.20 67.87 C278.80 67.59 282.00 70.10 282.00 75.30 C282.00 82.10 277.60 86.50 271.20 86.50 L257.80 86.50 C252.60 86.50 249.80 83.70 249.80 78.50Z" transform="translate(265.90 77.10) scale(1.037 1.064) translate(-265.90 -77.10)" fill="none" stroke="#2a2a2a" stroke-width="1.5" stroke-dasharray="0.5 0.6"/>
<path d="M249.80 78.50 C249.80 73.30 252.60 70.50 257.80 70.30 L273.20 67.87 C278.80 67.59 282.00 70.10 282.00 75.30 C282.00 82.10 277.60 86.50 271.20 86.50 L257.80 86.50 C252.60 86.50 249.80 83.70 249.80 78.50Z" transform="translate(265.90 77.10) scale(0.981 0.968) translate(-265.90 -77.10)" fill="#1e1e1e" opacity="1" filter="url(#b05)"/>
<path d="M249.80 78.50 C249.80 73.30 252.60 70.50 257.80 70.30 L273.20 67.87 C278.80 67.59 282.00 70.10 282.00 75.30 C282.00 82.10 277.60 86.50 271.20 86.50 L257.80 86.50 C252.60 86.50 249.80 83.70 249.80 78.50Z" transform="translate(264.60 77.80) scale(0.733 0.660) translate(-265.90 -77.10)" fill="#7a7a7a" opacity="1" filter="url(#b05)"/>
<path d="M249.80 78.50 C249.80 73.30 252.60 70.50 257.80 70.30 L273.20 67.87 C278.80 67.59 282.00 70.10 282.00 75.30 C282.00 82.10 277.60 86.50 271.20 86.50 L257.80 86.50 C252.60 86.50 249.80 83.70 249.80 78.50Z" transform="translate(264.60 77.80) scale(0.646 0.521) translate(-265.90 -77.10)" fill="#d8d8d8" opacity="1" filter="url(#b05)"/>
<path d="M249.80 78.50 C249.80 73.30 252.60 70.50 257.80 70.30 L273.20 67.87 C278.80 67.59 282.00 70.10 282.00 75.30 C282.00 82.10 277.60 86.50 271.20 86.50 L257.80 86.50 C252.60 86.50 249.80 83.70 249.80 78.50Z" transform="translate(264.40 77.70) scale(0.400 0.302) translate(-265.90 -77.10)" fill="#b4b4b4" opacity="1" filter="url(#b05)"/>
<ellipse cx="264.2" cy="77.6" rx="3.5" ry="1.2" fill="#444" filter="url(#b05)" transform="rotate(-10 264.2 77.6)"/>
<text x="244.2" y="33.6" font-size="5.6" text-anchor="start" font-weight="normal" fill="#222" stroke="#222" stroke-width="0" >2.15</text>
<text x="305.4" y="33.6" font-size="5.6" text-anchor="end" font-weight="normal" fill="#222" stroke="#222" stroke-width="0" >0.057</text>
<text x="244.2" y="89.8" font-size="5.6" text-anchor="start" font-weight="normal" fill="#222" stroke="#222" stroke-width="0" >97.8</text>
<text x="305.4" y="89.8" font-size="5.6" text-anchor="end" font-weight="normal" fill="#222" stroke="#222" stroke-width="0" >6.59e-3</text>
<line x1="241.7" y1="32" x2="243.0" y2="32" stroke="#666" stroke-width="0.5"/>
<text x="240.8" y="33.6" font-size="3.4" text-anchor="end" fill="#555">10<tspan font-size="2.4" dy="-1.4">5</tspan></text>
<line x1="241.7" y1="45.8" x2="243.0" y2="45.8" stroke="#666" stroke-width="0.5"/>
<text x="240.8" y="47.4" font-size="3.4" text-anchor="end" fill="#555">10<tspan font-size="2.4" dy="-1.4">4</tspan></text>
<line x1="241.7" y1="60" x2="243.0" y2="60" stroke="#666" stroke-width="0.5"/>
<text x="240.8" y="61.6" font-size="3.4" text-anchor="end" fill="#555">10<tspan font-size="2.4" dy="-1.4">3</tspan></text>
<line x1="241.7" y1="73.8" x2="243.0" y2="73.8" stroke="#666" stroke-width="0.5"/>
<text x="240.8" y="75.4" font-size="3.4" text-anchor="end" fill="#555">10<tspan font-size="2.4" dy="-1.4">2</tspan></text>
<line x1="241.7" y1="82.5" x2="243.0" y2="82.5" stroke="#666" stroke-width="0.5"/>
<text x="240.4" y="83.7" font-size="3.4" text-anchor="end" font-weight="normal" fill="#555" stroke="#555" stroke-width="0" >0</text>
<line x1="257.0" y1="91" x2="257.0" y2="92.3" stroke="#666" stroke-width="0.5"/>
<text x="257.0" y="96.2" font-size="3.4" text-anchor="middle" font-weight="normal" fill="#555" stroke="#555" stroke-width="0" >0</text>
<line x1="272.5" y1="91" x2="272.5" y2="92.3" stroke="#666" stroke-width="0.5"/>
<text x="272.5" y="96.6" font-size="3.4" text-anchor="middle" fill="#555">10<tspan font-size="2.4" dy="-1.4">3</tspan></text>
<line x1="287.0" y1="91" x2="287.0" y2="92.3" stroke="#666" stroke-width="0.5"/>
<text x="287.0" y="96.6" font-size="3.4" text-anchor="middle" fill="#555">10<tspan font-size="2.4" dy="-1.4">4</tspan></text>
<line x1="301.0" y1="91" x2="301.0" y2="92.3" stroke="#666" stroke-width="0.5"/>
<text x="301.0" y="96.6" font-size="3.4" text-anchor="middle" fill="#555">10<tspan font-size="2.4" dy="-1.4">5</tspan></text>
<line x1="244.0" y1="92.3" x2="251.5" y2="92.3" stroke="#333" stroke-width="0.9"/>
<rect x="324.1" y="28" width="63.2" height="63" fill="#fff" stroke="#909090" stroke-width="0.8"/>
<line x1="365.40000000000003" y1="28" x2="365.40000000000003" y2="91" stroke="#aaa" stroke-width="0.7"/>
<line x1="324.1" y1="67.2" x2="387.3" y2="67.2" stroke="#aaa" stroke-width="0.7"/>
<polygon points="335.3,68.9 340.8,58.8 348.6,49.6 359.7,46.4 372.1,46.9 370.2,57.0 364.3,68.9" fill="#1c1c1c" opacity="0.6375" filter="url(#b3)"/>
<polygon points="342.4,67.0 346.0,59.3 351.1,52.3 358.3,49.8 366.4,50.2 365.2,57.9 361.3,67.0" fill="#1c1c1c" opacity="0.51" filter="url(#b3)"/>
<polygon points="344.8,67.7 347.5,61.1 351.3,55.1 356.7,53.0 362.8,53.3 361.9,59.9 359.0,67.7" fill="#1c1c1c" opacity="0.2975" filter="url(#b2)"/>
<path d="M369.1 54.5h.6M362.4 47.3h.6M338.8 63.1h.6M355.8 49.7h.6M364.6 61.5h.6M352.0 57.3h.6M366.8 46.7h.6M362.9 56.0h.6M359.1 55.2h.6M342.3 60.6h.6M367.7 62.6h.6M364.4 55.2h.6M357.5 68.1h.6M370.2 56.2h.6M341.5 57.6h.6M340.6 64.1h.6M368.7 53.3h.6M358.7 58.3h.6M352.8 54.5h.6M354.8 56.1h.6M357.9 63.0h.6M346.8 57.6h.6M361.7 59.3h.6M355.9 55.5h.6M348.6 59.4h.6M344.4 68.4h.6M363.4 58.6h.6M351.2 56.2h.6M365.7 48.7h.6M335.7 67.9h.6M343.9 63.2h.6M358.2 63.7h.6M370.1 51.2h.6M354.5 46.3h.6M353.8 53.4h.6M345.9 61.2h.6M352.6 62.9h.6M350.5 49.3h.6M366.2 49.8h.6M354.0 56.5h.6M337.7 68.8h.6M342.4 66.2h.6M347.2 70.6h.6M365.2 69.2h.6M368.1 64.8h.6M336.6 66.7h.6M365.3 63.7h.6M346.6 55.8h.6M360.8 46.7h.6M351.3 68.8h.6M354.8 69.5h.6M347.2 61.4h.6M362.0 53.0h.6M366.7 54.5h.6M347.2 58.1h.6M352.2 72.5h.6M354.6 67.6h.6M363.8 58.9h.6M355.4 49.5h.6M358.7 49.1h.6M351.6 55.2h.6M348.7 58.7h.6M345.8 68.7h.6M362.4 63.9h.6M344.9 65.4h.6M353.0 62.9h.6M339.5 63.0h.6M360.5 63.1h.6M353.8 46.5h.6M349.4 63.7h.6M362.8 48.0h.6M342.5 59.5h.6M359.3 70.5h.6M343.6 58.7h.6M366.5 62.3h.6M358.1 59.4h.6M368.0 55.0h.6M344.1 60.3h.6M348.3 69.6h.6M360.3 56.5h.6M352.7 55.6h.6M356.0 70.1h.6M350.2 70.6h.6M353.2 52.7h.6M360.3 63.5h.6M359.5 62.8h.6M350.6 51.0h.6M358.7 65.3h.6M370.8 46.8h.6M351.8 48.5h.6M362.2 67.7h.6M349.2 64.3h.6M350.6 56.3h.6M352.9 60.8h.6M356.7 59.7h.6M347.0 71.9h.6M344.9 61.9h.6M351.7 60.1h.6M342.8 52.3h.6M370.2 57.1h.6M361.3 51.6h.6M355.5 53.8h.6M362.1 51.7h.6M346.9 55.8h.6M344.4 60.9h.6M371.6 50.8h.6M353.3 65.1h.6M352.3 56.3h.6M352.4 63.5h.6M364.1 49.2h.6M360.5 64.5h.6M364.1 52.3h.6M350.9 60.0h.6M339.6 59.6h.6M358.9 65.6h.6M370.8 49.5h.6M351.8 53.4h.6M366.8 58.2h.6M357.3 48.9h.6M342.6 67.6h.6M368.3 63.8h.6M358.0 69.2h.6M360.7 66.8h.6M368.5 52.7h.6M364.6 52.8h.6M344.7 52.8h.6M370.9 47.8h.6M353.7 59.1h.6M355.2 68.3h.6M371.1 49.6h.6M344.3 53.8h.6M339.6 64.0h.6M361.7 59.0h.6M361.2 61.9h.6M360.3 46.6h.6M361.9 51.4h.6M361.6 66.2h.6M342.4 65.1h.6M340.1 66.7h.6M360.5 64.4h.6M361.3 59.0h.6M360.0 61.4h.6M364.4 64.2h.6M335.4 64.7h.6M362.7 67.2h.6M342.4 65.7h.6M346.6 66.5h.6M367.6 48.0h.6M347.6 54.6h.6M372.2 53.0h.6M364.3 56.3h.6M358.5 54.5h.6M339.0 60.7h.6M367.3 64.7h.6M344.5 54.9h.6M360.8 54.7h.6M364.8 63.7h.6M340.7 67.0h.6M355.3 69.7h.6M369.0 58.6h.6M363.0 61.4h.6M344.4 56.3h.6M339.9 68.3h.6M346.1 68.5h.6M355.3 47.8h.6M369.3 48.9h.6M365.4 57.6h.6M359.8 68.5h.6M341.3 54.9h.6M337.3 64.2h.6M352.5 65.1h.6M364.3 60.1h.6M340.2 69.0h.6M368.6 51.9h.6M339.5 68.5h.6M357.2 51.1h.6M344.6 54.6h.6M360.7 64.6h.6M366.6 46.7h.6M331.5 71.1h.6M372.4 48.3h.6M344.2 64.4h.6M348.3 64.1h.6M369.3 56.2h.6M367.5 49.0h.6M361.0 55.9h.6M357.1 56.2h.6M365.4 67.5h.6M371.3 48.0h.6M361.2 46.1h.6M363.9 49.9h.6M333.7 63.8h.6M356.1 59.9h.6M347.1 59.8h.6M348.6 60.7h.6M347.4 53.7h.6M359.5 64.9h.6M364.9 63.8h.6M348.8 67.0h.6M349.2 50.4h.6M358.9 60.1h.6M346.3 68.5h.6M348.7 46.6h.6M368.6 50.6h.6M373.1 46.8h.6M352.3 55.7h.6M362.9 51.0h.6M368.2 50.6h.6M358.3 59.1h.6M369.6 59.0h.6M362.7 66.4h.6M369.7 49.7h.6M361.7 58.4h.6M367.6 55.8h.6M359.1 60.5h.6M339.4 64.8h.6M369.1 49.8h.6M359.3 63.6h.6M357.5 54.5h.6M370.1 49.9h.6M353.1 63.7h.6M365.8 59.6h.6M356.3 56.7h.6M368.6 57.9h.6M371.3 54.2h.6M348.8 55.6h.6M336.4 69.2h.6M349.5 56.9h.6M344.2 58.4h.6M354.3 60.4h.6M354.5 53.5h.6M361.5 46.9h.6M349.3 67.3h.6M365.2 62.6h.6M361.0 63.4h.6M356.9 72.6h.6M340.6 59.1h.6M346.2 64.3h.6M358.2 69.4h.6M362.4 46.4h.6M357.3 68.4h.6M361.7 62.9h.6M356.1 56.6h.6M372.7 51.8h.6M356.4 59.0h.6M372.8 56.6h.6M350.9 52.4h.6M352.5 69.1h.6M372.4 46.8h.6M337.4 67.2h.6M341.9 61.6h.6M355.6 51.1h.6M343.9 60.8h.6M373.5 53.2h.6M352.8 48.2h.6M339.5 66.9h.6M365.2 53.2h.6M354.9 64.5h.6M356.2 57.5h.6M351.9 53.1h.6M349.9 73.2h.6M354.9 68.3h.6M340.6 64.0h.6M365.9 49.9h.6M359.2 64.0h.6M361.1 59.6h.6M338.3 74.0h.6M347.9 64.1h.6M366.6 44.1h.6M358.2 56.7h.6M346.2 62.5h.6M349.7 50.7h.6M355.4 68.7h.6M369.6 48.4h.6M337.6 65.8h.6M357.4 47.7h.6M350.6 67.6h.6M339.9 70.1h.6M346.1 63.8h.6M354.8 64.7h.6M355.7 59.0h.6M342.5 56.0h.6M364.1 53.6h.6M342.8 53.2h.6M361.7 68.4h.6M354.7 71.0h.6M342.7 62.0h.6M342.8 67.2h.6M341.4 62.7h.6M368.7 50.4h.6M369.3 49.5h.6M367.9 58.2h.6M356.7 49.2h.6M361.5 45.7h.6M368.7 58.5h.6M350.5 60.8h.6M357.4 65.1h.6M347.1 56.9h.6M359.1 64.1h.6M358.4 47.7h.6M353.2 67.2h.6M340.9 63.1h.6M368.6 55.8h.6M362.6 58.3h.6M350.6 53.4h.6M354.3 55.9h.6M351.3 50.6h.6M349.5 61.7h.6M365.3 45.8h.6M354.2 56.4h.6M361.7 47.2h.6M347.0 59.6h.6M359.0 46.2h.6M360.5 62.3h.6M373.2 59.3h.6M349.7 48.5h.6M369.3 57.4h.6M350.1 55.8h.6M363.3 55.2h.6M356.7 45.9h.6M353.9 49.3h.6M353.1 63.1h.6M362.1 49.0h.6M360.3 55.5h.6M344.1 48.3h.6M363.0 67.3h.6M349.3 63.4h.6M356.2 68.7h.6M368.7 44.3h.6M334.6 68.0h.6M350.3 53.2h.6M333.8 67.0h.6M334.1 69.8h.6M361.7 58.0h.6M352.5 68.8h.6M369.0 55.9h.6M348.1 69.5h.6M352.7 54.2h.6M359.1 46.2h.6M349.5 50.4h.6M346.4 65.7h.6M359.0 58.3h.6M350.1 69.0h.6M352.4 56.3h.6M373.0 52.0h.6M357.1 56.4h.6M363.8 50.4h.6M346.2 64.4h.6M361.1 49.1h.6M364.4 61.0h.6M368.5 55.2h.6M358.7 67.7h.6M339.3 57.5h.6M363.5 62.3h.6M355.2 62.3h.6M343.5 55.3h.6M352.4 50.8h.6M354.6 58.7h.6M345.6 60.0h.6M364.8 48.0h.6M345.4 70.4h.6M346.0 61.8h.6M344.9 67.4h.6M367.0 50.8h.6M347.4 60.4h.6M355.6 50.7h.6M365.1 66.9h.6M367.8 57.4h.6M340.6 67.5h.6M348.3 59.1h.6M341.7 60.7h.6M364.0 59.9h.6M348.1 57.5h.6M348.6 51.6h.6M368.7 46.5h.6M363.2 51.1h.6M361.9 67.8h.6M367.5 49.1h.6M355.0 52.6h.6M339.9 60.6h.6M352.6 63.2h.6M345.8 58.6h.6M362.1 47.3h.6M372.3 51.2h.6M352.9 54.2h.6M350.9 69.0h.6M341.4 58.7h.6M355.6 53.7h.6M358.4 48.9h.6M343.0 62.4h.6M362.9 55.3h.6M348.9 58.9h.6M342.2 54.7h.6M357.5 53.4h.6M370.3 52.8h.6M347.6 67.3h.6M354.5 66.4h.6M364.6 62.6h.6M356.7 68.7h.6M357.5 67.5h.6M363.6 52.4h.6M360.0 47.8h.6M350.5 64.5h.6M358.2 51.6h.6M355.5 52.2h.6M353.5 58.7h.6M357.5 47.9h.6M374.6 56.7h.6M343.9 67.6h.6M354.2 64.5h.6M353.7 54.7h.6M370.6 50.2h.6M356.8 54.9h.6M370.4 57.5h.6M342.8 69.5h.6M352.3 66.7h.6M342.5 67.8h.6M347.6 53.5h.6M369.9 51.0h.6M359.9 53.0h.6M352.2 52.8h.6M344.9 55.4h.6M350.2 54.5h.6M368.6 56.8h.6M370.6 62.5h.6M348.9 61.2h.6M358.4 56.8h.6M344.8 59.8h.6M356.6 64.7h.6M372.3 53.7h.6M361.6 53.4h.6M343.6 66.3h.6M353.9 66.6h.6M354.1 49.5h.6M363.5 65.0h.6M366.4 57.8h.6M338.7 63.6h.6M365.3 62.4h.6M348.4 69.1h.6M350.1 57.4h.6M339.5 62.1h.6M346.6 65.7h.6M339.8 64.0h.6M361.0 46.9h.6M350.6 65.4h.6M349.9 66.0h.6M348.6 49.0h.6M365.5 65.9h.6M354.5 54.5h.6M363.8 62.4h.6M353.7 49.4h.6M366.0 61.6h.6M349.2 55.2h.6M359.7 58.7h.6M367.6 61.0h.6M359.1 60.8h.6M336.3 68.1h.6M368.6 58.9h.6M353.2 60.1h.6M365.0 62.2h.6M337.7 72.6h.6M343.6 57.4h.6M354.7 68.4h.6M351.8 51.1h.6M353.5 60.5h.6M337.1 64.0h.6M366.5 50.9h.6M368.3 51.3h.6M357.1 61.5h.6M355.5 61.9h.6M354.5 59.4h.6M357.2 53.0h.6M337.7 68.2h.6M364.0 55.9h.6M350.5 50.6h.6M341.8 55.3h.6M368.8 47.1h.6M368.5 49.3h.6M345.3 64.1h.6M360.6 49.5h.6M349.1 58.4h.6M363.4 47.7h.6M347.2 64.1h.6M340.5 67.6h.6M358.3 54.6h.6M368.5 58.5h.6M347.2 63.9h.6M344.1 54.3h.6M334.4 65.3h.6M340.8 61.0h.6M359.4 53.4h.6M360.5 60.5h.6M369.7 58.0h.6M371.3 47.6h.6M356.7 60.8h.6M355.6 63.4h.6M346.0 65.4h.6M361.3 58.9h.6M351.1 60.1h.6M357.3 63.8h.6M367.5 63.5h.6M370.3 59.3h.6M342.8 61.5h.6M361.9 62.7h.6M340.6 56.6h.6M343.6 62.9h.6M358.5 61.7h.6M354.0 62.6h.6M370.6 48.2h.6M362.2 52.2h.6M349.3 59.2h.6M370.5 47.8h.6M349.3 61.6h.6M354.5 49.7h.6M336.8 62.9h.6M352.5 51.8h.6M353.9 53.9h.6M348.3 56.3h.6M347.5 58.6h.6M348.4 66.0h.6M351.3 62.1h.6M358.9 61.4h.6M357.9 65.2h.6M358.2 53.3h.6M357.8 55.5h.6M370.9 48.4h.6M353.4 60.4h.6M367.1 60.4h.6M356.1 46.2h.6M359.5 45.9h.6M360.2 61.7h.6M338.5 71.3h.6M359.7 44.4h.6M366.3 48.9h.6M348.8 63.6h.6M362.7 54.5h.6M346.7 64.2h.6M345.1 63.4h.6M360.9 69.9h.6M343.3 52.2h.6M371.2 49.1h.6M350.4 48.4h.6M351.5 58.5h.6M345.1 62.0h.6M365.4 53.7h.6M345.3 63.4h.6M356.8 46.3h.6M358.2 54.0h.6M356.0 67.9h.6M363.0 64.3h.6M369.2 50.3h.6M360.5 56.4h.6M362.1 61.0h.6M361.0 60.5h.6M367.9 69.4h.6M366.8 65.3h.6M355.6 46.6h.6M366.8 48.8h.6M353.3 54.5h.6M359.6 58.6h.6M369.3 57.8h.6M366.0 65.4h.6M340.7 63.1h.6M358.5 63.4h.6M360.6 46.2h.6M367.5 46.7h.6M362.6 51.7h.6M348.6 61.0h.6M351.0 50.4h.6M369.4 43.6h.6M342.5 66.4h.6M369.7 45.3h.6M355.6 60.1h.6M346.9 66.8h.6M357.1 55.3h.6M358.6 48.0h.6M342.0 68.2h.6M340.6 66.7h.6M347.7 51.2h.6M349.0 49.0h.6M356.9 66.4h.6M339.4 69.4h.6M366.4 63.8h.6M363.8 59.8h.6M360.0 53.8h.6M345.5 57.1h.6M351.5 47.9h.6M345.5 66.4h.6M365.4 59.1h.6M336.7 63.7h.6M369.1 50.6h.6M367.5 60.3h.6M364.8 61.1h.6M352.4 60.6h.6M359.9 65.4h.6M350.5 55.6h.6M354.3 60.2h.6M364.4 50.6h.6M342.5 55.8h.6M364.6 58.9h.6M362.8 44.5h.6M350.0 46.6h.6M362.2 48.5h.6M353.2 60.7h.6M350.4 67.9h.6M349.9 51.3h.6M350.4 53.3h.6M360.7 58.1h.6M368.6 49.3h.6M355.8 50.4h.6M349.1 58.3h.6M354.6 56.6h.6M365.7 61.7h.6M360.5 47.9h.6M357.2 61.5h.6M364.6 69.0h.6M356.4 66.7h.6M339.6 63.6h.6M350.4 58.9h.6M346.6 60.2h.6M367.3 58.6h.6M370.6 45.2h.6M371.3 49.2h.6M348.1 50.2h.6M354.7 64.3h.6M344.1 64.8h.6M344.1 61.1h.6M371.8 58.0h.6M343.3 65.5h.6M348.0 53.4h.6M356.8 51.5h.6M360.1 68.3h.6M367.8 47.7h.6M358.7 58.7h.6M356.2 61.0h.6M355.7 51.7h.6M340.6 69.2h.6M356.8 53.2h.6M350.8 71.1h.6M349.5 55.3h.6M346.5 56.9h.6M351.5 61.4h.6M368.9 50.2h.6M342.0 54.2h.6M368.6 53.4h.6M343.0 62.7h.6M343.3 68.3h.6M356.4 53.1h.6M363.2 69.9h.6M356.7 70.5h.6M365.1 54.8h.6M363.1 67.3h.6M348.6 57.2h.6M351.5 63.5h.6M359.6 70.3h.6M366.3 44.9h.6M339.5 61.6h.6M366.7 63.7h.6M357.5 56.9h.6M345.7 55.2h.6M358.0 48.8h.6M370.5 55.7h.6M358.6 47.7h.6M361.3 55.3h.6M347.6 67.9h.6M362.4 65.0h.6M356.9 57.1h.6M366.1 59.1h.6M344.4 56.8h.6M355.4 54.4h.6M364.4 64.3h.6M348.6 68.2h.6M349.8 67.8h.6M343.3 62.9h.6M358.5 63.1h.6M350.3 60.0h.6M345.7 58.3h.6M367.8 56.1h.6M349.5 55.8h.6M355.7 68.0h.6M363.7 49.7h.6M363.2 51.2h.6M371.3 57.2h.6M367.0 64.9h.6M367.4 45.8h.6M347.9 64.3h.6M359.8 57.1h.6M356.8 47.4h.6M349.0 62.0h.6M350.5 56.9h.6M352.9 48.6h.6M346.9 60.4h.6M370.0 53.6h.6M343.8 54.6h.6M347.6 64.7h.6M369.0 46.1h.6M363.8 67.9h.6M366.0 66.8h.6M359.3 46.4h.6M356.0 53.3h.6M348.7 50.6h.6M364.0 60.4h.6M346.7 66.2h.6M361.9 64.1h.6M353.4 62.7h.6M352.9 68.7h.6M339.4 63.8h.6M361.7 51.0h.6M370.3 54.4h.6M338.3 64.0h.6M346.6 56.9h.6M351.1 54.8h.6M369.7 59.1h.6M353.7 61.5h.6M356.5 59.7h.6M367.5 62.7h.6M341.5 57.1h.6M366.9 66.9h.6M351.3 66.1h.6M343.8 55.2h.6M359.3 63.7h.6M353.9 57.0h.6M357.5 51.1h.6M353.0 59.1h.6M366.0 50.7h.6M365.1 67.2h.6M337.2 67.9h.6M358.5 63.5h.6M342.9 64.9h.6M361.4 56.6h.6M355.5 53.2h.6M361.2 63.6h.6M340.6 69.3h.6M363.2 63.5h.6M344.4 59.7h.6M364.2 50.5h.6M334.9 63.5h.6M341.7 58.4h.6M351.6 60.6h.6M347.8 61.2h.6M370.3 56.0h.6M344.5 62.7h.6M370.5 53.0h.6M340.3 67.6h.6M340.0 63.0h.6M356.9 59.0h.6M357.3 55.3h.6M365.2 50.2h.6M364.5 50.9h.6M336.6 69.9h.6M343.3 66.8h.6M351.7 55.5h.6M352.3 51.5h.6M346.8 55.0h.6M364.0 57.1h.6M340.6 59.5h.6M338.3 64.1h.6M349.9 52.7h.6M333.8 69.1h.6M365.1 58.5h.6M357.4 65.0h.6M358.0 53.6h.6M340.2 68.8h.6M365.3 68.4h.6M363.5 51.1h.6M366.5 46.9h.6M355.8 67.9h.6M344.1 65.0h.6M356.2 50.2h.6M358.9 51.6h.6M343.5 58.2h.6M337.1 64.5h.6M346.1 51.7h.6M356.7 67.8h.6M344.8 68.2h.6M353.4 69.2h.6M359.7 62.6h.6M359.4 67.9h.6M339.7 65.5h.6M363.1 63.9h.6M340.2 59.5h.6M366.8 68.7h.6M348.2 58.2h.6M348.0 53.5h.6M348.7 56.4h.6M357.0 64.3h.6M357.6 53.8h.6M361.2 50.4h.6M357.3 51.0h.6M363.5 56.4h.6M366.9 59.5h.6M353.1 52.7h.6M365.7 52.7h.6M343.8 65.9h.6M358.7 51.1h.6M370.9 52.1h.6M351.9 63.8h.6M344.8 58.6h.6M353.5 60.0h.6M362.3 53.5h.6M342.6 55.7h.6M350.0 67.0h.6M370.0 58.9h.6M334.1 66.3h.6M365.6 61.0h.6M344.2 63.5h.6M339.8 61.0h.6M371.8 51.0h.6M354.6 51.5h.6M360.3 64.1h.6M346.5 52.9h.6M362.1 56.5h.6M339.7 53.2h.6M354.8 67.2h.6M353.1 48.7h.6M354.2 47.8h.6M348.1 62.0h.6M356.2 49.8h.6M369.4 59.3h.6M355.5 58.3h.6M339.0 69.1h.6M342.6 65.9h.6M361.8 57.3h.6M367.2 58.5h.6M348.3 69.2h.6M366.9 66.1h.6M340.0 61.6h.6M355.3 60.3h.6M358.7 54.6h.6M362.0 47.5h.6M351.3 68.9h.6M364.3 55.9h.6M346.0 55.2h.6M366.9 69.7h.6M362.4 62.8h.6M346.9 63.9h.6M352.2 61.1h.6M356.9 59.4h.6M364.8 47.2h.6M340.4 58.0h.6M343.2 60.8h.6M344.4 65.1h.6M372.8 51.1h.6M366.8 62.6h.6M338.5 60.4h.6M342.7 63.8h.6M347.4 49.0h.6M357.6 46.4h.6M366.6 59.2h.6M361.1 71.4h.6M357.7 44.1h.6M341.4 66.9h.6M352.9 52.3h.6M369.2 52.4h.6M346.2 63.6h.6M366.4 61.6h.6M346.0 56.5h.6M357.8 48.6h.6M353.5 50.7h.6M348.8 51.5h.6M370.3 53.9h.6M338.2 66.4h.6M367.7 44.0h.6M337.0 62.7h.6M362.1 62.1h.6M369.0 60.1h.6M357.5 53.1h.6M358.7 57.1h.6M368.3 62.9h.6M342.9 66.4h.6M356.6 69.8h.6M362.0 58.3h.6M359.5 50.2h.6M345.4 47.1h.6M354.2 65.3h.6M358.6 46.7h.6M348.2 65.8h.6M348.0 55.4h.6M360.5 50.0h.6M349.8 60.7h.6M357.9 63.9h.6M360.5 45.5h.6M367.0 55.6h.6M365.5 65.0h.6M356.6 61.6h.6M357.9 66.2h.6M342.2 67.3h.6M342.8 54.7h.6M343.2 58.3h.6M350.8 58.3h.6M346.9 50.2h.6M341.1 65.9h.6M361.6 63.0h.6M350.8 48.1h.6M355.7 56.5h.6M354.2 55.9h.6M345.7 61.0h.6M361.2 69.4h.6M341.7 69.4h.6M355.2 49.9h.6M366.9 47.2h.6M366.2 56.7h.6M346.4 51.2h.6M367.7 51.3h.6M340.5 68.4h.6M333.3 68.3h.6M336.7 65.6h.6M364.0 48.6h.6M352.4 66.2h.6M344.7 59.8h.6M357.6 53.3h.6M362.6 70.0h.6M366.2 64.5h.6M347.4 61.4h.6M351.0 52.8h.6M346.3 60.7h.6M365.2 57.0h.6M341.2 58.3h.6M340.8 61.4h.6M369.5 47.8h.6M356.9 49.0h.6M355.7 58.8h.6M339.2 69.2h.6M360.2 48.5h.6M366.5 59.1h.6M368.6 53.5h.6M365.6 60.9h.6M352.1 63.8h.6M344.6 62.3h.6M350.2 55.8h.6M362.1 52.1h.6M346.5 57.3h.6M345.8 53.0h.6M356.0 56.3h.6M350.1 66.4h.6M342.9 54.8h.6M358.1 54.3h.6M346.6 57.6h.6M361.7 70.6h.6M356.9 62.9h.6M351.1 58.8h.6M351.4 52.8h.6M365.4 58.4h.6M346.0 49.1h.6M361.0 66.6h.6M335.0 68.5h.6M345.5 56.4h.6M358.5 68.0h.6M369.0 63.8h.6M347.4 58.3h.6M360.6 68.9h.6M361.7 54.5h.6M348.7 65.6h.6M355.9 53.8h.6M359.3 54.5h.6M349.0 51.3h.6M353.4 52.1h.6M346.5 63.9h.6M360.9 60.7h.6M349.3 54.3h.6M344.4 60.3h.6M368.1 46.6h.6M367.4 59.4h.6M346.1 69.1h.6M347.5 53.6h.6M372.1 55.5h.6M360.6 62.2h.6M355.7 55.4h.6M351.7 65.0h.6M339.6 61.2h.6M344.5 69.9h.6M355.2 67.8h.6M363.3 56.1h.6M357.2 52.3h.6M370.5 48.0h.6M356.3 56.5h.6M355.7 61.9h.6M348.5 68.9h.6M339.7 69.5h.6M362.1 66.4h.6M336.1 67.5h.6M346.6 48.3h.6M358.9 72.7h.6M361.6 51.6h.6M357.3 69.7h.6M362.5 60.3h.6M355.4 59.4h.6M370.5 58.8h.6M358.9 70.3h.6M346.5 52.2h.6M358.7 62.1h.6M365.7 60.8h.6M342.0 61.4h.6M343.5 63.8h.6M338.2 65.3h.6M355.8 66.3h.6M339.9 64.5h.6M360.0 60.0h.6M368.4 58.2h.6M344.6 62.5h.6M363.4 67.4h.6M365.2 54.0h.6M344.0 67.0h.6M346.6 52.9h.6M366.9 51.6h.6M348.6 71.5h.6M371.7 51.5h.6M371.5 55.3h.6M352.3 52.0h.6M357.8 67.6h.6M344.5 52.3h.6M356.2 66.5h.6M363.8 66.1h.6M335.5 68.1h.6M337.4 66.1h.6M355.8 51.6h.6M355.7 53.4h.6M372.0 47.5h.6M344.9 67.1h.6M370.6 58.4h.6M345.2 67.9h.6M369.0 48.1h.6M347.9 57.4h.6M359.3 57.6h.6M366.9 65.6h.6M348.1 56.4h.6M343.3 64.0h.6M359.1 55.6h.6M334.6 66.6h.6M341.2 58.0h.6M348.9 67.0h.6M343.5 68.8h.6M351.3 65.4h.6M368.0 62.3h.6M339.7 54.7h.6M345.0 64.2h.6M369.9 60.2h.6M351.0 63.1h.6M358.1 59.2h.6M353.5 45.6h.6M362.3 51.6h.6M343.5 62.0h.6M362.7 56.4h.6M336.0 65.9h.6M344.2 69.0h.6M348.4 65.0h.6M347.0 65.4h.6M372.1 52.0h.6M346.9 51.5h.6M340.0 69.0h.6M358.6 63.9h.6M335.0 65.1h.6M352.4 58.0h.6M357.1 57.8h.6M361.4 48.5h.6M361.8 53.2h.6M371.9 55.6h.6M369.7 47.9h.6M360.8 46.0h.6M362.1 61.2h.6M347.1 50.4h.6M340.9 67.0h.6M364.0 53.8h.6M355.6 49.3h.6M366.9 50.0h.6M363.5 59.1h.6M364.7 55.5h.6M352.5 57.4h.6M367.6 49.1h.6M348.2 54.4h.6M356.6 56.1h.6M345.4 58.3h.6M354.6 63.0h.6M340.6 67.4h.6M358.9 45.2h.6M362.6 54.6h.6M342.7 63.1h.6M364.2 65.6h.6M362.2 68.2h.6M356.2 57.2h.6M370.6 55.5h.6M353.5 60.9h.6M351.7 58.8h.6M363.9 55.8h.6M362.0 61.3h.6M353.2 52.8h.6M361.3 59.9h.6M364.0 55.9h.6M359.7 55.0h.6M360.6 63.3h.6M361.7 49.2h.6M345.4 51.3h.6M359.9 46.4h.6M370.3 48.7h.6M344.1 57.3h.6M361.4 67.5h.6M364.6 59.7h.6M357.4 64.1h.6M356.4 55.8h.6M366.2 46.8h.6M353.4 57.7h.6M350.5 48.4h.6M356.1 69.3h.6M341.7 55.5h.6M344.0 57.9h.6M356.9 67.0h.6M351.3 67.8h.6M354.5 68.1h.6M351.1 66.5h.6M357.6 68.3h.6M355.3 63.7h.6M350.6 69.1h.6M348.6 54.6h.6M360.1 47.9h.6M346.9 55.4h.6M347.7 59.3h.6M365.1 62.1h.6M372.2 48.0h.6M351.8 66.2h.6M369.4 50.8h.6M356.6 68.9h.6M350.5 58.4h.6M345.5 53.9h.6M351.9 46.5h.6M342.4 65.8h.6M368.9 53.1h.6M367.1 51.4h.6M352.2 53.4h.6M348.5 62.7h.6M341.6 71.5h.6M348.9 54.5h.6M369.7 50.2h.6M361.2 53.5h.6M366.6 53.0h.6M356.5 50.9h.6M369.5 56.9h.6M352.7 47.5h.6M373.9 49.0h.6M364.1 60.9h.6M347.5 66.2h.6M335.3 70.2h.6M348.2 55.8h.6M357.3 60.1h.6M343.8 66.9h.6M348.7 59.8h.6M363.4 65.4h.6M353.7 61.5h.6M346.4 58.1h.6M358.2 45.9h.6M352.4 64.0h.6M351.8 61.1h.6M352.7 48.8h.6M354.7 67.9h.6M347.4 57.1h.6M344.1 65.8h.6M370.1 57.1h.6M354.8 58.9h.6M372.5 47.9h.6M348.9 60.1h.6M360.3 51.7h.6M332.9 70.1h.6M363.3 62.1h.6M354.5 55.4h.6M363.6 61.6h.6M347.5 62.5h.6M363.3 49.0h.6M362.6 51.9h.6M353.6 55.2h.6M357.8 66.9h.6M341.3 62.9h.6M339.1 68.6h.6M372.5 52.3h.6M362.4 56.2h.6M357.2 59.6h.6M339.2 67.3h.6M361.3 61.8h.6M341.3 64.0h.6M348.5 52.5h.6M363.2 58.3h.6M348.1 54.4h.6M343.8 59.1h.6M352.4 57.3h.6M351.7 67.6h.6M357.1 53.8h.6M369.8 53.3h.6M361.7 51.7h.6M360.0 59.2h.6M353.3 57.6h.6M355.6 57.9h.6M366.6 57.1h.6M363.3 47.7h.6M367.8 60.8h.6M344.2 69.6h.6M337.2 64.2h.6M364.9 55.8h.6M364.8 49.6h.6M366.1 47.1h.6M368.1 60.7h.6M353.2 70.1h.6M347.3 54.7h.6M340.2 61.3h.6M352.9 59.9h.6M349.9 51.8h.6M358.7 47.4h.6M343.2 63.9h.6M348.5 53.4h.6M369.0 57.1h.6M365.1 43.1h.6M361.0 65.3h.6M342.0 54.3h.6M351.5 52.8h.6M364.2 61.9h.6M368.0 45.4h.6M367.0 50.8h.6M370.1 50.5h.6M345.7 59.6h.6M364.4 51.5h.6M361.7 54.5h.6M344.5 62.8h.6M366.7 48.0h.6M344.1 64.3h.6M345.4 65.3h.6M365.1 49.2h.6M349.4 52.4h.6M361.3 45.2h.6M366.5 48.4h.6M354.8 68.4h.6M355.3 63.4h.6M359.4 65.5h.6M363.2 44.2h.6M342.4 65.0h.6M363.8 57.8h.6M362.8 58.1h.6M370.0 48.0h.6M365.6 56.3h.6M354.7 58.4h.6M350.8 47.3h.6M358.3 49.5h.6M355.6 68.5h.6M360.9 48.8h.6M352.3 56.2h.6M343.7 55.0h.6M354.5 63.8h.6M355.7 58.6h.6M357.6 63.1h.6M354.3 55.5h.6M348.5 63.5h.6M358.0 61.3h.6M351.7 52.8h.6M348.2 58.7h.6M360.8 60.8h.6M346.5 54.5h.6M348.6 57.0h.6M364.8 50.1h.6M349.2 57.4h.6M345.4 58.7h.6M356.4 64.6h.6M357.5 62.2h.6M342.6 71.6h.6M354.1 47.8h.6M345.7 62.2h.6M357.4 54.7h.6M365.9 52.3h.6M359.3 60.6h.6M370.4 48.2h.6M350.0 50.4h.6M359.8 57.3h.6M353.0 55.7h.6M350.5 58.3h.6M360.5 67.0h.6M358.2 65.0h.6M367.7 53.2h.6M368.7 58.9h.6M342.7 65.8h.6M363.1 45.2h.6M368.5 59.2h.6M345.0 72.2h.6M346.6 63.2h.6M359.3 48.5h.6M368.2 52.3h.6M347.2 69.9h.6M366.2 66.0h.6M364.0 68.3h.6M353.5 65.2h.6M336.3 70.8h.6M351.6 55.7h.6M343.4 67.1h.6M353.9 66.5h.6M357.3 48.4h.6M352.7 49.0h.6M360.7 54.0h.6M342.5 57.8h.6M359.2 46.7h.6M355.3 66.3h.6M353.2 63.4h.6M357.9 54.6h.6M368.5 56.6h.6M341.5 64.9h.6M355.8 65.6h.6M344.1 68.2h.6M356.9 57.7h.6M360.9 53.2h.6M343.5 54.0h.6M358.3 64.8h.6M342.5 65.9h.6M345.5 64.9h.6M339.8 65.9h.6M366.0 57.4h.6M353.5 64.5h.6M367.6 63.2h.6M355.1 56.6h.6M369.0 62.0h.6M364.5 65.0h.6M355.9 57.9h.6M369.9 54.5h.6M338.0 69.5h.6M356.3 59.4h.6M353.0 68.1h.6M365.2 64.6h.6M351.2 50.8h.6M365.7 51.4h.6M345.2 57.6h.6M365.2 56.7h.6M357.8 49.6h.6M368.7 47.9h.6M355.5 62.8h.6M363.5 55.4h.6M348.5 59.6h.6M351.0 60.8h.6M336.3 65.0h.6M366.5 59.5h.6M366.5 49.3h.6M346.8 55.1h.6M347.3 67.0h.6M348.7 67.8h.6M363.7 58.6h.6M351.5 56.7h.6M363.7 48.0h.6M340.5 59.6h.6M352.0 54.5h.6M365.7 63.6h.6M364.8 62.7h.6M368.6 53.0h.6M365.7 54.3h.6M348.5 54.3h.6M345.4 50.4h.6M354.7 49.8h.6M336.4 71.3h.6M349.5 61.5h.6M354.2 50.7h.6M339.4 57.4h.6M339.3 64.5h.6M360.1 46.5h.6M356.8 59.5h.6M355.6 69.0h.6M354.5 62.9h.6M370.3 49.1h.6M349.8 51.1h.6M372.8 56.1h.6M360.1 59.5h.6M365.0 62.6h.6M372.6 49.9h.6M354.5 60.1h.6M362.7 58.5h.6M336.2 66.9h.6M353.0 58.4h.6M363.9 57.9h.6M356.7 61.1h.6M343.1 55.6h.6M341.2 64.6h.6M348.5 57.5h.6M360.5 51.2h.6M349.3 56.3h.6M349.2 59.7h.6M364.6 68.9h.6M342.7 60.8h.6M363.0 70.9h.6M364.7 59.1h.6M370.9 60.8h.6M349.0 68.5h.6M367.0 54.8h.6M342.1 53.8h.6M372.1 51.1h.6M338.4 68.1h.6M361.7 50.6h.6M369.2 50.2h.6M336.6 72.1h.6M366.8 58.7h.6M366.6 54.3h.6M359.5 57.9h.6M371.5 49.6h.6M344.3 63.9h.6M351.7 52.7h.6M347.3 49.6h.6M339.5 67.3h.6M343.2 66.7h.6M348.7 52.2h.6M362.5 50.7h.6M362.3 55.8h.6M358.2 61.4h.6" stroke="#222" stroke-width="0.6" fill="none"/>
<path d="M354.6 51.5h0.5M351.6 50.8h0.5M355.0 50.3h0.5M345.2 53.7h0.5M349.7 58.6h0.5M361.4 51.7h0.5M353.7 56.3h0.5M356.3 55.4h0.5M347.9 62.0h0.5M356.1 47.5h0.5M346.0 70.1h0.5M353.3 54.5h0.5M345.6 63.4h0.5M362.3 49.8h0.5M364.9 66.6h0.5M361.2 53.7h0.5M352.6 68.3h0.5M362.7 51.4h0.5M364.1 56.3h0.5M370.9 53.9h0.5M360.1 60.3h0.5M352.4 53.9h0.5M353.4 57.1h0.5M365.5 52.2h0.5M358.3 51.5h0.5M360.4 51.5h0.5M348.5 67.3h0.5M362.8 62.6h0.5M368.5 49.5h0.5M341.3 54.2h0.5M353.2 51.4h0.5M367.7 53.4h0.5M343.0 54.5h0.5M370.5 55.2h0.5M368.6 59.4h0.5M358.4 51.9h0.5M358.6 56.6h0.5M352.4 59.8h0.5M334.2 65.6h0.5M348.4 48.6h0.5M356.3 53.7h0.5M378.2 52.2h0.5M362.7 52.3h0.5M339.8 61.8h0.5M357.3 63.5h0.5M341.8 66.6h0.5M367.1 54.3h0.5M349.4 61.6h0.5M362.8 60.4h0.5M353.0 58.5h0.5M352.2 53.2h0.5M354.8 63.5h0.5M352.2 57.2h0.5M349.2 57.4h0.5M362.8 55.4h0.5M360.3 56.3h0.5M359.2 60.1h0.5M350.8 59.4h0.5M352.7 68.4h0.5M362.3 54.3h0.5M361.9 58.5h0.5M363.7 56.8h0.5M356.6 57.0h0.5M365.9 56.0h0.5M363.0 60.7h0.5M351.7 61.3h0.5M352.6 67.7h0.5M361.7 54.5h0.5M353.5 59.0h0.5M341.5 73.4h0.5M363.0 56.9h0.5M350.2 59.6h0.5M353.3 59.5h0.5M349.6 56.7h0.5M367.7 45.9h0.5M359.7 58.3h0.5M369.5 57.0h0.5M356.5 61.9h0.5M364.1 54.9h0.5M337.3 59.0h0.5M357.0 68.7h0.5M363.4 52.1h0.5M358.4 58.1h0.5M359.1 60.8h0.5M350.1 59.1h0.5M351.4 52.9h0.5M345.7 59.7h0.5M350.7 67.1h0.5M365.3 54.8h0.5M350.3 64.1h0.5M353.3 50.9h0.5M365.9 54.1h0.5M355.1 44.9h0.5M356.6 71.3h0.5M355.5 69.2h0.5M358.1 52.9h0.5M348.6 57.3h0.5M346.4 49.3h0.5M374.2 62.1h0.5M358.3 56.9h0.5M352.1 59.7h0.5M356.4 65.1h0.5M350.9 60.6h0.5M371.3 56.9h0.5M346.7 52.8h0.5M366.9 45.0h0.5M354.5 59.3h0.5M360.6 51.7h0.5M352.9 57.4h0.5M351.7 67.5h0.5M354.0 60.5h0.5M354.4 64.7h0.5M368.1 45.4h0.5M357.0 57.1h0.5M365.4 48.2h0.5M365.5 53.5h0.5M361.5 51.0h0.5M350.5 59.9h0.5M362.6 52.8h0.5M367.0 60.8h0.5M342.6 60.2h0.5M350.5 57.4h0.5M357.0 50.0h0.5M350.2 61.1h0.5M356.7 58.2h0.5M351.6 50.6h0.5M354.3 62.3h0.5M360.0 58.0h0.5M346.8 59.8h0.5M343.5 64.8h0.5M351.8 65.1h0.5M357.9 64.2h0.5M372.3 48.7h0.5M355.8 50.1h0.5M345.6 49.3h0.5M359.0 71.2h0.5M365.0 60.4h0.5M354.2 57.4h0.5M356.3 54.9h0.5M362.0 58.1h0.5M340.9 54.7h0.5M354.3 57.8h0.5M348.6 67.7h0.5M367.6 53.6h0.5M347.4 65.2h0.5M352.9 66.6h0.5M359.9 57.6h0.5M364.5 56.3h0.5M370.3 39.1h0.5M360.1 60.7h0.5M353.9 42.1h0.5M362.6 50.4h0.5M354.8 70.3h0.5M357.8 61.8h0.5M362.5 57.5h0.5M365.1 54.1h0.5M365.5 51.6h0.5M354.7 68.3h0.5M359.4 60.7h0.5M338.7 53.2h0.5M358.3 58.2h0.5M363.3 44.7h0.5M351.5 62.9h0.5M365.9 53.2h0.5M362.8 58.9h0.5M376.0 54.0h0.5M349.8 51.8h0.5M343.6 64.5h0.5M350.6 62.5h0.5M348.4 48.1h0.5M365.3 55.8h0.5M346.6 55.8h0.5M367.4 51.9h0.5M351.9 54.4h0.5M356.6 67.9h0.5M351.5 61.0h0.5M353.3 58.8h0.5M351.9 69.1h0.5M359.6 60.8h0.5M349.1 61.5h0.5M370.3 47.9h0.5M349.2 53.4h0.5M353.7 63.2h0.5M351.4 56.9h0.5M369.3 59.6h0.5M364.2 70.3h0.5M352.7 57.6h0.5M342.4 60.8h0.5M358.8 72.1h0.5M348.4 62.7h0.5M359.1 59.1h0.5M340.2 67.5h0.5M347.8 62.8h0.5M341.6 65.0h0.5M351.0 53.8h0.5M358.7 58.7h0.5M358.5 48.5h0.5M347.3 64.0h0.5M355.1 54.7h0.5M344.9 65.5h0.5M361.2 48.3h0.5M356.4 49.4h0.5M356.9 48.3h0.5M363.5 52.4h0.5M362.9 50.5h0.5M343.8 59.9h0.5M350.2 63.6h0.5M353.7 63.3h0.5M354.1 56.1h0.5M351.9 59.0h0.5M363.9 61.3h0.5M353.2 60.2h0.5M367.9 59.0h0.5M346.6 56.5h0.5M356.2 66.0h0.5M356.3 64.1h0.5M357.2 61.1h0.5M359.2 55.1h0.5M352.2 61.1h0.5M370.0 41.8h0.5M361.2 52.9h0.5M346.8 63.6h0.5M358.8 47.9h0.5M351.0 66.4h0.5M350.5 69.6h0.5M362.3 49.3h0.5M361.3 62.2h0.5M356.7 44.3h0.5M346.5 65.2h0.5M369.2 59.3h0.5M358.9 55.3h0.5M352.7 65.1h0.5M362.8 66.4h0.5M372.5 52.1h0.5M350.8 61.2h0.5M365.2 53.7h0.5M358.6 52.5h0.5M342.7 72.0h0.5M368.3 47.1h0.5M352.6 48.4h0.5M374.2 61.6h0.5M363.3 46.4h0.5M358.1 57.8h0.5M357.4 53.3h0.5M360.5 56.2h0.5M345.5 58.8h0.5M369.2 50.8h0.5M366.3 64.7h0.5M356.0 66.3h0.5M362.6 49.0h0.5M356.6 60.0h0.5M340.7 57.5h0.5M356.5 66.5h0.5M359.9 66.0h0.5M343.8 64.4h0.5M362.7 61.1h0.5M365.5 58.8h0.5M362.3 55.1h0.5M370.3 53.9h0.5M355.0 64.7h0.5M361.8 55.6h0.5M360.2 53.6h0.5M349.2 52.4h0.5M358.2 66.0h0.5M337.6 68.3h0.5M363.1 57.7h0.5M345.7 65.0h0.5M361.8 61.4h0.5M355.5 54.3h0.5M361.2 55.5h0.5M349.1 63.2h0.5M358.6 56.0h0.5M353.6 59.7h0.5M359.6 60.5h0.5M347.5 60.8h0.5M359.9 52.8h0.5M346.5 56.4h0.5M343.8 60.2h0.5M358.2 60.9h0.5M358.3 57.7h0.5" stroke="#555" stroke-width="0.5" fill="none" opacity="1.0"/>
<path d="M352.7 77.2h0.6M336.4 78.1h0.6M348.8 89.2h0.6M347.6 89.4h0.6M346.2 70.1h0.6M345.2 76.2h0.6M346.6 75.8h0.6M367.5 79.4h0.6M346.1 77.5h0.6M347.2 83.6h0.6M347.5 82.8h0.6M339.2 78.9h0.6M346.7 78.7h0.6M337.2 74.1h0.6M334.2 80.0h0.6M358.3 77.5h0.6M335.5 75.7h0.6M356.7 68.6h0.6M344.6 78.2h0.6M343.4 79.1h0.6M351.2 79.7h0.6M355.1 83.4h0.6M333.9 71.8h0.6M345.5 78.1h0.6M349.1 71.3h0.6M336.7 87.4h0.6M348.7 79.6h0.6M362.3 67.2h0.6M349.4 76.4h0.6M346.5 85.3h0.6M346.6 69.7h0.6M337.5 70.4h0.6M357.2 74.3h0.6M337.6 76.6h0.6M335.7 80.1h0.6M348.4 78.8h0.6M357.1 75.5h0.6M355.2 68.4h0.6M355.4 87.7h0.6M340.3 82.0h0.6M338.8 78.3h0.6M351.9 74.7h0.6M338.1 77.1h0.6M346.8 79.8h0.6M348.0 68.1h0.6M356.7 80.3h0.6M334.7 76.8h0.6M356.4 89.3h0.6M346.2 74.7h0.6M358.1 77.3h0.6M347.2 68.9h0.6M338.5 79.9h0.6M363.3 79.8h0.6M346.0 75.6h0.6M337.5 71.1h0.6M353.9 87.9h0.6M344.7 72.9h0.6M333.9 75.2h0.6M356.3 68.6h0.6M344.9 84.4h0.6M361.0 73.8h0.6M349.7 80.3h0.6M348.9 77.2h0.6M349.1 78.7h0.6M345.9 76.6h0.6M344.3 90.3h0.6M347.5 83.7h0.6M339.7 85.8h0.6M356.6 78.5h0.6M368.6 82.2h0.6M363.5 72.8h0.6M328.3 81.8h0.6M347.9 74.1h0.6M338.6 80.7h0.6M354.8 83.8h0.6M347.2 75.4h0.6M335.7 72.3h0.6M359.1 70.4h0.6M346.6 75.0h0.6M341.5 70.6h0.6M344.0 80.3h0.6M345.0 79.5h0.6M341.6 72.0h0.6M354.3 77.0h0.6M345.2 80.6h0.6M355.8 74.6h0.6M348.0 76.4h0.6M359.0 70.3h0.6M341.2 77.3h0.6M326.5 69.3h0.6M351.5 83.8h0.6M361.6 76.0h0.6M352.0 77.9h0.6M340.8 79.0h0.6M347.0 84.7h0.6M345.2 69.9h0.6M349.6 74.3h0.6M348.5 79.8h0.6M332.2 68.3h0.6M350.4 82.2h0.6M342.3 77.4h0.6M351.5 74.4h0.6M346.6 74.8h0.6M356.2 77.5h0.6M339.1 78.9h0.6M341.1 75.9h0.6M336.6 76.4h0.6M354.2 81.5h0.6M352.5 72.9h0.6M347.2 77.4h0.6M345.3 76.0h0.6M334.5 87.9h0.6M341.0 78.4h0.6M349.0 71.6h0.6M342.1 79.6h0.6M347.1 80.5h0.6M338.7 77.2h0.6M339.2 77.7h0.6M341.7 74.8h0.6M352.4 83.7h0.6M346.8 79.0h0.6M339.2 74.9h0.6M343.7 79.8h0.6M362.1 67.4h0.6M357.3 85.3h0.6M352.4 75.8h0.6M353.8 69.6h0.6M335.8 78.5h0.6M342.2 81.7h0.6M339.7 67.5h0.6M346.0 80.8h0.6M334.7 78.1h0.6M348.2 79.9h0.6M354.3 79.1h0.6M341.5 70.4h0.6M352.8 76.2h0.6M355.3 84.3h0.6M342.1 74.6h0.6M358.3 78.8h0.6M337.8 76.7h0.6M344.0 84.4h0.6M336.5 74.0h0.6M354.4 82.3h0.6M349.3 74.8h0.6M339.4 63.4h0.6M353.2 79.2h0.6M348.0 70.6h0.6M332.1 75.4h0.6M343.7 84.3h0.6M367.5 70.1h0.6M340.8 82.2h0.6M355.8 82.0h0.6M346.2 74.9h0.6M343.6 70.1h0.6M341.5 73.3h0.6M357.2 85.4h0.6M349.8 69.0h0.6M345.9 74.7h0.6M357.8 72.2h0.6M350.9 77.3h0.6M354.6 74.5h0.6M361.5 79.5h0.6M346.0 76.4h0.6M343.4 83.6h0.6M354.4 76.3h0.6M371.5 80.2h0.6M355.5 86.4h0.6M357.0 80.2h0.6M339.1 72.6h0.6M354.2 77.1h0.6M345.0 84.6h0.6M353.6 85.6h0.6M345.0 72.2h0.6M346.5 82.5h0.6M338.3 77.5h0.6M352.7 78.9h0.6M351.5 64.0h0.6M352.0 83.0h0.6M339.6 79.5h0.6M347.3 77.5h0.6M375.9 75.9h0.6M336.7 73.3h0.6M341.6 78.0h0.6M350.9 74.9h0.6M368.2 80.3h0.6M347.7 75.6h0.6M349.4 72.9h0.6M345.8 74.7h0.6M354.2 73.3h0.6M337.6 75.3h0.6M356.9 79.8h0.6M343.9 77.1h0.6M340.6 73.1h0.6M350.1 73.9h0.6M340.0 75.7h0.6M347.9 80.6h0.6M343.3 78.8h0.6M351.0 87.2h0.6M348.6 65.4h0.6M350.1 71.9h0.6M350.6 78.4h0.6M338.4 64.7h0.6M351.9 73.1h0.6M356.4 69.8h0.6M336.3 69.4h0.6M349.6 85.7h0.6M349.1 70.9h0.6M352.4 69.6h0.6M347.9 85.9h0.6M346.8 69.6h0.6M347.4 79.5h0.6M334.1 80.2h0.6M348.0 64.9h0.6M351.8 71.7h0.6M343.3 83.9h0.6M352.9 74.4h0.6M353.7 88.8h0.6M360.6 74.6h0.6M363.0 76.1h0.6M337.8 72.2h0.6M330.9 74.2h0.6M346.2 87.4h0.6M344.8 72.1h0.6M351.0 77.9h0.6M357.3 71.6h0.6M353.8 71.8h0.6M343.4 82.8h0.6M342.6 80.3h0.6M343.6 82.8h0.6M350.2 80.2h0.6M361.7 71.1h0.6M354.0 78.7h0.6M338.5 77.2h0.6M350.3 71.2h0.6M343.3 84.6h0.6M344.6 69.9h0.6M368.1 87.0h0.6M343.3 79.9h0.6M344.8 79.8h0.6M353.6 89.9h0.6M355.5 88.8h0.6M349.4 73.6h0.6M350.3 76.4h0.6M325.2 85.3h0.6M341.5 87.8h0.6M335.6 75.2h0.6M362.1 73.5h0.6M348.3 86.1h0.6M338.9 83.0h0.6M349.6 73.4h0.6M347.9 80.8h0.6M350.3 74.9h0.6M350.6 79.2h0.6M338.4 70.2h0.6M340.8 77.1h0.6M346.8 81.7h0.6M345.2 77.1h0.6M357.8 70.7h0.6M332.2 85.4h0.6M356.2 73.0h0.6M358.3 79.4h0.6M341.7 86.8h0.6M334.0 73.3h0.6M348.5 81.9h0.6M348.4 82.9h0.6M338.3 76.2h0.6M359.7 75.9h0.6M342.7 74.3h0.6M347.5 76.3h0.6M327.5 67.7h0.6M360.7 84.9h0.6M346.6 82.7h0.6M341.3 81.1h0.6M356.2 75.0h0.6M345.4 79.3h0.6M357.0 74.9h0.6M353.7 77.4h0.6M342.4 83.9h0.6M360.2 70.8h0.6M349.2 75.7h0.6M337.4 78.2h0.6M347.1 74.2h0.6M336.1 81.9h0.6M357.0 77.9h0.6M329.6 81.3h0.6M361.8 77.2h0.6M333.5 70.6h0.6M346.7 75.3h0.6M344.8 77.5h0.6M353.6 86.3h0.6M351.4 76.4h0.6M342.9 68.8h0.6M359.9 75.6h0.6M346.4 69.9h0.6M351.0 77.1h0.6M340.7 80.2h0.6M367.7 76.1h0.6M345.8 80.9h0.6M341.6 75.9h0.6M360.7 76.2h0.6M349.0 72.5h0.6M336.6 75.9h0.6M346.5 70.9h0.6M342.9 79.5h0.6M349.3 87.0h0.6M341.0 71.0h0.6M351.2 75.5h0.6M352.7 73.4h0.6M331.7 87.8h0.6M343.5 81.0h0.6M361.0 75.0h0.6M335.4 79.0h0.6M353.2 80.5h0.6M332.9 75.9h0.6M366.3 70.6h0.6M358.6 69.3h0.6M342.1 70.6h0.6M357.1 83.1h0.6M352.3 72.9h0.6M351.8 80.2h0.6M361.2 70.6h0.6M346.4 81.0h0.6M346.2 71.9h0.6M344.2 89.5h0.6M354.9 83.9h0.6M351.5 77.0h0.6M344.6 76.3h0.6M345.0 76.1h0.6M336.9 75.1h0.6M348.5 72.0h0.6M359.9 86.5h0.6M339.8 71.0h0.6M327.9 77.6h0.6M341.5 76.6h0.6M334.1 79.1h0.6M338.6 78.7h0.6M344.8 81.8h0.6M342.4 81.5h0.6M343.6 70.5h0.6M355.7 77.8h0.6M361.2 77.6h0.6M346.2 88.5h0.6M340.2 70.8h0.6M350.4 70.3h0.6M346.4 67.8h0.6M359.3 81.2h0.6M351.3 74.0h0.6M335.1 85.4h0.6M353.3 75.8h0.6M337.7 77.7h0.6M342.5 75.8h0.6M335.1 85.0h0.6M348.9 88.7h0.6M351.0 77.1h0.6M353.3 75.3h0.6M354.6 82.0h0.6M359.1 77.5h0.6M346.0 85.0h0.6M346.2 74.3h0.6M356.5 75.3h0.6M355.2 84.1h0.6M340.5 77.4h0.6M348.7 76.9h0.6M345.1 85.1h0.6M348.7 78.6h0.6M347.9 74.4h0.6M350.7 82.8h0.6M338.8 80.4h0.6M360.5 82.2h0.6M359.8 78.2h0.6M343.1 74.8h0.6M346.5 90.4h0.6M346.7 73.1h0.6M359.0 83.7h0.6M351.4 80.1h0.6M343.9 70.7h0.6M346.4 75.2h0.6M345.0 72.6h0.6M346.0 79.9h0.6M348.3 85.4h0.6M346.5 86.4h0.6M347.2 78.1h0.6M349.6 78.0h0.6M340.2 68.2h0.6M333.6 74.4h0.6M342.9 76.5h0.6M348.5 83.0h0.6M333.0 73.4h0.6M352.0 72.7h0.6M350.8 73.3h0.6M336.3 73.3h0.6M343.5 68.9h0.6M345.7 73.5h0.6M356.2 70.2h0.6M351.2 73.7h0.6M341.5 80.8h0.6M353.2 71.8h0.6M336.3 69.1h0.6M340.5 82.6h0.6M340.2 78.0h0.6M336.2 77.1h0.6M357.4 81.3h0.6M344.2 80.6h0.6M339.7 68.0h0.6M341.2 67.7h0.6M351.5 82.8h0.6M348.0 79.7h0.6M345.2 74.9h0.6M352.8 71.8h0.6M331.8 81.6h0.6M340.5 88.1h0.6M344.5 69.5h0.6M351.6 71.4h0.6M338.5 83.9h0.6M354.1 85.6h0.6M362.7 85.6h0.6M354.3 75.9h0.6M340.8 85.0h0.6M357.1 75.7h0.6M337.9 79.8h0.6M360.7 84.6h0.6M339.3 70.3h0.6M349.8 75.0h0.6M344.0 86.0h0.6M352.4 84.0h0.6M340.4 77.2h0.6M357.5 81.1h0.6M358.6 83.5h0.6M350.7 75.3h0.6M341.0 71.4h0.6M341.7 74.8h0.6M348.1 75.0h0.6M349.6 82.9h0.6M343.5 78.7h0.6M358.2 72.2h0.6M344.4 82.8h0.6M350.7 81.3h0.6M347.8 89.3h0.6M344.4 77.0h0.6M353.6 74.6h0.6M361.5 79.7h0.6M347.4 67.5h0.6M361.4 85.6h0.6M353.5 84.5h0.6M361.0 77.0h0.6M338.1 82.8h0.6M335.3 76.5h0.6M330.4 71.8h0.6M347.8 72.0h0.6M347.8 69.1h0.6M347.1 86.2h0.6M342.8 76.1h0.6M337.7 74.9h0.6M331.8 76.4h0.6M341.9 66.2h0.6M356.2 87.4h0.6M348.3 77.1h0.6M331.8 82.7h0.6M362.3 81.5h0.6M359.3 76.8h0.6M336.9 77.4h0.6M341.8 80.7h0.6M346.5 71.9h0.6M345.4 76.5h0.6M370.6 76.9h0.6M345.4 86.8h0.6M333.5 74.9h0.6M352.8 87.6h0.6M335.9 79.0h0.6M346.1 76.4h0.6M333.9 76.8h0.6M352.8 82.5h0.6M342.0 76.8h0.6M348.9 73.3h0.6M336.8 78.9h0.6M355.6 86.2h0.6M352.6 77.6h0.6M349.6 69.5h0.6M343.6 66.1h0.6M342.9 68.1h0.6M345.5 72.3h0.6M349.4 73.5h0.6M353.0 69.6h0.6M358.7 86.5h0.6M346.1 71.4h0.6M350.4 71.5h0.6M349.6 76.6h0.6M359.1 81.7h0.6M337.4 77.7h0.6M342.4 85.3h0.6M357.2 77.2h0.6M349.1 71.9h0.6M337.5 79.0h0.6M351.6 73.2h0.6M361.8 80.3h0.6M362.3 68.5h0.6M344.3 80.3h0.6M353.4 79.5h0.6M340.6 75.9h0.6M335.6 81.3h0.6M339.6 78.6h0.6M356.0 86.9h0.6M357.9 78.7h0.6M328.6 76.8h0.6M338.5 83.3h0.6M332.2 76.8h0.6M326.9 75.6h0.6M343.5 76.7h0.6M351.1 76.6h0.6M355.5 79.2h0.6M340.9 71.1h0.6M357.8 81.7h0.6M343.6 69.3h0.6M341.0 74.9h0.6M351.5 78.8h0.6M354.1 82.4h0.6M341.0 72.1h0.6M343.9 72.9h0.6M352.1 84.5h0.6M351.4 72.8h0.6M358.1 88.0h0.6M357.3 82.8h0.6M340.4 81.3h0.6M352.3 75.2h0.6M355.2 66.1h0.6M360.7 63.3h0.6M348.4 75.4h0.6M345.9 79.8h0.6M345.4 83.8h0.6M332.1 84.2h0.6M360.5 75.0h0.6M330.4 76.1h0.6M349.8 78.4h0.6M355.6 73.0h0.6M355.8 71.0h0.6M339.5 76.0h0.6M346.9 64.0h0.6M341.4 76.9h0.6M341.7 80.3h0.6M351.5 73.2h0.6M339.3 75.9h0.6M364.7 83.3h0.6M340.6 69.7h0.6M338.4 90.2h0.6M339.1 78.7h0.6M360.0 80.2h0.6M340.4 71.0h0.6M354.1 82.0h0.6M345.6 78.0h0.6M357.9 78.9h0.6M357.6 83.0h0.6M350.2 87.6h0.6M344.0 82.4h0.6M339.1 84.8h0.6M333.2 70.9h0.6M340.2 88.8h0.6M350.6 88.3h0.6M353.8 69.8h0.6M348.0 80.0h0.6M343.1 83.0h0.6M353.9 76.9h0.6M343.7 72.2h0.6M369.1 86.2h0.6M348.0 80.3h0.6M349.2 78.9h0.6M346.6 77.0h0.6M347.2 73.7h0.6M342.7 88.0h0.6M357.1 85.3h0.6M363.5 76.2h0.6M346.3 80.9h0.6M349.4 75.7h0.6M339.5 83.3h0.6M352.6 70.8h0.6M340.1 77.8h0.6M343.6 68.9h0.6M351.2 72.0h0.6M348.4 72.0h0.6M354.2 84.0h0.6M352.2 78.6h0.6M355.6 77.5h0.6M368.4 72.8h0.6M338.7 87.8h0.6M361.6 73.0h0.6M345.1 83.6h0.6M341.7 69.6h0.6M355.7 74.4h0.6M347.1 75.7h0.6M352.1 73.9h0.6M347.3 76.6h0.6M339.5 81.2h0.6M337.2 78.2h0.6M364.1 76.8h0.6M345.5 79.0h0.6M352.0 87.5h0.6M345.2 70.8h0.6M347.2 73.8h0.6M338.1 78.5h0.6M342.7 83.1h0.6M355.6 82.7h0.6M341.1 72.0h0.6M351.4 66.9h0.6M341.7 72.8h0.6M342.4 81.4h0.6M350.4 76.7h0.6M352.9 81.9h0.6M352.5 85.1h0.6M360.3 75.7h0.6M337.7 75.6h0.6M340.0 82.0h0.6M345.8 72.7h0.6M349.0 81.2h0.6M358.5 78.9h0.6M345.3 74.3h0.6M339.0 74.7h0.6M350.6 79.9h0.6M349.9 65.0h0.6M344.5 84.9h0.6M338.0 80.4h0.6M343.0 83.8h0.6M351.3 81.2h0.6M352.8 83.5h0.6M339.3 72.7h0.6M343.0 85.0h0.6M329.7 83.1h0.6M344.8 80.0h0.6M340.9 79.6h0.6M354.0 69.4h0.6M357.0 75.7h0.6M348.7 69.5h0.6M350.7 78.8h0.6M363.9 69.4h0.6M345.4 79.0h0.6M351.7 87.8h0.6M338.2 84.4h0.6M345.5 73.1h0.6M352.3 79.4h0.6M347.1 81.8h0.6M334.5 78.0h0.6M340.9 77.2h0.6M349.1 76.9h0.6M350.5 72.0h0.6M347.6 77.1h0.6M368.6 80.2h0.6M337.7 78.6h0.6M364.4 81.0h0.6M335.6 88.1h0.6M354.0 80.9h0.6M359.2 67.9h0.6M349.8 76.2h0.6M350.3 66.9h0.6M357.2 71.2h0.6M351.9 83.6h0.6M348.8 78.6h0.6M336.8 73.9h0.6M350.0 76.0h0.6M353.1 72.1h0.6M347.3 73.0h0.6M333.8 78.5h0.6M346.4 78.9h0.6M343.3 85.7h0.6M371.9 85.6h0.6M336.9 76.9h0.6M359.9 82.7h0.6M339.6 75.3h0.6M348.1 74.6h0.6M349.4 89.1h0.6M356.9 89.9h0.6M358.7 62.1h0.6M352.1 70.4h0.6M351.4 87.4h0.6M351.5 64.2h0.6M347.5 75.6h0.6M355.3 70.1h0.6M345.1 76.9h0.6M348.2 79.6h0.6M356.9 78.6h0.6M360.7 79.1h0.6M367.2 82.6h0.6M348.8 71.8h0.6M344.6 75.0h0.6M358.7 76.0h0.6M347.2 80.1h0.6M347.0 81.9h0.6M342.5 73.5h0.6M345.2 83.2h0.6M338.9 65.9h0.6M348.2 74.6h0.6M350.8 76.4h0.6M360.8 79.5h0.6M343.4 76.2h0.6M361.3 74.1h0.6M350.3 87.0h0.6M353.9 83.1h0.6M338.6 78.7h0.6" stroke="#333" stroke-width="0.6" fill="none" opacity="1.0"/>
<path d="M331.70 79.75 C331.70 75.04 334.24 72.50 338.95 72.20 L355.52 68.46 C360.60 68.03 363.50 70.38 363.50 75.09 C363.50 83.01 359.51 87.00 353.71 87.00 L338.95 87.00 C334.24 87.00 331.70 84.46 331.70 79.75Z" transform="translate(347.60 77.60) scale(1.019 1.032) translate(-347.60 -77.60)" fill="#3a3a3a" opacity="0.8" filter="url(#b1)"/>
<path d="M331.70 79.75 C331.70 75.04 334.24 72.50 338.95 72.20 L355.52 68.46 C360.60 68.03 363.50 70.38 363.50 75.09 C363.50 83.01 359.51 87.00 353.71 87.00 L338.95 87.00 C334.24 87.00 331.70 84.46 331.70 79.75Z" transform="translate(347.60 77.60) scale(1.038 1.064) translate(-347.60 -77.60)" fill="none" stroke="#2a2a2a" stroke-width="1.5" stroke-dasharray="0.5 0.6"/>
<path d="M331.70 79.75 C331.70 75.04 334.24 72.50 338.95 72.20 L355.52 68.46 C360.60 68.03 363.50 70.38 363.50 75.09 C363.50 83.01 359.51 87.00 353.71 87.00 L338.95 87.00 C334.24 87.00 331.70 84.46 331.70 79.75Z" transform="translate(347.60 77.60) scale(0.981 0.968) translate(-347.60 -77.60)" fill="#1e1e1e" opacity="1" filter="url(#b05)"/>
<path d="M331.70 79.75 C331.70 75.04 334.24 72.50 338.95 72.20 L355.52 68.46 C360.60 68.03 363.50 70.38 363.50 75.09 C363.50 83.01 359.51 87.00 353.71 87.00 L338.95 87.00 C334.24 87.00 331.70 84.46 331.70 79.75Z" transform="translate(347.40 77.50) scale(0.780 0.691) translate(-347.60 -77.60)" fill="#7a7a7a" opacity="1" filter="url(#b05)"/>
<path d="M331.70 79.75 C331.70 75.04 334.24 72.50 338.95 72.20 L355.52 68.46 C360.60 68.03 363.50 70.38 363.50 75.09 C363.50 83.01 359.51 87.00 353.71 87.00 L338.95 87.00 C334.24 87.00 331.70 84.46 331.70 79.75Z" transform="translate(347.40 77.50) scale(0.692 0.553) translate(-347.60 -77.60)" fill="#d8d8d8" opacity="1" filter="url(#b05)"/>
<path d="M331.70 79.75 C331.70 75.04 334.24 72.50 338.95 72.20 L355.52 68.46 C360.60 68.03 363.50 70.38 363.50 75.09 C363.50 83.01 359.51 87.00 353.71 87.00 L338.95 87.00 C334.24 87.00 331.70 84.46 331.70 79.75Z" transform="translate(348.60 76.75) scale(0.429 0.321) translate(-347.60 -77.60)" fill="#b4b4b4" opacity="1" filter="url(#b05)"/>
<ellipse cx="349.8" cy="76.0" rx="3.7" ry="1.3" fill="#444" filter="url(#b05)" transform="rotate(-10 349.8 76.0)"/>
<text x="325.3" y="33.6" font-size="5.6" text-anchor="start" font-weight="normal" fill="#222" stroke="#222" stroke-width="0" >1.96</text>
<text x="386.5" y="33.6" font-size="5.6" text-anchor="end" font-weight="normal" fill="#222" stroke="#222" stroke-width="0" >0.055</text>
<text x="325.3" y="89.8" font-size="5.6" text-anchor="start" font-weight="normal" fill="#222" stroke="#222" stroke-width="0" >98</text>
<text x="386.5" y="89.8" font-size="5.6" text-anchor="end" font-weight="normal" fill="#222" stroke="#222" stroke-width="0" >8.23e-3</text>
<line x1="322.8" y1="32" x2="324.1" y2="32" stroke="#666" stroke-width="0.5"/>
<text x="321.9" y="33.6" font-size="3.4" text-anchor="end" fill="#555">10<tspan font-size="2.4" dy="-1.4">5</tspan></text>
<line x1="322.8" y1="45.8" x2="324.1" y2="45.8" stroke="#666" stroke-width="0.5"/>
<text x="321.9" y="47.4" font-size="3.4" text-anchor="end" fill="#555">10<tspan font-size="2.4" dy="-1.4">4</tspan></text>
<line x1="322.8" y1="60" x2="324.1" y2="60" stroke="#666" stroke-width="0.5"/>
<text x="321.9" y="61.6" font-size="3.4" text-anchor="end" fill="#555">10<tspan font-size="2.4" dy="-1.4">3</tspan></text>
<line x1="322.8" y1="73.8" x2="324.1" y2="73.8" stroke="#666" stroke-width="0.5"/>
<text x="321.9" y="75.4" font-size="3.4" text-anchor="end" fill="#555">10<tspan font-size="2.4" dy="-1.4">2</tspan></text>
<line x1="322.8" y1="82.5" x2="324.1" y2="82.5" stroke="#666" stroke-width="0.5"/>
<text x="321.5" y="83.7" font-size="3.4" text-anchor="end" font-weight="normal" fill="#555" stroke="#555" stroke-width="0" >0</text>
<line x1="338.1" y1="91" x2="338.1" y2="92.3" stroke="#666" stroke-width="0.5"/>
<text x="338.1" y="96.2" font-size="3.4" text-anchor="middle" font-weight="normal" fill="#555" stroke="#555" stroke-width="0" >0</text>
<line x1="353.6" y1="91" x2="353.6" y2="92.3" stroke="#666" stroke-width="0.5"/>
<text x="353.6" y="96.6" font-size="3.4" text-anchor="middle" fill="#555">10<tspan font-size="2.4" dy="-1.4">3</tspan></text>
<line x1="368.1" y1="91" x2="368.1" y2="92.3" stroke="#666" stroke-width="0.5"/>
<text x="368.1" y="96.6" font-size="3.4" text-anchor="middle" fill="#555">10<tspan font-size="2.4" dy="-1.4">4</tspan></text>
<line x1="382.1" y1="91" x2="382.1" y2="92.3" stroke="#666" stroke-width="0.5"/>
<text x="382.1" y="96.6" font-size="3.4" text-anchor="middle" fill="#555">10<tspan font-size="2.4" dy="-1.4">5</tspan></text>
<line x1="325.1" y1="92.3" x2="332.6" y2="92.3" stroke="#333" stroke-width="0.9"/>
<rect x="403.9" y="28" width="63.2" height="63" fill="#fff" stroke="#909090" stroke-width="0.8"/>
<line x1="445.2" y1="28" x2="445.2" y2="91" stroke="#aaa" stroke-width="0.7"/>
<line x1="403.9" y1="67.2" x2="467.09999999999997" y2="67.2" stroke="#aaa" stroke-width="0.7"/>
<path d="M443.9 67.0h0.5M414.9 70.3h0.5M438.6 63.1h0.5M437.6 55.2h0.5M444.7 71.5h0.5M438.3 68.6h0.5M420.2 60.8h0.5M431.1 67.0h0.5M419.7 62.7h0.5M442.1 55.6h0.5M445.9 65.7h0.5M426.5 55.8h0.5M445.4 58.5h0.5M424.4 61.2h0.5M440.9 70.6h0.5M428.0 48.0h0.5M444.2 62.5h0.5M428.3 62.5h0.5M416.4 72.9h0.5M435.3 76.4h0.5M418.7 55.7h0.5M417.3 71.0h0.5M425.4 63.3h0.5M424.0 53.7h0.5M424.9 63.9h0.5M426.8 58.8h0.5M431.8 58.0h0.5M430.6 53.9h0.5" stroke="#999" stroke-width="0.5" fill="none" opacity="1.0"/>
<path d="M438.7 66.4h0.5M439.8 71.5h0.5M438.6 66.5h0.5M448.9 68.6h0.5M445.3 67.4h0.5M441.5 69.1h0.5M441.3 70.9h0.5M442.7 72.5h0.5M441.8 70.4h0.5M440.3 72.6h0.5M439.3 66.2h0.5M440.6 68.1h0.5M438.3 65.3h0.5M439.9 70.0h0.5M446.4 67.9h0.5M440.1 69.9h0.5M444.5 73.0h0.5M444.3 68.0h0.5M444.5 64.1h0.5M443.2 73.8h0.5M444.6 75.5h0.5M441.3 70.0h0.5M442.1 71.8h0.5M445.3 69.6h0.5M444.1 70.7h0.5M442.9 66.3h0.5M443.0 71.9h0.5M441.1 65.7h0.5M444.9 73.8h0.5M441.9 72.3h0.5M439.1 72.9h0.5M441.7 72.6h0.5M439.6 70.5h0.5M440.8 65.0h0.5M438.4 71.1h0.5M441.0 71.6h0.5M443.5 71.7h0.5M441.6 68.1h0.5M441.9 70.7h0.5M440.5 71.0h0.5M442.5 69.8h0.5M445.9 72.1h0.5M438.0 66.9h0.5M447.8 73.6h0.5M443.0 67.4h0.5M440.3 70.5h0.5M445.6 68.4h0.5M444.1 71.0h0.5M440.7 72.0h0.5M437.7 69.2h0.5M441.1 73.9h0.5M441.3 66.5h0.5M440.8 65.0h0.5M443.6 66.4h0.5M443.5 70.1h0.5M443.1 70.0h0.5M443.6 72.0h0.5M439.7 71.0h0.5M438.8 68.9h0.5M439.5 72.8h0.5M443.4 68.6h0.5M441.7 67.1h0.5M444.1 67.5h0.5M443.9 72.9h0.5M437.5 74.2h0.5M444.7 73.0h0.5M440.2 65.6h0.5M441.6 68.9h0.5M442.8 66.7h0.5M448.5 71.3h0.5M443.5 70.3h0.5M437.6 71.6h0.5M440.9 65.5h0.5M440.0 69.0h0.5M445.9 73.6h0.5M440.1 71.9h0.5M442.5 71.6h0.5M442.5 68.3h0.5M439.1 71.0h0.5M440.3 67.7h0.5M444.2 75.1h0.5M446.6 68.3h0.5M447.0 65.3h0.5M444.2 70.3h0.5M441.9 70.5h0.5M439.5 67.5h0.5M438.4 66.8h0.5M439.4 68.1h0.5M442.6 65.4h0.5M443.2 69.5h0.5M441.1 68.8h0.5M444.3 65.5h0.5M442.6 69.0h0.5M443.4 70.9h0.5M447.4 69.2h0.5M444.6 66.3h0.5M439.0 67.5h0.5M437.2 71.3h0.5M441.6 67.4h0.5M442.6 73.1h0.5M440.5 69.9h0.5M445.8 73.8h0.5M444.6 69.0h0.5M443.5 69.7h0.5M440.4 66.9h0.5M443.0 65.6h0.5M439.8 67.2h0.5M444.6 67.4h0.5M441.2 67.3h0.5M442.7 71.7h0.5M448.3 72.6h0.5M443.0 66.9h0.5M445.5 63.6h0.5M446.5 69.7h0.5M440.2 71.4h0.5M443.8 71.0h0.5M441.6 65.3h0.5M445.1 70.6h0.5M440.7 70.0h0.5M446.3 69.9h0.5M437.7 68.3h0.5M445.1 72.3h0.5M440.9 70.3h0.5M440.9 70.9h0.5M442.9 71.5h0.5M442.7 69.4h0.5M442.5 70.9h0.5M444.5 64.6h0.5M441.5 72.0h0.5M440.4 70.8h0.5M443.5 71.2h0.5M443.7 68.6h0.5M445.6 66.6h0.5M445.1 67.7h0.5M441.9 72.0h0.5M441.6 69.8h0.5M442.9 67.4h0.5M442.6 64.3h0.5M440.8 68.9h0.5M444.1 69.0h0.5M439.1 69.1h0.5M446.6 69.9h0.5M443.5 69.6h0.5M442.2 67.6h0.5M442.4 69.9h0.5M440.0 72.0h0.5M442.9 73.4h0.5M442.6 71.8h0.5M439.3 70.9h0.5M442.1 68.9h0.5M439.7 72.3h0.5M443.0 72.2h0.5M445.2 67.4h0.5M437.9 69.7h0.5M441.7 66.7h0.5M441.9 68.6h0.5M440.4 69.7h0.5M441.0 69.7h0.5M445.5 71.5h0.5M443.4 73.0h0.5" stroke="#444" stroke-width="0.5" fill="none" opacity="1.0"/>
<path d="M427.8 78.5h0.6M427.2 68.7h0.6M427.3 70.9h0.6M440.8 79.4h0.6M420.3 82.9h0.6M427.6 73.0h0.6M436.6 81.6h0.6M432.7 84.8h0.6M414.6 72.2h0.6M424.3 78.4h0.6M418.6 74.8h0.6M432.9 70.1h0.6M436.3 80.1h0.6M430.0 74.6h0.6M418.3 72.5h0.6M443.7 83.0h0.6M417.9 77.6h0.6M416.3 74.3h0.6M429.0 88.0h0.6M413.5 86.3h0.6M435.1 70.6h0.6M419.1 84.7h0.6M445.0 82.4h0.6M429.4 81.0h0.6M421.1 74.5h0.6M418.8 76.6h0.6M423.1 78.6h0.6M422.9 84.2h0.6M416.4 82.7h0.6M429.0 84.3h0.6M426.3 87.4h0.6M423.5 87.5h0.6M418.6 81.3h0.6M429.8 76.7h0.6M429.6 77.3h0.6M430.3 79.7h0.6M415.2 77.8h0.6M433.1 72.4h0.6M431.3 80.9h0.6M435.6 78.1h0.6M419.1 74.7h0.6M422.2 83.5h0.6M437.3 80.4h0.6M422.3 83.9h0.6M416.4 84.6h0.6M423.9 78.6h0.6M418.0 83.0h0.6M432.1 85.0h0.6M423.4 89.9h0.6M405.5 78.6h0.6M430.8 82.0h0.6M421.2 79.1h0.6M422.1 81.2h0.6M428.6 73.4h0.6M435.0 68.9h0.6M423.8 81.1h0.6M409.2 71.5h0.6M442.3 83.5h0.6M417.5 77.7h0.6M428.2 81.7h0.6M429.5 75.1h0.6M426.5 77.2h0.6M424.7 77.8h0.6M420.8 72.8h0.6M428.7 81.5h0.6M441.4 89.9h0.6M424.6 77.8h0.6M430.1 81.0h0.6M422.9 75.3h0.6M452.5 77.9h0.6M412.7 74.6h0.6M431.5 78.0h0.6M418.3 74.0h0.6M447.5 70.9h0.6M437.0 78.7h0.6M438.8 79.2h0.6M435.2 76.7h0.6M424.2 84.0h0.6M418.0 68.8h0.6M432.3 79.2h0.6M422.5 80.2h0.6M427.1 72.6h0.6M424.6 82.4h0.6M425.3 71.8h0.6M438.4 78.7h0.6M430.2 87.5h0.6M427.3 77.5h0.6M444.3 78.6h0.6M421.7 77.1h0.6M432.7 85.1h0.6M421.7 74.3h0.6M430.0 80.9h0.6M425.2 75.5h0.6M414.1 82.2h0.6M425.8 69.4h0.6M435.2 78.2h0.6M417.0 82.3h0.6M437.3 81.6h0.6M449.9 75.7h0.6M418.6 80.0h0.6M430.1 83.8h0.6M426.3 72.4h0.6M419.3 84.8h0.6M427.2 77.6h0.6M435.9 73.6h0.6M433.0 69.6h0.6M427.5 75.1h0.6M434.5 82.6h0.6M427.3 78.3h0.6M412.3 75.0h0.6M442.4 87.4h0.6M426.5 73.2h0.6M416.6 76.3h0.6M416.4 84.5h0.6M423.5 68.8h0.6M417.7 87.2h0.6M434.3 80.1h0.6M419.6 73.7h0.6M439.7 83.0h0.6M431.6 70.8h0.6M433.0 87.2h0.6M421.6 67.9h0.6M416.9 77.0h0.6M414.3 79.6h0.6M424.7 80.8h0.6M422.9 78.4h0.6M432.7 87.1h0.6M443.6 79.3h0.6M419.5 67.3h0.6M422.7 71.3h0.6M429.2 80.7h0.6M437.4 69.8h0.6M419.1 69.7h0.6M427.8 72.9h0.6M421.5 80.4h0.6M433.3 83.9h0.6M415.8 85.2h0.6M425.5 80.2h0.6M437.1 79.4h0.6M445.3 76.3h0.6M418.8 70.0h0.6M442.2 79.4h0.6M422.0 75.7h0.6M440.3 79.6h0.6M436.6 80.6h0.6M439.4 79.2h0.6M448.5 81.0h0.6M427.5 76.1h0.6M449.1 78.7h0.6M434.3 69.4h0.6M411.2 79.2h0.6M426.0 67.6h0.6M426.5 80.1h0.6M415.5 79.1h0.6M436.3 74.2h0.6M427.5 79.1h0.6M437.2 89.6h0.6M440.0 78.1h0.6M436.5 75.3h0.6M435.4 72.2h0.6M420.0 80.8h0.6M432.8 79.2h0.6M439.5 81.2h0.6M427.0 77.7h0.6M424.9 78.5h0.6M421.0 74.9h0.6M422.9 76.0h0.6M438.4 73.8h0.6M426.7 67.4h0.6M424.5 78.5h0.6M416.5 74.5h0.6M427.3 70.8h0.6M421.3 77.3h0.6M428.8 80.2h0.6M419.1 85.2h0.6M436.0 80.1h0.6M424.0 76.4h0.6M447.1 87.7h0.6M427.8 74.9h0.6M436.7 77.3h0.6M432.7 88.5h0.6M422.1 80.4h0.6M427.3 85.3h0.6M425.2 77.6h0.6M433.2 80.7h0.6M427.7 69.3h0.6M437.3 82.2h0.6M429.0 74.7h0.6M415.7 77.5h0.6M422.1 75.7h0.6M423.0 71.3h0.6M433.1 77.1h0.6M428.2 80.7h0.6M422.5 73.0h0.6M414.3 75.7h0.6M433.9 84.5h0.6M437.6 83.3h0.6M430.6 75.3h0.6M423.0 76.3h0.6M425.7 72.2h0.6M430.3 82.5h0.6M422.7 68.2h0.6M423.9 85.9h0.6M417.8 83.1h0.6M421.1 77.5h0.6M427.9 78.5h0.6M433.5 76.2h0.6M418.8 68.0h0.6M415.5 83.9h0.6M428.5 85.9h0.6M418.4 73.8h0.6M428.7 75.6h0.6M416.3 83.4h0.6M425.4 75.4h0.6M425.6 78.8h0.6M424.8 77.9h0.6M437.8 73.9h0.6M429.3 76.0h0.6M422.8 79.5h0.6M417.9 82.3h0.6M438.5 64.8h0.6M418.3 86.0h0.6M436.8 67.2h0.6M427.3 87.3h0.6M438.0 80.7h0.6M432.9 75.7h0.6M420.1 83.8h0.6M419.8 84.5h0.6M430.1 79.4h0.6M432.5 79.2h0.6M420.9 76.8h0.6M416.1 87.2h0.6M423.8 65.7h0.6M433.7 75.6h0.6M432.7 84.1h0.6M428.8 74.6h0.6M424.6 79.5h0.6M430.5 73.7h0.6M414.0 80.7h0.6M436.1 79.7h0.6M417.8 87.7h0.6M438.9 81.3h0.6M421.0 76.6h0.6M438.7 67.1h0.6M414.0 90.2h0.6M414.8 74.2h0.6M421.9 79.9h0.6M439.7 79.8h0.6M417.7 79.5h0.6M410.6 80.3h0.6M433.9 87.6h0.6M418.7 77.8h0.6M415.1 83.9h0.6M418.5 76.4h0.6M427.5 84.0h0.6M419.6 75.0h0.6M418.6 81.8h0.6M413.4 78.7h0.6M425.3 82.9h0.6M427.0 80.0h0.6M428.9 72.7h0.6M442.0 85.1h0.6M427.1 80.8h0.6M414.1 68.8h0.6M423.0 78.5h0.6M426.5 72.8h0.6M428.5 68.0h0.6M435.4 77.9h0.6M433.1 68.6h0.6M426.2 88.7h0.6M422.0 84.0h0.6M420.6 77.6h0.6M420.9 77.5h0.6M416.3 83.6h0.6M423.2 83.8h0.6M423.9 77.0h0.6M421.7 72.5h0.6M426.5 75.5h0.6M426.9 81.2h0.6M420.9 88.3h0.6M429.2 74.0h0.6M424.6 81.8h0.6M428.6 76.9h0.6M416.6 65.6h0.6M419.9 86.4h0.6M422.8 82.0h0.6M424.5 80.9h0.6M425.8 78.2h0.6M437.0 70.1h0.6M433.4 74.9h0.6M424.6 77.5h0.6M426.5 86.8h0.6M431.3 74.3h0.6M433.3 70.0h0.6M430.7 75.0h0.6M405.8 74.2h0.6M433.4 75.2h0.6M429.1 78.1h0.6M428.1 83.4h0.6M424.7 66.0h0.6M423.5 85.0h0.6M408.6 80.1h0.6M427.9 85.6h0.6M417.6 69.9h0.6M430.1 68.3h0.6M435.3 82.7h0.6M428.4 83.9h0.6M441.0 83.6h0.6M423.3 84.9h0.6M421.9 69.2h0.6M423.1 76.6h0.6M422.2 88.9h0.6M410.5 68.7h0.6M416.0 81.1h0.6M441.7 82.4h0.6M439.0 73.1h0.6M432.0 79.2h0.6M429.7 82.4h0.6M428.7 71.3h0.6M434.2 77.2h0.6M422.3 67.2h0.6M412.0 81.8h0.6M426.5 80.5h0.6M413.2 80.6h0.6M433.9 67.0h0.6M433.8 69.0h0.6M435.0 74.6h0.6M430.1 69.2h0.6M433.6 81.4h0.6M436.7 86.3h0.6M433.2 77.4h0.6M426.2 77.4h0.6M419.2 77.6h0.6M421.4 73.4h0.6M430.8 81.7h0.6M432.4 74.4h0.6M432.7 75.4h0.6M430.0 77.0h0.6M412.5 86.2h0.6M429.7 88.2h0.6M439.2 78.2h0.6M426.5 76.1h0.6M440.8 69.5h0.6M421.9 72.5h0.6M424.5 72.3h0.6M425.8 78.8h0.6M417.9 82.8h0.6M424.6 77.1h0.6M419.6 83.4h0.6M442.1 77.6h0.6M428.7 68.3h0.6M444.0 77.3h0.6M431.8 77.5h0.6M409.2 72.5h0.6M419.6 75.5h0.6M446.5 81.5h0.6M426.1 72.2h0.6M433.9 73.9h0.6M413.6 79.0h0.6M430.9 77.9h0.6M419.2 78.2h0.6M430.2 66.3h0.6M440.2 79.7h0.6M432.1 74.6h0.6M415.2 79.1h0.6M439.4 76.8h0.6M414.0 80.1h0.6M432.5 78.7h0.6M426.3 82.8h0.6M426.0 87.2h0.6M423.2 66.9h0.6M428.6 80.7h0.6M445.1 70.1h0.6M425.4 80.5h0.6M416.3 75.8h0.6M416.3 89.9h0.6M417.2 72.0h0.6M425.7 72.2h0.6M429.6 79.3h0.6M436.1 80.2h0.6M428.0 77.7h0.6M416.3 75.6h0.6M415.9 78.0h0.6M435.2 82.1h0.6M440.6 78.1h0.6M424.5 84.4h0.6M414.3 81.3h0.6M422.0 76.1h0.6M433.4 84.0h0.6M415.9 74.8h0.6M432.2 67.9h0.6M421.0 78.5h0.6M419.6 90.0h0.6M443.9 82.4h0.6M417.6 77.8h0.6M418.2 77.5h0.6M420.7 74.5h0.6M427.1 81.4h0.6M419.6 86.2h0.6M423.1 78.3h0.6M421.0 68.8h0.6M434.0 82.5h0.6M426.5 77.0h0.6M430.1 74.2h0.6M413.7 87.1h0.6M432.4 81.6h0.6M432.6 76.8h0.6M413.4 76.5h0.6M429.7 74.0h0.6M435.9 81.4h0.6M432.5 80.6h0.6M422.1 77.4h0.6M430.5 66.1h0.6M433.3 86.3h0.6M429.9 73.3h0.6M426.1 85.4h0.6M433.0 78.2h0.6M445.9 83.5h0.6M423.5 86.2h0.6M424.6 80.3h0.6M419.9 73.3h0.6M435.4 78.4h0.6M428.0 71.7h0.6M422.8 76.1h0.6M432.8 69.8h0.6M424.1 82.4h0.6M430.6 74.4h0.6M431.9 77.8h0.6M424.6 85.4h0.6M413.0 73.1h0.6M437.4 83.5h0.6M431.1 74.1h0.6M429.1 81.0h0.6M432.8 86.1h0.6M412.4 78.2h0.6M438.8 78.4h0.6M435.9 81.4h0.6M441.3 83.0h0.6M436.9 69.8h0.6M415.0 79.5h0.6M423.1 81.9h0.6M428.1 73.7h0.6M428.5 74.4h0.6M420.7 79.6h0.6M431.4 84.5h0.6M431.0 79.2h0.6M429.0 75.7h0.6M432.0 66.4h0.6M433.7 89.7h0.6M438.0 72.2h0.6M434.2 79.7h0.6M441.5 77.2h0.6M418.5 70.3h0.6M434.9 86.9h0.6M418.2 78.2h0.6M452.8 76.4h0.6M429.2 84.1h0.6M416.0 77.9h0.6M417.4 76.1h0.6M431.3 70.7h0.6M430.1 84.2h0.6M428.2 77.8h0.6M419.5 76.8h0.6M437.2 80.4h0.6M442.9 71.9h0.6M421.3 78.9h0.6M430.9 74.4h0.6M423.5 74.7h0.6M432.4 74.8h0.6M420.3 84.7h0.6M432.4 73.8h0.6M406.1 76.0h0.6M419.8 72.9h0.6M433.3 73.1h0.6M431.4 73.2h0.6M433.3 74.5h0.6M443.5 75.5h0.6M425.7 81.2h0.6M428.4 75.2h0.6M422.1 76.3h0.6M413.6 76.7h0.6M435.1 79.2h0.6M426.5 87.9h0.6M425.5 73.6h0.6M425.0 76.2h0.6M439.8 80.8h0.6M418.9 78.2h0.6M427.2 85.1h0.6M433.2 75.8h0.6M436.9 82.6h0.6M432.6 79.7h0.6M430.5 78.7h0.6M427.0 74.3h0.6M433.6 75.6h0.6M419.1 85.1h0.6M426.8 75.0h0.6M422.2 77.7h0.6M427.5 74.5h0.6M440.4 74.9h0.6M420.0 86.8h0.6M434.6 80.2h0.6M429.7 77.7h0.6M425.2 73.3h0.6M414.0 83.4h0.6M420.6 69.4h0.6M426.2 63.6h0.6M420.8 82.8h0.6M423.3 74.6h0.6M445.6 81.9h0.6M434.1 77.3h0.6M427.3 87.8h0.6M431.4 79.7h0.6M428.4 82.8h0.6M432.2 78.5h0.6M421.7 74.9h0.6M431.9 79.6h0.6M433.3 72.9h0.6M405.6 70.4h0.6M422.8 75.8h0.6M415.8 80.8h0.6M426.7 72.9h0.6M435.5 78.2h0.6M424.7 76.7h0.6M424.9 81.4h0.6M408.7 82.0h0.6M434.0 79.4h0.6M449.8 79.0h0.6M431.8 81.3h0.6M434.6 70.1h0.6M414.1 72.3h0.6M439.2 80.3h0.6M405.7 83.6h0.6M439.7 82.5h0.6M414.5 78.9h0.6M434.5 84.3h0.6M420.5 86.5h0.6M436.1 76.8h0.6M422.1 76.4h0.6M428.3 70.7h0.6M432.1 82.4h0.6M433.6 79.9h0.6M453.3 79.6h0.6M425.2 83.9h0.6M428.6 78.7h0.6M445.1 89.6h0.6M419.5 85.3h0.6M423.4 87.0h0.6M421.4 75.2h0.6M426.7 80.5h0.6M427.4 86.2h0.6M437.6 74.2h0.6M433.0 76.0h0.6M418.2 72.9h0.6M426.1 81.9h0.6M426.7 78.8h0.6M420.4 66.1h0.6M435.4 89.4h0.6M417.5 72.4h0.6M435.6 81.7h0.6M436.4 83.9h0.6M416.5 76.2h0.6M425.8 84.3h0.6M422.5 67.0h0.6M439.4 74.5h0.6M423.1 74.3h0.6M418.7 82.2h0.6M428.9 78.5h0.6M431.5 73.5h0.6M418.1 85.6h0.6M425.3 74.0h0.6M416.5 74.8h0.6M407.7 82.4h0.6M424.1 85.4h0.6M431.4 76.8h0.6M418.3 76.9h0.6M424.8 74.7h0.6M444.3 74.3h0.6M441.1 82.7h0.6M424.8 78.0h0.6M442.4 63.8h0.6M435.6 73.9h0.6M437.2 79.4h0.6M415.5 76.5h0.6M415.3 64.4h0.6M413.4 75.2h0.6M409.3 72.3h0.6M433.8 87.5h0.6M437.9 88.5h0.6M424.1 82.4h0.6M414.6 77.1h0.6M426.8 82.7h0.6M416.1 85.7h0.6M434.5 80.6h0.6M423.7 78.9h0.6M428.7 85.8h0.6M419.0 76.2h0.6M415.3 80.8h0.6M429.2 73.5h0.6M440.2 84.8h0.6M434.2 81.7h0.6M440.8 87.3h0.6M431.8 74.3h0.6M421.3 73.5h0.6M431.2 79.7h0.6M425.8 74.3h0.6M425.1 83.9h0.6M417.5 77.8h0.6M431.7 74.4h0.6M423.8 80.2h0.6M432.0 84.9h0.6M424.2 82.8h0.6M432.7 79.2h0.6M410.1 68.8h0.6M421.1 73.6h0.6M433.4 74.8h0.6M429.1 76.7h0.6M405.9 76.3h0.6M419.8 82.3h0.6M424.0 79.5h0.6M418.1 77.9h0.6M428.8 74.5h0.6M445.6 81.8h0.6M440.6 86.8h0.6M417.2 75.2h0.6M431.9 83.2h0.6M426.1 77.3h0.6M427.3 70.3h0.6M432.3 72.6h0.6M439.5 72.2h0.6M418.2 87.1h0.6M424.2 83.2h0.6M429.0 83.7h0.6M438.2 78.9h0.6M428.4 79.8h0.6M423.4 71.2h0.6M421.5 77.2h0.6M428.3 77.0h0.6M434.5 81.0h0.6M427.4 83.4h0.6M445.6 71.3h0.6M428.3 81.6h0.6M423.2 81.8h0.6M438.2 82.6h0.6M434.5 81.1h0.6M440.1 84.4h0.6M424.8 80.2h0.6M426.0 74.1h0.6M425.5 83.1h0.6M425.5 84.0h0.6M431.4 81.4h0.6M419.1 74.6h0.6M436.8 82.4h0.6M420.6 71.3h0.6M417.6 81.1h0.6M418.5 88.2h0.6M413.6 80.1h0.6M423.6 72.4h0.6M432.0 82.4h0.6M425.5 72.7h0.6M433.0 82.5h0.6M423.0 64.7h0.6M427.8 74.4h0.6M427.7 86.0h0.6M425.7 82.7h0.6M442.5 66.0h0.6M436.6 70.7h0.6M421.1 76.9h0.6M422.4 81.1h0.6M421.8 76.3h0.6M433.9 74.5h0.6M405.6 78.0h0.6M421.3 70.1h0.6M446.5 81.1h0.6M425.2 78.2h0.6M418.2 82.3h0.6M405.9 84.4h0.6M428.5 71.2h0.6M427.9 81.4h0.6M423.7 89.7h0.6M420.9 86.6h0.6M436.9 72.5h0.6M411.1 78.6h0.6M438.9 74.5h0.6M422.6 67.9h0.6M435.2 79.1h0.6M428.1 71.7h0.6M420.2 77.7h0.6" stroke="#333" stroke-width="0.6" fill="none" opacity="1.0"/>
<path d="M410.80 79.75 C410.80 75.04 413.34 72.50 418.05 72.23 L435.52 68.93 C440.60 68.55 443.50 70.88 443.50 75.59 C443.50 83.01 439.51 87.00 433.71 87.00 L418.05 87.00 C413.34 87.00 410.80 84.46 410.80 79.75Z" transform="translate(427.15 77.85) scale(1.018 1.033) translate(-427.15 -77.85)" fill="#3a3a3a" opacity="0.8" filter="url(#b1)"/>
<path d="M410.80 79.75 C410.80 75.04 413.34 72.50 418.05 72.23 L435.52 68.93 C440.60 68.55 443.50 70.88 443.50 75.59 C443.50 83.01 439.51 87.00 433.71 87.00 L418.05 87.00 C413.34 87.00 410.80 84.46 410.80 79.75Z" transform="translate(427.15 77.85) scale(1.037 1.066) translate(-427.15 -77.85)" fill="none" stroke="#2a2a2a" stroke-width="1.5" stroke-dasharray="0.5 0.6"/>
<path d="M410.80 79.75 C410.80 75.04 413.34 72.50 418.05 72.23 L435.52 68.93 C440.60 68.55 443.50 70.88 443.50 75.59 C443.50 83.01 439.51 87.00 433.71 87.00 L418.05 87.00 C413.34 87.00 410.80 84.46 410.80 79.75Z" transform="translate(427.15 77.85) scale(0.982 0.967) translate(-427.15 -77.85)" fill="#1e1e1e" opacity="1" filter="url(#b05)"/>
<path d="M410.80 79.75 C410.80 75.04 413.34 72.50 418.05 72.23 L435.52 68.93 C440.60 68.55 443.50 70.88 443.50 75.59 C443.50 83.01 439.51 87.00 433.71 87.00 L418.05 87.00 C413.34 87.00 410.80 84.46 410.80 79.75Z" transform="translate(426.60 78.50) scale(0.771 0.645) translate(-427.15 -77.85)" fill="#7a7a7a" opacity="1" filter="url(#b05)"/>
<path d="M410.80 79.75 C410.80 75.04 413.34 72.50 418.05 72.23 L435.52 68.93 C440.60 68.55 443.50 70.88 443.50 75.59 C443.50 83.01 439.51 87.00 433.71 87.00 L418.05 87.00 C413.34 87.00 410.80 84.46 410.80 79.75Z" transform="translate(426.60 78.50) scale(0.685 0.503) translate(-427.15 -77.85)" fill="#d8d8d8" opacity="1" filter="url(#b05)"/>
<path d="M410.80 79.75 C410.80 75.04 413.34 72.50 418.05 72.23 L435.52 68.93 C440.60 68.55 443.50 70.88 443.50 75.59 C443.50 83.01 439.51 87.00 433.71 87.00 L418.05 87.00 C413.34 87.00 410.80 84.46 410.80 79.75Z" transform="translate(429.15 78.00) scale(0.425 0.292) translate(-427.15 -77.85)" fill="#b4b4b4" opacity="1" filter="url(#b05)"/>
<ellipse cx="431.7" cy="77.5" rx="3.8" ry="1.1" fill="#444" filter="url(#b05)" transform="rotate(-10 431.7 77.5)"/>
<text x="405.09999999999997" y="33.6" font-size="5.6" text-anchor="start" font-weight="normal" fill="#222" stroke="#222" stroke-width="0" >0.031</text>
<text x="466.29999999999995" y="33.6" font-size="5.6" text-anchor="end" font-weight="normal" fill="#222" stroke="#222" stroke-width="0" >3.22e-4</text>
<text x="405.09999999999997" y="89.8" font-size="5.6" text-anchor="start" font-weight="normal" fill="#222" stroke="#222" stroke-width="0" >100</text>
<text x="466.29999999999995" y="89.8" font-size="5.6" text-anchor="end" font-weight="normal" fill="#222" stroke="#222" stroke-width="0" >0.012</text>
<line x1="402.59999999999997" y1="32" x2="403.9" y2="32" stroke="#666" stroke-width="0.5"/>
<text x="401.7" y="33.6" font-size="3.4" text-anchor="end" fill="#555">10<tspan font-size="2.4" dy="-1.4">5</tspan></text>
<line x1="402.59999999999997" y1="45.8" x2="403.9" y2="45.8" stroke="#666" stroke-width="0.5"/>
<text x="401.7" y="47.4" font-size="3.4" text-anchor="end" fill="#555">10<tspan font-size="2.4" dy="-1.4">4</tspan></text>
<line x1="402.59999999999997" y1="60" x2="403.9" y2="60" stroke="#666" stroke-width="0.5"/>
<text x="401.7" y="61.6" font-size="3.4" text-anchor="end" fill="#555">10<tspan font-size="2.4" dy="-1.4">3</tspan></text>
<line x1="402.59999999999997" y1="73.8" x2="403.9" y2="73.8" stroke="#666" stroke-width="0.5"/>
<text x="401.7" y="75.4" font-size="3.4" text-anchor="end" fill="#555">10<tspan font-size="2.4" dy="-1.4">2</tspan></text>
<line x1="402.59999999999997" y1="82.5" x2="403.9" y2="82.5" stroke="#666" stroke-width="0.5"/>
<text x="401.29999999999995" y="83.7" font-size="3.4" text-anchor="end" font-weight="normal" fill="#555" stroke="#555" stroke-width="0" >0</text>
<line x1="417.9" y1="91" x2="417.9" y2="92.3" stroke="#666" stroke-width="0.5"/>
<text x="417.9" y="96.2" font-size="3.4" text-anchor="middle" font-weight="normal" fill="#555" stroke="#555" stroke-width="0" >0</text>
<line x1="433.4" y1="91" x2="433.4" y2="92.3" stroke="#666" stroke-width="0.5"/>
<text x="433.4" y="96.6" font-size="3.4" text-anchor="middle" fill="#555">10<tspan font-size="2.4" dy="-1.4">3</tspan></text>
<line x1="447.9" y1="91" x2="447.9" y2="92.3" stroke="#666" stroke-width="0.5"/>
<text x="447.9" y="96.6" font-size="3.4" text-anchor="middle" fill="#555">10<tspan font-size="2.4" dy="-1.4">4</tspan></text>
<line x1="461.9" y1="91" x2="461.9" y2="92.3" stroke="#666" stroke-width="0.5"/>
<text x="461.9" y="96.6" font-size="3.4" text-anchor="middle" fill="#555">10<tspan font-size="2.4" dy="-1.4">5</tspan></text>
<line x1="404.9" y1="92.3" x2="412.4" y2="92.3" stroke="#333" stroke-width="0.9"/>
<rect x="243.0" y="106.3" width="63.2" height="63" fill="#fff" stroke="#909090" stroke-width="0.8"/>
<line x1="284.3" y1="106.3" x2="284.3" y2="169.3" stroke="#aaa" stroke-width="0.7"/>
<line x1="243.0" y1="146.1" x2="306.2" y2="146.1" stroke="#aaa" stroke-width="0.7"/>
<ellipse cx="277.5" cy="127.8" rx="10.5" ry="6" fill="#222" opacity="0.36" filter="url(#b2)" transform="rotate(-23 277.5 127.8)"/>
<path d="M279.0 117.9h0.6M284.1 126.9h0.6M271.3 133.7h0.6M276.7 118.0h0.6M278.1 124.5h0.6M281.5 131.0h0.6M277.3 125.3h0.6M280.1 125.4h0.6M281.5 131.2h0.6M283.4 124.2h0.6M279.9 130.2h0.6M276.2 127.3h0.6M293.6 131.4h0.6M270.6 125.8h0.6M270.8 118.3h0.6M292.7 125.6h0.6M295.3 125.4h0.6M257.9 129.8h0.6M285.1 124.3h0.6M282.9 128.0h0.6M267.2 123.2h0.6M282.1 125.8h0.6M286.8 126.4h0.6M262.7 130.4h0.6M274.3 130.6h0.6M261.2 121.0h0.6M279.6 118.7h0.6M283.1 131.8h0.6M286.6 129.0h0.6M283.1 116.7h0.6M273.8 132.7h0.6M288.5 120.6h0.6M265.3 131.0h0.6M291.2 124.7h0.6M263.5 129.9h0.6M284.2 131.0h0.6M286.4 133.6h0.6M280.2 129.8h0.6M282.3 132.0h0.6M279.5 132.6h0.6M282.3 122.8h0.6M281.9 126.4h0.6M278.4 127.0h0.6M280.0 128.4h0.6M265.0 127.6h0.6M276.2 123.7h0.6M269.1 143.8h0.6M273.2 121.7h0.6M284.9 126.1h0.6M281.2 126.6h0.6M275.9 131.0h0.6M266.8 134.6h0.6M286.9 128.9h0.6M283.3 126.0h0.6M288.8 127.9h0.6M260.2 131.7h0.6M265.2 130.0h0.6M290.8 118.1h0.6M282.2 119.5h0.6M262.3 128.0h0.6M274.3 125.3h0.6M257.3 131.9h0.6M276.7 125.6h0.6M263.9 124.1h0.6M273.2 134.2h0.6M291.0 135.6h0.6M275.0 125.0h0.6M270.4 135.3h0.6M272.1 127.7h0.6M266.4 132.0h0.6M280.4 121.3h0.6M280.0 124.7h0.6M279.5 121.3h0.6M269.9 125.7h0.6M275.9 125.1h0.6M266.6 131.4h0.6M286.2 128.5h0.6M277.0 126.4h0.6M285.4 118.4h0.6M298.7 124.3h0.6M281.3 128.5h0.6M288.4 114.6h0.6M270.8 131.2h0.6M276.9 132.4h0.6M278.4 122.2h0.6M271.2 140.0h0.6M268.1 124.6h0.6M269.7 128.3h0.6M281.6 125.1h0.6M268.5 141.1h0.6M289.9 122.8h0.6M264.9 135.7h0.6M280.5 125.6h0.6M289.0 133.1h0.6M275.6 127.7h0.6M279.7 128.1h0.6M279.5 136.3h0.6M288.7 130.5h0.6M268.2 135.1h0.6M271.0 120.4h0.6M286.2 115.3h0.6M263.1 120.6h0.6M268.9 133.6h0.6M291.4 127.8h0.6M282.0 131.4h0.6M274.4 128.8h0.6M274.5 123.9h0.6M285.0 115.7h0.6M279.3 127.8h0.6M262.0 126.6h0.6M278.9 122.3h0.6M277.7 125.1h0.6M276.5 125.3h0.6M277.6 132.9h0.6M262.7 128.2h0.6M281.7 128.5h0.6M283.8 126.6h0.6M260.9 141.0h0.6M271.3 129.8h0.6M268.5 136.0h0.6M276.2 121.4h0.6M284.1 131.2h0.6M278.6 115.7h0.6M284.6 128.4h0.6M298.0 123.5h0.6M292.5 122.9h0.6M259.0 124.3h0.6M288.4 126.7h0.6M282.1 134.2h0.6M277.2 128.8h0.6M280.2 127.0h0.6M273.5 129.4h0.6M284.1 132.7h0.6M278.6 129.8h0.6M280.2 121.3h0.6M269.9 131.7h0.6M272.8 124.0h0.6M269.4 121.2h0.6M287.5 126.5h0.6M282.4 112.1h0.6M277.8 129.3h0.6M273.5 134.7h0.6M278.2 130.1h0.6M276.6 126.5h0.6M273.9 129.6h0.6M288.0 122.7h0.6M270.2 127.1h0.6M287.5 132.1h0.6M283.5 127.9h0.6M281.3 120.0h0.6M275.1 131.8h0.6M284.6 136.4h0.6M275.5 133.9h0.6M288.4 117.7h0.6M277.9 131.6h0.6M281.6 128.2h0.6M292.5 128.9h0.6M268.4 127.5h0.6M270.0 129.7h0.6M284.0 126.3h0.6M286.4 127.7h0.6M268.7 119.9h0.6M270.9 123.4h0.6M266.2 130.5h0.6M291.9 118.7h0.6M285.1 128.5h0.6M276.0 123.2h0.6M292.6 121.4h0.6M294.2 122.5h0.6M276.8 128.2h0.6M272.4 126.0h0.6M280.8 121.7h0.6M280.9 119.9h0.6M262.7 132.4h0.6M284.9 120.3h0.6M295.8 127.3h0.6M279.2 134.4h0.6M275.3 128.5h0.6M281.0 126.0h0.6M285.1 117.9h0.6M265.8 123.3h0.6M274.6 127.6h0.6M270.0 134.6h0.6M264.1 127.6h0.6M288.5 119.5h0.6M273.4 112.8h0.6M278.0 127.9h0.6M277.7 131.6h0.6M275.7 128.8h0.6M271.3 129.4h0.6M279.4 132.7h0.6M269.9 124.7h0.6M273.2 126.1h0.6M278.1 135.1h0.6M277.8 138.5h0.6M287.2 123.8h0.6M277.0 128.7h0.6M272.0 133.4h0.6M280.9 124.6h0.6M274.9 132.0h0.6M265.8 129.4h0.6M266.1 122.4h0.6M270.8 134.0h0.6M285.7 118.9h0.6M274.3 132.6h0.6M277.4 123.8h0.6M274.6 135.3h0.6M260.2 126.8h0.6M278.2 129.4h0.6M268.6 125.8h0.6M286.9 124.8h0.6M268.6 133.6h0.6M277.9 134.5h0.6M282.8 120.0h0.6M271.7 130.1h0.6M274.9 132.1h0.6M279.1 137.5h0.6M266.2 124.0h0.6M272.1 126.9h0.6M271.9 126.4h0.6M271.3 133.0h0.6M276.3 126.3h0.6M267.1 135.3h0.6M288.1 122.3h0.6M280.0 133.6h0.6M278.8 132.3h0.6M272.5 125.3h0.6M285.9 116.0h0.6M285.9 131.6h0.6M278.9 127.5h0.6M283.4 119.3h0.6M277.4 129.8h0.6M275.3 119.1h0.6M278.5 124.7h0.6M292.6 133.4h0.6M266.6 134.1h0.6M269.5 117.0h0.6M287.5 137.7h0.6M277.6 137.9h0.6M290.5 125.3h0.6M282.7 136.0h0.6M263.0 132.7h0.6M270.9 133.5h0.6M278.9 129.2h0.6M286.1 136.8h0.6M289.6 123.4h0.6M278.4 135.3h0.6M283.0 131.6h0.6M259.1 142.6h0.6M280.8 111.3h0.6M279.0 129.5h0.6M266.3 139.5h0.6M278.5 121.6h0.6M270.6 130.4h0.6M277.1 125.1h0.6M282.8 133.2h0.6M278.6 127.0h0.6M295.3 126.9h0.6M274.6 129.1h0.6M272.7 129.1h0.6M272.7 124.8h0.6M282.2 123.6h0.6M269.7 128.0h0.6M269.2 130.6h0.6M274.1 124.1h0.6M285.6 125.8h0.6M284.5 125.6h0.6M279.2 118.2h0.6M277.2 133.7h0.6M274.1 131.4h0.6M262.1 123.9h0.6M270.0 142.6h0.6M280.5 121.6h0.6M280.4 125.9h0.6M279.6 124.4h0.6M279.3 133.2h0.6M284.2 126.0h0.6M282.8 126.4h0.6M278.1 121.9h0.6M279.1 135.6h0.6M279.6 129.6h0.6M292.6 128.2h0.6M294.5 127.0h0.6M288.9 116.8h0.6M281.9 126.5h0.6M265.5 134.8h0.6M280.1 127.8h0.6M281.5 126.5h0.6M290.5 120.3h0.6M274.9 119.3h0.6M277.4 131.2h0.6M282.9 129.6h0.6M279.4 128.5h0.6M277.2 137.5h0.6M269.3 130.2h0.6M269.2 137.2h0.6M275.2 128.6h0.6M270.4 140.2h0.6M275.2 135.4h0.6M278.1 127.7h0.6M275.0 124.8h0.6M283.3 129.5h0.6M293.5 111.9h0.6M274.2 124.1h0.6M271.3 122.8h0.6M271.6 135.0h0.6M272.8 128.2h0.6M285.2 126.1h0.6M280.1 126.1h0.6M277.7 125.2h0.6M288.3 122.6h0.6M272.2 128.2h0.6M278.6 123.9h0.6M291.3 124.5h0.6M283.2 126.4h0.6M268.6 129.0h0.6M282.6 126.8h0.6M270.8 122.8h0.6M272.3 133.3h0.6M264.3 144.0h0.6M255.9 132.3h0.6M288.6 121.8h0.6M271.2 119.8h0.6M275.1 131.1h0.6M271.9 131.2h0.6M271.8 127.2h0.6M276.9 136.4h0.6M290.5 130.1h0.6M266.5 125.9h0.6M269.3 129.9h0.6M287.5 132.4h0.6M268.0 137.2h0.6M273.0 127.2h0.6M281.3 116.6h0.6M289.4 134.9h0.6M285.5 119.6h0.6M281.4 129.4h0.6M273.1 139.0h0.6M279.4 133.6h0.6M275.6 125.8h0.6M275.7 132.5h0.6M284.5 132.3h0.6M261.4 124.7h0.6M283.6 124.2h0.6M289.1 126.6h0.6M276.7 129.7h0.6M272.9 124.5h0.6M278.6 124.7h0.6M276.6 127.1h0.6M266.9 131.6h0.6M278.3 122.0h0.6M282.0 122.6h0.6M290.1 108.7h0.6M290.6 132.0h0.6M277.8 122.3h0.6M281.1 137.8h0.6M277.0 130.8h0.6M277.4 125.8h0.6M283.4 133.7h0.6M289.0 115.4h0.6M274.6 127.4h0.6M285.3 121.5h0.6M271.1 127.6h0.6M279.5 130.5h0.6M279.1 120.9h0.6M273.7 146.3h0.6M275.8 123.2h0.6M285.8 118.5h0.6M277.5 134.6h0.6M285.9 134.4h0.6M280.5 130.9h0.6M271.5 129.8h0.6M291.1 124.8h0.6M275.5 123.0h0.6M289.6 134.5h0.6M284.3 134.3h0.6M280.1 122.2h0.6M282.4 122.6h0.6M282.8 133.4h0.6M279.4 128.0h0.6M266.6 129.1h0.6M274.9 120.4h0.6M285.9 128.9h0.6M278.0 123.5h0.6M267.2 127.0h0.6M278.2 125.4h0.6M265.6 132.9h0.6M267.8 124.4h0.6M275.3 128.3h0.6M278.3 118.2h0.6M278.9 130.8h0.6M280.4 122.1h0.6M270.8 130.0h0.6M278.1 130.6h0.6M262.7 131.0h0.6M277.9 129.3h0.6M279.9 115.7h0.6M274.2 125.7h0.6M272.4 124.5h0.6M277.4 131.6h0.6M279.5 128.0h0.6M277.7 139.7h0.6M266.9 135.1h0.6M281.7 130.6h0.6M274.6 131.9h0.6M269.6 129.9h0.6M287.0 123.8h0.6M291.1 126.0h0.6M271.5 131.5h0.6M270.9 131.5h0.6M284.6 117.8h0.6M280.2 114.8h0.6M271.5 133.9h0.6M278.1 137.7h0.6M267.8 124.0h0.6M276.2 118.8h0.6M271.1 126.8h0.6M267.0 130.9h0.6M275.4 126.5h0.6M278.8 121.8h0.6M272.7 119.2h0.6M267.9 134.1h0.6M270.7 134.1h0.6M291.2 124.3h0.6M273.4 126.9h0.6M285.3 116.8h0.6M273.0 138.0h0.6M284.6 127.8h0.6M273.9 125.5h0.6M272.1 126.1h0.6M272.8 130.7h0.6M269.5 142.9h0.6M264.3 129.2h0.6M277.8 127.2h0.6M274.8 126.3h0.6M281.3 121.5h0.6M280.7 123.5h0.6M288.7 129.0h0.6M289.9 135.5h0.6M276.0 125.8h0.6M275.4 121.1h0.6M278.7 125.1h0.6M284.5 111.1h0.6M279.9 123.6h0.6M283.7 138.5h0.6M265.7 132.9h0.6M269.4 132.5h0.6M263.5 134.8h0.6M280.7 122.2h0.6M286.7 128.9h0.6M279.2 136.0h0.6M278.1 128.7h0.6M279.9 125.9h0.6M264.8 136.2h0.6M275.6 121.6h0.6M298.4 115.6h0.6M282.8 134.4h0.6M294.0 120.7h0.6M282.3 127.3h0.6M271.8 131.5h0.6M272.1 136.0h0.6M289.6 117.7h0.6M278.2 123.9h0.6M289.5 120.0h0.6M276.9 130.7h0.6M286.9 121.3h0.6M274.1 121.9h0.6M279.3 138.0h0.6M283.1 117.6h0.6M280.1 118.9h0.6M292.4 121.4h0.6M278.0 134.3h0.6M274.3 128.0h0.6M283.9 131.1h0.6M286.0 131.4h0.6M259.3 127.7h0.6M265.5 130.1h0.6M276.3 121.8h0.6M279.0 115.8h0.6M274.2 124.9h0.6M274.3 131.2h0.6M284.8 138.2h0.6M281.2 122.6h0.6M277.8 128.2h0.6M276.2 122.1h0.6M274.5 137.4h0.6M265.4 127.4h0.6M287.0 121.8h0.6M269.6 135.0h0.6M284.2 118.4h0.6M268.4 126.2h0.6M285.2 114.3h0.6M267.5 132.9h0.6M271.6 132.0h0.6M278.9 120.7h0.6M285.7 121.0h0.6M291.4 126.6h0.6M291.7 118.6h0.6M287.7 123.9h0.6M282.6 116.5h0.6M293.6 126.5h0.6M269.0 133.8h0.6M283.3 119.0h0.6M284.3 116.1h0.6M271.2 129.2h0.6M269.2 119.0h0.6M279.2 130.3h0.6M278.9 128.7h0.6M278.1 124.9h0.6M280.4 132.6h0.6M289.0 126.2h0.6M286.6 135.6h0.6M271.7 127.1h0.6M283.5 124.2h0.6M281.9 123.5h0.6M286.7 129.3h0.6M282.4 122.1h0.6M286.4 127.1h0.6M281.3 123.4h0.6M286.9 119.3h0.6M284.8 128.7h0.6M284.9 131.9h0.6M287.6 125.1h0.6M297.3 120.7h0.6M282.3 119.3h0.6M278.3 131.3h0.6M271.9 126.4h0.6M281.3 123.3h0.6M273.6 133.4h0.6M274.9 122.0h0.6M289.8 125.3h0.6M273.7 131.6h0.6M285.9 123.9h0.6M263.0 118.3h0.6M279.3 126.5h0.6M279.1 127.7h0.6M271.9 127.6h0.6M285.1 117.1h0.6M270.6 125.2h0.6M287.5 133.9h0.6M274.5 132.3h0.6M266.0 124.8h0.6M288.7 118.1h0.6M288.7 116.2h0.6M276.2 127.1h0.6M281.4 120.8h0.6M267.9 126.3h0.6M287.6 112.3h0.6M266.4 130.6h0.6M268.3 130.5h0.6M279.5 127.4h0.6M279.7 119.4h0.6M282.2 125.1h0.6M276.2 122.9h0.6M271.1 126.6h0.6M294.3 125.2h0.6M271.0 122.6h0.6M275.1 130.9h0.6M284.5 133.7h0.6M280.9 134.2h0.6M275.1 128.4h0.6M286.1 119.6h0.6M297.2 117.1h0.6M290.3 117.9h0.6M275.4 125.0h0.6M281.5 130.8h0.6M289.8 127.0h0.6M277.7 121.7h0.6M276.7 143.8h0.6M269.9 136.4h0.6M272.3 128.3h0.6M283.4 119.4h0.6M271.3 127.7h0.6M265.8 131.4h0.6M284.3 126.8h0.6M286.5 125.7h0.6M273.9 127.9h0.6M271.8 125.8h0.6M277.4 136.6h0.6M281.9 126.6h0.6M262.7 134.3h0.6M270.8 130.0h0.6M271.7 145.0h0.6M275.1 127.2h0.6M262.8 122.9h0.6M284.1 128.9h0.6M280.0 127.4h0.6M264.7 133.2h0.6M268.8 134.4h0.6M276.6 124.5h0.6M277.8 115.5h0.6M279.9 136.4h0.6M272.5 130.6h0.6M277.3 121.1h0.6M286.3 131.3h0.6M276.8 121.8h0.6M272.3 131.7h0.6M291.5 126.8h0.6M285.7 131.3h0.6M289.1 135.4h0.6M282.3 130.2h0.6M285.4 126.3h0.6M265.3 137.7h0.6M294.8 124.0h0.6M274.3 138.3h0.6M267.7 138.1h0.6M267.2 140.6h0.6M286.8 127.5h0.6M284.2 120.8h0.6M272.2 139.4h0.6M276.3 132.5h0.6M275.8 140.0h0.6M279.7 137.9h0.6M284.0 120.2h0.6M271.3 127.9h0.6M263.1 128.8h0.6M274.7 133.5h0.6M280.4 126.9h0.6M284.7 124.0h0.6M278.6 127.5h0.6M268.7 136.5h0.6M291.0 131.0h0.6M279.0 139.8h0.6M281.6 132.1h0.6M277.0 129.3h0.6M283.1 131.4h0.6M276.2 131.3h0.6M285.4 130.8h0.6M280.1 118.3h0.6M290.1 117.8h0.6M282.7 121.2h0.6M274.6 126.2h0.6M261.7 131.4h0.6M279.4 137.5h0.6M275.6 125.8h0.6M284.2 129.3h0.6M279.1 130.7h0.6M264.2 129.1h0.6M291.7 115.4h0.6M262.7 124.8h0.6M276.0 139.3h0.6M296.2 129.4h0.6M303.5 126.7h0.6M281.3 115.2h0.6M288.0 120.9h0.6M277.3 120.8h0.6M275.2 119.2h0.6M295.3 129.4h0.6M274.8 120.2h0.6M278.3 124.7h0.6M276.9 132.9h0.6M284.4 125.6h0.6M289.8 127.4h0.6M282.5 127.6h0.6M274.2 116.4h0.6M267.6 135.2h0.6M283.1 129.6h0.6M274.1 121.5h0.6M286.3 121.4h0.6M276.1 123.8h0.6M276.1 124.2h0.6M271.7 132.0h0.6M275.1 129.7h0.6M278.7 126.8h0.6M273.8 124.5h0.6M283.4 131.0h0.6M279.0 136.3h0.6M282.0 132.8h0.6M267.8 132.2h0.6M271.5 120.9h0.6M267.7 136.1h0.6M288.3 107.4h0.6M278.7 136.0h0.6M281.3 123.0h0.6M258.9 136.2h0.6M292.8 129.5h0.6M266.9 134.4h0.6M278.8 120.2h0.6M264.7 128.7h0.6M282.8 119.1h0.6M276.1 127.2h0.6M289.3 135.1h0.6M282.8 131.6h0.6M292.6 107.5h0.6M292.1 123.4h0.6M293.8 128.2h0.6M283.9 123.5h0.6M275.1 128.5h0.6M277.0 132.5h0.6M284.6 132.0h0.6M280.2 126.7h0.6M288.1 127.1h0.6M269.5 138.6h0.6M274.3 123.8h0.6M272.4 124.8h0.6M274.9 123.4h0.6M268.1 128.8h0.6M284.7 125.1h0.6M279.6 129.5h0.6M280.1 124.7h0.6M284.9 128.8h0.6M259.4 131.8h0.6M280.9 135.0h0.6M276.5 115.7h0.6M280.6 128.2h0.6M278.8 127.9h0.6M286.7 129.0h0.6M262.6 127.5h0.6M276.5 118.7h0.6M291.7 117.7h0.6M281.1 132.6h0.6M270.6 125.2h0.6M279.7 121.1h0.6M284.7 127.3h0.6M283.3 125.3h0.6M270.7 124.7h0.6M260.3 124.9h0.6M275.6 133.4h0.6M282.0 116.5h0.6M279.1 125.0h0.6M278.5 123.7h0.6M279.2 136.4h0.6M271.2 125.0h0.6M288.4 126.7h0.6M283.8 137.5h0.6M283.0 123.3h0.6M284.0 123.2h0.6M277.0 133.9h0.6M268.9 134.3h0.6M273.1 125.9h0.6M276.2 122.0h0.6M280.9 120.9h0.6M275.4 127.4h0.6M282.1 136.2h0.6M267.5 131.0h0.6M289.6 139.3h0.6M280.5 132.7h0.6M281.4 121.7h0.6M283.6 132.3h0.6M281.9 124.7h0.6M276.0 121.5h0.6M267.3 126.9h0.6M289.3 118.9h0.6M285.3 120.6h0.6M286.4 118.8h0.6M268.1 133.5h0.6M282.5 121.9h0.6M275.9 124.2h0.6M272.4 135.5h0.6M290.3 125.2h0.6M284.1 124.9h0.6M275.9 123.6h0.6M283.0 127.2h0.6M285.8 127.0h0.6M266.8 123.6h0.6M276.5 128.8h0.6M266.0 132.7h0.6M266.6 133.7h0.6M266.2 130.4h0.6M278.0 125.2h0.6M278.6 126.0h0.6M263.3 129.2h0.6M276.3 127.7h0.6M269.1 137.0h0.6M281.2 119.0h0.6M277.2 122.9h0.6M268.7 125.4h0.6M290.0 121.8h0.6M285.2 121.7h0.6M272.1 132.8h0.6M292.6 134.7h0.6M274.1 129.9h0.6M266.2 129.4h0.6M288.8 127.4h0.6M270.6 122.4h0.6M281.3 139.4h0.6M267.4 133.1h0.6M267.8 128.6h0.6M278.1 122.0h0.6M276.2 126.8h0.6M274.9 129.3h0.6M263.6 135.3h0.6M291.5 121.1h0.6M266.5 136.3h0.6M272.1 127.7h0.6M278.1 134.5h0.6M272.1 126.4h0.6M279.9 123.0h0.6M278.5 132.1h0.6M279.6 130.2h0.6M282.1 134.9h0.6M279.5 128.5h0.6M276.0 133.0h0.6M260.5 127.9h0.6M289.3 121.2h0.6M285.4 133.5h0.6M273.4 134.7h0.6M268.3 129.2h0.6M287.2 123.0h0.6M268.9 128.4h0.6M285.3 130.0h0.6M280.6 112.1h0.6M264.0 129.8h0.6M283.2 119.3h0.6M257.5 114.5h0.6M266.2 138.3h0.6M289.1 122.3h0.6M276.2 126.8h0.6M285.1 128.2h0.6M281.7 121.4h0.6M289.1 134.5h0.6M285.5 129.6h0.6M275.3 126.8h0.6M294.6 120.5h0.6M275.0 125.1h0.6M287.0 132.7h0.6M266.7 120.4h0.6M274.0 131.2h0.6M271.4 128.8h0.6M288.8 128.8h0.6M269.3 133.2h0.6M276.9 130.3h0.6M279.6 130.0h0.6M270.8 133.1h0.6M263.3 130.6h0.6M268.3 128.8h0.6M283.1 132.5h0.6M276.1 136.2h0.6M274.1 128.4h0.6M266.5 130.0h0.6M297.0 121.7h0.6M284.6 128.9h0.6M263.3 130.3h0.6M277.4 120.2h0.6M285.3 123.2h0.6M269.7 127.1h0.6M287.9 125.6h0.6M282.5 115.0h0.6M287.6 123.2h0.6M284.0 133.2h0.6M267.6 130.0h0.6M284.7 127.9h0.6M280.1 118.2h0.6M280.7 126.8h0.6M280.6 118.4h0.6M274.7 128.6h0.6M291.4 122.6h0.6M264.3 126.8h0.6M270.3 114.7h0.6M277.7 135.0h0.6" stroke="#2a2a2a" stroke-width="0.6" fill="none" opacity="1.0"/>
<path d="M262.4 128.9h0.55M266.8 145.4h0.55M257.8 142.1h0.55M257.3 139.8h0.55M251.4 130.8h0.55M272.2 135.8h0.55M265.3 141.3h0.55M264.0 138.2h0.55M269.5 140.2h0.55M268.7 135.9h0.55M274.1 131.5h0.55M263.9 149.8h0.55M260.0 136.8h0.55M267.1 138.4h0.55M261.1 133.7h0.55M266.5 141.3h0.55M275.8 133.3h0.55M277.0 138.9h0.55M273.6 137.6h0.55M272.4 137.2h0.55M255.7 136.9h0.55M264.1 143.7h0.55M271.8 132.0h0.55M268.6 145.7h0.55M272.2 134.8h0.55M259.4 131.8h0.55M273.5 134.7h0.55M265.7 139.1h0.55M266.2 141.6h0.55M265.2 137.7h0.55M265.4 130.0h0.55M264.3 135.9h0.55M278.4 142.0h0.55M272.4 141.0h0.55M271.7 133.8h0.55M271.4 144.8h0.55M270.3 139.7h0.55M257.1 146.6h0.55M269.7 130.8h0.55M264.8 141.7h0.55M265.5 131.8h0.55M268.6 140.5h0.55M261.9 147.2h0.55M260.0 149.9h0.55M273.8 140.7h0.55M255.1 147.9h0.55M264.9 140.2h0.55M265.6 147.1h0.55M264.9 138.8h0.55M258.7 141.4h0.55M255.3 145.3h0.55M262.3 141.8h0.55M256.0 145.0h0.55M267.7 134.6h0.55M262.2 135.4h0.55M264.0 141.1h0.55M266.0 143.7h0.55M258.4 142.3h0.55M272.2 140.4h0.55M258.3 147.6h0.55M263.6 140.2h0.55M265.7 137.7h0.55M267.6 135.6h0.55M272.0 137.1h0.55M258.5 148.2h0.55M259.3 131.2h0.55M255.5 141.2h0.55M271.0 136.7h0.55M261.2 133.2h0.55M266.8 137.9h0.55M269.5 139.3h0.55M265.7 135.8h0.55M257.0 127.4h0.55M271.7 137.5h0.55M264.1 134.2h0.55M265.3 136.0h0.55M269.4 142.0h0.55M268.6 136.1h0.55M266.8 138.2h0.55M264.0 137.5h0.55M267.2 134.1h0.55M267.4 139.8h0.55M265.6 139.8h0.55M274.3 134.3h0.55M265.2 136.1h0.55M262.2 142.2h0.55M270.8 142.4h0.55M265.1 147.1h0.55M265.6 139.8h0.55M273.1 137.7h0.55M265.9 133.8h0.55M265.2 137.8h0.55M268.9 130.4h0.55M272.7 133.8h0.55M263.4 141.5h0.55M264.6 132.4h0.55M271.5 132.7h0.55M269.7 132.5h0.55M265.4 143.7h0.55M269.3 135.9h0.55M261.8 148.6h0.55M265.2 129.3h0.55M257.8 143.9h0.55M269.0 137.0h0.55M259.9 145.3h0.55M269.9 138.7h0.55M262.9 136.6h0.55M264.9 145.1h0.55M267.4 137.8h0.55M270.2 139.6h0.55M271.2 140.5h0.55M262.9 148.4h0.55M268.3 132.8h0.55M266.9 133.1h0.55M266.4 135.3h0.55M254.7 153.0h0.55M262.3 146.9h0.55M270.7 145.9h0.55M247.7 148.0h0.55M259.8 146.6h0.55M258.3 137.5h0.55M259.7 139.3h0.55M270.2 139.1h0.55M267.2 122.4h0.55M251.3 141.4h0.55M265.8 136.0h0.55M272.2 136.1h0.55M261.1 138.6h0.55M272.0 127.3h0.55M257.6 139.4h0.55M268.9 138.0h0.55M265.0 129.9h0.55M264.1 133.9h0.55M261.6 132.1h0.55M260.4 140.9h0.55M258.8 129.8h0.55M265.5 134.2h0.55M268.5 140.6h0.55M277.0 136.6h0.55M274.8 137.7h0.55M257.1 142.1h0.55M265.6 138.7h0.55M274.2 135.4h0.55M271.0 136.8h0.55M262.4 150.0h0.55M267.4 136.9h0.55M253.9 137.8h0.55M272.0 139.0h0.55M253.6 137.8h0.55M265.0 134.6h0.55M274.0 135.1h0.55M258.0 128.1h0.55M273.5 130.4h0.55M261.5 144.6h0.55M265.9 142.6h0.55M271.2 126.7h0.55M268.5 130.5h0.55M269.6 139.2h0.55M275.7 131.1h0.55M267.3 135.4h0.55M262.0 138.2h0.55M251.9 138.7h0.55M265.2 143.3h0.55M271.3 143.5h0.55M257.4 142.5h0.55M269.1 144.0h0.55M263.2 144.2h0.55M275.5 137.9h0.55M263.9 139.5h0.55M270.5 133.5h0.55M269.8 135.8h0.55M272.8 135.7h0.55M267.5 135.1h0.55M268.7 135.5h0.55M283.1 126.9h0.55M266.0 136.7h0.55M256.2 146.6h0.55M269.9 138.2h0.55M269.2 143.7h0.55M266.5 134.1h0.55M264.7 147.4h0.55M262.3 138.0h0.55M258.1 140.9h0.55M271.4 137.7h0.55M268.4 141.8h0.55M274.0 137.3h0.55M256.8 146.2h0.55M269.8 147.1h0.55M275.8 133.0h0.55M265.0 146.3h0.55M263.7 136.9h0.55M272.8 134.4h0.55M264.1 135.4h0.55M268.3 148.4h0.55M257.9 135.6h0.55M272.1 130.9h0.55M265.8 139.2h0.55M273.1 124.1h0.55M268.7 138.2h0.55M269.4 138.3h0.55M275.8 146.7h0.55M272.3 141.9h0.55M264.0 135.5h0.55M259.7 133.1h0.55M272.9 123.5h0.55M271.8 130.6h0.55M262.8 137.2h0.55M260.3 137.3h0.55M266.3 139.6h0.55M249.4 141.6h0.55M271.2 142.5h0.55M263.8 132.4h0.55M272.1 128.3h0.55M264.7 139.1h0.55M268.2 149.4h0.55M264.9 141.4h0.55M260.2 139.3h0.55M265.2 138.8h0.55M265.1 133.2h0.55M274.2 137.2h0.55M266.9 135.0h0.55M272.5 133.2h0.55M271.2 137.4h0.55M261.2 144.3h0.55M266.0 130.5h0.55M269.6 128.7h0.55M259.7 148.9h0.55M272.7 137.7h0.55M269.0 144.8h0.55M275.6 137.4h0.55M267.0 136.1h0.55M263.4 137.0h0.55M270.9 145.9h0.55M267.1 145.6h0.55M269.5 143.1h0.55M270.4 124.0h0.55M262.0 139.9h0.55M263.3 137.9h0.55M266.5 136.3h0.55M266.9 138.0h0.55M259.9 127.4h0.55M274.6 130.6h0.55M276.1 141.4h0.55M262.1 143.7h0.55M268.5 139.9h0.55M256.7 142.8h0.55M271.9 130.1h0.55M261.1 135.0h0.55M267.8 139.3h0.55M275.3 144.4h0.55M267.8 142.3h0.55M259.2 143.7h0.55M264.4 141.5h0.55M272.6 132.9h0.55M271.6 138.6h0.55M270.3 138.3h0.55M266.2 145.1h0.55M264.3 135.4h0.55M263.7 154.8h0.55M269.3 140.6h0.55M270.7 133.9h0.55M264.3 144.8h0.55M273.5 144.0h0.55M264.5 138.3h0.55M257.5 142.7h0.55M250.1 136.9h0.55M266.1 139.3h0.55M270.9 131.0h0.55M268.2 136.3h0.55M260.5 141.4h0.55M264.8 137.8h0.55M268.2 139.6h0.55M259.2 141.9h0.55M265.7 133.1h0.55M269.4 130.5h0.55M267.3 137.4h0.55M263.4 136.8h0.55M266.3 138.2h0.55M262.3 126.8h0.55M267.7 137.8h0.55M264.3 144.4h0.55M264.5 140.9h0.55M277.7 138.1h0.55M265.2 145.1h0.55M275.9 148.2h0.55M269.2 132.0h0.55M269.1 138.3h0.55M261.6 131.5h0.55M264.0 134.4h0.55M269.6 141.4h0.55M269.1 133.1h0.55M258.9 132.6h0.55M271.6 137.4h0.55M266.2 134.7h0.55M258.5 146.4h0.55M274.0 140.2h0.55M269.8 141.2h0.55M262.8 149.7h0.55M272.6 128.5h0.55M261.8 143.6h0.55M269.5 133.5h0.55M257.9 151.7h0.55M272.1 133.4h0.55M267.9 131.9h0.55M257.3 136.3h0.55M266.6 131.8h0.55M270.9 135.1h0.55M262.7 138.5h0.55M257.0 131.9h0.55M266.9 135.8h0.55M265.1 131.1h0.55M260.5 136.8h0.55M263.2 141.0h0.55M262.7 132.3h0.55M269.7 146.5h0.55M273.6 135.2h0.55M264.7 136.2h0.55M262.7 137.3h0.55M254.9 139.3h0.55M267.7 145.7h0.55M256.5 135.4h0.55M268.0 136.0h0.55M264.4 138.5h0.55M264.5 147.4h0.55M271.2 130.5h0.55M267.1 137.4h0.55M267.3 138.6h0.55M253.0 144.2h0.55M268.7 137.8h0.55M258.2 149.6h0.55M264.7 132.2h0.55M267.1 141.3h0.55M261.2 146.0h0.55M278.0 141.3h0.55M271.7 130.1h0.55M268.0 127.8h0.55M271.0 138.5h0.55M260.5 142.4h0.55M261.6 138.5h0.55M273.8 133.3h0.55M267.6 140.5h0.55M269.2 143.3h0.55M258.6 140.5h0.55M259.8 137.8h0.55M263.4 139.7h0.55M266.6 136.5h0.55M261.1 137.8h0.55M274.1 133.2h0.55M262.1 132.7h0.55M259.2 143.3h0.55M269.6 139.1h0.55M267.0 139.9h0.55M263.1 137.3h0.55M263.1 138.8h0.55M273.3 141.2h0.55M266.0 139.9h0.55M265.3 126.9h0.55M265.8 155.6h0.55M266.5 138.0h0.55M264.6 136.4h0.55M262.9 141.8h0.55M260.8 142.4h0.55M266.0 135.2h0.55M263.1 139.0h0.55M268.1 133.3h0.55M264.3 143.4h0.55M269.0 129.9h0.55M269.2 129.0h0.55M275.5 137.1h0.55M270.9 140.2h0.55M272.5 140.8h0.55M269.9 139.9h0.55M271.0 132.8h0.55M254.0 146.0h0.55M264.9 145.0h0.55M270.4 129.0h0.55M266.0 131.8h0.55M270.9 138.2h0.55M265.2 140.1h0.55M272.5 140.7h0.55M265.9 132.8h0.55M257.4 141.8h0.55M256.1 138.1h0.55M276.8 134.0h0.55M260.1 142.9h0.55M265.7 134.0h0.55M259.7 143.0h0.55M271.5 140.8h0.55M258.0 139.9h0.55M269.8 136.3h0.55M259.3 144.1h0.55M266.1 142.7h0.55M272.0 135.5h0.55M266.1 138.0h0.55M266.6 137.0h0.55M259.5 140.8h0.55M268.5 140.4h0.55M273.0 141.0h0.55M256.1 136.9h0.55M266.6 141.8h0.55M253.8 147.4h0.55M266.7 126.7h0.55M253.7 137.1h0.55M270.7 152.8h0.55M254.5 143.9h0.55M265.1 140.3h0.55M275.5 138.9h0.55M261.9 144.0h0.55M261.1 136.5h0.55M263.9 130.6h0.55M261.8 144.2h0.55M258.9 142.1h0.55M265.1 140.4h0.55M250.8 140.2h0.55M266.8 132.6h0.55M268.2 145.2h0.55M268.7 140.5h0.55M259.9 137.5h0.55M267.9 136.2h0.55M255.6 137.2h0.55M259.7 141.4h0.55M263.3 141.5h0.55M254.0 141.4h0.55M273.6 137.2h0.55M272.9 138.4h0.55M272.3 133.9h0.55M272.7 141.8h0.55M267.6 125.9h0.55M269.2 140.1h0.55M260.2 144.9h0.55M272.4 136.4h0.55M264.3 125.2h0.55M262.6 140.9h0.55M272.2 149.4h0.55M262.6 139.0h0.55M273.6 132.0h0.55M271.8 137.6h0.55M271.6 136.3h0.55M272.2 132.3h0.55M254.8 144.7h0.55M272.6 138.0h0.55M262.7 142.5h0.55M268.7 132.4h0.55M270.0 133.7h0.55M275.8 139.5h0.55M274.8 141.6h0.55M262.6 143.3h0.55M253.4 138.7h0.55M267.5 128.8h0.55M250.3 145.9h0.55M260.3 141.4h0.55M270.0 137.2h0.55M272.4 138.4h0.55M265.7 137.1h0.55M271.6 136.6h0.55M264.8 135.0h0.55M262.8 127.1h0.55M259.5 143.0h0.55M267.4 142.4h0.55M268.4 126.5h0.55M267.7 136.7h0.55M277.6 136.7h0.55M273.0 131.9h0.55M255.2 155.1h0.55M267.9 146.1h0.55M270.4 135.6h0.55M254.5 144.0h0.55M273.5 135.5h0.55M260.6 138.4h0.55M263.5 132.9h0.55M267.4 150.9h0.55M262.1 140.9h0.55M261.8 137.9h0.55M264.3 139.2h0.55M270.8 136.3h0.55M267.7 137.0h0.55M268.1 133.5h0.55M273.2 134.6h0.55M267.5 133.8h0.55M264.6 142.1h0.55M270.0 137.4h0.55M255.9 146.3h0.55M270.2 132.7h0.55M267.7 139.2h0.55M260.3 128.9h0.55M266.0 139.6h0.55M253.0 144.3h0.55M265.5 129.2h0.55M260.4 146.4h0.55M262.5 136.2h0.55M255.1 127.5h0.55M280.9 136.3h0.55M263.8 139.4h0.55M269.3 139.1h0.55M262.2 135.1h0.55M264.6 132.2h0.55M265.8 136.2h0.55M266.4 144.1h0.55M265.7 143.1h0.55M273.0 138.2h0.55M259.3 144.8h0.55M267.7 137.4h0.55M269.3 136.3h0.55M273.5 144.1h0.55M264.8 133.6h0.55M277.3 137.2h0.55M260.0 151.0h0.55M261.9 141.7h0.55M265.1 140.0h0.55M272.8 141.5h0.55M263.5 141.5h0.55M268.4 134.9h0.55M261.2 148.6h0.55M265.6 144.7h0.55M263.9 150.6h0.55M259.1 140.2h0.55M268.4 135.8h0.55M267.6 144.2h0.55M279.3 138.7h0.55" stroke="#3a3a3a" stroke-width="0.55" fill="none" opacity="1.0"/>
<path d="M277.8 126.7h0.55M278.1 128.1h0.55M274.5 143.4h0.55M251.1 146.4h0.55M278.4 133.1h0.55M290.5 135.5h0.55M280.6 141.5h0.55M283.4 125.2h0.55M284.6 130.7h0.55M274.5 121.7h0.55M260.7 123.6h0.55M264.1 135.4h0.55M277.7 130.8h0.55M270.1 121.7h0.55M287.6 138.9h0.55M267.2 134.4h0.55M277.8 126.0h0.55M281.3 119.6h0.55M285.3 117.2h0.55M285.8 128.7h0.55M267.8 138.4h0.55M276.4 122.7h0.55M278.8 117.7h0.55M273.0 128.8h0.55M252.5 139.0h0.55M277.0 128.7h0.55M274.8 142.7h0.55M281.1 130.0h0.55M264.4 126.8h0.55M279.0 138.1h0.55M284.4 128.8h0.55M261.7 152.8h0.55M260.5 132.7h0.55M281.3 140.1h0.55M246.3 135.2h0.55M273.4 143.0h0.55M288.6 132.6h0.55M277.0 130.6h0.55M269.2 136.7h0.55M290.5 127.2h0.55M277.7 119.7h0.55M281.7 121.4h0.55M260.5 141.0h0.55M278.8 112.3h0.55M259.3 142.9h0.55M288.7 129.1h0.55M290.4 138.0h0.55M288.6 131.3h0.55M271.6 139.0h0.55M281.6 130.7h0.55M282.7 129.0h0.55M272.8 119.6h0.55M270.1 125.4h0.55M273.4 124.4h0.55M263.8 140.7h0.55M292.4 120.1h0.55M268.7 140.8h0.55M282.2 131.2h0.55M285.5 127.7h0.55M290.8 128.6h0.55M275.5 134.6h0.55M294.7 135.6h0.55M283.9 147.7h0.55M268.7 120.9h0.55M258.5 125.0h0.55M278.0 126.2h0.55M272.9 124.4h0.55M275.3 124.3h0.55M276.3 138.5h0.55M277.5 136.0h0.55M255.6 122.4h0.55M282.6 127.1h0.55M263.9 118.9h0.55M270.8 131.5h0.55M276.9 117.5h0.55M256.6 136.9h0.55M275.2 136.6h0.55M275.4 131.7h0.55M265.2 123.2h0.55M270.8 152.6h0.55M274.8 127.2h0.55M283.2 127.1h0.55M277.1 139.0h0.55M271.5 118.5h0.55M249.2 135.0h0.55M257.6 140.7h0.55M273.3 126.8h0.55M261.1 139.4h0.55M284.6 123.9h0.55M280.7 128.0h0.55M272.3 141.3h0.55M269.5 129.5h0.55M299.5 124.8h0.55M276.6 134.5h0.55M281.8 134.0h0.55M284.4 134.1h0.55M285.7 124.7h0.55M258.6 123.6h0.55M269.5 149.6h0.55M287.9 110.8h0.55M278.1 127.7h0.55M288.5 117.0h0.55M269.7 147.0h0.55M274.9 139.7h0.55M284.0 122.9h0.55M285.5 115.6h0.55M253.8 136.9h0.55M287.4 116.0h0.55M286.1 142.2h0.55M264.4 127.3h0.55M259.4 136.3h0.55M277.0 144.4h0.55M298.5 130.9h0.55M282.8 128.6h0.55M254.7 143.9h0.55M245.6 140.1h0.55M283.7 120.9h0.55M261.4 137.3h0.55M267.5 135.0h0.55M283.0 143.3h0.55M266.0 147.1h0.55M273.4 119.0h0.55M270.2 123.8h0.55M258.1 129.6h0.55M261.1 141.3h0.55M268.3 126.1h0.55M268.2 132.3h0.55M265.2 118.6h0.55M294.5 119.2h0.55M278.4 138.4h0.55M270.0 125.9h0.55M267.1 115.4h0.55M286.6 116.1h0.55M267.1 125.4h0.55M254.2 128.7h0.55M251.9 114.9h0.55M264.8 130.8h0.55M276.7 121.3h0.55M267.1 136.0h0.55M285.0 132.9h0.55M274.0 134.6h0.55M261.4 146.0h0.55M262.7 115.9h0.55M277.7 132.7h0.55M282.0 134.3h0.55M281.1 133.9h0.55M275.1 140.7h0.55M299.9 131.9h0.55M275.6 133.8h0.55M266.9 131.9h0.55M279.6 140.3h0.55M275.7 139.4h0.55M262.0 156.7h0.55M258.9 132.2h0.55M259.8 131.2h0.55M275.5 129.9h0.55M263.7 133.0h0.55M275.7 136.3h0.55M275.1 139.7h0.55M280.1 137.0h0.55M289.4 122.8h0.55M289.7 123.6h0.55M268.8 135.0h0.55M301.2 126.1h0.55M294.8 123.4h0.55M276.8 123.1h0.55M278.1 138.3h0.55M270.1 136.2h0.55M258.9 131.3h0.55M278.7 143.1h0.55M283.2 133.6h0.55M267.2 120.9h0.55M271.4 139.7h0.55M285.2 118.0h0.55M254.7 141.3h0.55M274.0 126.8h0.55M247.3 148.8h0.55M303.0 124.3h0.55M280.7 126.8h0.55M282.0 134.9h0.55M273.2 127.5h0.55M271.5 127.0h0.55M275.3 125.6h0.55M292.1 136.7h0.55M288.3 125.8h0.55M267.3 139.2h0.55M284.2 129.6h0.55M266.4 130.9h0.55M290.0 123.9h0.55M287.3 130.8h0.55M271.6 137.1h0.55M274.0 139.5h0.55M274.1 129.4h0.55M269.3 128.2h0.55M259.0 131.9h0.55M272.1 151.2h0.55M283.1 131.1h0.55M273.1 128.5h0.55M280.6 119.2h0.55M265.9 122.7h0.55M281.5 140.1h0.55M257.8 129.3h0.55M286.3 121.7h0.55M285.9 124.9h0.55M272.6 128.1h0.55M272.6 125.5h0.55M277.4 124.8h0.55M276.2 135.9h0.55M270.7 121.1h0.55M278.2 133.8h0.55M273.2 135.9h0.55M287.9 123.0h0.55M276.4 129.0h0.55M274.5 120.6h0.55M276.4 136.1h0.55M290.8 136.0h0.55M261.4 116.9h0.55M277.2 126.8h0.55M283.4 117.9h0.55M271.9 122.4h0.55M279.3 141.8h0.55M289.0 129.4h0.55M285.5 129.5h0.55M278.0 141.9h0.55M287.5 127.6h0.55M287.9 128.9h0.55M283.5 114.1h0.55M264.5 131.7h0.55M276.3 126.9h0.55M276.9 125.4h0.55M288.1 144.5h0.55M267.9 131.3h0.55M267.0 140.8h0.55M264.0 144.0h0.55M270.8 126.8h0.55M293.6 120.3h0.55M290.1 140.2h0.55M260.5 133.5h0.55M288.7 129.2h0.55M281.8 132.7h0.55M271.8 115.9h0.55M292.5 129.7h0.55M287.2 132.8h0.55M274.5 125.8h0.55M278.9 128.0h0.55M279.6 118.2h0.55M292.4 134.1h0.55M259.5 122.9h0.55M275.0 126.8h0.55M271.3 126.8h0.55M261.1 142.1h0.55M260.1 140.2h0.55M273.5 123.9h0.55M275.1 133.2h0.55M282.2 130.5h0.55M280.3 113.8h0.55M260.7 120.6h0.55M267.0 134.5h0.55M279.5 126.0h0.55M262.4 142.5h0.55M277.6 139.0h0.55M251.6 122.1h0.55M291.1 128.7h0.55M281.2 136.8h0.55M292.1 121.4h0.55M272.0 142.4h0.55M279.1 121.8h0.55M284.1 121.4h0.55M287.1 126.7h0.55M264.4 135.7h0.55M249.0 139.0h0.55M273.2 131.0h0.55M278.8 133.1h0.55M283.6 131.4h0.55M274.2 142.4h0.55M285.0 130.1h0.55M279.0 130.1h0.55M243.7 139.8h0.55M265.5 125.0h0.55M285.3 136.9h0.55M278.7 124.4h0.55M278.5 132.2h0.55M267.0 136.9h0.55M293.5 118.2h0.55M264.1 132.8h0.55M244.1 135.7h0.55M274.9 127.9h0.55M279.1 125.7h0.55M279.1 131.7h0.55M257.3 129.1h0.55M259.8 127.2h0.55M283.2 122.9h0.55M293.2 133.3h0.55M267.8 125.4h0.55M273.3 141.5h0.55M251.4 136.4h0.55M291.3 119.6h0.55M286.9 135.0h0.55M280.6 133.9h0.55M282.7 131.8h0.55M263.4 146.0h0.55M288.7 121.7h0.55M264.4 136.9h0.55M277.6 134.7h0.55M276.5 131.3h0.55M268.6 143.2h0.55M276.9 139.2h0.55M274.7 120.0h0.55M283.2 132.7h0.55M274.1 132.2h0.55M270.3 133.0h0.55M278.7 125.9h0.55M273.7 139.4h0.55M263.9 133.2h0.55M298.2 129.2h0.55M268.9 128.8h0.55M263.2 143.0h0.55M287.7 143.2h0.55M277.9 136.0h0.55M280.4 123.4h0.55M297.3 131.0h0.55M287.1 120.6h0.55M273.5 128.8h0.55M279.7 134.3h0.55M272.1 120.8h0.55M286.7 129.8h0.55M276.0 137.3h0.55M267.8 133.2h0.55M288.2 134.5h0.55M278.6 126.0h0.55M280.8 129.5h0.55M275.4 141.7h0.55M259.7 137.8h0.55M293.5 130.6h0.55M270.4 115.7h0.55M280.7 126.2h0.55M277.4 136.1h0.55M274.0 126.5h0.55M275.4 139.9h0.55M291.1 127.5h0.55M287.6 134.4h0.55M281.3 137.4h0.55M275.9 142.1h0.55M260.3 147.9h0.55M262.0 134.5h0.55M293.0 138.2h0.55M289.3 153.4h0.55M288.4 129.2h0.55M284.8 130.9h0.55M274.3 133.4h0.55M289.0 126.1h0.55M288.4 130.3h0.55M276.9 132.7h0.55M292.8 129.4h0.55M272.3 126.5h0.55M275.7 127.0h0.55M298.3 121.8h0.55M269.9 128.3h0.55M276.0 124.3h0.55M281.5 113.7h0.55M265.8 126.4h0.55M272.2 143.5h0.55M285.3 112.2h0.55M290.6 135.6h0.55M278.4 135.5h0.55M272.3 127.1h0.55M272.1 129.7h0.55M287.6 138.6h0.55M264.3 136.5h0.55M290.2 139.4h0.55M278.9 118.6h0.55M279.5 126.4h0.55M273.3 129.4h0.55M281.2 132.6h0.55M253.4 148.9h0.55" stroke="#3a3a3a" stroke-width="0.55" fill="none" opacity="1.0"/>
<path d="M256.9 153.9h0.6M274.4 150.6h0.6M270.4 156.4h0.6M261.3 159.2h0.6M268.3 150.3h0.6M262.2 155.9h0.6M262.5 162.2h0.6M265.1 155.9h0.6M263.7 165.2h0.6M270.5 153.5h0.6M267.1 162.7h0.6M260.8 156.8h0.6M256.9 156.7h0.6M265.1 151.8h0.6M278.8 155.6h0.6M266.6 165.2h0.6M265.6 148.3h0.6M270.5 153.8h0.6M261.8 158.9h0.6M272.0 162.7h0.6M278.3 160.5h0.6M258.8 163.7h0.6M275.2 155.7h0.6M275.9 148.4h0.6M272.1 151.5h0.6M252.3 154.4h0.6M260.3 154.3h0.6M272.8 151.0h0.6M259.9 149.4h0.6M263.3 150.2h0.6M264.0 158.8h0.6M258.4 161.3h0.6M266.5 156.2h0.6M261.2 145.2h0.6M269.1 161.2h0.6M248.6 157.5h0.6M257.3 152.3h0.6M274.5 155.0h0.6M273.9 151.3h0.6M252.4 155.4h0.6M258.8 154.7h0.6M258.2 150.6h0.6M261.3 159.4h0.6M263.7 160.9h0.6M256.5 154.3h0.6M253.6 154.0h0.6M279.7 156.7h0.6M268.2 152.4h0.6M267.3 148.2h0.6M284.1 143.5h0.6M271.7 153.9h0.6M266.4 154.8h0.6M274.0 154.5h0.6M268.5 153.7h0.6M279.6 155.0h0.6M266.6 159.1h0.6M276.6 153.1h0.6M261.7 148.9h0.6M264.4 158.1h0.6M283.1 149.8h0.6M265.7 150.8h0.6M265.7 155.1h0.6M271.3 156.4h0.6M248.8 162.0h0.6M263.7 158.9h0.6M270.1 153.6h0.6M274.0 153.0h0.6M257.7 151.6h0.6M259.4 159.5h0.6M271.3 152.6h0.6M268.8 159.6h0.6M271.9 155.0h0.6M260.8 158.1h0.6M272.5 155.2h0.6M280.5 155.6h0.6M275.8 151.9h0.6M261.8 162.3h0.6M259.4 154.6h0.6M272.0 149.9h0.6M267.4 156.1h0.6M273.8 146.7h0.6M262.7 151.8h0.6M252.1 154.5h0.6M267.8 163.3h0.6M262.2 157.1h0.6M258.3 168.5h0.6M282.8 150.4h0.6M253.6 152.9h0.6M267.4 154.2h0.6M256.8 152.0h0.6M258.4 154.6h0.6M275.2 158.4h0.6M280.9 157.8h0.6M276.9 168.4h0.6M268.4 153.4h0.6M252.9 148.6h0.6M272.5 156.7h0.6M264.7 168.7h0.6M271.7 151.3h0.6M268.0 164.1h0.6M253.7 151.3h0.6M267.7 151.2h0.6M270.4 162.9h0.6M266.9 158.8h0.6M263.9 155.7h0.6M291.1 150.8h0.6M267.8 153.7h0.6M264.0 160.9h0.6M265.8 163.8h0.6M261.4 157.0h0.6M277.4 151.5h0.6M258.0 152.5h0.6M265.8 163.4h0.6M263.3 160.6h0.6M261.6 156.6h0.6M253.8 147.3h0.6M270.0 152.5h0.6M271.4 154.6h0.6M262.2 158.4h0.6M267.8 150.5h0.6M254.4 150.8h0.6M265.2 159.6h0.6M269.3 155.2h0.6M263.3 138.2h0.6M253.1 165.2h0.6M256.6 159.3h0.6M271.5 152.2h0.6M254.5 162.2h0.6M268.5 153.4h0.6M253.0 165.5h0.6M253.7 154.2h0.6M257.9 154.7h0.6M261.2 150.8h0.6M273.9 155.6h0.6M257.4 152.4h0.6M277.1 156.2h0.6M270.9 157.2h0.6M274.0 153.7h0.6M266.0 151.7h0.6M250.0 160.5h0.6M269.0 158.0h0.6M269.5 153.4h0.6M261.2 151.5h0.6M273.0 149.9h0.6M253.1 159.0h0.6M271.2 161.0h0.6M260.4 156.3h0.6M278.2 146.2h0.6M270.5 157.5h0.6M266.6 147.5h0.6M267.5 159.5h0.6M280.8 160.4h0.6M260.3 155.4h0.6M251.1 155.0h0.6M264.5 157.3h0.6M269.7 163.8h0.6M266.0 157.8h0.6M255.7 158.7h0.6M263.7 151.5h0.6M250.4 144.1h0.6M263.4 149.7h0.6M268.2 157.4h0.6M262.1 164.2h0.6M255.9 155.8h0.6M253.4 159.1h0.6M250.6 158.6h0.6M254.3 161.6h0.6M264.5 163.6h0.6M256.5 161.4h0.6M274.2 154.6h0.6M260.4 151.7h0.6M270.1 155.5h0.6M265.8 147.9h0.6M269.0 150.0h0.6M264.7 153.4h0.6M262.6 152.2h0.6M259.9 154.8h0.6M265.3 163.6h0.6M269.5 157.6h0.6M256.0 155.4h0.6M257.5 154.0h0.6M276.2 155.9h0.6M272.3 156.3h0.6M258.9 144.5h0.6M258.0 164.4h0.6M282.8 158.9h0.6M263.1 155.3h0.6M268.2 151.8h0.6M280.6 165.7h0.6M255.3 160.7h0.6M260.2 162.5h0.6M268.4 159.3h0.6M267.9 150.1h0.6M264.9 146.6h0.6M259.3 150.0h0.6M268.3 160.1h0.6M274.1 152.5h0.6M260.7 149.3h0.6M258.2 157.1h0.6M268.1 153.2h0.6M275.0 163.6h0.6M265.7 147.0h0.6M259.4 165.8h0.6M265.9 149.3h0.6M281.8 153.9h0.6M261.6 152.5h0.6M265.9 153.4h0.6M268.4 155.1h0.6M269.0 161.6h0.6M277.6 150.4h0.6M273.9 153.8h0.6M276.7 154.0h0.6M289.5 159.7h0.6M274.3 162.0h0.6M261.9 156.6h0.6M261.3 157.1h0.6M279.5 153.0h0.6M245.2 155.5h0.6M259.0 154.9h0.6M272.8 164.2h0.6M277.1 157.9h0.6M272.6 158.7h0.6M266.9 156.8h0.6M251.0 156.4h0.6M274.8 162.9h0.6M260.3 139.9h0.6M269.9 162.8h0.6M269.4 162.0h0.6M269.2 158.6h0.6M260.3 154.5h0.6M268.1 158.8h0.6M262.4 166.4h0.6M268.4 148.8h0.6M258.8 157.2h0.6M268.0 156.3h0.6M267.1 163.9h0.6M264.0 162.8h0.6M267.3 161.0h0.6M274.3 151.6h0.6M275.8 144.0h0.6M267.7 162.8h0.6M271.7 156.7h0.6M265.5 149.3h0.6M270.5 159.1h0.6M262.8 162.4h0.6M265.9 154.6h0.6M264.5 153.6h0.6M267.9 151.5h0.6M257.4 155.0h0.6M282.9 144.5h0.6M256.8 155.0h0.6M258.8 159.0h0.6M264.5 158.3h0.6M266.5 156.0h0.6M259.3 166.6h0.6M266.0 150.3h0.6M255.3 136.5h0.6M274.5 163.4h0.6M269.4 153.2h0.6M260.8 158.1h0.6M275.1 168.2h0.6M263.8 156.3h0.6M266.0 161.7h0.6M260.5 160.1h0.6M257.6 162.0h0.6M282.7 148.6h0.6M248.9 150.4h0.6M256.7 158.6h0.6M270.0 152.7h0.6M256.0 156.0h0.6M259.6 151.8h0.6M266.7 149.0h0.6M268.2 147.4h0.6M263.1 157.7h0.6M253.3 164.6h0.6M264.0 145.5h0.6M260.5 150.6h0.6M260.8 149.7h0.6M267.6 153.8h0.6M250.7 149.6h0.6M259.2 160.1h0.6M250.6 148.3h0.6M271.3 155.7h0.6M260.1 145.2h0.6M263.9 153.0h0.6M249.9 155.6h0.6M263.5 149.1h0.6M259.0 149.2h0.6M282.5 151.0h0.6M278.7 162.8h0.6M278.6 161.4h0.6M256.6 154.1h0.6M259.3 153.6h0.6M272.6 161.1h0.6M271.1 158.0h0.6M284.0 158.4h0.6M267.8 158.0h0.6M269.0 156.1h0.6M269.2 150.4h0.6M265.9 151.5h0.6M269.8 154.0h0.6M265.5 160.4h0.6M267.4 165.0h0.6M263.8 158.7h0.6M269.7 152.8h0.6M267.8 155.8h0.6M272.2 150.8h0.6M258.9 157.8h0.6M266.2 148.3h0.6M269.5 156.9h0.6M266.5 154.5h0.6M260.7 159.8h0.6M261.1 160.2h0.6M260.7 158.0h0.6M255.6 160.8h0.6M259.7 157.4h0.6M267.5 157.0h0.6M261.7 148.0h0.6M257.7 148.7h0.6M249.3 159.1h0.6M261.4 158.6h0.6M266.6 153.3h0.6M259.4 158.8h0.6M266.9 158.5h0.6M272.9 154.3h0.6M267.0 155.5h0.6M267.7 156.9h0.6M249.4 155.7h0.6M272.8 163.9h0.6M258.6 154.0h0.6M259.6 156.2h0.6M255.8 158.2h0.6M265.9 160.5h0.6M276.0 157.9h0.6M254.2 159.3h0.6M257.6 158.4h0.6M258.6 150.3h0.6M269.5 153.5h0.6M261.9 156.2h0.6M269.2 152.7h0.6M267.2 154.7h0.6M275.9 165.2h0.6M262.5 151.8h0.6M254.3 166.1h0.6M278.4 160.2h0.6M259.2 154.3h0.6M268.0 166.8h0.6M248.7 158.7h0.6M268.6 162.5h0.6M271.3 155.1h0.6M266.4 154.1h0.6M263.1 151.5h0.6M264.3 161.7h0.6M279.1 160.0h0.6M259.2 155.8h0.6M263.5 153.8h0.6M268.4 146.2h0.6M263.0 153.6h0.6M278.3 161.1h0.6M264.7 152.4h0.6M255.0 155.5h0.6M270.5 163.1h0.6M255.7 155.8h0.6M269.3 159.0h0.6M253.8 159.0h0.6M265.1 156.6h0.6M263.1 161.6h0.6M272.8 160.6h0.6M256.8 158.5h0.6M262.5 159.8h0.6M273.4 154.6h0.6M255.2 156.9h0.6M267.9 150.3h0.6M265.3 153.9h0.6M272.8 152.2h0.6M260.7 151.0h0.6M267.5 159.9h0.6M266.3 161.0h0.6M261.4 150.6h0.6M258.9 156.7h0.6M281.2 159.2h0.6M268.1 157.7h0.6M246.8 162.5h0.6M271.1 154.4h0.6M276.8 157.4h0.6M273.7 150.8h0.6M264.0 154.1h0.6M269.4 147.7h0.6M262.7 160.4h0.6M273.3 155.7h0.6M270.5 160.5h0.6M273.3 157.5h0.6M258.0 159.4h0.6M259.9 153.4h0.6M250.9 161.1h0.6M258.7 154.1h0.6M262.7 153.0h0.6M265.2 157.2h0.6M270.8 154.6h0.6M272.2 161.1h0.6M257.3 155.4h0.6M259.6 151.9h0.6M249.1 159.2h0.6M253.7 162.9h0.6M269.0 154.0h0.6M264.9 144.1h0.6M265.2 157.6h0.6M272.2 155.1h0.6M255.6 151.7h0.6M261.5 153.9h0.6M257.7 151.9h0.6M256.0 152.8h0.6M268.9 155.6h0.6M263.1 158.3h0.6M276.4 161.4h0.6M261.5 158.9h0.6M272.2 159.0h0.6M284.9 154.5h0.6M262.6 158.6h0.6M260.7 152.6h0.6M260.0 159.1h0.6M264.4 155.3h0.6M269.9 150.8h0.6M280.4 154.9h0.6M255.6 153.6h0.6M264.1 157.2h0.6M262.5 145.1h0.6M250.6 160.3h0.6M277.9 167.4h0.6M269.7 152.0h0.6M276.6 153.3h0.6M284.7 151.0h0.6M260.8 158.6h0.6M262.2 158.5h0.6M267.3 154.9h0.6M259.9 143.4h0.6M267.8 157.5h0.6M258.6 155.3h0.6M277.3 151.1h0.6M260.6 148.1h0.6M267.5 147.9h0.6M260.2 151.0h0.6M265.6 160.7h0.6M261.5 147.2h0.6M273.2 154.8h0.6M261.7 151.3h0.6M268.1 160.1h0.6M253.9 159.7h0.6M259.5 155.8h0.6M247.8 166.5h0.6M260.6 150.9h0.6M244.2 156.1h0.6M270.0 156.9h0.6M256.5 152.6h0.6M259.2 157.4h0.6M257.3 160.0h0.6M265.7 156.2h0.6M267.4 157.9h0.6M263.6 160.6h0.6M272.6 153.4h0.6M262.4 162.9h0.6M252.4 163.8h0.6M271.6 162.4h0.6M255.2 159.6h0.6M265.6 149.8h0.6M244.1 159.9h0.6M270.7 150.8h0.6M249.1 159.6h0.6M279.9 151.2h0.6M258.0 149.7h0.6M266.3 148.9h0.6M285.7 158.5h0.6M267.7 146.7h0.6M271.9 161.6h0.6M273.0 153.7h0.6M258.1 149.3h0.6M265.9 139.3h0.6M273.2 157.2h0.6M274.3 162.9h0.6M262.0 162.7h0.6M265.5 165.3h0.6M273.9 150.1h0.6M269.8 158.6h0.6M266.7 149.5h0.6M276.2 159.9h0.6M276.8 157.0h0.6M259.2 151.1h0.6M268.5 159.0h0.6M262.8 156.5h0.6M261.1 160.0h0.6M272.3 158.2h0.6M260.8 157.5h0.6M268.5 153.5h0.6M274.6 154.5h0.6M264.9 152.9h0.6M277.6 166.7h0.6M269.0 156.8h0.6M254.3 148.0h0.6M259.6 155.3h0.6M263.1 150.1h0.6M265.8 157.4h0.6M273.1 152.1h0.6M254.1 155.5h0.6M251.0 146.6h0.6M264.1 155.3h0.6M261.7 158.3h0.6M267.6 154.3h0.6M260.1 160.7h0.6M269.3 163.5h0.6M270.5 158.8h0.6M267.7 150.7h0.6M266.1 157.4h0.6M271.5 157.4h0.6M270.6 159.0h0.6M267.8 155.5h0.6M263.1 160.5h0.6M275.5 149.7h0.6M274.5 162.5h0.6M268.4 150.5h0.6M278.1 162.0h0.6M265.6 160.6h0.6M262.5 156.4h0.6M263.7 160.0h0.6M269.3 157.3h0.6M273.5 153.8h0.6M263.3 147.6h0.6M266.6 159.1h0.6M257.8 160.1h0.6M265.2 159.7h0.6M267.9 150.2h0.6M261.3 156.2h0.6M274.8 152.7h0.6M277.9 148.2h0.6M264.0 152.5h0.6M267.6 156.5h0.6M268.9 159.5h0.6M266.8 151.4h0.6M270.6 157.3h0.6M246.6 153.9h0.6M267.1 157.3h0.6M250.5 159.0h0.6M266.7 151.0h0.6M255.0 151.9h0.6M274.5 167.5h0.6M270.3 153.0h0.6M253.1 149.4h0.6M270.5 153.2h0.6M264.8 159.2h0.6M272.1 152.1h0.6M272.9 159.9h0.6M258.1 155.4h0.6M256.6 160.7h0.6M257.3 153.8h0.6M263.2 162.8h0.6M269.0 155.6h0.6M269.0 158.6h0.6M262.5 159.8h0.6M260.6 152.7h0.6M264.3 157.8h0.6M261.3 151.5h0.6M255.2 158.2h0.6M262.8 162.6h0.6M263.5 159.4h0.6M274.7 158.8h0.6M270.3 154.2h0.6M266.8 167.0h0.6M267.2 147.6h0.6M270.4 148.9h0.6M281.3 165.6h0.6M282.2 146.0h0.6M266.8 139.5h0.6M281.9 161.2h0.6M257.2 163.9h0.6M253.5 159.9h0.6M274.3 164.1h0.6M265.6 157.5h0.6M267.9 158.8h0.6M264.9 160.3h0.6M273.4 160.5h0.6M260.8 164.0h0.6M259.5 152.8h0.6M269.7 149.3h0.6M267.1 164.5h0.6M268.6 149.9h0.6M267.6 156.4h0.6M260.7 154.2h0.6M273.5 161.0h0.6M265.7 158.1h0.6M264.4 159.6h0.6M260.5 164.6h0.6M272.5 159.4h0.6M257.1 160.1h0.6M268.0 146.4h0.6M259.8 155.6h0.6M255.3 153.8h0.6M275.5 165.6h0.6M272.2 152.6h0.6M257.4 156.2h0.6M265.9 150.4h0.6M265.7 157.6h0.6M263.2 154.4h0.6M275.7 155.6h0.6M267.4 148.8h0.6M269.6 148.5h0.6M267.1 147.0h0.6M267.4 154.8h0.6M265.1 150.2h0.6M270.7 151.9h0.6M254.8 161.7h0.6M269.2 165.1h0.6M259.7 151.9h0.6M267.2 165.0h0.6M275.3 159.4h0.6M270.9 153.9h0.6M262.2 157.2h0.6M262.0 155.0h0.6M263.0 153.9h0.6M256.9 153.5h0.6M254.6 160.6h0.6M261.6 150.8h0.6M269.3 154.0h0.6M281.2 148.3h0.6M276.9 158.8h0.6M268.7 154.5h0.6M251.5 153.9h0.6M265.8 150.3h0.6M273.8 150.5h0.6M257.7 154.1h0.6M267.8 152.0h0.6M264.5 164.9h0.6M270.3 157.9h0.6M258.0 162.6h0.6M265.4 162.3h0.6M262.7 151.1h0.6M274.7 151.2h0.6M265.3 160.8h0.6M269.1 148.1h0.6M267.9 165.9h0.6M273.0 151.4h0.6M279.1 158.1h0.6M255.8 165.3h0.6M259.8 161.6h0.6M273.1 160.0h0.6M265.9 161.3h0.6M257.0 156.7h0.6M250.4 160.2h0.6M256.5 164.9h0.6M256.4 151.6h0.6M261.6 162.9h0.6M269.6 158.7h0.6M276.7 149.3h0.6M272.4 157.3h0.6M251.9 151.7h0.6M272.8 150.2h0.6M267.1 154.3h0.6M257.8 151.5h0.6M254.0 154.1h0.6M287.0 149.9h0.6M260.4 156.1h0.6M267.3 156.0h0.6M254.9 151.0h0.6M259.3 152.5h0.6M261.8 158.3h0.6M265.3 160.4h0.6M260.3 163.0h0.6M262.2 156.5h0.6M265.2 161.3h0.6M249.8 152.5h0.6M260.9 159.8h0.6M268.8 157.5h0.6M278.2 159.1h0.6M275.5 156.9h0.6M270.8 151.1h0.6M274.0 151.5h0.6M272.8 159.6h0.6M257.0 156.6h0.6M264.9 154.5h0.6M259.4 161.6h0.6M257.5 156.7h0.6M265.5 149.1h0.6M269.4 155.9h0.6M261.6 154.2h0.6M259.6 153.1h0.6M254.7 161.1h0.6M271.9 154.1h0.6M254.5 146.3h0.6M255.2 166.5h0.6M257.4 153.3h0.6M261.9 146.0h0.6M260.5 155.1h0.6M268.8 156.0h0.6M269.3 154.8h0.6M256.5 158.3h0.6" stroke="#333" stroke-width="0.6" fill="none" opacity="1.0"/>
<path d="M250.30 158.25 C250.30 153.54 252.84 151.00 257.55 150.73 L272.62 147.43 C277.70 147.05 280.60 149.38 280.60 154.09 C280.60 161.51 276.61 165.50 270.81 165.50 L257.55 165.50 C252.84 165.50 250.30 162.96 250.30 158.25Z" transform="translate(265.45 156.35) scale(1.020 1.033) translate(-265.45 -156.35)" fill="#3a3a3a" opacity="0.8" filter="url(#b1)"/>
<path d="M250.30 158.25 C250.30 153.54 252.84 151.00 257.55 150.73 L272.62 147.43 C277.70 147.05 280.60 149.38 280.60 154.09 C280.60 161.51 276.61 165.50 270.81 165.50 L257.55 165.50 C252.84 165.50 250.30 162.96 250.30 158.25Z" transform="translate(265.45 156.35) scale(1.040 1.066) translate(-265.45 -156.35)" fill="none" stroke="#2a2a2a" stroke-width="1.5" stroke-dasharray="0.5 0.6"/>
<path d="M250.30 158.25 C250.30 153.54 252.84 151.00 257.55 150.73 L272.62 147.43 C277.70 147.05 280.60 149.38 280.60 154.09 C280.60 161.51 276.61 165.50 270.81 165.50 L257.55 165.50 C252.84 165.50 250.30 162.96 250.30 158.25Z" transform="translate(265.45 156.35) scale(0.980 0.967) translate(-265.45 -156.35)" fill="#1e1e1e" opacity="1" filter="url(#b05)"/>
<path d="M250.30 158.25 C250.30 153.54 252.84 151.00 257.55 150.73 L272.62 147.43 C277.70 147.05 280.60 149.38 280.60 154.09 C280.60 161.51 276.61 165.50 270.81 165.50 L257.55 165.50 C252.84 165.50 250.30 162.96 250.30 158.25Z" transform="translate(264.30 156.50) scale(0.766 0.743) translate(-265.45 -156.35)" fill="#7a7a7a" opacity="1" filter="url(#b05)"/>
<path d="M250.30 158.25 C250.30 153.54 252.84 151.00 257.55 150.73 L272.62 147.43 C277.70 147.05 280.60 149.38 280.60 154.09 C280.60 161.51 276.61 165.50 270.81 165.50 L257.55 165.50 C252.84 165.50 250.30 162.96 250.30 158.25Z" transform="translate(264.30 156.50) scale(0.673 0.601) translate(-265.45 -156.35)" fill="#d8d8d8" opacity="1" filter="url(#b05)"/>
<path d="M250.30 158.25 C250.30 153.54 252.84 151.00 257.55 150.73 L272.62 147.43 C277.70 147.05 280.60 149.38 280.60 154.09 C280.60 161.51 276.61 165.50 270.81 165.50 L257.55 165.50 C252.84 165.50 250.30 162.96 250.30 158.25Z" transform="translate(264.50 156.40) scale(0.417 0.349) translate(-265.45 -156.35)" fill="#b4b4b4" opacity="1" filter="url(#b05)"/>
<ellipse cx="264.7" cy="156.3" rx="3.5" ry="1.4" fill="#444" filter="url(#b05)" transform="rotate(-10 264.7 156.3)"/>
<text x="244.2" y="111.89999999999999" font-size="5.6" text-anchor="start" font-weight="normal" fill="#222" stroke="#222" stroke-width="0" >1.38</text>
<text x="305.4" y="111.89999999999999" font-size="5.6" text-anchor="end" font-weight="normal" fill="#222" stroke="#222" stroke-width="0" >0.17</text>
<text x="244.2" y="168.10000000000002" font-size="5.6" text-anchor="start" font-weight="normal" fill="#222" stroke="#222" stroke-width="0" >98.4</text>
<text x="305.4" y="168.10000000000002" font-size="5.6" text-anchor="end" font-weight="normal" fill="#222" stroke="#222" stroke-width="0" >0.016</text>
<line x1="241.7" y1="110.3" x2="243.0" y2="110.3" stroke="#666" stroke-width="0.5"/>
<text x="240.8" y="111.9" font-size="3.4" text-anchor="end" fill="#555">10<tspan font-size="2.4" dy="-1.4">5</tspan></text>
<line x1="241.7" y1="124.1" x2="243.0" y2="124.1" stroke="#666" stroke-width="0.5"/>
<text x="240.8" y="125.7" font-size="3.4" text-anchor="end" fill="#555">10<tspan font-size="2.4" dy="-1.4">4</tspan></text>
<line x1="241.7" y1="138.3" x2="243.0" y2="138.3" stroke="#666" stroke-width="0.5"/>
<text x="240.8" y="139.9" font-size="3.4" text-anchor="end" fill="#555">10<tspan font-size="2.4" dy="-1.4">3</tspan></text>
<line x1="241.7" y1="152.1" x2="243.0" y2="152.1" stroke="#666" stroke-width="0.5"/>
<text x="240.8" y="153.7" font-size="3.4" text-anchor="end" fill="#555">10<tspan font-size="2.4" dy="-1.4">2</tspan></text>
<line x1="241.7" y1="160.8" x2="243.0" y2="160.8" stroke="#666" stroke-width="0.5"/>
<text x="240.4" y="162.0" font-size="3.4" text-anchor="end" font-weight="normal" fill="#555" stroke="#555" stroke-width="0" >0</text>
<line x1="257.0" y1="169.3" x2="257.0" y2="170.60000000000002" stroke="#666" stroke-width="0.5"/>
<text x="257.0" y="174.5" font-size="3.4" text-anchor="middle" font-weight="normal" fill="#555" stroke="#555" stroke-width="0" >0</text>
<line x1="272.5" y1="169.3" x2="272.5" y2="170.60000000000002" stroke="#666" stroke-width="0.5"/>
<text x="272.5" y="174.9" font-size="3.4" text-anchor="middle" fill="#555">10<tspan font-size="2.4" dy="-1.4">3</tspan></text>
<line x1="287.0" y1="169.3" x2="287.0" y2="170.60000000000002" stroke="#666" stroke-width="0.5"/>
<text x="287.0" y="174.9" font-size="3.4" text-anchor="middle" fill="#555">10<tspan font-size="2.4" dy="-1.4">4</tspan></text>
<line x1="301.0" y1="169.3" x2="301.0" y2="170.60000000000002" stroke="#666" stroke-width="0.5"/>
<text x="301.0" y="174.9" font-size="3.4" text-anchor="middle" fill="#555">10<tspan font-size="2.4" dy="-1.4">5</tspan></text>
<line x1="244.0" y1="170.60000000000002" x2="251.5" y2="170.60000000000002" stroke="#333" stroke-width="0.9"/>
<rect x="324.1" y="106.3" width="63.2" height="63" fill="#fff" stroke="#909090" stroke-width="0.8"/>
<line x1="365.40000000000003" y1="106.3" x2="365.40000000000003" y2="169.3" stroke="#aaa" stroke-width="0.7"/>
<line x1="324.1" y1="146.1" x2="387.3" y2="146.1" stroke="#aaa" stroke-width="0.7"/>
<ellipse cx="360" cy="127.3" rx="12" ry="7" fill="#222" opacity="0.66" filter="url(#b2)" transform="rotate(-23 360 127.3)"/>
<path d="M361.6 126.6h0.6M351.1 139.7h0.6M365.3 129.8h0.6M356.0 119.6h0.6M352.7 136.7h0.6M374.4 107.4h0.6M371.5 125.2h0.6M361.0 127.1h0.6M368.1 127.1h0.6M367.6 121.7h0.6M360.6 125.9h0.6M351.2 129.4h0.6M355.6 132.5h0.6M364.0 136.9h0.6M360.6 123.7h0.6M370.2 123.2h0.6M355.1 127.1h0.6M367.1 120.7h0.6M360.2 131.8h0.6M379.2 129.5h0.6M363.4 132.8h0.6M360.0 123.2h0.6M357.2 128.6h0.6M363.4 124.3h0.6M358.9 129.8h0.6M366.1 136.6h0.6M367.5 126.9h0.6M373.1 120.0h0.6M375.8 127.2h0.6M378.0 126.8h0.6M360.8 136.8h0.6M365.8 128.2h0.6M357.7 130.5h0.6M334.2 128.4h0.6M366.3 124.1h0.6M356.2 132.9h0.6M370.5 128.4h0.6M354.9 136.2h0.6M362.8 128.2h0.6M371.7 127.9h0.6M369.2 125.7h0.6M352.3 129.2h0.6M364.7 117.9h0.6M354.9 125.5h0.6M352.4 129.9h0.6M357.2 122.2h0.6M360.8 121.4h0.6M370.3 125.1h0.6M352.8 131.9h0.6M348.6 133.0h0.6M347.2 135.0h0.6M366.2 115.6h0.6M358.2 132.0h0.6M362.5 122.9h0.6M369.0 126.5h0.6M352.8 138.4h0.6M347.4 129.0h0.6M356.6 118.7h0.6M360.0 129.6h0.6M365.7 117.0h0.6M362.7 128.4h0.6M350.6 121.9h0.6M354.2 130.1h0.6M358.4 130.8h0.6M353.4 127.4h0.6M354.1 125.7h0.6M342.8 129.9h0.6M354.9 126.0h0.6M345.6 129.0h0.6M363.0 132.1h0.6M352.6 128.2h0.6M353.6 130.6h0.6M357.8 136.5h0.6M365.9 129.6h0.6M359.2 127.6h0.6M373.6 122.8h0.6M375.2 123.9h0.6M361.2 124.2h0.6M350.1 111.8h0.6M369.3 123.4h0.6M355.0 130.2h0.6M343.2 132.4h0.6M352.4 135.6h0.6M370.3 121.2h0.6M373.8 123.5h0.6M364.5 123.6h0.6M359.9 124.2h0.6M362.5 119.2h0.6M361.2 133.3h0.6M357.0 112.7h0.6M353.2 130.8h0.6M368.1 123.2h0.6M369.4 130.2h0.6M349.4 130.6h0.6M366.4 122.2h0.6M367.5 132.1h0.6M356.5 130.3h0.6M357.5 136.7h0.6M366.8 110.1h0.6M357.7 117.2h0.6M346.4 132.6h0.6M384.0 112.5h0.6M357.7 131.4h0.6M362.3 128.3h0.6M370.2 124.0h0.6M349.2 129.4h0.6M355.3 123.9h0.6M354.8 127.2h0.6M360.8 120.2h0.6M363.2 123.6h0.6M353.2 126.4h0.6M367.8 123.2h0.6M353.3 125.2h0.6M359.3 121.9h0.6M357.7 132.3h0.6M365.5 116.0h0.6M364.6 133.2h0.6M365.6 120.4h0.6M360.5 124.9h0.6M356.2 135.1h0.6M365.8 126.1h0.6M369.5 129.4h0.6M362.3 127.6h0.6M359.2 117.0h0.6M357.7 127.8h0.6M342.3 139.6h0.6M361.3 127.4h0.6M360.2 132.7h0.6M364.8 123.1h0.6M349.4 137.9h0.6M372.8 126.1h0.6M366.9 123.5h0.6M359.5 129.8h0.6M354.1 117.2h0.6M349.3 138.8h0.6M347.5 125.6h0.6M368.7 130.6h0.6M356.0 127.5h0.6M347.8 125.6h0.6M346.9 129.6h0.6M360.5 120.9h0.6M347.4 133.5h0.6M361.9 125.9h0.6M366.4 124.5h0.6M367.6 121.4h0.6M354.4 124.8h0.6M361.6 128.0h0.6M356.1 131.6h0.6M365.6 125.8h0.6M351.6 133.3h0.6M347.4 126.1h0.6M360.2 129.6h0.6M360.5 126.9h0.6M366.3 130.4h0.6M356.1 131.6h0.6M361.8 126.7h0.6M369.8 115.8h0.6M366.6 132.3h0.6M378.9 121.9h0.6M358.8 125.0h0.6M347.6 133.7h0.6M369.9 123.4h0.6M355.9 129.2h0.6M361.4 127.8h0.6M374.3 125.8h0.6M371.6 121.3h0.6M364.3 117.8h0.6M355.4 129.7h0.6M353.3 128.0h0.6M356.8 126.8h0.6M362.9 115.8h0.6M376.3 115.1h0.6M335.3 142.9h0.6M365.6 131.7h0.6M355.1 138.6h0.6M355.3 133.6h0.6M362.4 128.0h0.6M383.5 107.8h0.6M374.4 132.5h0.6M358.4 125.1h0.6M360.9 115.4h0.6M363.0 123.5h0.6M357.8 122.1h0.6M347.8 121.9h0.6M349.0 130.5h0.6M357.0 139.9h0.6M347.5 134.0h0.6M350.9 127.8h0.6M362.0 125.6h0.6M371.9 127.2h0.6M359.2 121.5h0.6M356.0 136.1h0.6M365.1 139.6h0.6M369.4 114.2h0.6M357.8 123.2h0.6M363.5 130.2h0.6M355.4 132.4h0.6M352.2 131.7h0.6M362.8 122.7h0.6M366.7 133.4h0.6M355.7 122.5h0.6M360.8 123.3h0.6M361.2 134.2h0.6M356.7 122.7h0.6M367.8 122.0h0.6M362.3 119.4h0.6M360.6 120.0h0.6M356.1 125.8h0.6M352.3 130.5h0.6M350.9 130.2h0.6M362.8 139.2h0.6M358.4 128.7h0.6M352.7 117.7h0.6M359.4 116.0h0.6M362.7 126.2h0.6M357.7 123.0h0.6M374.6 117.9h0.6M361.3 129.8h0.6M356.3 125.4h0.6M370.4 117.9h0.6M355.9 128.7h0.6M347.1 130.0h0.6M351.2 125.9h0.6M335.0 129.3h0.6M365.5 124.5h0.6M374.4 127.0h0.6M350.9 134.5h0.6M368.1 138.3h0.6M359.9 120.2h0.6M367.4 132.4h0.6M361.5 129.7h0.6M357.9 125.6h0.6M362.1 142.3h0.6M355.8 129.4h0.6M357.1 123.4h0.6M361.7 126.9h0.6M369.4 128.9h0.6M358.5 123.1h0.6M366.2 128.3h0.6M349.0 126.9h0.6M360.2 117.3h0.6M360.4 130.9h0.6M362.1 132.8h0.6M368.1 128.2h0.6M351.4 135.6h0.6M351.3 131.4h0.6M354.0 131.7h0.6M357.1 132.4h0.6M358.9 124.9h0.6M353.6 133.4h0.6M374.9 124.6h0.6M340.8 141.2h0.6M361.2 133.7h0.6M365.6 119.7h0.6M355.4 121.9h0.6M364.8 122.0h0.6M365.6 117.9h0.6M360.4 125.6h0.6M366.4 121.1h0.6M358.8 129.9h0.6M354.9 132.5h0.6M368.6 125.5h0.6M368.4 122.8h0.6M345.5 124.7h0.6M364.6 131.4h0.6M358.4 119.8h0.6M355.0 126.5h0.6M351.2 125.9h0.6M375.8 124.5h0.6M367.4 124.1h0.6M357.5 125.9h0.6M377.0 120.8h0.6M364.8 116.8h0.6M353.6 119.8h0.6M357.1 117.2h0.6M357.2 132.6h0.6M359.3 121.7h0.6M365.7 130.1h0.6M358.3 130.7h0.6M370.9 125.8h0.6M363.9 133.3h0.6M353.3 128.2h0.6M360.3 129.0h0.6M361.4 128.5h0.6M342.4 127.5h0.6M349.4 130.4h0.6M363.7 123.8h0.6M351.0 136.5h0.6M361.8 133.7h0.6M369.7 129.6h0.6M356.3 121.6h0.6M364.0 121.3h0.6M349.5 129.7h0.6M368.7 126.5h0.6M359.0 136.1h0.6M348.2 132.4h0.6M361.4 128.4h0.6M379.5 119.9h0.6M359.8 123.7h0.6M361.5 125.9h0.6M365.4 117.3h0.6M375.6 138.8h0.6M356.4 140.4h0.6M344.1 136.1h0.6M355.1 131.8h0.6M352.6 135.1h0.6M368.2 128.8h0.6M353.7 134.6h0.6M364.8 124.1h0.6M354.2 129.4h0.6M367.6 131.5h0.6M348.5 131.7h0.6M353.0 126.8h0.6M344.7 131.1h0.6M366.3 122.3h0.6M372.4 121.2h0.6M360.9 126.4h0.6M348.7 129.9h0.6M381.3 120.4h0.6M361.4 129.8h0.6M373.5 123.8h0.6M367.4 131.1h0.6M347.1 120.9h0.6M354.4 132.7h0.6M358.3 116.0h0.6M355.5 134.3h0.6M360.1 129.9h0.6M358.5 127.8h0.6M346.1 127.7h0.6M353.7 131.5h0.6M362.0 132.8h0.6M334.9 139.5h0.6M348.2 139.0h0.6M350.0 131.7h0.6M345.3 130.7h0.6M342.3 124.2h0.6M348.2 132.3h0.6M355.5 136.8h0.6M357.0 135.6h0.6M354.7 133.2h0.6M361.1 123.6h0.6M363.5 129.5h0.6M369.3 122.1h0.6M364.9 127.6h0.6M352.2 131.1h0.6M351.7 142.4h0.6M374.8 122.6h0.6M362.6 121.9h0.6M348.5 130.1h0.6M366.6 131.0h0.6M344.2 125.6h0.6M365.2 119.2h0.6M358.9 123.3h0.6M369.0 129.7h0.6M351.6 132.3h0.6M363.2 128.7h0.6M368.7 117.0h0.6M358.0 135.9h0.6M365.6 117.5h0.6M353.5 118.8h0.6M366.6 126.7h0.6M361.3 130.5h0.6M351.6 113.3h0.6M350.4 128.3h0.6M358.6 132.9h0.6M352.6 121.0h0.6M353.9 122.9h0.6M362.4 128.8h0.6M378.9 120.2h0.6M345.3 144.3h0.6M363.7 130.0h0.6M355.6 133.2h0.6M359.7 128.7h0.6M357.3 115.7h0.6M355.0 130.9h0.6M338.5 136.6h0.6M371.3 114.9h0.6M355.3 132.3h0.6M351.1 124.4h0.6M344.1 124.7h0.6M353.1 133.3h0.6M353.1 124.0h0.6M359.4 121.3h0.6M351.6 132.6h0.6M362.5 119.9h0.6M365.2 133.7h0.6M357.1 141.2h0.6M361.8 133.7h0.6M350.9 130.9h0.6M352.1 123.2h0.6M363.3 128.9h0.6M349.0 117.6h0.6M361.5 133.0h0.6M363.7 124.4h0.6M353.0 128.8h0.6M363.8 134.4h0.6M361.2 120.6h0.6M363.7 116.0h0.6M361.5 126.1h0.6M357.3 137.5h0.6M362.9 122.9h0.6M368.1 128.4h0.6M354.2 123.0h0.6M363.2 115.2h0.6M354.5 143.1h0.6M361.3 137.5h0.6M365.1 133.4h0.6M352.2 138.2h0.6M346.2 128.1h0.6M367.2 128.0h0.6M355.8 138.5h0.6M356.2 135.0h0.6M366.9 119.4h0.6M346.1 133.7h0.6M338.3 137.8h0.6M338.8 135.1h0.6M349.6 130.7h0.6M357.5 127.6h0.6M364.0 125.8h0.6M367.7 119.3h0.6M354.7 122.8h0.6M352.7 122.2h0.6M355.5 136.0h0.6M369.2 124.2h0.6M353.0 130.7h0.6M368.8 128.6h0.6M371.9 124.7h0.6M362.5 120.2h0.6M357.0 126.3h0.6M363.1 132.8h0.6M357.6 129.6h0.6M358.2 126.4h0.6M365.8 127.9h0.6M359.5 124.8h0.6M338.0 133.6h0.6M355.4 123.2h0.6M352.5 127.6h0.6M358.4 119.9h0.6M360.5 139.2h0.6M373.0 116.9h0.6M359.1 138.9h0.6M344.0 137.3h0.6M359.5 121.8h0.6M347.2 125.9h0.6M361.5 132.9h0.6M375.6 113.7h0.6M363.5 123.0h0.6M367.3 112.8h0.6M361.0 129.3h0.6M348.6 135.7h0.6M349.6 124.8h0.6M373.7 113.4h0.6M360.9 129.0h0.6M351.0 128.1h0.6M370.3 125.8h0.6M361.7 125.2h0.6M361.0 123.8h0.6M370.4 113.0h0.6M358.0 131.2h0.6M361.9 127.8h0.6M353.5 127.7h0.6M357.6 135.1h0.6M360.0 117.0h0.6M362.4 128.7h0.6M349.5 140.7h0.6M375.1 114.2h0.6M355.2 136.2h0.6M353.4 127.9h0.6M354.0 126.1h0.6M366.1 130.8h0.6M357.1 127.2h0.6M357.3 118.0h0.6M352.6 126.4h0.6M367.9 124.6h0.6M369.1 129.9h0.6M360.3 121.8h0.6M371.4 122.4h0.6M350.5 122.5h0.6M359.0 121.3h0.6M346.3 140.6h0.6M353.3 130.4h0.6M354.9 120.8h0.6M346.5 128.1h0.6M353.1 135.3h0.6M355.3 132.8h0.6M351.6 121.2h0.6M359.5 136.1h0.6M356.2 129.3h0.6M359.6 124.4h0.6M361.7 130.1h0.6M364.8 120.4h0.6M368.0 120.6h0.6M345.9 133.4h0.6M354.1 129.2h0.6M365.4 130.3h0.6M359.7 130.4h0.6M350.4 144.8h0.6M367.0 131.7h0.6M372.5 126.2h0.6M345.7 121.9h0.6M352.9 126.2h0.6M357.2 121.8h0.6M366.3 124.0h0.6M365.9 134.7h0.6M375.5 115.9h0.6M351.1 132.9h0.6M358.6 140.9h0.6M350.2 138.5h0.6M351.4 131.4h0.6M354.8 121.8h0.6M362.4 126.9h0.6M356.3 125.1h0.6M345.0 140.7h0.6M355.6 124.9h0.6M355.5 134.2h0.6M358.5 132.8h0.6M346.2 136.1h0.6M355.5 126.4h0.6M366.2 117.8h0.6M369.8 121.2h0.6M360.0 129.3h0.6M353.9 133.2h0.6M358.9 127.7h0.6M359.5 126.6h0.6M351.3 134.0h0.6M361.6 123.7h0.6M361.3 121.2h0.6M359.2 123.8h0.6M351.5 125.1h0.6M367.6 126.1h0.6M375.0 113.8h0.6M355.8 126.2h0.6M366.9 125.3h0.6M352.6 134.0h0.6M347.3 123.8h0.6M356.3 127.6h0.6M367.0 124.8h0.6M348.7 126.4h0.6M346.2 121.9h0.6M367.2 117.0h0.6M359.2 127.7h0.6M358.7 131.4h0.6M364.9 126.2h0.6M364.5 134.0h0.6M344.9 127.8h0.6M351.6 130.8h0.6M356.2 138.5h0.6M347.5 144.4h0.6M356.4 138.1h0.6M355.3 124.2h0.6M347.3 127.8h0.6M359.6 128.7h0.6M345.3 144.5h0.6M365.3 128.2h0.6M365.8 122.1h0.6M364.8 128.0h0.6M342.9 126.8h0.6M349.3 134.6h0.6M373.5 131.8h0.6M367.7 123.1h0.6M349.2 136.0h0.6M365.4 122.9h0.6M353.0 127.6h0.6M362.2 127.5h0.6M360.9 124.8h0.6M349.1 143.5h0.6M374.1 130.2h0.6M355.3 127.7h0.6M371.7 116.5h0.6M377.1 123.3h0.6M341.0 130.1h0.6M339.0 130.2h0.6M359.4 131.3h0.6M346.9 107.6h0.6M368.9 119.5h0.6M361.5 140.6h0.6M380.9 121.4h0.6M377.7 119.1h0.6M349.3 120.8h0.6M364.4 123.2h0.6M350.6 128.7h0.6M354.2 137.9h0.6M362.4 117.4h0.6M364.7 125.5h0.6M363.5 138.0h0.6M351.0 124.3h0.6M357.2 130.5h0.6M362.0 132.7h0.6M351.1 139.8h0.6M351.4 133.7h0.6M357.8 127.2h0.6M366.7 115.7h0.6M368.6 120.7h0.6M350.1 119.0h0.6M360.5 125.4h0.6M361.6 121.2h0.6M371.0 123.6h0.6M380.0 119.9h0.6M353.0 124.0h0.6M366.6 121.4h0.6M358.9 122.0h0.6M377.0 119.7h0.6M353.0 124.7h0.6M359.0 126.9h0.6M360.0 128.0h0.6M368.3 116.7h0.6M357.0 132.0h0.6M369.6 123.2h0.6M368.1 125.1h0.6M353.4 120.6h0.6M360.0 122.4h0.6M345.1 116.8h0.6M376.4 115.6h0.6M359.1 121.0h0.6M358.0 127.5h0.6M353.7 135.5h0.6M356.6 130.2h0.6M348.9 133.3h0.6M357.4 131.9h0.6M359.4 121.4h0.6M374.0 128.5h0.6M369.6 126.4h0.6M351.4 140.6h0.6M357.7 122.8h0.6M355.0 126.1h0.6M350.1 116.7h0.6M368.8 123.9h0.6M343.6 126.7h0.6M372.1 125.3h0.6M358.2 125.0h0.6M364.4 127.9h0.6M351.2 134.3h0.6M367.4 129.5h0.6M348.8 128.9h0.6M357.7 120.8h0.6M353.7 127.7h0.6M366.2 119.3h0.6M351.1 133.0h0.6M361.5 122.0h0.6M368.8 131.5h0.6M359.3 130.4h0.6M376.2 119.2h0.6M354.5 126.7h0.6M374.7 123.0h0.6M357.6 123.0h0.6M359.2 138.3h0.6M349.6 140.4h0.6M356.2 127.2h0.6M349.8 129.3h0.6M362.8 127.8h0.6M353.2 136.7h0.6M341.0 132.3h0.6M372.8 122.4h0.6M360.4 125.0h0.6M357.3 139.3h0.6M366.5 130.5h0.6M360.1 133.2h0.6M368.1 122.4h0.6M370.8 129.2h0.6M358.5 126.3h0.6M359.0 126.4h0.6M373.8 121.7h0.6M360.5 126.7h0.6M357.3 127.2h0.6M378.8 125.4h0.6M369.9 136.1h0.6M363.1 126.3h0.6M365.7 116.7h0.6M357.3 124.2h0.6M355.2 133.1h0.6M358.4 131.8h0.6M357.2 127.7h0.6M364.2 133.2h0.6M350.2 125.3h0.6M348.3 135.6h0.6M373.0 112.7h0.6M347.9 124.3h0.6M361.2 133.9h0.6M348.4 126.8h0.6M364.4 125.2h0.6M364.5 123.7h0.6M358.4 128.1h0.6M364.6 129.4h0.6M359.4 125.4h0.6M367.8 128.0h0.6M356.6 131.1h0.6M367.5 121.4h0.6M347.1 123.2h0.6M365.4 125.2h0.6M356.1 137.7h0.6M352.7 132.8h0.6M346.6 130.0h0.6M340.3 141.2h0.6M349.4 133.1h0.6M355.7 126.8h0.6M365.7 134.9h0.6M363.4 128.2h0.6M351.7 132.6h0.6M366.1 118.8h0.6M364.5 132.6h0.6M352.0 121.6h0.6M364.2 121.7h0.6M362.7 119.7h0.6M384.8 114.3h0.6M357.0 129.9h0.6M369.5 130.8h0.6M367.1 118.8h0.6M354.4 120.6h0.6M360.1 134.7h0.6M365.0 136.0h0.6M366.2 120.3h0.6M359.5 131.9h0.6M367.5 121.9h0.6M376.9 122.7h0.6M345.6 122.1h0.6M349.8 121.2h0.6M355.5 134.3h0.6M360.3 128.0h0.6M363.0 129.8h0.6M356.2 130.9h0.6M358.5 129.6h0.6M364.1 125.8h0.6M357.0 124.7h0.6M381.5 119.1h0.6M356.8 119.1h0.6M361.8 128.9h0.6M359.5 124.4h0.6M367.3 119.4h0.6M369.4 122.5h0.6M347.0 139.4h0.6M358.2 139.1h0.6M371.0 118.8h0.6M355.9 125.0h0.6M359.4 133.7h0.6M370.0 117.5h0.6M358.7 128.0h0.6M354.2 121.3h0.6M354.2 124.5h0.6M357.1 132.1h0.6M357.7 124.4h0.6M372.0 133.6h0.6M342.9 132.1h0.6M365.5 124.5h0.6M362.2 127.4h0.6M371.2 130.3h0.6M356.2 123.2h0.6M369.8 127.8h0.6M369.7 113.6h0.6M340.3 134.5h0.6M369.1 130.6h0.6M354.2 128.4h0.6M353.5 129.4h0.6M349.4 124.0h0.6M361.9 127.2h0.6M348.2 135.0h0.6M369.8 118.4h0.6M356.4 126.4h0.6M358.9 123.6h0.6M350.6 123.7h0.6M367.7 122.6h0.6M349.9 127.3h0.6M353.7 134.9h0.6M355.6 127.5h0.6M358.0 124.8h0.6M365.9 133.5h0.6M357.4 128.7h0.6M363.7 131.3h0.6M351.3 119.0h0.6M356.1 129.2h0.6M365.7 133.2h0.6M368.4 135.8h0.6M343.7 124.9h0.6M357.4 129.0h0.6M356.1 120.5h0.6M357.1 135.5h0.6M364.6 135.7h0.6M365.4 117.3h0.6M350.5 121.2h0.6M351.8 131.8h0.6M357.3 126.4h0.6M349.4 128.8h0.6M366.3 129.3h0.6M350.9 125.4h0.6M361.5 123.6h0.6M364.2 117.1h0.6M362.5 127.7h0.6M360.0 124.5h0.6M364.3 121.1h0.6M362.3 122.6h0.6M373.0 120.4h0.6M365.4 129.9h0.6M352.8 122.8h0.6M354.6 122.8h0.6M351.0 138.0h0.6M365.1 123.5h0.6M355.9 135.7h0.6M355.5 119.5h0.6M372.8 121.1h0.6M355.1 128.3h0.6M353.5 133.8h0.6M357.9 136.4h0.6M361.3 122.2h0.6M351.0 131.1h0.6M360.9 131.0h0.6M353.7 130.8h0.6M355.2 126.8h0.6M380.4 123.8h0.6M352.4 126.9h0.6M354.8 133.9h0.6M354.0 144.9h0.6M374.0 124.0h0.6M372.3 127.5h0.6M357.2 124.7h0.6M364.6 124.4h0.6M365.4 124.5h0.6M357.6 130.0h0.6M348.6 147.5h0.6M345.8 127.6h0.6M373.4 139.0h0.6M353.9 131.1h0.6M376.0 134.1h0.6M357.0 139.0h0.6M367.9 123.6h0.6M355.1 133.7h0.6M365.0 126.2h0.6M361.5 125.9h0.6M372.3 136.4h0.6M349.6 129.1h0.6M366.8 126.8h0.6M366.3 121.0h0.6M352.3 128.8h0.6M349.9 136.5h0.6M366.5 117.7h0.6M348.9 132.0h0.6M358.5 122.3h0.6M350.0 131.6h0.6M357.6 124.5h0.6M346.3 136.1h0.6M336.3 126.0h0.6M365.8 131.4h0.6M357.6 124.6h0.6M349.6 127.7h0.6M342.6 123.1h0.6M348.4 117.7h0.6M360.1 134.6h0.6M362.5 126.8h0.6M378.2 123.7h0.6M362.0 123.1h0.6M357.6 119.9h0.6M365.1 132.3h0.6M365.6 121.3h0.6M360.9 125.3h0.6M364.3 136.7h0.6M356.4 124.2h0.6M358.2 134.6h0.6M361.3 120.1h0.6M359.1 128.7h0.6M355.5 129.0h0.6M362.1 113.6h0.6M348.8 125.9h0.6M366.3 127.2h0.6M350.7 121.2h0.6M366.7 128.7h0.6M347.9 125.9h0.6M351.7 128.7h0.6M344.6 132.2h0.6M357.0 128.7h0.6M338.7 132.5h0.6M361.5 122.9h0.6M350.2 122.0h0.6M371.6 121.9h0.6M357.2 126.7h0.6M354.9 137.2h0.6M357.0 131.0h0.6M366.5 113.6h0.6M355.9 120.5h0.6M350.4 131.3h0.6M372.7 124.4h0.6M354.3 124.2h0.6M377.5 125.3h0.6M343.2 126.7h0.6M360.6 132.7h0.6M370.1 127.7h0.6M352.6 129.9h0.6M358.9 131.3h0.6M367.5 116.4h0.6M355.6 121.3h0.6M358.1 134.5h0.6M353.2 118.4h0.6M361.7 126.7h0.6M366.3 123.7h0.6M348.2 138.1h0.6M361.3 123.1h0.6M356.6 128.2h0.6M356.2 132.7h0.6M358.4 125.6h0.6M353.2 124.9h0.6M354.5 129.0h0.6M339.5 131.7h0.6M354.1 129.6h0.6M355.6 130.9h0.6M352.3 126.9h0.6M361.0 126.9h0.6M351.8 127.1h0.6M364.1 129.7h0.6M367.3 122.4h0.6M359.9 120.9h0.6M337.4 131.3h0.6M372.3 128.6h0.6M349.6 134.3h0.6M373.9 125.3h0.6M367.9 130.2h0.6M366.3 118.0h0.6M364.7 132.4h0.6M358.1 127.1h0.6M353.8 117.6h0.6M371.1 127.1h0.6M371.9 135.6h0.6M347.1 129.2h0.6M350.7 128.6h0.6M359.3 126.4h0.6M340.1 142.9h0.6M361.6 133.8h0.6M361.3 117.6h0.6M351.2 147.3h0.6M354.4 132.1h0.6M349.8 124.3h0.6M352.3 126.1h0.6M371.8 125.1h0.6M357.8 130.0h0.6M351.6 122.0h0.6M375.5 123.2h0.6M344.2 124.5h0.6M365.4 129.1h0.6M351.5 126.5h0.6M356.2 118.9h0.6M357.7 125.3h0.6M340.4 136.6h0.6M359.7 125.7h0.6M365.1 126.1h0.6M349.9 139.6h0.6M343.1 125.7h0.6M356.6 129.3h0.6M358.6 123.6h0.6M355.4 126.7h0.6M368.7 124.5h0.6M348.5 138.3h0.6M347.8 135.0h0.6M350.2 123.6h0.6M364.7 129.6h0.6M378.7 115.1h0.6M348.3 126.0h0.6M376.7 132.4h0.6M367.7 119.9h0.6M376.4 123.4h0.6M364.5 135.4h0.6M364.2 134.4h0.6M361.8 133.3h0.6M363.3 136.3h0.6M358.6 138.7h0.6M373.2 117.5h0.6M365.8 122.1h0.6M354.8 113.3h0.6M353.1 135.5h0.6M371.5 122.3h0.6M356.1 124.6h0.6M350.5 139.6h0.6M327.9 136.1h0.6M365.4 116.7h0.6M375.5 128.0h0.6M360.0 129.5h0.6M371.4 120.5h0.6M365.0 127.8h0.6M355.8 139.8h0.6M355.8 123.5h0.6M367.7 128.6h0.6M362.9 119.6h0.6M336.8 130.3h0.6M372.5 118.6h0.6M355.7 131.0h0.6M350.7 141.7h0.6M353.4 127.9h0.6M358.5 132.5h0.6M369.0 133.2h0.6M359.0 125.2h0.6M370.8 123.9h0.6M362.1 129.3h0.6M363.2 125.0h0.6M360.5 118.9h0.6M360.8 134.6h0.6M359.5 132.9h0.6M361.7 128.6h0.6M363.7 120.2h0.6M354.2 141.2h0.6M355.8 116.1h0.6M366.3 124.6h0.6M370.4 127.4h0.6M366.3 132.3h0.6M353.0 119.6h0.6M361.6 123.8h0.6M367.8 128.0h0.6M357.8 133.4h0.6M363.7 130.9h0.6M352.8 128.3h0.6M352.1 126.5h0.6M358.4 134.0h0.6M353.1 132.2h0.6M361.2 129.1h0.6M358.5 129.3h0.6M350.6 134.9h0.6M357.0 123.1h0.6M360.4 129.8h0.6M365.3 126.3h0.6M353.9 123.9h0.6M359.9 121.1h0.6M361.4 125.8h0.6M365.7 122.5h0.6M370.9 125.5h0.6M357.8 132.0h0.6M359.2 126.7h0.6M348.6 128.5h0.6M360.5 125.4h0.6M360.6 129.4h0.6M367.0 128.2h0.6M346.5 132.6h0.6M370.3 126.9h0.6M370.7 118.4h0.6M373.3 120.4h0.6M370.0 129.8h0.6M357.6 122.6h0.6M368.3 122.3h0.6M356.4 123.9h0.6M353.1 139.5h0.6M338.7 125.7h0.6M365.1 129.0h0.6M352.7 125.4h0.6M360.1 120.6h0.6M361.1 121.3h0.6M372.1 120.9h0.6M374.8 125.7h0.6M368.4 122.6h0.6M376.0 120.9h0.6M363.7 120.7h0.6M351.9 140.5h0.6M345.2 136.7h0.6M362.1 134.5h0.6M361.5 124.7h0.6M361.3 122.0h0.6M366.0 128.4h0.6M369.6 121.9h0.6M345.2 126.7h0.6M351.7 133.2h0.6M344.7 140.6h0.6M369.3 120.3h0.6M363.0 117.8h0.6M353.5 147.4h0.6M369.3 130.0h0.6M356.4 115.8h0.6M354.8 117.8h0.6M358.5 115.4h0.6M355.5 125.2h0.6M353.2 124.8h0.6M349.2 126.3h0.6M367.8 116.5h0.6M351.6 122.1h0.6M350.3 122.6h0.6M365.7 118.5h0.6M347.4 134.6h0.6M366.5 129.3h0.6M349.1 128.9h0.6M343.2 133.2h0.6M343.8 133.2h0.6M354.1 130.9h0.6M369.1 130.9h0.6M336.5 143.4h0.6M354.9 139.1h0.6M366.6 134.0h0.6M373.9 118.1h0.6M356.8 130.5h0.6M348.3 123.0h0.6M354.4 118.4h0.6M371.0 123.3h0.6M363.8 123.4h0.6M351.0 128.0h0.6M379.6 120.9h0.6M359.3 130.3h0.6M351.2 147.2h0.6M355.5 121.4h0.6M358.6 137.9h0.6M354.7 131.8h0.6M356.0 121.4h0.6M375.6 120.7h0.6M363.7 132.2h0.6M365.2 127.3h0.6M369.6 119.2h0.6M364.5 131.5h0.6M365.0 128.6h0.6M353.7 119.2h0.6M349.5 129.5h0.6M363.8 115.3h0.6M368.2 132.3h0.6M355.2 128.3h0.6M370.6 122.7h0.6M359.8 117.3h0.6M373.4 125.4h0.6M360.4 119.0h0.6M360.0 119.2h0.6M353.0 119.8h0.6M367.3 127.8h0.6M377.1 111.1h0.6M369.8 130.5h0.6M363.2 127.9h0.6M364.9 133.5h0.6M352.8 136.1h0.6M343.9 129.4h0.6M361.2 123.6h0.6M370.7 122.7h0.6M349.3 129.4h0.6M355.7 135.2h0.6M354.9 139.4h0.6M352.1 135.4h0.6M362.6 134.8h0.6M360.4 132.4h0.6M370.8 122.2h0.6M360.5 136.8h0.6M359.8 125.8h0.6M367.6 124.3h0.6M347.8 125.1h0.6M356.5 124.6h0.6M367.8 123.9h0.6M352.5 128.8h0.6M363.7 123.3h0.6M354.8 128.5h0.6M360.4 120.0h0.6M381.5 121.8h0.6M347.9 139.9h0.6M376.8 127.7h0.6M355.2 142.8h0.6M356.9 137.0h0.6M358.8 124.6h0.6M347.8 120.8h0.6M371.7 118.9h0.6M361.7 124.1h0.6M375.9 121.7h0.6M357.6 121.5h0.6M358.6 128.5h0.6M356.4 125.7h0.6M355.9 124.7h0.6M377.0 129.5h0.6M369.6 130.6h0.6M366.7 127.2h0.6M344.2 137.1h0.6M366.9 120.6h0.6M367.3 117.4h0.6M349.2 128.5h0.6M360.8 128.9h0.6M360.1 124.8h0.6M373.3 121.5h0.6M359.4 121.6h0.6M357.1 124.2h0.6M368.3 131.5h0.6M371.1 115.6h0.6M361.3 129.4h0.6M363.1 129.3h0.6M349.8 131.1h0.6M353.7 128.8h0.6M358.9 140.1h0.6M360.5 133.4h0.6M359.3 132.3h0.6M358.6 123.7h0.6M361.5 127.7h0.6M364.1 131.6h0.6M355.4 135.5h0.6M354.3 129.2h0.6M360.6 127.7h0.6M369.4 133.0h0.6M345.7 130.1h0.6M342.1 126.2h0.6M373.3 113.5h0.6M365.9 119.4h0.6M351.5 119.8h0.6M357.8 130.3h0.6M367.6 128.6h0.6M361.9 134.9h0.6M360.8 125.3h0.6M352.7 119.9h0.6M360.0 123.4h0.6M359.4 129.4h0.6M348.2 122.3h0.6M371.8 119.4h0.6M362.4 122.4h0.6M367.1 127.4h0.6M338.8 144.8h0.6M357.6 127.2h0.6M370.3 118.9h0.6M361.2 130.5h0.6M363.9 124.7h0.6M340.2 136.1h0.6M340.4 143.6h0.6M350.7 127.2h0.6M362.8 127.2h0.6M358.8 126.0h0.6M356.6 132.7h0.6M357.1 129.7h0.6M370.4 122.3h0.6M360.2 126.2h0.6M353.1 126.0h0.6M351.3 137.3h0.6M361.4 122.7h0.6M349.0 129.0h0.6M349.9 129.8h0.6M346.9 129.3h0.6M344.1 130.4h0.6M347.0 132.4h0.6M368.3 124.5h0.6M364.1 120.2h0.6M356.8 130.9h0.6M365.2 127.5h0.6M356.9 129.2h0.6M361.7 123.6h0.6M355.2 132.2h0.6M348.6 129.4h0.6M364.3 125.7h0.6M356.4 128.8h0.6M358.0 123.8h0.6M376.4 131.2h0.6M364.5 134.2h0.6M357.5 129.7h0.6M362.0 126.0h0.6M348.2 134.8h0.6M359.2 135.2h0.6M364.6 120.4h0.6M353.1 117.3h0.6M352.4 132.9h0.6M357.0 119.5h0.6M372.8 133.2h0.6M353.0 125.9h0.6M362.0 131.9h0.6M353.4 115.6h0.6M366.9 127.7h0.6M348.7 128.4h0.6M360.6 132.3h0.6M366.9 126.7h0.6M368.6 126.6h0.6M365.4 118.2h0.6M357.3 128.2h0.6M360.6 135.1h0.6M351.3 125.0h0.6M371.4 124.5h0.6M370.8 123.0h0.6M352.4 132.2h0.6M356.6 131.1h0.6M369.6 123.3h0.6M370.9 124.1h0.6M364.6 129.8h0.6M352.1 135.2h0.6M360.7 126.8h0.6M368.5 124.9h0.6M345.2 125.3h0.6M351.4 127.5h0.6M365.6 123.8h0.6M365.6 132.6h0.6M354.7 114.3h0.6M340.8 133.8h0.6M343.8 123.8h0.6M364.4 127.0h0.6M356.2 122.7h0.6M361.1 132.7h0.6M358.3 127.6h0.6M361.3 120.3h0.6M373.4 129.3h0.6M356.7 130.3h0.6M355.5 135.5h0.6M367.8 121.7h0.6M355.0 135.3h0.6M353.5 128.7h0.6M347.1 125.2h0.6M358.8 123.5h0.6M359.6 129.5h0.6M364.9 131.5h0.6M367.6 118.3h0.6M346.8 125.0h0.6M367.8 128.6h0.6M368.5 124.0h0.6M365.7 127.2h0.6M364.2 122.6h0.6M370.5 124.6h0.6M347.4 129.3h0.6M352.3 141.2h0.6M358.2 125.9h0.6M358.0 124.6h0.6M355.3 125.8h0.6M362.0 128.2h0.6M370.5 127.1h0.6M354.7 124.9h0.6M356.0 122.0h0.6M347.9 127.9h0.6M357.6 130.3h0.6M359.0 135.4h0.6M366.5 129.5h0.6M357.3 126.7h0.6M353.5 134.2h0.6M349.4 127.8h0.6M358.4 129.9h0.6M363.8 127.8h0.6M368.1 122.3h0.6M364.9 121.9h0.6M355.2 133.1h0.6M360.1 127.2h0.6M343.1 132.9h0.6M374.4 132.0h0.6M357.4 132.6h0.6M353.6 125.6h0.6M369.1 132.3h0.6M348.2 127.6h0.6M369.8 130.5h0.6M354.9 124.4h0.6M359.5 128.8h0.6M367.7 125.3h0.6M353.5 114.3h0.6M350.8 129.9h0.6M353.7 125.5h0.6M362.9 119.9h0.6M368.1 127.0h0.6M361.1 115.8h0.6M360.1 128.0h0.6M348.1 127.5h0.6M366.8 118.7h0.6M359.0 118.2h0.6M351.9 128.4h0.6M367.4 115.6h0.6M370.3 119.8h0.6M351.5 133.8h0.6M348.4 129.7h0.6M356.0 126.4h0.6M367.8 115.2h0.6M352.6 126.9h0.6M347.3 125.4h0.6M383.0 116.9h0.6M362.7 127.0h0.6M347.7 132.7h0.6M358.6 133.6h0.6M346.2 134.3h0.6M345.7 128.8h0.6M368.6 123.0h0.6M359.4 130.7h0.6M354.7 134.7h0.6M357.2 126.8h0.6M349.3 121.0h0.6M356.7 133.1h0.6M354.4 130.5h0.6M362.0 129.2h0.6M358.4 124.0h0.6M373.9 126.2h0.6M365.8 123.6h0.6M357.3 131.0h0.6M377.3 127.1h0.6M349.8 120.8h0.6M353.8 138.8h0.6M352.3 132.6h0.6M351.5 126.6h0.6M363.8 115.5h0.6M349.8 125.8h0.6M361.2 126.5h0.6M350.1 127.5h0.6M356.2 125.1h0.6M356.8 132.6h0.6M343.5 126.3h0.6M370.9 122.1h0.6M373.8 121.2h0.6M356.9 120.0h0.6M360.1 129.6h0.6M372.5 129.5h0.6M355.7 132.1h0.6M357.6 124.5h0.6M371.0 119.1h0.6M368.1 120.4h0.6M358.4 127.3h0.6M363.2 130.0h0.6M363.7 120.8h0.6M359.5 135.5h0.6M371.0 114.5h0.6M341.1 138.2h0.6M343.9 129.9h0.6M364.3 124.8h0.6M355.1 126.2h0.6M349.7 142.1h0.6M353.5 121.3h0.6M352.0 130.3h0.6M360.7 122.7h0.6M357.8 137.1h0.6M350.4 143.4h0.6M359.0 123.8h0.6M361.3 120.1h0.6M358.6 140.3h0.6M371.4 126.8h0.6M372.0 114.8h0.6M358.0 129.3h0.6M363.1 123.0h0.6M358.3 127.3h0.6M346.6 115.3h0.6M373.7 127.7h0.6M366.1 126.5h0.6M355.1 136.2h0.6M356.2 122.5h0.6M357.0 129.8h0.6M349.0 131.7h0.6M364.4 134.2h0.6M365.3 124.6h0.6M350.1 126.5h0.6M369.6 122.5h0.6M346.2 130.6h0.6M353.4 135.7h0.6M355.2 132.9h0.6M372.8 129.9h0.6M353.3 131.6h0.6M358.7 128.8h0.6M355.4 126.9h0.6M362.6 139.8h0.6M349.3 142.7h0.6M359.3 124.9h0.6M359.9 122.8h0.6M373.0 123.8h0.6M373.4 117.0h0.6M354.2 123.5h0.6M352.6 133.8h0.6M364.6 132.5h0.6M355.4 132.3h0.6M363.8 123.7h0.6M358.6 119.7h0.6M366.1 132.0h0.6M370.0 133.5h0.6M361.5 133.7h0.6M354.4 146.6h0.6M369.4 129.0h0.6M364.3 124.2h0.6M346.6 142.5h0.6M369.9 123.1h0.6M357.6 124.1h0.6M360.3 132.0h0.6M350.4 132.5h0.6M342.0 124.0h0.6M363.8 123.5h0.6M359.3 124.9h0.6M342.2 122.2h0.6M367.8 124.3h0.6M364.1 119.7h0.6M368.1 130.2h0.6M363.9 119.5h0.6M344.7 133.3h0.6M368.9 114.9h0.6M354.3 129.5h0.6M381.8 125.3h0.6M340.5 127.6h0.6M352.5 132.0h0.6M371.2 115.3h0.6M350.9 127.3h0.6M356.2 128.8h0.6M359.9 134.5h0.6M363.9 127.8h0.6M368.9 128.7h0.6M371.0 135.2h0.6M347.9 130.1h0.6M370.2 115.2h0.6M356.2 117.3h0.6M367.1 130.3h0.6M362.5 125.8h0.6M341.5 143.0h0.6M358.2 135.0h0.6M358.1 115.4h0.6M353.7 134.7h0.6M366.4 111.9h0.6M359.8 128.1h0.6M374.2 123.0h0.6M367.4 120.4h0.6M349.1 128.4h0.6M357.0 127.1h0.6M381.1 114.4h0.6M360.4 116.9h0.6M370.1 117.7h0.6M356.5 132.3h0.6M347.7 124.4h0.6M366.8 125.2h0.6M362.1 130.7h0.6M351.5 120.3h0.6M365.9 128.8h0.6M353.3 123.4h0.6M347.5 122.7h0.6M363.3 132.2h0.6M354.0 138.3h0.6M360.5 125.5h0.6M355.5 116.9h0.6M365.4 129.9h0.6M349.0 129.5h0.6M366.6 130.5h0.6M361.7 124.5h0.6M352.0 123.2h0.6M369.2 131.2h0.6M352.2 131.1h0.6" stroke="#2a2a2a" stroke-width="0.6" fill="none" opacity="1.0"/>
<path d="M356.7 137.4h0.55M343.4 138.8h0.55M350.4 131.1h0.55M348.4 138.3h0.55M346.5 144.2h0.55M367.2 126.3h0.55M355.9 134.7h0.55M339.9 145.7h0.55M360.5 138.0h0.55M347.0 138.0h0.55M341.8 133.7h0.55M349.8 141.1h0.55M361.6 133.2h0.55M342.8 138.7h0.55M344.2 149.1h0.55M346.2 140.5h0.55M350.2 122.6h0.55M357.1 135.5h0.55M337.3 144.1h0.55M354.4 135.3h0.55M340.9 138.2h0.55M357.1 130.1h0.55M345.5 137.8h0.55M353.7 138.8h0.55M328.7 146.2h0.55M353.2 136.2h0.55M353.0 135.6h0.55M363.3 141.9h0.55M358.0 134.3h0.55M346.2 142.6h0.55M342.4 152.4h0.55M338.4 141.2h0.55M344.6 136.6h0.55M354.3 140.6h0.55M347.9 135.8h0.55M355.3 142.9h0.55M354.6 141.6h0.55M359.6 135.4h0.55M344.6 135.3h0.55M341.2 145.3h0.55M339.9 135.9h0.55M340.3 140.9h0.55M344.8 125.4h0.55M341.9 136.1h0.55M346.7 138.1h0.55M346.5 133.2h0.55M350.4 138.3h0.55M347.8 145.3h0.55M351.3 143.4h0.55M349.3 141.3h0.55M351.1 147.7h0.55M343.7 150.0h0.55M340.0 129.2h0.55M358.1 134.9h0.55M351.6 141.7h0.55M349.4 142.2h0.55M348.3 128.4h0.55M351.1 129.0h0.55M341.0 137.9h0.55M351.1 132.3h0.55M339.1 135.9h0.55M357.0 136.4h0.55M351.5 127.8h0.55M352.7 133.1h0.55M349.0 133.5h0.55M356.7 133.5h0.55M344.4 142.1h0.55M338.9 143.2h0.55M343.1 135.3h0.55M352.9 142.1h0.55M351.7 120.7h0.55M355.2 129.0h0.55M346.5 141.7h0.55M344.2 131.1h0.55M360.9 131.3h0.55M357.3 134.0h0.55M333.0 137.4h0.55M347.6 142.3h0.55M345.1 136.9h0.55M352.2 130.8h0.55M356.1 131.1h0.55M335.6 144.4h0.55M360.6 129.7h0.55M361.5 134.1h0.55M362.4 137.3h0.55M350.0 142.6h0.55M345.0 137.8h0.55M351.6 135.4h0.55M342.2 128.5h0.55M347.2 133.8h0.55M343.2 143.6h0.55M350.2 129.2h0.55M351.5 128.6h0.55M358.8 134.3h0.55M350.8 135.5h0.55M343.0 146.4h0.55M344.4 139.6h0.55M345.3 137.9h0.55M349.2 131.1h0.55M346.8 150.4h0.55M343.0 142.7h0.55M355.7 135.7h0.55M357.1 136.1h0.55M338.7 138.0h0.55M352.8 136.3h0.55M337.9 150.4h0.55M343.5 131.1h0.55M351.6 129.6h0.55M344.0 138.7h0.55M355.9 126.7h0.55M355.6 138.7h0.55M338.8 144.0h0.55M343.2 132.8h0.55M331.6 147.5h0.55M346.6 136.8h0.55M342.2 137.2h0.55M349.5 132.0h0.55M344.8 136.3h0.55M347.6 134.1h0.55M356.4 141.2h0.55M347.0 144.0h0.55M343.9 134.9h0.55M339.3 128.3h0.55M346.4 140.1h0.55M348.6 148.9h0.55M353.8 140.7h0.55M362.8 133.9h0.55M352.6 136.7h0.55M336.2 144.1h0.55M349.8 143.1h0.55M348.9 143.3h0.55M344.5 152.4h0.55M347.1 142.5h0.55M348.3 148.2h0.55M338.2 146.0h0.55M351.1 132.0h0.55M345.6 132.5h0.55M352.8 132.3h0.55M353.3 137.0h0.55M355.6 133.6h0.55M348.4 140.2h0.55M340.2 135.2h0.55M351.7 134.3h0.55M339.2 139.2h0.55M353.6 136.6h0.55M348.2 145.7h0.55M350.8 133.6h0.55M349.1 151.9h0.55M337.3 160.2h0.55M344.8 138.0h0.55M347.8 139.9h0.55M352.1 132.6h0.55M354.9 146.7h0.55M337.3 144.6h0.55M351.2 138.4h0.55M350.2 138.0h0.55M356.6 139.5h0.55M358.8 136.8h0.55M357.1 137.3h0.55M345.4 138.6h0.55M356.3 124.0h0.55M346.2 136.8h0.55M355.2 134.4h0.55M359.3 136.3h0.55M341.7 147.1h0.55M347.3 140.3h0.55M351.6 130.7h0.55M340.1 144.8h0.55M350.0 132.9h0.55M344.9 140.8h0.55M354.7 141.6h0.55M353.4 147.7h0.55M349.0 130.6h0.55M339.1 143.7h0.55M346.9 139.7h0.55M349.7 136.7h0.55M344.9 139.1h0.55M352.0 138.4h0.55M363.2 140.0h0.55M356.6 136.9h0.55M334.0 141.0h0.55M338.0 142.9h0.55M338.5 138.7h0.55M350.0 137.2h0.55M359.1 138.1h0.55M348.1 139.1h0.55M351.3 133.4h0.55M347.2 146.3h0.55M346.8 128.8h0.55M337.7 149.2h0.55M346.5 135.5h0.55M350.7 133.9h0.55M346.0 148.9h0.55M348.1 143.4h0.55M346.1 141.3h0.55M347.3 140.5h0.55M350.9 136.9h0.55M341.5 145.7h0.55M361.4 129.9h0.55M346.8 136.7h0.55M337.0 143.1h0.55M344.3 145.0h0.55M349.8 138.3h0.55M355.6 143.7h0.55M349.3 130.1h0.55M346.7 135.8h0.55M345.4 135.3h0.55M344.1 152.0h0.55M343.3 144.2h0.55M347.5 123.5h0.55M351.6 139.7h0.55M359.2 131.6h0.55M347.8 133.6h0.55M347.7 141.6h0.55M355.3 138.8h0.55M351.3 140.3h0.55M340.2 143.7h0.55M343.5 142.0h0.55M345.6 142.8h0.55M344.8 142.3h0.55M348.4 138.2h0.55M353.9 139.4h0.55M347.1 136.9h0.55M362.1 136.9h0.55M345.4 140.4h0.55M344.7 143.1h0.55M337.7 138.9h0.55M342.0 139.3h0.55M347.0 141.9h0.55M353.8 143.4h0.55M348.7 138.8h0.55M352.1 138.4h0.55M337.4 130.2h0.55M346.7 142.6h0.55M347.8 136.6h0.55M347.3 143.5h0.55M353.6 135.9h0.55M347.1 140.1h0.55M335.9 136.1h0.55M349.0 143.4h0.55M353.7 130.8h0.55M346.1 137.5h0.55M350.7 136.3h0.55M356.3 143.1h0.55M353.0 138.3h0.55M351.9 142.7h0.55M345.0 138.4h0.55M353.9 127.2h0.55M350.8 133.5h0.55M348.7 138.6h0.55M353.8 138.7h0.55M339.1 132.9h0.55M351.0 145.8h0.55M352.5 145.1h0.55M352.4 146.1h0.55M352.3 137.8h0.55M338.6 142.1h0.55M344.2 144.1h0.55M339.7 147.6h0.55M328.9 147.1h0.55M330.8 131.9h0.55M345.0 139.3h0.55M353.8 137.9h0.55M339.3 139.7h0.55M355.6 128.4h0.55M348.4 145.8h0.55M353.9 136.7h0.55M345.2 144.7h0.55M348.7 132.2h0.55M346.8 132.5h0.55M340.3 148.8h0.55M359.3 120.5h0.55M345.6 142.4h0.55M347.2 137.5h0.55M356.6 132.0h0.55M340.5 135.9h0.55M336.9 143.3h0.55M341.9 137.2h0.55M352.9 152.4h0.55M360.6 143.3h0.55M353.5 135.2h0.55M345.8 128.8h0.55M349.2 142.5h0.55M349.7 148.8h0.55M340.2 133.2h0.55M347.4 133.6h0.55M350.8 148.4h0.55M351.0 131.4h0.55M349.1 132.1h0.55M346.1 138.4h0.55M351.1 140.1h0.55M352.0 148.3h0.55M349.0 129.9h0.55M347.0 133.6h0.55M336.0 137.2h0.55M342.0 149.9h0.55M352.1 131.4h0.55M348.8 142.0h0.55M349.3 135.0h0.55M343.5 136.4h0.55M350.3 137.1h0.55M340.1 144.3h0.55M349.4 143.7h0.55M351.8 125.9h0.55M348.4 134.3h0.55M347.7 130.8h0.55M344.5 130.8h0.55M352.9 141.0h0.55M356.5 139.3h0.55M365.3 123.9h0.55M350.4 134.0h0.55M340.1 139.8h0.55M333.0 134.7h0.55M346.4 147.6h0.55M351.3 144.6h0.55M347.9 141.1h0.55M357.4 134.3h0.55M350.4 134.5h0.55M344.8 132.9h0.55M356.8 128.2h0.55M353.5 133.9h0.55M338.6 136.8h0.55M349.8 144.6h0.55M353.0 137.2h0.55M350.5 131.0h0.55M348.1 143.3h0.55M348.0 137.5h0.55M336.2 141.3h0.55M338.9 133.4h0.55M351.4 141.2h0.55M344.9 141.1h0.55M351.1 141.2h0.55M349.4 125.7h0.55M347.0 137.3h0.55M359.6 135.8h0.55M341.6 148.8h0.55M350.3 136.4h0.55M347.6 146.8h0.55M348.3 125.8h0.55M359.3 144.6h0.55M349.1 139.1h0.55M352.7 132.0h0.55M345.4 131.9h0.55M349.5 138.6h0.55M348.1 141.1h0.55M341.7 136.5h0.55M351.8 130.2h0.55M351.8 129.4h0.55M358.6 133.0h0.55M352.7 122.3h0.55M343.6 130.7h0.55M344.7 140.9h0.55M341.5 140.0h0.55M348.6 144.5h0.55M344.7 130.4h0.55M342.7 134.3h0.55M349.1 146.7h0.55M353.6 139.4h0.55M343.9 134.8h0.55M348.0 130.8h0.55M342.6 136.7h0.55M347.6 136.2h0.55M349.1 121.1h0.55M350.9 141.3h0.55M341.7 141.5h0.55M347.1 134.8h0.55M352.6 146.3h0.55M343.6 142.2h0.55M347.1 137.2h0.55M345.1 144.1h0.55M345.8 144.7h0.55M358.9 137.6h0.55M340.0 143.5h0.55M337.4 142.9h0.55M346.9 143.5h0.55M349.4 142.2h0.55M348.5 131.1h0.55M358.3 137.9h0.55M347.4 132.6h0.55M350.5 133.4h0.55M346.3 128.6h0.55M349.6 147.5h0.55M348.4 132.8h0.55M339.7 142.6h0.55M346.9 138.2h0.55M349.7 153.5h0.55M354.4 144.7h0.55M363.2 132.0h0.55M358.8 138.5h0.55M345.1 137.4h0.55M337.7 137.0h0.55M349.6 136.5h0.55M351.8 129.9h0.55M350.0 140.8h0.55M350.5 143.0h0.55M352.7 138.2h0.55M346.5 142.7h0.55M351.7 145.0h0.55M332.8 148.3h0.55M355.7 131.8h0.55M356.8 131.7h0.55M350.1 129.1h0.55M336.9 139.0h0.55M337.6 138.5h0.55M347.6 134.4h0.55M346.2 128.5h0.55M337.1 135.1h0.55M347.7 132.1h0.55M361.4 137.9h0.55M350.5 143.3h0.55M336.1 138.6h0.55M352.8 133.3h0.55M351.2 146.8h0.55M351.6 135.3h0.55M350.6 144.8h0.55M346.4 139.9h0.55M341.5 141.9h0.55M347.5 142.5h0.55M352.7 136.1h0.55M353.8 141.4h0.55M345.4 137.9h0.55M357.6 132.6h0.55M347.1 134.3h0.55M349.6 129.5h0.55M334.3 143.8h0.55M347.7 145.0h0.55M345.1 135.4h0.55M349.7 144.2h0.55M350.3 133.5h0.55M343.1 147.5h0.55M355.3 136.4h0.55M347.6 138.9h0.55M349.5 137.2h0.55M345.3 140.1h0.55M340.1 143.8h0.55M349.3 134.7h0.55M342.0 134.6h0.55M350.5 132.4h0.55M343.0 131.1h0.55M340.8 137.5h0.55M347.3 134.4h0.55M345.2 150.6h0.55M352.3 138.5h0.55M342.3 141.4h0.55M348.4 123.9h0.55M349.6 138.1h0.55M347.0 149.5h0.55M336.6 142.3h0.55M342.9 140.7h0.55M349.0 125.2h0.55M353.3 138.2h0.55M350.4 152.3h0.55M344.2 134.9h0.55M346.7 131.8h0.55M346.7 144.5h0.55M346.6 144.0h0.55M349.3 128.8h0.55M333.0 143.2h0.55M350.6 132.6h0.55M348.1 124.9h0.55M355.1 130.7h0.55M354.6 134.6h0.55M349.2 129.6h0.55M342.5 146.0h0.55M343.2 130.4h0.55M350.9 139.3h0.55M357.4 135.7h0.55M345.1 128.7h0.55M341.1 139.7h0.55M336.8 142.8h0.55M351.2 142.0h0.55M345.4 135.6h0.55M346.4 132.7h0.55M342.8 140.4h0.55M352.6 144.2h0.55M347.1 134.3h0.55M356.6 136.2h0.55M348.1 133.3h0.55M352.9 135.9h0.55M351.7 135.5h0.55M347.0 140.5h0.55M350.7 138.7h0.55M344.3 128.3h0.55M347.7 143.0h0.55M345.5 140.6h0.55M362.3 139.6h0.55M358.8 133.5h0.55M354.7 135.6h0.55M359.1 128.9h0.55M336.6 141.4h0.55M336.5 133.6h0.55M344.8 132.3h0.55M356.5 139.9h0.55M343.4 148.5h0.55M350.8 128.0h0.55M347.2 152.3h0.55M349.1 138.6h0.55M350.9 134.6h0.55M343.3 142.5h0.55M358.0 128.8h0.55M354.8 130.6h0.55M347.7 135.1h0.55M347.5 149.6h0.55M344.8 144.0h0.55M338.5 144.9h0.55M346.9 137.3h0.55M347.6 140.2h0.55M342.1 148.2h0.55M347.8 138.5h0.55M343.2 139.1h0.55M350.5 141.3h0.55M353.6 133.3h0.55M349.5 139.6h0.55M347.4 136.2h0.55M344.4 122.2h0.55M352.2 141.1h0.55M343.6 129.1h0.55M348.3 129.5h0.55M355.1 129.5h0.55M345.8 124.8h0.55M348.2 139.3h0.55M340.4 140.1h0.55M345.8 136.2h0.55M337.4 143.0h0.55M352.0 137.0h0.55M348.9 149.5h0.55M344.1 140.5h0.55M347.4 135.4h0.55M344.7 130.2h0.55M360.6 141.7h0.55M342.2 149.7h0.55M345.7 136.4h0.55M349.1 135.5h0.55M355.9 139.4h0.55M344.7 132.8h0.55M339.1 139.7h0.55M346.3 139.9h0.55M339.3 134.8h0.55M352.4 140.6h0.55M345.6 136.7h0.55M353.6 133.5h0.55M353.6 138.9h0.55M342.1 132.7h0.55M349.0 146.1h0.55M354.5 133.0h0.55M347.7 140.6h0.55M338.8 133.9h0.55M349.3 137.3h0.55M355.4 131.8h0.55M356.9 139.5h0.55M332.1 137.8h0.55M345.2 136.5h0.55M358.4 128.0h0.55M349.5 126.4h0.55M345.1 141.3h0.55M350.6 128.1h0.55M352.6 146.7h0.55M357.5 134.9h0.55M349.1 139.7h0.55M340.1 131.9h0.55M359.1 137.3h0.55M335.1 142.6h0.55M347.6 140.0h0.55M357.9 129.4h0.55M345.1 133.4h0.55M351.7 138.6h0.55M346.7 144.4h0.55M348.6 137.9h0.55M350.3 146.0h0.55M337.1 141.2h0.55M354.5 124.7h0.55M349.6 137.2h0.55M343.8 143.9h0.55M343.3 131.9h0.55M353.6 138.7h0.55M349.0 142.1h0.55M356.3 145.7h0.55M352.6 133.9h0.55M344.0 148.2h0.55M349.3 131.9h0.55M339.9 142.3h0.55M353.9 140.5h0.55M356.9 131.9h0.55M349.4 143.2h0.55M352.6 134.5h0.55M348.9 140.0h0.55M363.2 142.3h0.55M346.6 143.3h0.55M342.6 136.1h0.55M346.6 140.3h0.55M340.6 147.1h0.55M346.8 131.8h0.55M355.7 133.9h0.55M350.7 136.5h0.55M357.0 142.2h0.55M353.0 144.9h0.55M348.9 140.9h0.55M353.1 139.2h0.55M334.6 143.7h0.55M354.0 135.3h0.55M348.8 132.5h0.55M349.1 134.3h0.55M343.3 124.8h0.55M345.0 148.4h0.55M348.2 133.6h0.55M352.9 132.5h0.55M346.0 143.2h0.55M352.0 131.4h0.55M354.6 142.7h0.55M347.2 137.6h0.55M349.8 137.6h0.55M350.3 134.2h0.55M353.8 136.9h0.55M351.8 124.6h0.55M347.4 135.3h0.55M343.0 135.1h0.55M347.3 137.0h0.55M354.5 140.9h0.55M344.2 144.0h0.55M351.0 141.7h0.55M344.7 131.2h0.55M338.9 147.3h0.55M344.5 145.7h0.55M357.6 128.7h0.55M359.9 127.4h0.55M347.1 139.7h0.55M347.1 145.2h0.55M349.2 135.5h0.55M343.5 136.8h0.55M344.9 130.4h0.55M342.6 130.4h0.55M331.6 147.1h0.55M357.4 144.2h0.55M367.4 133.0h0.55M349.9 133.4h0.55M341.6 140.0h0.55M347.1 135.8h0.55M354.8 127.4h0.55M353.7 132.4h0.55M346.9 129.0h0.55M346.3 136.0h0.55M357.5 134.7h0.55M343.1 128.8h0.55M347.1 137.3h0.55M348.3 141.7h0.55M347.5 139.9h0.55M359.6 138.3h0.55M338.6 135.0h0.55M351.2 135.4h0.55M347.6 131.1h0.55M351.1 134.0h0.55M343.5 135.6h0.55M332.9 134.6h0.55M351.7 142.5h0.55M356.5 145.0h0.55M351.0 144.9h0.55M352.2 135.0h0.55M347.0 124.5h0.55M345.8 134.0h0.55M348.0 139.5h0.55M346.1 129.4h0.55M342.6 150.2h0.55M349.4 133.1h0.55M347.7 140.0h0.55M353.6 140.6h0.55M338.9 140.1h0.55M344.3 137.0h0.55M358.5 138.4h0.55M359.7 136.1h0.55M345.1 136.7h0.55M338.2 145.4h0.55M337.1 147.4h0.55M345.3 136.4h0.55M357.3 133.6h0.55M355.9 140.7h0.55M353.9 129.2h0.55M339.4 149.6h0.55M357.9 136.3h0.55M341.3 144.5h0.55M339.0 148.6h0.55M352.0 133.1h0.55M352.2 135.9h0.55M349.2 134.1h0.55M347.5 138.8h0.55M346.0 135.0h0.55M344.4 138.3h0.55M352.8 128.2h0.55M357.8 137.7h0.55M339.9 136.2h0.55M347.4 134.7h0.55M359.1 129.4h0.55M354.9 129.2h0.55M342.8 143.7h0.55M355.1 137.3h0.55M347.7 149.1h0.55M364.1 139.9h0.55M341.1 141.3h0.55M356.9 129.1h0.55M345.1 132.7h0.55M339.4 147.7h0.55M347.6 144.0h0.55M356.2 136.8h0.55M348.8 140.2h0.55M355.0 137.5h0.55M355.8 139.1h0.55M347.6 148.2h0.55M340.2 148.2h0.55M341.4 138.4h0.55M338.2 146.5h0.55M351.3 132.0h0.55M341.1 132.7h0.55M350.2 134.4h0.55M335.4 128.1h0.55M342.7 139.0h0.55M339.5 128.3h0.55M348.8 144.4h0.55M351.8 142.6h0.55M342.9 137.0h0.55M360.3 129.1h0.55M362.3 132.1h0.55M347.0 141.8h0.55M349.7 139.3h0.55M344.3 125.0h0.55M348.3 129.3h0.55M349.2 135.9h0.55M359.3 126.8h0.55M351.4 133.8h0.55M345.2 138.5h0.55M355.7 142.5h0.55M353.4 143.7h0.55M341.6 141.1h0.55M339.0 140.9h0.55M355.4 132.6h0.55M351.1 128.7h0.55M343.5 133.4h0.55M341.7 142.8h0.55M341.3 150.3h0.55M356.0 122.4h0.55M342.0 140.7h0.55M348.7 143.1h0.55M350.4 148.3h0.55M357.2 130.2h0.55M354.6 132.7h0.55M350.2 137.5h0.55M353.6 140.2h0.55M350.7 128.3h0.55M340.8 135.9h0.55M343.1 135.2h0.55M345.8 135.4h0.55M343.6 134.0h0.55M347.1 135.4h0.55M351.8 135.0h0.55M339.6 138.5h0.55M348.6 134.4h0.55M345.8 136.5h0.55M350.0 147.2h0.55M361.9 131.2h0.55M353.0 136.1h0.55M333.4 144.6h0.55M341.3 149.4h0.55M348.1 134.2h0.55M355.9 136.5h0.55M347.4 131.9h0.55M345.2 134.0h0.55M349.8 137.3h0.55M357.1 137.3h0.55M350.0 147.5h0.55M344.0 138.8h0.55M351.8 137.0h0.55M358.7 134.9h0.55M335.1 134.9h0.55M346.8 143.7h0.55M345.0 134.1h0.55M357.0 147.4h0.55M347.9 137.7h0.55M335.0 136.1h0.55M353.6 141.1h0.55M346.7 147.8h0.55M357.2 140.6h0.55M343.2 135.7h0.55M335.6 139.3h0.55M354.0 135.5h0.55M348.5 143.6h0.55M344.8 135.1h0.55M345.7 133.3h0.55M350.0 138.0h0.55M352.0 128.2h0.55M354.0 141.2h0.55M350.8 131.5h0.55M343.1 143.9h0.55M344.8 140.7h0.55M351.7 142.8h0.55M341.5 141.4h0.55M354.2 129.4h0.55M338.7 139.7h0.55M352.8 139.5h0.55M345.4 131.0h0.55M350.0 135.8h0.55M350.1 132.3h0.55M347.2 133.3h0.55M351.9 139.6h0.55M354.1 144.9h0.55M349.1 135.4h0.55M347.2 132.6h0.55M346.7 140.1h0.55M353.7 137.2h0.55M343.0 143.9h0.55M350.6 132.3h0.55M345.1 139.4h0.55M346.1 142.6h0.55M355.9 133.7h0.55M344.7 133.0h0.55M343.5 138.0h0.55M343.1 151.9h0.55M351.0 133.3h0.55M352.8 135.1h0.55M349.2 144.0h0.55M343.1 153.4h0.55M351.8 137.5h0.55M346.2 134.1h0.55M347.8 142.4h0.55M346.9 139.4h0.55M351.7 133.1h0.55M351.2 118.5h0.55M345.7 134.4h0.55M337.4 139.0h0.55M342.3 143.0h0.55M345.4 135.1h0.55M350.2 135.5h0.55M350.3 128.3h0.55M353.2 143.7h0.55M355.9 125.5h0.55M336.9 147.5h0.55M343.9 142.4h0.55M344.3 138.6h0.55M357.5 140.1h0.55M343.2 135.7h0.55M350.4 129.1h0.55M351.2 134.2h0.55M348.0 147.2h0.55M351.1 134.0h0.55M352.0 133.3h0.55M350.6 140.5h0.55M355.9 149.1h0.55M347.6 131.5h0.55M345.1 148.2h0.55M351.4 131.3h0.55M356.2 129.9h0.55M354.7 124.5h0.55M332.8 147.5h0.55M348.6 136.5h0.55M348.8 138.9h0.55M338.5 138.0h0.55M351.9 128.7h0.55M352.9 134.8h0.55M349.4 132.1h0.55M343.0 139.0h0.55M363.2 132.8h0.55M349.3 145.8h0.55M349.9 132.8h0.55M348.1 143.9h0.55M338.7 134.4h0.55M347.6 134.6h0.55M339.1 137.5h0.55M342.9 140.8h0.55M329.4 150.0h0.55M342.2 136.9h0.55M345.2 151.2h0.55M351.9 134.4h0.55M357.0 138.5h0.55M346.4 141.2h0.55M360.9 146.3h0.55M343.0 131.0h0.55M339.3 138.8h0.55M357.4 144.2h0.55M352.6 130.8h0.55M343.3 133.8h0.55M338.5 134.8h0.55M356.5 135.2h0.55M341.3 155.4h0.55M362.0 144.1h0.55M349.1 141.4h0.55M338.8 138.2h0.55M351.1 139.8h0.55M355.4 150.1h0.55M344.4 139.1h0.55M355.9 130.5h0.55M351.7 138.1h0.55M346.3 136.1h0.55M329.4 139.6h0.55M347.3 134.5h0.55M349.1 139.7h0.55M350.5 136.2h0.55M347.8 139.8h0.55M341.4 144.4h0.55M345.2 138.8h0.55M348.9 142.4h0.55M344.5 142.9h0.55M351.4 136.5h0.55M357.5 126.6h0.55M338.2 135.0h0.55M353.8 138.9h0.55M360.0 130.8h0.55M354.3 124.8h0.55M352.0 139.8h0.55M351.4 147.8h0.55M345.2 141.4h0.55M356.5 136.2h0.55M359.2 120.6h0.55M351.0 132.6h0.55M347.2 129.5h0.55M340.9 146.8h0.55M351.7 129.4h0.55M348.2 129.0h0.55M334.5 132.9h0.55M347.5 142.6h0.55M351.0 132.6h0.55M346.8 141.2h0.55M347.7 139.5h0.55M334.3 137.7h0.55M342.3 151.7h0.55M349.5 141.3h0.55M351.9 127.7h0.55M350.4 136.5h0.55M346.1 136.5h0.55M345.8 136.9h0.55M352.6 123.7h0.55M354.1 130.3h0.55M342.3 144.4h0.55M350.6 143.6h0.55M341.7 137.5h0.55M344.1 143.3h0.55M357.3 136.4h0.55M354.2 132.1h0.55M345.1 139.6h0.55M344.5 130.2h0.55M345.5 129.0h0.55M345.9 137.0h0.55M332.5 139.9h0.55M339.7 134.5h0.55M352.4 140.8h0.55M353.1 132.5h0.55M348.5 139.6h0.55M357.4 139.9h0.55M353.8 135.4h0.55M340.6 145.6h0.55M340.7 137.1h0.55M353.6 140.9h0.55M352.9 126.4h0.55M341.2 144.5h0.55M349.6 134.3h0.55M350.2 131.5h0.55M345.6 140.2h0.55M339.4 151.3h0.55M354.2 139.1h0.55M340.8 142.8h0.55M335.6 139.1h0.55M348.8 130.3h0.55M348.6 141.2h0.55M345.3 139.8h0.55M343.1 139.1h0.55M353.9 139.8h0.55M345.4 139.0h0.55M344.1 139.3h0.55M351.3 123.9h0.55M346.9 137.2h0.55M349.1 136.5h0.55M354.5 129.4h0.55M352.7 127.9h0.55M358.3 139.6h0.55M342.9 136.4h0.55M354.7 137.8h0.55M347.6 136.5h0.55M349.3 151.2h0.55M343.3 136.8h0.55M355.9 125.5h0.55M352.5 135.2h0.55M341.3 141.8h0.55M357.0 133.4h0.55M343.7 135.5h0.55M346.7 133.4h0.55M352.9 139.6h0.55M350.6 143.2h0.55M351.1 133.4h0.55M354.7 142.8h0.55M358.8 129.5h0.55M355.0 132.7h0.55M345.4 138.1h0.55M349.7 126.8h0.55M353.4 136.1h0.55M351.7 131.6h0.55M353.0 135.0h0.55M354.1 136.9h0.55M340.0 136.0h0.55M354.2 135.1h0.55M339.8 136.8h0.55M343.5 141.3h0.55M345.8 138.0h0.55M354.3 121.8h0.55M354.7 128.8h0.55" stroke="#3a3a3a" stroke-width="0.55" fill="none" opacity="1.0"/>
<path d="M344.5 138.7h0.55M364.8 135.5h0.55M341.5 122.2h0.55M366.2 126.6h0.55M341.9 129.6h0.55M358.3 123.3h0.55M365.1 133.0h0.55M336.4 146.5h0.55M356.0 135.5h0.55M361.3 127.9h0.55M336.5 143.7h0.55M339.3 131.5h0.55M373.9 131.8h0.55M366.5 132.8h0.55M365.3 134.9h0.55M367.0 142.6h0.55M350.9 127.1h0.55M360.3 136.9h0.55M341.0 146.9h0.55M364.5 139.1h0.55M342.2 146.9h0.55M333.7 137.8h0.55M349.4 141.8h0.55M371.2 110.7h0.55M355.1 157.4h0.55M365.6 136.8h0.55M359.0 111.3h0.55M346.8 129.3h0.55M354.8 113.1h0.55M351.7 127.2h0.55M371.7 138.8h0.55M341.9 120.1h0.55M353.6 132.0h0.55M346.0 142.4h0.55M362.0 108.8h0.55M334.8 129.4h0.55M350.4 129.8h0.55M348.9 137.6h0.55M363.5 135.3h0.55M360.5 131.4h0.55M378.4 141.5h0.55M371.5 135.7h0.55M349.9 128.7h0.55M352.0 135.4h0.55M334.3 148.1h0.55M359.8 130.7h0.55M348.0 126.4h0.55M371.7 123.5h0.55M358.1 121.5h0.55M362.4 134.9h0.55M346.1 135.3h0.55M369.2 134.5h0.55M371.6 120.1h0.55M333.3 117.9h0.55M359.6 143.0h0.55M371.0 121.9h0.55M369.7 137.4h0.55M345.4 137.1h0.55M356.3 133.2h0.55M376.9 125.8h0.55M365.4 137.1h0.55M371.5 128.2h0.55M366.2 132.1h0.55M366.5 133.6h0.55M371.4 135.0h0.55M361.3 142.3h0.55M358.5 133.0h0.55M366.4 139.5h0.55M355.0 124.7h0.55M354.1 118.0h0.55M354.9 135.8h0.55M361.7 132.3h0.55M354.4 116.6h0.55M354.3 137.3h0.55M360.8 123.1h0.55M374.6 128.2h0.55M364.5 122.0h0.55M369.0 129.6h0.55M379.2 121.7h0.55M349.9 130.5h0.55M383.5 118.2h0.55M340.0 121.9h0.55M350.1 127.2h0.55M361.3 136.0h0.55M362.4 144.3h0.55M372.5 133.5h0.55M372.1 128.3h0.55M370.6 127.4h0.55M360.4 128.0h0.55M351.4 134.7h0.55M350.6 141.1h0.55M375.0 114.6h0.55M377.1 122.0h0.55M370.2 128.0h0.55M360.9 121.0h0.55M352.9 128.4h0.55M354.0 131.2h0.55M346.3 132.6h0.55M346.3 142.2h0.55M360.5 110.6h0.55M365.4 130.1h0.55M352.1 141.4h0.55M347.8 139.6h0.55M356.4 136.6h0.55M355.8 136.4h0.55M365.5 140.3h0.55M376.2 131.6h0.55M348.0 132.6h0.55M379.5 110.5h0.55M360.8 127.1h0.55M375.0 120.1h0.55M368.1 114.4h0.55M346.8 128.4h0.55M345.5 132.6h0.55M341.3 141.1h0.55M347.1 145.1h0.55M367.2 135.7h0.55M343.2 151.6h0.55M328.6 131.5h0.55M336.4 139.5h0.55M336.2 137.0h0.55M345.7 124.2h0.55M362.6 126.3h0.55M363.8 121.3h0.55M345.1 131.6h0.55M374.2 116.1h0.55M351.3 139.6h0.55M337.1 117.6h0.55M353.3 130.8h0.55M343.2 131.8h0.55M356.0 116.5h0.55M366.0 135.7h0.55M350.2 125.0h0.55M366.0 138.4h0.55M355.9 135.5h0.55M372.9 138.5h0.55M367.3 119.2h0.55M342.6 138.2h0.55M369.1 123.4h0.55M358.4 129.5h0.55M353.8 123.8h0.55M362.2 137.8h0.55M352.8 142.8h0.55M335.3 129.7h0.55M352.8 141.6h0.55M370.2 127.1h0.55M372.5 137.7h0.55M361.5 129.8h0.55M352.7 132.3h0.55M353.8 136.6h0.55M357.1 127.2h0.55M366.1 118.4h0.55M358.5 126.0h0.55M355.8 143.3h0.55M362.7 142.0h0.55M360.1 120.7h0.55M362.5 126.8h0.55M367.6 138.5h0.55M346.3 130.2h0.55M351.9 129.0h0.55M365.8 124.4h0.55M355.4 124.0h0.55M356.8 122.9h0.55M339.4 121.8h0.55M355.1 121.4h0.55M361.8 127.6h0.55M350.0 134.9h0.55M346.5 138.9h0.55M335.0 135.0h0.55M353.6 127.1h0.55M356.4 122.2h0.55M350.7 119.4h0.55M331.0 156.1h0.55M348.5 117.7h0.55M350.0 129.6h0.55M341.0 151.2h0.55M360.0 130.6h0.55M348.5 137.9h0.55M361.7 125.5h0.55M333.7 149.7h0.55M357.8 125.6h0.55M363.9 124.8h0.55M354.4 133.2h0.55M367.0 135.3h0.55M380.5 126.9h0.55M342.2 120.1h0.55M357.3 116.8h0.55M336.3 124.8h0.55M366.5 137.8h0.55M347.9 119.5h0.55M335.4 125.1h0.55M376.4 116.9h0.55M346.7 153.2h0.55M365.9 127.4h0.55M335.3 129.7h0.55M364.8 153.4h0.55M353.3 124.3h0.55M352.2 123.7h0.55M349.4 112.5h0.55M378.2 112.0h0.55M355.0 122.9h0.55M356.7 118.6h0.55M348.4 146.9h0.55M356.8 135.1h0.55M344.8 141.5h0.55M378.4 126.7h0.55M349.2 128.2h0.55M344.4 135.9h0.55M348.7 124.3h0.55M339.1 127.5h0.55M337.7 137.6h0.55M333.9 147.2h0.55M370.5 134.7h0.55M347.3 131.8h0.55M352.1 129.4h0.55M351.5 125.4h0.55M359.1 137.6h0.55M378.9 132.1h0.55M365.2 137.5h0.55M357.5 137.3h0.55M347.1 126.3h0.55M345.1 138.2h0.55M342.4 137.0h0.55M380.1 119.9h0.55M354.2 138.7h0.55M386.3 127.1h0.55M350.0 137.3h0.55M351.7 127.5h0.55M362.5 130.8h0.55M350.8 122.0h0.55M359.8 134.3h0.55M337.1 140.3h0.55M360.8 139.6h0.55M360.5 117.6h0.55M363.1 117.3h0.55M342.3 121.8h0.55M338.6 118.0h0.55M341.7 127.4h0.55M354.8 130.3h0.55M354.1 128.5h0.55M355.5 128.0h0.55M367.7 128.7h0.55M366.0 142.1h0.55M362.1 136.5h0.55M346.8 117.0h0.55M348.8 133.8h0.55M349.7 128.5h0.55M358.0 136.2h0.55M352.3 139.3h0.55M355.5 126.5h0.55M371.0 123.9h0.55M366.0 122.2h0.55M342.7 133.1h0.55M363.7 134.3h0.55M339.0 129.4h0.55M357.6 136.0h0.55M350.4 117.7h0.55M366.9 147.9h0.55M375.9 121.4h0.55M366.5 131.2h0.55M354.2 130.6h0.55M339.4 127.6h0.55M366.8 133.4h0.55M360.7 127.2h0.55M360.1 127.3h0.55M363.6 125.2h0.55M356.3 110.8h0.55M349.2 145.7h0.55M382.8 130.5h0.55M354.0 139.6h0.55M377.6 110.8h0.55M351.0 140.6h0.55M365.7 121.2h0.55M362.8 131.6h0.55M340.9 144.8h0.55M361.5 134.4h0.55M365.2 122.9h0.55M346.0 126.2h0.55M354.5 134.0h0.55M364.8 127.4h0.55M350.6 129.9h0.55M344.7 129.0h0.55M355.4 127.0h0.55M342.3 128.8h0.55M374.9 130.4h0.55M354.1 141.8h0.55M368.9 131.4h0.55M356.5 128.4h0.55M357.2 112.5h0.55M373.8 128.6h0.55M350.0 143.6h0.55M362.9 133.1h0.55M343.7 128.0h0.55M373.9 126.5h0.55M369.8 125.5h0.55M349.0 118.7h0.55M372.7 114.1h0.55M339.9 121.0h0.55M351.8 145.0h0.55M353.5 118.1h0.55M336.7 145.5h0.55M363.9 123.4h0.55M357.4 125.1h0.55M368.2 122.1h0.55M359.4 120.6h0.55M369.8 120.2h0.55M356.2 133.6h0.55M361.9 128.9h0.55M356.8 137.9h0.55M376.0 122.5h0.55M362.0 136.8h0.55M383.0 116.1h0.55M345.2 131.2h0.55M349.4 135.7h0.55M360.5 138.6h0.55M367.1 112.4h0.55M361.0 119.5h0.55M347.7 121.0h0.55M362.3 135.6h0.55M359.5 132.8h0.55M340.9 136.7h0.55M357.3 130.5h0.55M366.2 118.8h0.55M367.0 128.9h0.55M360.3 132.8h0.55M355.0 120.6h0.55M382.9 136.2h0.55M359.5 133.7h0.55M356.3 159.6h0.55M349.2 145.7h0.55M368.4 142.9h0.55M355.8 129.5h0.55M353.1 130.1h0.55M353.2 133.4h0.55M371.2 118.8h0.55M347.0 136.1h0.55M361.7 128.8h0.55M354.2 127.3h0.55M375.8 119.7h0.55M367.3 127.5h0.55M353.9 110.7h0.55M335.4 125.3h0.55M360.0 132.5h0.55M357.4 123.8h0.55M379.0 124.3h0.55M333.5 140.0h0.55M362.4 129.0h0.55M359.2 131.2h0.55M362.7 128.7h0.55M373.7 132.6h0.55M359.2 127.8h0.55M348.7 137.4h0.55M355.6 136.0h0.55M373.1 120.1h0.55M358.4 129.5h0.55M361.2 121.1h0.55M374.2 140.5h0.55M344.7 140.0h0.55M366.8 138.6h0.55M379.2 123.3h0.55M362.8 130.8h0.55M356.2 141.5h0.55M345.4 142.7h0.55M346.4 131.5h0.55M354.9 137.8h0.55M358.2 118.3h0.55M345.5 143.9h0.55M367.0 120.8h0.55M368.4 123.1h0.55M344.4 131.3h0.55M367.5 121.7h0.55M326.5 140.1h0.55M341.0 146.4h0.55M345.3 117.3h0.55M374.7 132.1h0.55M360.0 133.8h0.55M343.1 131.5h0.55M364.3 129.5h0.55M380.7 123.7h0.55M360.0 141.9h0.55M377.6 119.3h0.55M369.9 138.3h0.55M360.6 128.7h0.55M367.9 130.0h0.55M362.8 112.6h0.55M357.4 141.5h0.55M366.7 117.5h0.55M341.6 140.4h0.55M356.5 139.9h0.55M356.9 133.3h0.55M348.5 130.5h0.55M368.3 108.7h0.55M352.1 115.9h0.55M373.4 135.9h0.55M369.0 120.8h0.55M340.2 136.2h0.55M357.9 144.9h0.55M354.7 134.3h0.55M342.1 146.9h0.55M370.8 134.3h0.55M350.8 127.9h0.55M362.9 134.3h0.55M375.9 136.8h0.55M358.0 126.8h0.55M369.7 120.2h0.55M341.5 128.2h0.55M360.4 126.4h0.55M359.9 129.8h0.55M352.7 125.2h0.55M376.3 132.4h0.55M357.7 117.9h0.55M353.8 132.5h0.55M359.9 133.9h0.55M358.0 137.4h0.55M353.7 118.9h0.55M356.2 116.0h0.55M358.9 122.6h0.55M382.4 119.5h0.55M351.9 137.8h0.55M343.5 125.4h0.55M349.2 134.1h0.55M365.6 121.7h0.55M351.7 126.6h0.55M338.9 121.1h0.55M342.8 136.6h0.55M345.2 144.3h0.55M370.6 136.7h0.55M357.1 128.1h0.55M362.1 128.4h0.55M361.0 140.3h0.55M366.0 125.0h0.55M364.9 131.1h0.55M361.5 144.6h0.55M371.9 121.2h0.55M348.8 138.2h0.55M357.6 133.9h0.55M360.3 131.9h0.55M347.8 129.8h0.55M357.1 130.3h0.55M353.8 130.2h0.55M357.7 132.7h0.55M366.2 129.3h0.55M351.5 115.5h0.55M356.8 139.4h0.55M365.5 143.4h0.55M342.1 126.0h0.55M350.2 129.6h0.55M359.0 128.3h0.55M365.1 116.0h0.55M374.3 123.2h0.55M370.7 124.6h0.55M346.1 124.4h0.55M356.8 132.1h0.55M354.1 121.2h0.55M380.0 126.6h0.55M358.3 129.1h0.55M357.0 134.6h0.55M368.2 130.6h0.55M370.2 145.4h0.55M353.4 134.5h0.55M354.4 128.2h0.55M353.9 127.6h0.55M354.8 130.9h0.55M351.9 147.1h0.55M345.4 128.3h0.55M358.7 125.8h0.55M356.6 139.4h0.55M369.3 126.5h0.55M384.7 118.6h0.55M372.6 119.2h0.55M345.7 132.2h0.55M366.6 130.8h0.55M366.4 127.7h0.55M360.5 127.4h0.55M345.5 137.2h0.55M347.2 147.3h0.55M347.3 136.8h0.55M330.2 127.5h0.55M373.2 131.7h0.55M344.6 128.8h0.55M355.5 110.4h0.55M365.0 125.0h0.55M354.8 116.9h0.55M355.5 136.4h0.55M366.7 130.1h0.55M353.9 121.4h0.55M351.7 139.7h0.55M351.2 125.0h0.55M357.3 137.9h0.55M373.7 122.9h0.55M347.6 127.8h0.55M349.1 132.9h0.55M343.6 140.5h0.55M352.0 135.0h0.55M350.4 131.5h0.55M336.6 130.5h0.55M356.5 127.0h0.55M374.4 123.5h0.55M352.9 128.4h0.55M350.4 144.2h0.55M331.4 140.3h0.55M356.8 128.1h0.55M361.9 131.9h0.55M365.3 144.0h0.55M353.2 133.5h0.55M359.4 143.1h0.55M372.4 132.7h0.55M360.5 135.0h0.55M344.7 132.8h0.55M334.5 130.2h0.55M357.3 127.5h0.55M334.4 115.2h0.55M362.6 118.8h0.55M346.7 133.7h0.55M378.5 128.2h0.55M365.3 125.0h0.55M340.5 116.7h0.55M349.2 132.0h0.55M369.9 131.6h0.55M383.4 131.9h0.55M341.9 135.3h0.55M361.3 132.3h0.55M353.9 117.8h0.55M358.4 140.0h0.55M339.7 131.3h0.55M373.2 137.2h0.55M344.8 142.9h0.55M358.0 124.3h0.55M341.9 135.0h0.55M374.2 117.3h0.55M347.9 122.1h0.55M363.3 121.6h0.55M368.4 140.1h0.55M373.0 119.8h0.55M363.9 130.1h0.55M351.9 112.9h0.55M354.6 129.1h0.55M379.7 114.2h0.55M338.7 141.5h0.55M366.3 123.4h0.55M360.5 129.7h0.55M362.7 145.5h0.55M347.3 119.1h0.55M337.7 132.9h0.55M352.1 129.6h0.55M380.0 123.3h0.55M358.2 132.2h0.55M369.8 117.6h0.55M378.3 107.5h0.55M353.1 128.6h0.55M338.1 146.1h0.55M361.4 135.9h0.55M346.9 120.3h0.55M372.4 127.5h0.55M364.6 126.5h0.55M329.9 142.9h0.55M377.2 123.3h0.55M336.9 138.3h0.55M382.4 129.9h0.55M345.4 139.1h0.55M357.3 153.3h0.55M359.7 121.7h0.55M374.4 136.3h0.55M371.6 122.2h0.55M384.7 133.9h0.55M365.3 134.0h0.55M355.4 142.0h0.55M366.1 120.1h0.55M352.9 142.7h0.55M359.1 131.1h0.55M345.2 127.9h0.55M360.9 138.8h0.55M368.2 131.7h0.55M349.4 137.7h0.55M353.2 122.4h0.55M331.9 146.3h0.55M336.2 143.5h0.55M335.6 137.6h0.55M359.9 127.0h0.55M377.3 125.7h0.55M356.4 130.3h0.55M347.8 129.5h0.55M340.1 150.3h0.55M363.2 123.0h0.55M370.7 124.9h0.55M343.6 118.4h0.55M337.6 147.1h0.55M356.6 123.0h0.55M333.8 146.7h0.55M383.8 126.1h0.55M358.2 115.7h0.55" stroke="#3a3a3a" stroke-width="0.55" fill="none" opacity="1.0"/>
<path d="M352.1 149.6h0.6M338.3 157.2h0.6M334.5 154.6h0.6M334.5 147.0h0.6M341.6 157.4h0.6M343.2 154.8h0.6M343.1 156.1h0.6M353.8 167.5h0.6M337.6 161.4h0.6M344.0 155.4h0.6M349.8 161.4h0.6M342.8 160.0h0.6M344.0 153.0h0.6M360.8 162.4h0.6M341.3 153.4h0.6M348.4 166.1h0.6M340.9 163.1h0.6M351.8 146.1h0.6M342.0 155.5h0.6M347.8 165.0h0.6M352.0 166.1h0.6M333.1 154.0h0.6M347.6 153.4h0.6M345.6 151.0h0.6M339.4 152.8h0.6M350.2 159.5h0.6M342.3 150.4h0.6M347.4 163.4h0.6M340.7 147.1h0.6M356.2 153.2h0.6M355.0 157.3h0.6M344.7 152.9h0.6M350.0 160.6h0.6M353.4 148.9h0.6M347.9 159.7h0.6M346.8 155.3h0.6M354.9 161.5h0.6M350.0 153.5h0.6M344.8 155.1h0.6M360.4 158.9h0.6M340.9 151.0h0.6M347.0 145.9h0.6M347.4 159.9h0.6M357.3 157.9h0.6M333.3 148.5h0.6M351.9 160.8h0.6M341.4 162.7h0.6M343.7 154.5h0.6M338.7 150.1h0.6M335.4 151.6h0.6M352.7 156.8h0.6M349.4 153.6h0.6M343.5 152.3h0.6M350.7 158.5h0.6M347.9 164.3h0.6M357.3 149.1h0.6M353.3 168.4h0.6M351.0 159.5h0.6M337.3 157.6h0.6M356.4 150.3h0.6M342.7 155.4h0.6M339.5 154.5h0.6M334.1 154.6h0.6M341.2 163.3h0.6M371.2 150.8h0.6M345.4 151.3h0.6M345.1 155.8h0.6M342.5 164.4h0.6M346.6 158.9h0.6M336.6 166.5h0.6M337.2 157.8h0.6M343.8 150.4h0.6M355.1 159.8h0.6M328.6 151.2h0.6M338.9 157.9h0.6M337.9 164.1h0.6M344.3 142.3h0.6M347.4 157.3h0.6M337.9 151.9h0.6M334.4 153.7h0.6M348.2 160.3h0.6M340.1 155.3h0.6M339.4 153.3h0.6M337.0 154.0h0.6M347.5 158.4h0.6M334.7 156.6h0.6M344.3 157.7h0.6M358.5 162.1h0.6M342.4 161.5h0.6M349.5 152.1h0.6M363.6 162.8h0.6M351.2 155.0h0.6M345.7 158.8h0.6M353.2 154.7h0.6M344.1 162.6h0.6M341.7 163.1h0.6M354.0 153.0h0.6M325.9 162.8h0.6M348.2 150.1h0.6M355.7 152.1h0.6M337.7 161.3h0.6M336.6 160.0h0.6M342.1 149.3h0.6M324.8 148.1h0.6M355.9 153.4h0.6M335.6 165.3h0.6M351.5 155.4h0.6M346.5 159.0h0.6M348.3 156.6h0.6M349.5 149.1h0.6M353.2 149.7h0.6M334.4 150.9h0.6M341.4 155.6h0.6M341.7 164.4h0.6M337.6 167.1h0.6M343.3 147.7h0.6M353.2 146.8h0.6M341.9 168.1h0.6M353.9 148.7h0.6M330.3 160.2h0.6M362.4 147.7h0.6M346.9 154.1h0.6M345.9 157.5h0.6M339.2 158.2h0.6M350.3 145.6h0.6M338.9 153.9h0.6M353.5 160.0h0.6M356.0 149.9h0.6M347.2 160.5h0.6M348.1 160.4h0.6M363.5 144.5h0.6M338.9 168.2h0.6M332.8 156.3h0.6M332.2 159.8h0.6M361.4 163.1h0.6M353.0 153.2h0.6M338.8 156.6h0.6M346.9 142.1h0.6M331.6 155.8h0.6M348.5 153.4h0.6M338.3 144.1h0.6M343.3 163.3h0.6M340.5 158.8h0.6M345.5 148.6h0.6M345.0 157.6h0.6M349.2 167.6h0.6M357.4 159.7h0.6M355.7 158.1h0.6M350.5 159.4h0.6M358.8 161.2h0.6M346.9 157.2h0.6M358.2 155.7h0.6M345.3 151.4h0.6M345.1 165.3h0.6M358.6 156.3h0.6M352.8 160.9h0.6M344.0 160.1h0.6M344.4 156.5h0.6M344.3 143.8h0.6M348.1 147.9h0.6M352.8 162.7h0.6M338.1 159.4h0.6M339.7 148.8h0.6M337.4 156.6h0.6M341.5 152.7h0.6M345.2 164.8h0.6M342.4 149.9h0.6M340.4 165.7h0.6M347.6 152.5h0.6M343.7 155.2h0.6M361.1 158.0h0.6M332.7 140.9h0.6M354.0 149.3h0.6M359.3 148.4h0.6M361.4 150.4h0.6M352.0 146.6h0.6M328.9 144.8h0.6M344.7 155.7h0.6M355.4 153.9h0.6M358.9 152.6h0.6M352.0 145.8h0.6M333.7 161.4h0.6M346.5 153.9h0.6M351.0 152.5h0.6M359.0 157.6h0.6M350.9 148.5h0.6M337.8 152.2h0.6M345.1 158.1h0.6M342.9 153.6h0.6M345.8 149.1h0.6M334.5 163.0h0.6M363.6 158.3h0.6M335.0 151.0h0.6M356.9 155.9h0.6M347.2 159.9h0.6M340.1 157.9h0.6M356.6 150.8h0.6M349.0 163.9h0.6M361.4 152.3h0.6M344.8 156.6h0.6M331.2 145.5h0.6M345.2 163.6h0.6M347.3 149.0h0.6M350.7 152.1h0.6M343.6 151.2h0.6M333.6 167.5h0.6M350.7 161.4h0.6M344.7 156.9h0.6M349.9 162.5h0.6M350.5 146.4h0.6M327.7 151.6h0.6M352.2 160.1h0.6M344.5 161.3h0.6M330.9 158.6h0.6M346.3 155.7h0.6M339.1 162.4h0.6M350.6 157.9h0.6M353.5 162.0h0.6M329.4 161.9h0.6M360.9 151.6h0.6M338.0 156.2h0.6M357.7 161.9h0.6M353.9 152.0h0.6M340.6 157.1h0.6M340.4 155.7h0.6M348.4 164.1h0.6M341.6 154.6h0.6M351.0 152.1h0.6M346.3 161.1h0.6M339.3 164.0h0.6M356.7 159.7h0.6M332.9 160.9h0.6M346.8 150.4h0.6M346.6 161.8h0.6M356.7 149.1h0.6M345.5 164.3h0.6M347.5 160.6h0.6M356.0 166.6h0.6M360.7 143.9h0.6M349.5 156.4h0.6M352.3 156.2h0.6M366.1 155.4h0.6M341.0 155.2h0.6M339.2 150.7h0.6M351.4 149.2h0.6M342.8 152.2h0.6M344.6 162.0h0.6M353.5 155.9h0.6M340.4 156.5h0.6M338.2 153.4h0.6M344.0 149.0h0.6M337.8 149.0h0.6M353.7 154.4h0.6M341.0 148.1h0.6M358.0 154.5h0.6M335.6 155.6h0.6M343.7 166.9h0.6M344.2 152.0h0.6M349.1 153.9h0.6M343.0 159.0h0.6M360.7 165.1h0.6M334.3 157.7h0.6M355.8 155.5h0.6M339.8 160.3h0.6M348.7 152.3h0.6M343.6 166.8h0.6M353.0 157.8h0.6M343.9 152.0h0.6M349.4 154.9h0.6M343.2 157.4h0.6M352.8 159.2h0.6M337.0 146.3h0.6M340.1 157.1h0.6M337.2 155.8h0.6M347.3 162.3h0.6M350.9 156.1h0.6M348.4 149.1h0.6M349.7 162.0h0.6M363.3 154.9h0.6M357.6 154.8h0.6M343.6 154.1h0.6M340.8 147.7h0.6M331.8 160.8h0.6M358.5 154.8h0.6M345.6 146.0h0.6M359.3 155.6h0.6M348.2 167.8h0.6M356.9 155.1h0.6M354.7 157.3h0.6M342.5 157.1h0.6M347.7 163.6h0.6M341.5 161.3h0.6M354.1 154.7h0.6M340.1 150.4h0.6M362.5 147.2h0.6M346.3 162.9h0.6M345.1 150.8h0.6M336.8 151.1h0.6M356.8 150.1h0.6M329.1 154.6h0.6M337.7 165.8h0.6M358.3 163.8h0.6M352.1 151.2h0.6M337.4 152.3h0.6M334.5 162.8h0.6M349.5 139.4h0.6M347.4 153.2h0.6M354.1 156.0h0.6M329.2 154.8h0.6M333.4 159.6h0.6M333.7 163.2h0.6M345.8 160.3h0.6M331.7 151.5h0.6M347.9 157.6h0.6M348.0 157.8h0.6M345.0 161.0h0.6M355.5 150.5h0.6M361.9 152.8h0.6M339.0 158.2h0.6M344.1 165.1h0.6M365.2 162.4h0.6M349.0 154.5h0.6M340.2 155.1h0.6M360.3 166.9h0.6M340.4 163.2h0.6M350.1 149.3h0.6M344.2 159.3h0.6M350.7 164.3h0.6M353.3 152.7h0.6M339.1 160.5h0.6M354.2 158.0h0.6M344.7 154.9h0.6M346.6 151.2h0.6M349.9 156.6h0.6M342.9 151.5h0.6M335.8 146.4h0.6M338.4 160.2h0.6M354.2 151.0h0.6M346.9 152.5h0.6M344.7 155.6h0.6M352.5 161.0h0.6M351.1 146.3h0.6M349.2 164.9h0.6M330.2 151.1h0.6M346.5 161.0h0.6M344.6 154.5h0.6M347.2 162.2h0.6M338.6 152.3h0.6M347.3 157.4h0.6M342.1 165.3h0.6M334.2 156.1h0.6M364.0 148.7h0.6M341.8 155.7h0.6M343.3 156.4h0.6M344.4 155.1h0.6M352.4 157.1h0.6M337.0 150.2h0.6M353.7 163.7h0.6M343.1 153.0h0.6M342.1 156.1h0.6M347.9 141.0h0.6M337.3 151.3h0.6M343.2 157.4h0.6M337.5 157.6h0.6M351.2 157.3h0.6M353.3 155.6h0.6M365.4 164.8h0.6M355.1 159.5h0.6M348.0 147.8h0.6M337.6 152.5h0.6M356.8 159.8h0.6M351.8 153.4h0.6M361.0 159.0h0.6M349.6 159.8h0.6M331.2 163.9h0.6M328.4 160.8h0.6M349.0 158.2h0.6M358.0 157.8h0.6M337.8 164.6h0.6M338.3 155.5h0.6M344.5 167.1h0.6M334.7 148.4h0.6M345.3 160.3h0.6M346.5 155.9h0.6M353.9 163.5h0.6M344.0 163.8h0.6M346.5 150.2h0.6M347.1 158.3h0.6M336.5 157.6h0.6M341.9 149.7h0.6M346.7 156.8h0.6M349.7 154.7h0.6M349.9 158.6h0.6M354.1 162.4h0.6M344.0 158.8h0.6M349.9 158.1h0.6M356.2 163.1h0.6M349.4 152.4h0.6M343.0 158.9h0.6M351.4 157.1h0.6M340.3 151.8h0.6M347.5 156.9h0.6M347.8 152.1h0.6M360.5 156.5h0.6M351.4 153.4h0.6M340.0 153.4h0.6M344.7 158.0h0.6M351.2 155.4h0.6M366.0 159.9h0.6M350.8 160.4h0.6M356.1 147.3h0.6M361.8 159.9h0.6M345.5 154.4h0.6M338.3 161.8h0.6M352.1 157.6h0.6M353.9 156.3h0.6M341.3 148.1h0.6M352.4 150.1h0.6M345.0 155.4h0.6M341.8 160.2h0.6M333.9 149.6h0.6M351.4 156.5h0.6M337.5 159.3h0.6M349.0 147.6h0.6M347.3 163.7h0.6M362.7 155.0h0.6M341.6 160.2h0.6M341.6 143.6h0.6M338.8 151.1h0.6M351.3 161.5h0.6M358.0 158.7h0.6M340.8 152.0h0.6M351.7 151.0h0.6M340.9 151.4h0.6M343.2 155.5h0.6M346.8 154.8h0.6M341.1 155.3h0.6M349.0 157.4h0.6M337.8 147.1h0.6M359.0 158.2h0.6M358.2 152.4h0.6M338.6 160.9h0.6M355.5 156.7h0.6M362.2 158.6h0.6M335.5 154.6h0.6M349.0 152.8h0.6M338.0 159.6h0.6M340.7 148.6h0.6M339.0 150.6h0.6M345.8 155.0h0.6M338.1 152.2h0.6M347.5 161.7h0.6M326.4 153.5h0.6M353.2 147.3h0.6M348.6 157.5h0.6M356.8 159.0h0.6M342.8 158.5h0.6M354.0 158.7h0.6M337.8 157.1h0.6M338.6 151.2h0.6M354.8 154.5h0.6M349.6 163.8h0.6M359.7 164.5h0.6M351.1 150.4h0.6M342.3 161.9h0.6M355.5 151.6h0.6M348.9 158.1h0.6M347.4 158.1h0.6M345.2 152.8h0.6M356.4 148.4h0.6M345.5 144.5h0.6M349.5 168.7h0.6M340.1 160.2h0.6M348.6 158.5h0.6M339.3 158.2h0.6M338.3 159.7h0.6M355.6 155.2h0.6M360.6 161.3h0.6M343.3 149.7h0.6M345.8 153.8h0.6M343.8 155.2h0.6M343.4 148.4h0.6M353.2 147.2h0.6M350.5 155.8h0.6M351.6 155.5h0.6M338.7 146.4h0.6M349.6 159.5h0.6M337.0 156.5h0.6M354.7 149.3h0.6M347.8 157.7h0.6M344.5 161.0h0.6M346.4 152.9h0.6M336.8 167.3h0.6M354.1 162.9h0.6M337.2 158.6h0.6M345.7 155.4h0.6M351.5 166.1h0.6M346.3 162.3h0.6M334.3 163.3h0.6M347.3 162.0h0.6M355.7 160.0h0.6M349.2 155.0h0.6M340.5 154.0h0.6M337.5 159.9h0.6M351.6 160.6h0.6M343.4 155.7h0.6M347.7 160.0h0.6M340.3 158.8h0.6M334.6 150.1h0.6M347.3 150.7h0.6M336.6 150.7h0.6M337.1 152.9h0.6M349.7 159.9h0.6M348.7 155.3h0.6M349.2 158.2h0.6M339.3 153.6h0.6M352.4 164.5h0.6M344.6 151.1h0.6M347.6 144.4h0.6M333.0 160.7h0.6M337.9 160.3h0.6M355.0 154.8h0.6M354.1 158.3h0.6M336.1 159.2h0.6M348.0 148.2h0.6M353.6 159.3h0.6M341.7 165.4h0.6M367.9 164.0h0.6M347.5 151.2h0.6M339.4 159.5h0.6M336.3 167.8h0.6M345.0 156.6h0.6M364.4 152.7h0.6M335.3 159.2h0.6M353.5 153.6h0.6M349.6 162.2h0.6M352.8 158.2h0.6M348.1 160.3h0.6M346.8 164.5h0.6M351.7 146.6h0.6M340.5 154.9h0.6M349.1 167.6h0.6M350.1 158.3h0.6M352.3 151.4h0.6M355.5 151.8h0.6M360.4 155.4h0.6M342.1 159.1h0.6M357.4 166.3h0.6M344.5 163.0h0.6M337.8 150.5h0.6M347.7 159.8h0.6M360.3 159.8h0.6M341.8 154.8h0.6M346.3 148.3h0.6M359.6 154.4h0.6M346.0 156.7h0.6M354.9 160.1h0.6M347.4 156.2h0.6M352.2 160.2h0.6M340.8 150.6h0.6M334.9 159.2h0.6M339.2 157.6h0.6M361.2 157.2h0.6M357.3 156.3h0.6M344.2 157.2h0.6M348.8 158.9h0.6M354.1 155.1h0.6M337.3 146.4h0.6M343.6 167.9h0.6M331.9 155.1h0.6M356.2 143.2h0.6M340.3 165.1h0.6M352.3 158.8h0.6M339.9 162.6h0.6M359.2 151.3h0.6M361.4 144.0h0.6M350.6 152.7h0.6M353.3 165.4h0.6M342.1 152.1h0.6M345.7 158.1h0.6M351.2 160.5h0.6M340.7 167.1h0.6M337.5 159.9h0.6M349.3 144.0h0.6M360.2 156.8h0.6M336.5 165.8h0.6M349.7 154.4h0.6M351.4 153.6h0.6M335.0 148.2h0.6M347.5 167.3h0.6M353.4 163.3h0.6M335.8 152.6h0.6M347.8 166.3h0.6M337.0 154.3h0.6M339.5 153.2h0.6M338.1 155.0h0.6M346.0 154.7h0.6M333.9 150.2h0.6M347.8 153.3h0.6M335.2 155.9h0.6M354.3 151.1h0.6M354.5 162.1h0.6M340.2 162.7h0.6M335.6 151.5h0.6M351.6 155.4h0.6M332.4 167.5h0.6M340.8 164.5h0.6M338.8 158.7h0.6M345.8 153.4h0.6M356.7 155.4h0.6M345.6 164.1h0.6M342.5 159.7h0.6M353.4 146.2h0.6M339.8 156.3h0.6M330.4 163.3h0.6M345.8 151.7h0.6M345.3 148.3h0.6M342.5 147.7h0.6M343.2 153.4h0.6M348.6 144.5h0.6M350.4 154.1h0.6M345.6 153.9h0.6M356.6 159.8h0.6M351.1 159.0h0.6M351.4 162.4h0.6M360.7 153.8h0.6M353.5 158.1h0.6M341.2 156.6h0.6M343.7 162.8h0.6M350.3 156.2h0.6M359.0 159.8h0.6M332.5 153.3h0.6M332.8 156.0h0.6M343.0 163.1h0.6M346.2 161.7h0.6M345.3 153.6h0.6M352.6 157.3h0.6M347.1 159.3h0.6M343.4 166.2h0.6M339.0 156.6h0.6M354.3 152.8h0.6M330.2 155.9h0.6M340.9 158.0h0.6M355.4 156.3h0.6M348.7 157.8h0.6M348.9 159.1h0.6M350.8 160.5h0.6M342.3 140.5h0.6M342.9 161.2h0.6M352.7 158.9h0.6M336.6 152.0h0.6M344.2 156.2h0.6M345.0 149.4h0.6M342.2 157.9h0.6M344.6 163.7h0.6M355.3 155.4h0.6M340.0 164.8h0.6M346.4 159.1h0.6M348.9 159.4h0.6M353.3 159.7h0.6M354.9 156.8h0.6M344.3 149.0h0.6M358.6 153.8h0.6M344.9 153.1h0.6M345.0 165.2h0.6M338.7 149.5h0.6M353.2 160.8h0.6M338.2 158.1h0.6M350.6 155.1h0.6M347.9 149.0h0.6M353.0 160.9h0.6M334.7 152.5h0.6M349.0 154.8h0.6M352.1 165.6h0.6M350.8 156.0h0.6M346.8 154.4h0.6M371.3 156.7h0.6M348.0 150.6h0.6M352.7 149.7h0.6M339.7 157.3h0.6M349.5 153.2h0.6M334.8 147.8h0.6M351.8 160.2h0.6M355.7 159.6h0.6M346.3 149.2h0.6M358.9 157.1h0.6M346.4 152.1h0.6" stroke="#333" stroke-width="0.6" fill="none" opacity="1.0"/>
<path d="M331.30 158.50 C331.30 153.95 333.75 151.50 338.30 151.20 L353.40 147.46 C358.30 147.03 361.10 149.30 361.10 153.85 C361.10 161.65 357.25 165.50 351.65 165.50 L338.30 165.50 C333.75 165.50 331.30 163.05 331.30 158.50Z" transform="translate(346.20 156.35) scale(1.020 1.033) translate(-346.20 -156.35)" fill="#3a3a3a" opacity="0.8" filter="url(#b1)"/>
<path d="M331.30 158.50 C331.30 153.95 333.75 151.50 338.30 151.20 L353.40 147.46 C358.30 147.03 361.10 149.30 361.10 153.85 C361.10 161.65 357.25 165.50 351.65 165.50 L338.30 165.50 C333.75 165.50 331.30 163.05 331.30 158.50Z" transform="translate(346.20 156.35) scale(1.040 1.066) translate(-346.20 -156.35)" fill="none" stroke="#2a2a2a" stroke-width="1.5" stroke-dasharray="0.5 0.6"/>
<path d="M331.30 158.50 C331.30 153.95 333.75 151.50 338.30 151.20 L353.40 147.46 C358.30 147.03 361.10 149.30 361.10 153.85 C361.10 161.65 357.25 165.50 351.65 165.50 L338.30 165.50 C333.75 165.50 331.30 163.05 331.30 158.50Z" transform="translate(346.20 156.35) scale(0.980 0.967) translate(-346.20 -156.35)" fill="#1e1e1e" opacity="1" filter="url(#b05)"/>
<path d="M331.30 158.50 C331.30 153.95 333.75 151.50 338.30 151.20 L353.40 147.46 C358.30 147.03 361.10 149.30 361.10 153.85 C361.10 161.65 357.25 165.50 351.65 165.50 L338.30 165.50 C333.75 165.50 331.30 163.05 331.30 158.50Z" transform="translate(345.60 156.90) scale(0.819 0.732) translate(-346.20 -156.35)" fill="#7a7a7a" opacity="1" filter="url(#b05)"/>
<path d="M331.30 158.50 C331.30 153.95 333.75 151.50 338.30 151.20 L353.40 147.46 C358.30 147.03 361.10 149.30 361.10 153.85 C361.10 161.65 357.25 165.50 351.65 165.50 L338.30 165.50 C333.75 165.50 331.30 163.05 331.30 158.50Z" transform="translate(345.60 156.90) scale(0.725 0.590) translate(-346.20 -156.35)" fill="#d8d8d8" opacity="1" filter="url(#b05)"/>
<path d="M331.30 158.50 C331.30 153.95 333.75 151.50 338.30 151.20 L353.40 147.46 C358.30 147.03 361.10 149.30 361.10 153.85 C361.10 161.65 357.25 165.50 351.65 165.50 L338.30 165.50 C333.75 165.50 331.30 163.05 331.30 158.50Z" transform="translate(346.15 156.60) scale(0.449 0.342) translate(-346.20 -156.35)" fill="#b4b4b4" opacity="1" filter="url(#b05)"/>
<ellipse cx="346.7" cy="156.3" rx="3.7" ry="1.4" fill="#444" filter="url(#b05)" transform="rotate(-10 346.7 156.3)"/>
<text x="325.3" y="111.89999999999999" font-size="5.6" text-anchor="start" font-weight="normal" fill="#222" stroke="#222" stroke-width="0" >3.04</text>
<text x="386.5" y="111.89999999999999" font-size="5.6" text-anchor="end" font-weight="normal" fill="#222" stroke="#222" stroke-width="0" >0.32</text>
<text x="325.3" y="168.10000000000002" font-size="5.6" text-anchor="start" font-weight="normal" fill="#222" stroke="#222" stroke-width="0" >96.6</text>
<text x="386.5" y="168.10000000000002" font-size="5.6" text-anchor="end" font-weight="normal" fill="#222" stroke="#222" stroke-width="0" >0.03</text>
<line x1="322.8" y1="110.3" x2="324.1" y2="110.3" stroke="#666" stroke-width="0.5"/>
<text x="321.9" y="111.9" font-size="3.4" text-anchor="end" fill="#555">10<tspan font-size="2.4" dy="-1.4">5</tspan></text>
<line x1="322.8" y1="124.1" x2="324.1" y2="124.1" stroke="#666" stroke-width="0.5"/>
<text x="321.9" y="125.7" font-size="3.4" text-anchor="end" fill="#555">10<tspan font-size="2.4" dy="-1.4">4</tspan></text>
<line x1="322.8" y1="138.3" x2="324.1" y2="138.3" stroke="#666" stroke-width="0.5"/>
<text x="321.9" y="139.9" font-size="3.4" text-anchor="end" fill="#555">10<tspan font-size="2.4" dy="-1.4">3</tspan></text>
<line x1="322.8" y1="152.1" x2="324.1" y2="152.1" stroke="#666" stroke-width="0.5"/>
<text x="321.9" y="153.7" font-size="3.4" text-anchor="end" fill="#555">10<tspan font-size="2.4" dy="-1.4">2</tspan></text>
<line x1="322.8" y1="160.8" x2="324.1" y2="160.8" stroke="#666" stroke-width="0.5"/>
<text x="321.5" y="162.0" font-size="3.4" text-anchor="end" font-weight="normal" fill="#555" stroke="#555" stroke-width="0" >0</text>
<line x1="338.1" y1="169.3" x2="338.1" y2="170.60000000000002" stroke="#666" stroke-width="0.5"/>
<text x="338.1" y="174.5" font-size="3.4" text-anchor="middle" font-weight="normal" fill="#555" stroke="#555" stroke-width="0" >0</text>
<line x1="353.6" y1="169.3" x2="353.6" y2="170.60000000000002" stroke="#666" stroke-width="0.5"/>
<text x="353.6" y="174.9" font-size="3.4" text-anchor="middle" fill="#555">10<tspan font-size="2.4" dy="-1.4">3</tspan></text>
<line x1="368.1" y1="169.3" x2="368.1" y2="170.60000000000002" stroke="#666" stroke-width="0.5"/>
<text x="368.1" y="174.9" font-size="3.4" text-anchor="middle" fill="#555">10<tspan font-size="2.4" dy="-1.4">4</tspan></text>
<line x1="382.1" y1="169.3" x2="382.1" y2="170.60000000000002" stroke="#666" stroke-width="0.5"/>
<text x="382.1" y="174.9" font-size="3.4" text-anchor="middle" fill="#555">10<tspan font-size="2.4" dy="-1.4">5</tspan></text>
<line x1="325.1" y1="170.60000000000002" x2="332.6" y2="170.60000000000002" stroke="#333" stroke-width="0.9"/>
<rect x="403.9" y="106.3" width="63.2" height="63" fill="#fff" stroke="#909090" stroke-width="0.8"/>
<line x1="445.2" y1="106.3" x2="445.2" y2="169.3" stroke="#aaa" stroke-width="0.7"/>
<line x1="403.9" y1="146.1" x2="467.09999999999997" y2="146.1" stroke="#aaa" stroke-width="0.7"/>
<path d="M433.0 143.0h0.5M424.8 136.5h0.5M420.3 145.9h0.5M436.1 147.3h0.5M426.7 147.2h0.5M421.9 131.4h0.5M429.3 132.6h0.5M457.1 142.3h0.5M414.0 152.5h0.5M433.4 143.4h0.5M430.1 134.5h0.5M440.7 142.9h0.5M421.4 136.4h0.5M434.6 133.9h0.5M419.6 129.0h0.5M442.6 148.6h0.5M437.8 141.6h0.5M421.8 138.8h0.5M435.4 129.8h0.5M433.6 145.4h0.5M441.8 134.3h0.5M439.8 141.3h0.5M434.3 150.4h0.5M443.3 132.3h0.5M440.1 147.3h0.5M420.1 144.3h0.5M436.1 135.7h0.5" stroke="#999" stroke-width="0.5" fill="none" opacity="1.0"/>
<path d="M441.7 151.2h0.5M444.3 152.6h0.5M443.4 149.8h0.5M442.6 148.1h0.5M443.9 147.9h0.5M442.6 147.7h0.5M438.4 144.8h0.5M441.8 147.2h0.5M442.9 145.7h0.5M448.2 152.5h0.5M443.7 147.3h0.5M442.6 148.5h0.5M440.4 145.4h0.5M441.9 147.1h0.5M442.4 151.7h0.5M445.1 152.9h0.5M439.7 147.2h0.5M442.8 152.2h0.5M439.2 152.1h0.5M443.3 148.1h0.5M445.8 148.7h0.5M445.1 151.2h0.5M441.5 143.1h0.5M441.6 145.9h0.5M443.6 147.4h0.5M441.1 149.2h0.5M439.6 148.3h0.5M438.6 149.1h0.5M442.1 151.3h0.5M441.1 147.8h0.5M443.5 149.9h0.5M438.9 145.6h0.5M443.4 148.0h0.5M444.0 147.1h0.5M445.5 149.9h0.5M445.2 143.6h0.5M441.0 147.2h0.5M443.4 149.9h0.5M440.7 145.7h0.5M441.6 146.7h0.5M440.5 149.3h0.5M442.1 147.3h0.5M444.2 151.6h0.5M442.5 149.1h0.5M437.6 148.3h0.5M445.6 151.2h0.5M435.7 150.0h0.5M442.5 146.9h0.5M444.3 147.3h0.5M443.8 147.2h0.5M441.6 149.3h0.5M443.6 147.1h0.5M443.6 152.6h0.5M442.7 142.0h0.5M443.5 147.1h0.5M441.6 145.9h0.5M441.9 150.8h0.5M440.4 147.6h0.5M437.5 146.3h0.5M440.8 150.3h0.5M439.0 149.8h0.5M443.0 149.3h0.5M445.5 148.7h0.5M442.1 144.8h0.5M440.4 150.6h0.5M440.9 150.1h0.5M442.9 145.6h0.5M442.9 148.9h0.5M442.3 146.2h0.5M442.0 153.9h0.5M440.5 152.2h0.5M442.3 149.8h0.5M444.0 151.7h0.5M439.7 151.1h0.5M439.0 150.0h0.5M442.7 150.7h0.5M442.7 150.6h0.5M445.0 148.0h0.5M440.3 151.5h0.5M443.0 148.9h0.5M444.3 146.4h0.5M443.2 151.5h0.5M443.0 148.4h0.5M441.9 149.0h0.5M439.2 146.7h0.5M442.7 147.3h0.5M442.0 145.6h0.5M443.4 147.4h0.5M442.7 147.7h0.5M438.8 148.7h0.5M444.5 154.0h0.5M442.8 145.0h0.5M439.6 144.5h0.5M441.0 148.9h0.5M441.8 148.6h0.5M444.2 148.0h0.5M443.5 146.2h0.5M441.4 149.1h0.5M442.7 149.1h0.5M439.5 146.3h0.5M446.2 148.0h0.5M444.8 148.6h0.5M438.9 152.2h0.5M445.1 144.8h0.5M446.7 148.4h0.5M445.4 151.1h0.5M443.5 148.4h0.5M437.6 145.9h0.5M439.9 150.0h0.5M445.7 147.2h0.5M444.5 149.9h0.5M438.3 148.8h0.5M443.6 147.3h0.5M442.4 152.9h0.5M443.3 148.5h0.5M444.2 144.9h0.5M444.8 147.8h0.5M440.5 147.0h0.5M439.2 151.2h0.5M439.3 147.9h0.5M443.9 146.2h0.5M446.0 148.4h0.5M444.6 147.5h0.5M443.3 148.5h0.5M438.8 149.6h0.5M441.6 149.6h0.5M444.3 147.3h0.5M441.3 152.1h0.5M444.4 147.6h0.5M442.5 151.4h0.5M440.8 150.5h0.5M443.7 146.2h0.5M441.9 151.0h0.5M439.7 144.3h0.5M444.3 152.1h0.5M440.1 146.1h0.5M442.8 147.7h0.5M438.0 145.9h0.5M440.2 150.0h0.5M443.3 144.9h0.5M445.8 149.9h0.5M444.0 144.8h0.5M445.0 146.9h0.5M443.2 145.2h0.5M442.9 151.7h0.5M444.0 153.2h0.5M442.0 152.6h0.5M440.9 143.1h0.5M441.6 150.5h0.5M441.8 146.4h0.5M443.7 146.6h0.5M444.3 152.4h0.5M443.0 148.1h0.5M447.8 151.1h0.5M442.9 150.4h0.5M440.7 154.3h0.5M437.9 150.2h0.5M442.4 146.5h0.5M443.5 144.7h0.5M442.7 147.8h0.5" stroke="#444" stroke-width="0.5" fill="none" opacity="1.0"/>
<path d="M429.7 154.1h0.6M430.9 162.7h0.6M429.0 153.3h0.6M430.8 156.0h0.6M429.3 153.7h0.6M439.1 150.8h0.6M430.8 150.9h0.6M428.5 153.9h0.6M434.3 146.7h0.6M448.4 152.7h0.6M409.5 152.5h0.6M420.7 159.2h0.6M427.7 157.9h0.6M433.1 155.0h0.6M434.1 155.4h0.6M427.0 159.8h0.6M418.7 153.0h0.6M413.8 150.0h0.6M420.7 152.2h0.6M440.7 150.1h0.6M419.9 156.4h0.6M427.6 153.5h0.6M425.2 157.7h0.6M431.7 150.2h0.6M439.0 146.4h0.6M421.3 163.3h0.6M427.1 153.0h0.6M410.6 159.2h0.6M421.3 143.6h0.6M437.4 149.9h0.6M420.1 153.8h0.6M426.9 157.7h0.6M432.1 164.0h0.6M416.9 147.3h0.6M427.0 160.6h0.6M411.0 155.7h0.6M419.5 151.2h0.6M424.9 147.2h0.6M425.9 159.3h0.6M434.8 162.1h0.6M431.2 155.1h0.6M424.6 148.3h0.6M429.6 151.1h0.6M414.9 160.6h0.6M429.5 146.0h0.6M411.2 150.1h0.6M412.0 159.1h0.6M418.0 154.8h0.6M430.3 160.1h0.6M426.5 161.9h0.6M432.2 159.3h0.6M423.1 162.1h0.6M421.8 147.7h0.6M423.7 149.6h0.6M410.6 149.3h0.6M436.1 154.4h0.6M447.5 155.6h0.6M444.7 161.0h0.6M422.3 158.8h0.6M429.6 156.7h0.6M424.2 154.3h0.6M425.1 158.7h0.6M413.4 157.5h0.6M437.4 152.0h0.6M431.0 158.4h0.6M427.1 150.7h0.6M421.3 159.3h0.6M419.3 153.5h0.6M429.9 152.7h0.6M418.0 153.2h0.6M425.9 152.6h0.6M422.0 157.7h0.6M425.6 146.4h0.6M437.6 150.6h0.6M434.6 155.9h0.6M424.4 151.8h0.6M432.2 156.9h0.6M426.0 150.5h0.6M439.6 159.1h0.6M434.3 157.8h0.6M428.1 162.0h0.6M424.4 161.2h0.6M429.5 157.6h0.6M412.4 149.1h0.6M425.8 163.3h0.6M426.7 155.2h0.6M432.7 152.8h0.6M430.7 152.2h0.6M429.2 152.0h0.6M422.7 152.9h0.6M427.3 160.4h0.6M420.8 149.3h0.6M428.3 155.8h0.6M414.3 152.3h0.6M423.2 157.1h0.6M420.6 153.7h0.6M413.2 149.0h0.6M407.6 153.5h0.6M407.2 155.4h0.6M422.4 159.5h0.6M422.9 148.5h0.6M422.7 155.2h0.6M436.2 153.5h0.6M421.6 155.0h0.6M432.7 161.0h0.6M426.7 160.5h0.6M421.2 145.5h0.6M428.4 164.2h0.6M428.6 157.2h0.6M431.5 163.9h0.6M413.8 157.5h0.6M416.5 164.4h0.6M420.8 153.8h0.6M430.8 162.5h0.6M419.3 157.6h0.6M426.8 160.5h0.6M441.1 151.7h0.6M430.6 159.4h0.6M429.2 152.0h0.6M429.8 166.9h0.6M434.8 153.5h0.6M418.2 158.3h0.6M421.2 158.7h0.6M429.0 155.5h0.6M443.3 157.0h0.6M418.9 151.1h0.6M425.5 153.6h0.6M434.2 156.2h0.6M442.3 156.4h0.6M421.1 151.0h0.6M423.3 157.4h0.6M429.9 153.9h0.6M428.4 147.7h0.6M416.1 159.7h0.6M424.8 157.6h0.6M415.4 158.4h0.6M426.0 167.7h0.6M437.7 146.2h0.6M444.1 153.4h0.6M429.5 163.9h0.6M422.5 148.9h0.6M420.3 157.5h0.6M438.8 161.3h0.6M420.7 152.2h0.6M437.5 153.7h0.6M427.1 150.8h0.6M418.2 157.9h0.6M447.9 149.3h0.6M422.3 161.4h0.6M424.5 160.9h0.6M423.8 150.3h0.6M426.9 147.9h0.6M423.5 159.8h0.6M415.1 155.2h0.6M425.1 168.7h0.6M409.1 157.2h0.6M425.2 154.1h0.6M426.9 155.7h0.6M438.8 153.9h0.6M416.5 148.7h0.6M416.8 151.8h0.6M414.4 151.0h0.6M427.9 154.9h0.6M420.3 154.4h0.6M420.8 153.9h0.6M420.7 155.2h0.6M426.7 160.0h0.6M424.2 150.4h0.6M414.9 163.4h0.6M421.5 153.2h0.6M424.4 141.6h0.6M440.1 157.5h0.6M433.4 154.4h0.6M425.9 153.9h0.6M430.5 141.6h0.6M431.9 152.6h0.6M414.1 155.0h0.6M436.8 160.8h0.6M439.5 157.3h0.6M433.7 157.3h0.6M416.6 156.2h0.6M424.5 159.0h0.6M421.1 155.9h0.6M434.7 158.9h0.6M417.9 157.6h0.6M425.2 158.6h0.6M436.6 159.7h0.6M415.4 166.2h0.6M429.6 155.8h0.6M432.4 150.9h0.6M431.7 153.9h0.6M426.8 150.9h0.6M420.2 156.2h0.6M426.4 155.5h0.6M427.9 162.2h0.6M444.1 154.6h0.6M421.6 145.0h0.6M427.6 162.4h0.6M415.6 154.8h0.6M420.8 150.2h0.6M450.9 151.2h0.6M425.0 157.1h0.6M424.7 158.7h0.6M435.5 155.6h0.6M414.0 146.3h0.6M419.0 160.2h0.6M429.6 153.1h0.6M427.4 159.0h0.6M437.8 162.9h0.6M443.6 158.7h0.6M421.8 153.2h0.6M430.2 153.9h0.6M418.3 158.4h0.6M429.6 156.1h0.6M421.0 153.4h0.6M427.2 159.3h0.6M405.1 153.4h0.6M429.0 150.8h0.6M434.5 154.7h0.6M419.7 160.7h0.6M435.0 155.6h0.6M416.2 163.3h0.6M428.0 163.1h0.6M432.1 157.7h0.6M415.8 164.5h0.6M429.1 154.2h0.6M415.7 154.8h0.6M407.1 155.4h0.6M429.8 153.5h0.6M443.3 155.5h0.6M426.6 167.7h0.6M430.6 151.4h0.6M408.4 152.9h0.6M435.6 149.7h0.6M435.9 146.4h0.6M434.3 153.1h0.6M421.1 158.2h0.6M422.1 148.2h0.6M421.3 155.9h0.6M433.3 157.7h0.6M420.4 153.2h0.6M425.7 152.1h0.6M437.5 154.6h0.6M422.2 149.9h0.6M444.4 156.3h0.6M425.5 154.5h0.6M439.1 156.6h0.6M427.9 145.7h0.6M421.7 157.9h0.6M437.9 168.5h0.6M433.9 153.2h0.6M428.9 159.1h0.6M422.7 159.5h0.6M434.0 156.9h0.6M423.0 155.9h0.6M422.6 155.5h0.6M436.5 158.7h0.6M436.4 153.5h0.6M424.0 151.4h0.6M430.8 154.4h0.6M417.6 153.2h0.6M441.9 156.2h0.6M426.1 153.5h0.6M436.8 149.9h0.6M421.5 152.6h0.6M431.3 162.9h0.6M427.4 159.9h0.6M413.9 153.3h0.6M417.3 158.5h0.6M416.8 147.7h0.6M433.3 146.8h0.6M420.7 152.3h0.6M414.0 154.4h0.6M429.5 161.6h0.6M423.0 151.8h0.6M427.6 156.2h0.6M429.2 164.0h0.6M407.8 160.0h0.6M425.3 151.5h0.6M419.5 151.8h0.6M431.3 166.8h0.6M420.9 163.7h0.6M430.8 153.8h0.6M438.4 143.8h0.6M430.4 157.7h0.6M429.6 145.4h0.6M432.6 154.9h0.6M428.4 159.8h0.6M412.2 161.9h0.6M438.4 158.8h0.6M420.4 155.0h0.6M412.0 149.9h0.6M429.2 159.1h0.6M427.5 151.3h0.6M421.6 157.7h0.6M440.0 156.1h0.6M439.7 155.2h0.6M433.7 155.8h0.6M421.2 152.8h0.6M436.3 156.3h0.6M412.6 160.8h0.6M433.8 157.5h0.6M435.9 157.0h0.6M428.8 151.5h0.6M428.5 160.0h0.6M428.5 147.6h0.6M443.0 158.4h0.6M421.2 150.3h0.6M427.1 147.0h0.6M424.5 161.2h0.6M422.3 152.4h0.6M431.1 158.9h0.6M416.7 158.9h0.6M435.7 151.4h0.6M441.0 150.6h0.6M434.6 158.0h0.6M431.8 153.6h0.6M425.9 164.8h0.6M417.2 153.9h0.6M445.4 155.2h0.6M422.7 162.7h0.6M424.4 152.1h0.6M423.0 156.8h0.6M429.9 156.7h0.6M420.0 160.8h0.6M447.9 157.4h0.6M414.4 148.5h0.6M426.8 155.1h0.6M418.2 155.8h0.6M425.7 156.7h0.6M417.1 150.1h0.6M422.5 154.2h0.6M419.8 160.1h0.6M425.7 144.9h0.6M422.8 160.2h0.6M421.2 150.8h0.6M424.8 144.4h0.6M419.7 157.4h0.6M432.6 160.1h0.6M434.4 154.8h0.6M431.0 163.3h0.6M425.0 159.1h0.6M429.0 160.1h0.6M427.8 161.0h0.6M424.9 151.5h0.6M425.8 153.5h0.6M434.6 159.4h0.6M425.8 152.4h0.6M433.8 155.7h0.6M425.8 163.3h0.6M430.7 159.0h0.6M423.9 148.2h0.6M436.2 158.8h0.6M440.8 156.1h0.6M421.2 141.2h0.6M431.6 155.1h0.6M419.6 154.7h0.6M441.1 154.4h0.6M429.8 160.1h0.6M434.7 146.5h0.6M425.3 156.6h0.6M423.2 148.1h0.6M427.1 152.5h0.6M434.9 160.3h0.6M427.4 159.8h0.6M430.8 149.8h0.6M432.4 156.9h0.6M431.5 155.8h0.6M423.2 158.7h0.6M433.2 161.9h0.6M442.4 156.9h0.6M430.9 159.5h0.6M432.8 153.1h0.6M433.8 159.1h0.6M438.1 157.0h0.6M413.6 151.9h0.6M431.2 154.0h0.6M427.2 150.9h0.6M422.6 156.1h0.6M441.3 149.7h0.6M421.0 158.9h0.6M425.2 156.1h0.6M438.9 162.8h0.6M417.0 150.5h0.6M427.5 163.5h0.6M416.9 157.2h0.6M425.8 150.9h0.6M411.9 156.8h0.6M404.6 145.3h0.6M435.0 151.5h0.6M424.9 160.3h0.6M430.1 161.7h0.6M436.4 153.4h0.6M429.8 150.5h0.6M429.2 152.7h0.6M416.7 154.9h0.6M428.5 162.2h0.6M429.8 159.9h0.6M419.9 159.7h0.6M431.9 157.8h0.6M420.6 153.1h0.6M433.2 164.8h0.6M420.1 157.2h0.6M420.4 145.9h0.6M431.9 158.3h0.6M435.6 150.6h0.6M434.5 164.5h0.6M430.5 149.0h0.6M439.7 158.5h0.6M427.4 161.1h0.6M435.0 154.2h0.6M421.6 151.8h0.6M430.6 146.4h0.6M408.5 160.5h0.6M425.0 155.7h0.6M420.4 158.8h0.6M423.7 159.3h0.6M422.6 150.9h0.6M430.5 155.9h0.6M428.8 152.2h0.6M427.0 156.0h0.6M427.3 160.2h0.6M429.7 160.6h0.6M431.1 161.5h0.6M421.5 156.2h0.6M418.6 158.0h0.6M439.9 156.4h0.6M425.2 159.7h0.6M425.5 157.7h0.6M442.0 153.7h0.6M425.3 157.2h0.6M428.2 154.9h0.6M410.2 156.9h0.6M421.7 164.5h0.6M438.5 151.0h0.6M442.6 151.7h0.6M433.0 164.7h0.6M419.0 144.8h0.6M433.4 154.9h0.6M427.7 158.4h0.6M437.4 160.8h0.6M423.4 159.8h0.6M426.0 154.1h0.6M431.9 164.9h0.6M411.0 157.4h0.6M417.5 158.7h0.6M419.5 161.7h0.6M418.4 159.1h0.6M443.2 160.4h0.6M431.7 153.6h0.6M437.2 143.5h0.6M424.2 166.5h0.6M425.7 154.0h0.6M423.5 155.3h0.6M405.2 154.0h0.6M438.5 154.9h0.6M425.0 156.4h0.6M420.9 149.2h0.6M430.6 164.5h0.6M436.7 162.2h0.6M431.0 156.5h0.6M420.8 154.0h0.6M442.5 150.6h0.6M433.9 146.1h0.6M438.9 155.4h0.6M423.5 165.0h0.6M423.8 151.9h0.6M438.2 156.1h0.6M420.3 144.3h0.6M426.2 161.8h0.6M428.3 155.1h0.6M409.1 160.2h0.6M418.9 163.6h0.6M409.3 147.0h0.6M416.8 150.9h0.6M437.3 153.7h0.6M425.4 153.8h0.6M435.9 156.2h0.6M442.4 160.5h0.6M426.9 164.2h0.6M406.8 152.8h0.6M431.6 153.1h0.6M421.2 153.4h0.6M434.2 152.6h0.6M419.7 167.0h0.6M430.9 160.0h0.6M419.3 157.9h0.6M430.8 148.7h0.6M428.9 149.4h0.6M430.7 159.5h0.6M439.1 159.7h0.6M444.1 155.8h0.6M409.5 154.9h0.6M428.1 143.2h0.6M414.3 162.2h0.6M436.6 151.8h0.6M424.9 152.5h0.6M422.1 152.8h0.6M418.3 155.1h0.6M405.0 159.0h0.6M415.4 151.6h0.6M432.9 152.3h0.6M429.8 146.0h0.6M416.8 154.2h0.6M428.8 154.2h0.6M436.6 164.1h0.6M419.9 150.1h0.6M434.3 162.5h0.6M440.5 156.5h0.6M424.9 157.5h0.6M422.7 165.1h0.6M429.1 159.7h0.6M431.3 155.9h0.6M436.2 155.2h0.6M432.9 163.8h0.6M443.9 156.1h0.6M433.6 157.7h0.6M431.9 155.4h0.6M425.6 158.4h0.6M406.7 160.4h0.6M434.1 154.1h0.6M442.0 158.8h0.6M426.5 161.8h0.6M436.6 156.0h0.6M419.1 146.9h0.6M430.7 156.4h0.6M417.1 163.4h0.6M439.3 158.9h0.6M428.8 145.7h0.6M425.2 155.9h0.6M430.1 158.1h0.6M439.9 155.8h0.6M434.4 147.1h0.6M434.5 162.5h0.6M409.0 159.2h0.6M420.3 164.1h0.6M420.0 151.0h0.6M419.9 157.4h0.6M420.9 154.7h0.6M435.4 158.5h0.6M426.3 160.2h0.6M428.5 146.8h0.6M438.2 147.3h0.6M435.6 149.7h0.6M426.1 160.0h0.6M419.7 156.5h0.6M442.1 156.4h0.6M430.7 150.5h0.6M422.8 158.5h0.6M429.0 151.6h0.6M418.2 150.0h0.6M421.5 161.1h0.6M425.0 152.6h0.6M434.9 162.9h0.6M432.3 159.1h0.6M432.8 157.3h0.6M428.1 158.9h0.6M423.3 156.7h0.6M436.4 153.3h0.6M420.3 152.2h0.6M417.9 157.5h0.6M422.8 164.8h0.6M430.4 155.1h0.6M424.0 154.3h0.6M410.3 157.8h0.6M421.6 146.1h0.6M431.1 160.6h0.6M437.9 148.5h0.6M428.9 159.7h0.6M413.8 153.2h0.6M429.7 164.7h0.6M439.5 153.5h0.6M435.2 152.6h0.6M424.2 151.8h0.6M426.7 162.5h0.6M432.5 160.7h0.6M442.6 154.8h0.6M434.1 156.6h0.6M429.5 154.6h0.6M423.4 160.4h0.6M438.3 154.4h0.6M433.0 161.7h0.6M418.1 146.2h0.6M436.9 146.8h0.6M442.2 158.5h0.6M442.3 151.5h0.6M430.4 161.7h0.6M428.6 162.3h0.6M424.1 151.0h0.6M431.9 163.3h0.6M433.8 153.5h0.6M427.6 152.7h0.6M425.1 156.1h0.6M425.8 157.6h0.6M432.9 145.6h0.6M432.9 155.2h0.6M420.4 152.9h0.6M437.8 154.1h0.6M429.7 158.6h0.6M417.9 157.0h0.6M419.6 156.3h0.6M429.4 152.4h0.6M437.6 154.9h0.6M417.8 167.7h0.6M411.9 163.3h0.6M435.1 161.3h0.6M420.5 152.1h0.6M440.1 163.4h0.6M429.3 159.7h0.6M426.4 152.0h0.6M421.1 158.1h0.6M428.6 151.1h0.6M429.7 162.0h0.6M429.4 158.6h0.6M417.7 151.5h0.6M427.4 155.3h0.6M433.0 156.6h0.6M413.9 152.7h0.6M437.7 156.9h0.6M421.1 162.1h0.6M431.7 155.6h0.6M430.6 157.1h0.6M433.6 159.9h0.6M437.6 153.8h0.6M426.0 154.6h0.6M419.6 155.8h0.6M428.0 164.5h0.6M432.2 144.9h0.6M432.1 153.3h0.6M430.5 158.2h0.6M415.9 155.8h0.6M439.4 150.3h0.6M420.7 157.4h0.6M434.8 154.3h0.6M418.8 158.5h0.6M432.3 154.3h0.6M426.3 163.8h0.6M434.6 162.9h0.6M421.2 155.2h0.6M433.5 161.0h0.6M419.5 162.7h0.6M437.0 150.7h0.6M431.7 150.9h0.6M421.8 145.7h0.6M431.3 158.7h0.6M424.9 156.0h0.6M405.3 152.5h0.6M427.8 154.1h0.6M428.1 144.5h0.6M423.4 164.2h0.6M424.9 150.3h0.6M436.8 152.9h0.6M435.4 162.0h0.6M423.1 157.7h0.6M416.5 152.7h0.6M429.7 152.1h0.6M439.5 157.3h0.6M412.2 163.2h0.6M432.3 155.2h0.6M429.3 160.4h0.6M424.5 164.5h0.6M421.1 152.7h0.6M436.8 158.8h0.6M429.9 151.9h0.6M431.2 158.1h0.6M433.2 159.8h0.6M431.0 166.0h0.6M417.8 154.8h0.6M425.7 156.3h0.6M423.6 147.3h0.6M430.1 157.8h0.6M443.9 149.7h0.6M426.1 149.9h0.6M423.4 161.9h0.6M425.6 159.4h0.6M422.0 157.0h0.6M428.2 159.6h0.6M416.8 161.1h0.6M426.2 154.6h0.6M437.4 158.8h0.6M410.1 160.8h0.6M423.5 154.0h0.6M430.9 160.9h0.6M421.0 156.9h0.6M428.2 154.8h0.6M414.8 144.4h0.6M416.5 158.8h0.6M429.0 160.9h0.6M446.2 153.0h0.6M435.5 155.6h0.6M421.2 163.6h0.6M415.6 159.5h0.6M423.0 157.5h0.6M449.4 155.3h0.6" stroke="#333" stroke-width="0.6" fill="none" opacity="1.0"/>
<path d="M410.80 157.90 C410.80 153.54 413.15 151.20 417.50 150.92 L435.63 147.44 C440.32 147.04 443.00 149.21 443.00 153.56 C443.00 160.91 439.31 164.60 433.95 164.60 L417.50 164.60 C413.15 164.60 410.80 162.25 410.80 157.90Z" transform="translate(426.90 155.90) scale(1.019 1.034) translate(-426.90 -155.90)" fill="#3a3a3a" opacity="0.8" filter="url(#b1)"/>
<path d="M410.80 157.90 C410.80 153.54 413.15 151.20 417.50 150.92 L435.63 147.44 C440.32 147.04 443.00 149.21 443.00 153.56 C443.00 160.91 439.31 164.60 433.95 164.60 L417.50 164.60 C413.15 164.60 410.80 162.25 410.80 157.90Z" transform="translate(426.90 155.90) scale(1.037 1.069) translate(-426.90 -155.90)" fill="none" stroke="#2a2a2a" stroke-width="1.5" stroke-dasharray="0.5 0.6"/>
<path d="M410.80 157.90 C410.80 153.54 413.15 151.20 417.50 150.92 L435.63 147.44 C440.32 147.04 443.00 149.21 443.00 153.56 C443.00 160.91 439.31 164.60 433.95 164.60 L417.50 164.60 C413.15 164.60 410.80 162.25 410.80 157.90Z" transform="translate(426.90 155.90) scale(0.981 0.966) translate(-426.90 -155.90)" fill="#1e1e1e" opacity="1" filter="url(#b05)"/>
<path d="M410.80 157.90 C410.80 153.54 413.15 151.20 417.50 150.92 L435.63 147.44 C440.32 147.04 443.00 149.21 443.00 153.56 C443.00 160.91 439.31 164.60 433.95 164.60 L417.50 164.60 C413.15 164.60 410.80 162.25 410.80 157.90Z" transform="translate(426.50 156.70) scale(0.807 0.655) translate(-426.90 -155.90)" fill="#7a7a7a" opacity="1" filter="url(#b05)"/>
<path d="M410.80 157.90 C410.80 153.54 413.15 151.20 417.50 150.92 L435.63 147.44 C440.32 147.04 443.00 149.21 443.00 153.56 C443.00 160.91 439.31 164.60 433.95 164.60 L417.50 164.60 C413.15 164.60 410.80 162.25 410.80 157.90Z" transform="translate(426.50 156.70) scale(0.720 0.506) translate(-426.90 -155.90)" fill="#d8d8d8" opacity="1" filter="url(#b05)"/>
<path d="M410.80 157.90 C410.80 153.54 413.15 151.20 417.50 150.92 L435.63 147.44 C440.32 147.04 443.00 149.21 443.00 153.56 C443.00 160.91 439.31 164.60 433.95 164.60 L417.50 164.60 C413.15 164.60 410.80 162.25 410.80 157.90Z" transform="translate(429.70 156.05) scale(0.447 0.293) translate(-426.90 -155.90)" fill="#b4b4b4" opacity="1" filter="url(#b05)"/>
<ellipse cx="432.9" cy="155.4" rx="3.9" ry="1.1" fill="#444" filter="url(#b05)" transform="rotate(-10 432.9 155.4)"/>
<text x="405.09999999999997" y="111.89999999999999" font-size="5.6" text-anchor="start" font-weight="normal" fill="#222" stroke="#222" stroke-width="0" >0.026</text>
<text x="466.29999999999995" y="111.89999999999999" font-size="5.6" text-anchor="end" font-weight="normal" fill="#222" stroke="#222" stroke-width="0" >3.38e-4</text>
<text x="405.09999999999997" y="168.10000000000002" font-size="5.6" text-anchor="start" font-weight="normal" fill="#222" stroke="#222" stroke-width="0" >100</text>
<text x="466.29999999999995" y="168.10000000000002" font-size="5.6" text-anchor="end" font-weight="normal" fill="#222" stroke="#222" stroke-width="0" >0.018</text>
<line x1="402.59999999999997" y1="110.3" x2="403.9" y2="110.3" stroke="#666" stroke-width="0.5"/>
<text x="401.7" y="111.9" font-size="3.4" text-anchor="end" fill="#555">10<tspan font-size="2.4" dy="-1.4">5</tspan></text>
<line x1="402.59999999999997" y1="124.1" x2="403.9" y2="124.1" stroke="#666" stroke-width="0.5"/>
<text x="401.7" y="125.7" font-size="3.4" text-anchor="end" fill="#555">10<tspan font-size="2.4" dy="-1.4">4</tspan></text>
<line x1="402.59999999999997" y1="138.3" x2="403.9" y2="138.3" stroke="#666" stroke-width="0.5"/>
<text x="401.7" y="139.9" font-size="3.4" text-anchor="end" fill="#555">10<tspan font-size="2.4" dy="-1.4">3</tspan></text>
<line x1="402.59999999999997" y1="152.1" x2="403.9" y2="152.1" stroke="#666" stroke-width="0.5"/>
<text x="401.7" y="153.7" font-size="3.4" text-anchor="end" fill="#555">10<tspan font-size="2.4" dy="-1.4">2</tspan></text>
<line x1="402.59999999999997" y1="160.8" x2="403.9" y2="160.8" stroke="#666" stroke-width="0.5"/>
<text x="401.29999999999995" y="162.0" font-size="3.4" text-anchor="end" font-weight="normal" fill="#555" stroke="#555" stroke-width="0" >0</text>
<line x1="417.9" y1="169.3" x2="417.9" y2="170.60000000000002" stroke="#666" stroke-width="0.5"/>
<text x="417.9" y="174.5" font-size="3.4" text-anchor="middle" font-weight="normal" fill="#555" stroke="#555" stroke-width="0" >0</text>
<line x1="433.4" y1="169.3" x2="433.4" y2="170.60000000000002" stroke="#666" stroke-width="0.5"/>
<text x="433.4" y="174.9" font-size="3.4" text-anchor="middle" fill="#555">10<tspan font-size="2.4" dy="-1.4">3</tspan></text>
<line x1="447.9" y1="169.3" x2="447.9" y2="170.60000000000002" stroke="#666" stroke-width="0.5"/>
<text x="447.9" y="174.9" font-size="3.4" text-anchor="middle" fill="#555">10<tspan font-size="2.4" dy="-1.4">4</tspan></text>
<line x1="461.9" y1="169.3" x2="461.9" y2="170.60000000000002" stroke="#666" stroke-width="0.5"/>
<text x="461.9" y="174.9" font-size="3.4" text-anchor="middle" fill="#555">10<tspan font-size="2.4" dy="-1.4">5</tspan></text>
<line x1="404.9" y1="170.60000000000002" x2="412.4" y2="170.60000000000002" stroke="#333" stroke-width="0.9"/>
<text x="273.9" y="24.2" font-size="8.4" text-anchor="middle" font-weight="normal" fill="#000" stroke="#000" stroke-width="0.13" >M45-HGIRNASFI</text>
<text x="355" y="24.2" font-size="8.4" text-anchor="middle" font-weight="normal" fill="#000" stroke="#000" stroke-width="0.13" >M139-TVYGFCLL</text>
<text x="436" y="24.2" font-size="8.5" text-anchor="middle" font-weight="normal" fill="#000" stroke="#000" stroke-width="0.13" >Control</text>
<text x="226.4" y="66.6" font-size="10.7" text-anchor="end" font-weight="normal" fill="#000" stroke="#000" stroke-width="0.13" >Tg</text>
<text x="226.4" y="146" font-size="10.7" text-anchor="end" font-weight="normal" fill="#000" stroke="#000" stroke-width="0.13" >Non-Tg</text>
<line x1="229.2" y1="25" x2="229.2" y2="87.7" stroke="#111" stroke-width="1.2"/>
<line x1="229.2" y1="108.2" x2="229.2" y2="183.6" stroke="#111" stroke-width="1.2"/>
<text transform="translate(231 98.3) rotate(-90)" font-size="6.6" text-anchor="middle" fill="#222">IFN-γ</text>
<line x1="228.6" y1="183" x2="346.3" y2="183" stroke="#111" stroke-width="1.1"/>
<text x="357" y="185.4" font-size="6.8" text-anchor="middle" font-weight="normal" fill="#333" stroke="#333" stroke-width="0.08" >TNF-α</text>
<line x1="368" y1="183" x2="467.7" y2="183" stroke="#111" stroke-width="1.1"/>
<line x1="32" y1="219.5" x2="32" y2="309.5" stroke="#777" stroke-width="1.1"/>
<line x1="31.5" y1="309.5" x2="166.3" y2="309.5" stroke="#666" stroke-width="1.0"/>
<line x1="30.4" y1="219.5" x2="32" y2="219.5" stroke="#666" stroke-width="0.6"/>
<text x="29.7" y="221.7" font-size="6.4" text-anchor="end" font-weight="normal" fill="#000" stroke="#000" stroke-width="0.08" >0.6</text>
<line x1="30.4" y1="264.5" x2="32" y2="264.5" stroke="#666" stroke-width="0.6"/>
<text x="29.7" y="266.7" font-size="6.4" text-anchor="end" font-weight="normal" fill="#000" stroke="#000" stroke-width="0.08" >0.3</text>
<line x1="30.4" y1="309.5" x2="32" y2="309.5" stroke="#666" stroke-width="0.6"/>
<text x="29.7" y="311.7" font-size="6.4" text-anchor="end" font-weight="normal" fill="#000" stroke="#000" stroke-width="0.08" >0</text>
<text x="94.4" y="208.6" font-size="8.4" text-anchor="middle" font-weight="normal" fill="#000" stroke="#000" stroke-width="0.13" >M45-HGIRNASFI</text>
<rect x="45" y="308.2" width="18.799999999999997" height="1.3000000000000114" fill="#999" stroke="#333" stroke-width="0.5"/>
<rect x="90.5" y="233" width="17.900000000000006" height="76.5" fill="#000"/>
<line x1="99.45" y1="229.3" x2="99.45" y2="233" stroke="#111" stroke-width="0.7"/>
<rect x="135" y="306.6" width="18.80000000000001" height="2.8999999999999773" fill="#fff" stroke="#222" stroke-width="0.7"/>
<line x1="144.4" y1="305.6" x2="144.4" y2="306.6" stroke="#111" stroke-width="0.7"/>
<line x1="99.5" y1="225" x2="141.3" y2="225" stroke="#000" stroke-width="1.3"/>
<text x="121.3" y="226.9" font-size="10.5" text-anchor="middle" font-weight="bold" fill="#000" stroke="#000" stroke-width="0.13" letter-spacing="0.6">**</text>
<line x1="201.8" y1="218.8" x2="201.8" y2="308.6" stroke="#777" stroke-width="1.1"/>
<line x1="201.3" y1="308.6" x2="336.3" y2="308.6" stroke="#666" stroke-width="1.0"/>
<line x1="200.20000000000002" y1="218.8" x2="201.8" y2="218.8" stroke="#666" stroke-width="0.6"/>
<text x="199.5" y="221.0" font-size="6.4" text-anchor="end" font-weight="normal" fill="#000" stroke="#000" stroke-width="0.08" >0.6</text>
<line x1="200.20000000000002" y1="263.70000000000005" x2="201.8" y2="263.70000000000005" stroke="#666" stroke-width="0.6"/>
<text x="199.5" y="265.90000000000003" font-size="6.4" text-anchor="end" font-weight="normal" fill="#000" stroke="#000" stroke-width="0.08" >0.3</text>
<line x1="200.20000000000002" y1="308.6" x2="201.8" y2="308.6" stroke="#666" stroke-width="0.6"/>
<text x="199.5" y="310.8" font-size="6.4" text-anchor="end" font-weight="normal" fill="#000" stroke="#000" stroke-width="0.08" >0</text>
<text x="269.4" y="206.6" font-size="8.4" text-anchor="middle" font-weight="normal" fill="#000" stroke="#000" stroke-width="0.13" >M139-TVYGFCLL</text>
<rect x="215" y="307.3" width="18.80000000000001" height="1.3000000000000114" fill="#999" stroke="#333" stroke-width="0.5"/>
<rect x="260" y="238.8" width="18.19999999999999" height="69.80000000000001" fill="#000"/>
<line x1="269.1" y1="227.5" x2="269.1" y2="238.8" stroke="#111" stroke-width="0.7"/>
<rect x="305" y="301" width="18.80000000000001" height="7.600000000000023" fill="#fff" stroke="#222" stroke-width="0.7"/>
<line x1="314.4" y1="299.6" x2="314.4" y2="301" stroke="#111" stroke-width="0.7"/>
<line x1="223.8" y1="215.8" x2="311.3" y2="215.8" stroke="#000" stroke-width="1.3"/>
<text x="270.90000000000003" y="217.70000000000002" font-size="10.5" text-anchor="middle" font-weight="bold" fill="#000" stroke="#000" stroke-width="0.13" letter-spacing="0.6">**</text>
<line x1="269.5" y1="223.8" x2="311.3" y2="223.8" stroke="#000" stroke-width="1.3"/>
<text x="291.2" y="225.70000000000002" font-size="10.5" text-anchor="middle" font-weight="bold" fill="#000" stroke="#000" stroke-width="0.13" letter-spacing="0.6">**</text>
<text x="54.7" y="318.5" font-size="8.45" text-anchor="middle" font-weight="normal" fill="#000" stroke="#000" stroke-width="0.13" >Uninfected</text>
<text x="99.7" y="318.6" font-size="8.6" text-anchor="middle" font-weight="normal" fill="#000" stroke="#000" stroke-width="0.13" >Tg</text>
<text x="145" y="318.6" font-size="8.6" text-anchor="middle" font-weight="normal" fill="#000" stroke="#000" stroke-width="0.13" >Non-Tg</text>
<line x1="86.3" y1="322" x2="166.3" y2="322" stroke="#222" stroke-width="0.8"/>
<text x="120.3" y="329.7" font-size="8.6" text-anchor="middle" font-weight="normal" fill="#000" stroke="#000" stroke-width="0.13" >D6</text>
<text x="223.9" y="317.1" font-size="8.45" text-anchor="middle" font-weight="normal" fill="#000" stroke="#000" stroke-width="0.13" >Uninfected</text>
<text x="269.4" y="317.2" font-size="8.6" text-anchor="middle" font-weight="normal" fill="#000" stroke="#000" stroke-width="0.13" >Tg</text>
<text x="314.4" y="317.2" font-size="8.6" text-anchor="middle" font-weight="normal" fill="#000" stroke="#000" stroke-width="0.13" >Non-Tg</text>
<line x1="256.3" y1="320.3" x2="332.5" y2="320.3" stroke="#222" stroke-width="0.8"/>
<text x="290.3" y="328.4" font-size="8.6" text-anchor="middle" font-weight="normal" fill="#000" stroke="#000" stroke-width="0.13" >D6</text>
<text transform="translate(16.2 317.8) rotate(-90)" font-size="8" fill="#000" stroke="#000" stroke-width="0.12">Specific CD8<tspan font-size="4.8" dy="-2.8">+</tspan><tspan dy="2.8"> T cells (x10</tspan><tspan font-size="4.8" dy="-2.8">6</tspan><tspan dy="2.8">)</tspan></text>
<text transform="translate(185.9 317) rotate(-90)" font-size="8" fill="#000" stroke="#000" stroke-width="0.12">Specific CD8<tspan font-size="4.8" dy="-2.8">+</tspan><tspan dy="2.8"> T cells (x10</tspan><tspan font-size="4.8" dy="-2.8">6</tspan><tspan dy="2.8">)</tspan></text>
<line x1="378.8" y1="215.79999999999998" x2="378.8" y2="308.3" stroke="#444" stroke-width="1.0"/>
<line x1="378.3" y1="308.3" x2="516.3" y2="308.3" stroke="#444" stroke-width="1.0"/>
<line x1="376.8" y1="216.2" x2="378.8" y2="216.2" stroke="#444" stroke-width="0.7"/>
<text x="376.40000000000003" y="218.5" font-size="6.5" text-anchor="end" font-weight="normal" fill="#000" stroke="#000" stroke-width="0.08" >100</text>
<line x1="376.8" y1="262.25" x2="378.8" y2="262.25" stroke="#444" stroke-width="0.7"/>
<text x="376.40000000000003" y="264.55" font-size="6.5" text-anchor="end" font-weight="normal" fill="#000" stroke="#000" stroke-width="0.08" >50</text>
<line x1="376.8" y1="308.3" x2="378.8" y2="308.3" stroke="#444" stroke-width="0.7"/>
<text x="376.40000000000003" y="310.6" font-size="6.5" text-anchor="end" font-weight="normal" fill="#000" stroke="#000" stroke-width="0.08" >0</text>
<line x1="401.5" y1="308.3" x2="401.5" y2="309.8" stroke="#333" stroke-width="0.6"/>
<line x1="424.5" y1="308.3" x2="424.5" y2="309.8" stroke="#333" stroke-width="0.6"/>
<line x1="447.5" y1="308.3" x2="447.5" y2="309.8" stroke="#333" stroke-width="0.6"/>
<line x1="470.5" y1="308.3" x2="470.5" y2="309.8" stroke="#333" stroke-width="0.6"/>
<line x1="493.3" y1="308.3" x2="493.3" y2="309.8" stroke="#333" stroke-width="0.6"/>
<text transform="translate(365.2 310.4) rotate(-90)" font-size="8.2" fill="#000" stroke="#000" stroke-width="0.12">M45-Specific Killing<tspan dx="4.8" letter-spacing="0.3">(%)</tspan></text>
<polyline points="401.5,245.3 447.5,227.6 493.3,268.4" fill="none" stroke="#222" stroke-width="0.8"/>
<polyline points="401.5,289.3 447.5,229.3 493.3,256.8" fill="none" stroke="#222" stroke-width="0.8"/>
<line x1="401.5" y1="238.8" x2="401.5" y2="245" stroke="#222" stroke-width="0.7"/>
<line x1="401.5" y1="284" x2="401.5" y2="289" stroke="#222" stroke-width="0.7"/>
<line x1="493.3" y1="248" x2="493.3" y2="256" stroke="#222" stroke-width="0.7"/>
<rect x="399.3" y="243.10000000000002" width="4.4" height="4.4" fill="#000"/>
<rect x="445.3" y="225.4" width="4.4" height="4.4" fill="#000"/>
<rect x="491.1" y="266.2" width="4.4" height="4.4" fill="#000"/>
<rect x="399.4" y="287.2" width="4.2" height="4.2" fill="#fff" stroke="#333" stroke-width="0.6"/>
<rect x="445.4" y="227.20000000000002" width="4.2" height="4.2" fill="#fff" stroke="#333" stroke-width="0.6"/>
<rect x="491.2" y="254.70000000000002" width="4.2" height="4.2" fill="#fff" stroke="#333" stroke-width="0.6"/>
<rect x="445.3" y="225.8" width="4.4" height="2.2" fill="#000"/>
<rect x="474.3" y="284.8" width="4.2" height="4.2" fill="#000"/>
<rect x="474.5" y="294.2" width="3.8" height="3.8" fill="#fff" stroke="#333" stroke-width="0.6"/>
<text x="481" y="289.3" font-size="8.5" text-anchor="start" font-weight="normal" fill="#000" stroke="#000" stroke-width="0.13" >Tg</text>
<text x="481" y="299.0" font-size="8.5" text-anchor="start" font-weight="normal" fill="#000" stroke="#000" stroke-width="0.13" >Non-Tg</text>
<text x="401.6" y="318.4" font-size="8.8" text-anchor="middle" font-weight="normal" fill="#000" stroke="#000" stroke-width="0.13" >D6</text>
<text x="446.7" y="318.4" font-size="8.8" text-anchor="middle" font-weight="normal" fill="#000" stroke="#000" stroke-width="0.13" >D8</text>
<text x="492.8" y="318.4" font-size="8.8" text-anchor="middle" font-weight="normal" fill="#000" stroke="#000" stroke-width="0.13" >D10</text>
</svg></body></html>
